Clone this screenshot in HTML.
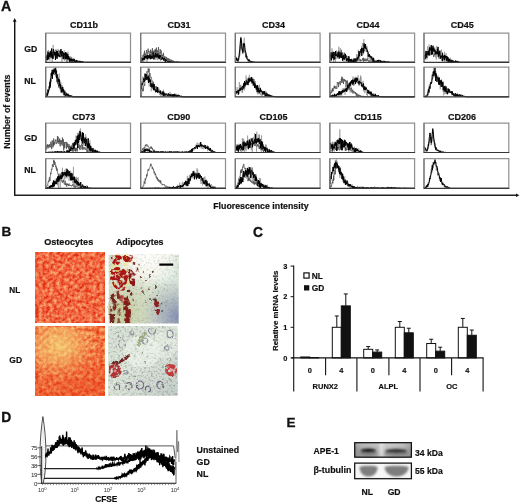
<!DOCTYPE html>
<html><head><meta charset="utf-8"><style>
html,body{margin:0;padding:0;background:#fff;}
svg{display:block;font-family:"Liberation Sans", sans-serif;filter:blur(0.35px);}
</style></head><body>
<svg width="520" height="504" viewBox="0 0 520 504">
<rect width="520" height="504" fill="#fff"/>

<defs>
 <filter id="ostN" x="0" y="0" width="1" height="1" color-interpolation-filters="sRGB">
  <feTurbulence type="fractalNoise" baseFrequency="0.28" numOctaves="3" seed="4"/>
  <feColorMatrix type="matrix" values="1.9 0 0 0 -0.45  1.9 0 0 0 -0.45  1.9 0 0 0 -0.45  0 0 0 0 1"/>
  <feComponentTransfer>
   <feFuncR type="table" tableValues="0.87 0.92 0.95 0.96 0.97"/>
   <feFuncG type="table" tableValues="0.18 0.30 0.41 0.53 0.66"/>
   <feFuncB type="table" tableValues="0.06 0.17 0.26 0.35 0.46"/>
  </feComponentTransfer>
 </filter>
 <filter id="ostG" x="0" y="0" width="1" height="1" color-interpolation-filters="sRGB">
  <feTurbulence type="fractalNoise" baseFrequency="0.28" numOctaves="3" seed="11"/>
  <feColorMatrix type="matrix" values="1.9 0 0 0 -0.45  1.9 0 0 0 -0.45  1.9 0 0 0 -0.45  0 0 0 0 1"/>
  <feComponentTransfer>
   <feFuncR type="table" tableValues="0.89 0.93 0.95 0.96 0.97"/>
   <feFuncG type="table" tableValues="0.24 0.36 0.48 0.60 0.74"/>
   <feFuncB type="table" tableValues="0.08 0.18 0.27 0.36 0.48"/>
  </feComponentTransfer>
 </filter>
 <filter id="grain" x="0" y="0" width="1" height="1" color-interpolation-filters="sRGB">
  <feTurbulence type="fractalNoise" baseFrequency="0.45" numOctaves="2" seed="21"/>
  <feColorMatrix type="matrix" values="0 0 0 0 0.30  0 0 0 0 0.32  0 0 0 0 0.30  1.8 0 0 0 -0.85"/>
 </filter>
 <filter id="rough" x="-20%" y="-20%" width="140%" height="140%">
  <feTurbulence type="fractalNoise" baseFrequency="0.35" numOctaves="2" seed="5"/>
  <feDisplacementMap in="SourceGraphic" scale="3.5" xChannelSelector="R" yChannelSelector="G"/>
 </filter>
 <filter id="mottle2" x="-10%" y="-10%" width="120%" height="120%" color-interpolation-filters="sRGB">
  <feTurbulence type="fractalNoise" baseFrequency="0.35" numOctaves="2" seed="3" result="t"/>
  <feDisplacementMap in="SourceGraphic" in2="t" scale="2.5" xChannelSelector="R" yChannelSelector="G" result="d"/>
  <feTurbulence type="fractalNoise" baseFrequency="0.3" numOctaves="2" seed="27" result="t2"/>
  <feColorMatrix in="t2" type="matrix" values="0 0 0 0 0  0 0 0 0 0  0 0 0 0 0  0 0 5 0 -1.4" result="m"/>
  <feComposite in="d" in2="m" operator="in" result="c"/>
  <feGaussianBlur in="c" stdDeviation="0.45"/>
 </filter>
 <filter id="soft" x="-20%" y="-20%" width="140%" height="140%"><feGaussianBlur stdDeviation="0.6"/></filter>
 <filter id="mottle" x="-10%" y="-10%" width="120%" height="120%" color-interpolation-filters="sRGB">
  <feTurbulence type="fractalNoise" baseFrequency="0.3" numOctaves="2" seed="9" result="t"/>
  <feDisplacementMap in="SourceGraphic" in2="t" scale="3" xChannelSelector="R" yChannelSelector="G" result="d"/>
  <feTurbulence type="fractalNoise" baseFrequency="0.2" numOctaves="2" seed="31" result="t2"/>
  <feColorMatrix in="t2" type="matrix" values="0 0 0 0 0  0 0 0 0 0  0 0 0 0 0  0 0 7 0 -2.6" result="m"/>
  <feComposite in="d" in2="m" operator="in" result="c"/>
  <feGaussianBlur in="c" stdDeviation="0.4"/>
 </filter>
 <radialGradient id="gdYel" cx="0.35" cy="0.28" r="0.55">
  <stop offset="0" stop-color="#f6e080" stop-opacity="0.75"/>
  <stop offset="0.5" stop-color="#f4d078" stop-opacity="0.45"/>
  <stop offset="1" stop-color="#f4c070" stop-opacity="0"/>
 </radialGradient>
 <linearGradient id="gdRed" x1="0" y1="0" x2="0.3" y2="1">
  <stop offset="0.45" stop-color="#e83818" stop-opacity="0"/>
  <stop offset="1" stop-color="#e83818" stop-opacity="0.45"/>
 </linearGradient>
 <linearGradient id="adiN" x1="0" y1="0" x2="0.9" y2="1">
  <stop offset="0" stop-color="#fbf6ea"/>
  <stop offset="0.45" stop-color="#e4e8d8"/>
  <stop offset="0.8" stop-color="#c8d0c4"/>
  <stop offset="1" stop-color="#a0a8c0"/>
 </linearGradient>
 <radialGradient id="adiNw" cx="0.62" cy="0.05" r="0.45">
  <stop offset="0" stop-color="#ffffff" stop-opacity="1"/>
  <stop offset="1" stop-color="#ffffff" stop-opacity="0"/>
 </radialGradient>
 <linearGradient id="adiNb" x1="0.5" y1="0" x2="1" y2="0.3">
  <stop offset="0" stop-color="#9aa6c0" stop-opacity="0"/>
  <stop offset="1" stop-color="#8c9ab8" stop-opacity="0.7"/>
 </linearGradient>
 <linearGradient id="adiG" x1="0" y1="0" x2="1" y2="1">
  <stop offset="0" stop-color="#d8e2d6"/>
  <stop offset="0.5" stop-color="#dde6da"/>
  <stop offset="1" stop-color="#c4ceca"/>
 </linearGradient>
<radialGradient id="nlWhite" cx="0.55" cy="0.0" r="0.5">
  <stop offset="0" stop-color="#ffffff" stop-opacity="1"/>
  <stop offset="0.6" stop-color="#fdfbf4" stop-opacity="0.8"/>
  <stop offset="1" stop-color="#ffffff" stop-opacity="0"/>
 </radialGradient>
 <radialGradient id="nlBlue" cx="1.0" cy="0.9" r="0.55">
  <stop offset="0" stop-color="#8490b4" stop-opacity="1"/>
  <stop offset="1" stop-color="#a0aac0" stop-opacity="0"/>
 </radialGradient>
 <radialGradient id="nlOlive" cx="0.2" cy="0.85" r="0.45">
  <stop offset="0" stop-color="#c0c898" stop-opacity="0.8"/>
  <stop offset="1" stop-color="#c8d0a8" stop-opacity="0"/>
 </radialGradient>
<radialGradient id="nlCyan" cx="0.85" cy="0.3" r="0.4">
  <stop offset="0" stop-color="#e0eee8" stop-opacity="0.9"/>
  <stop offset="1" stop-color="#e0eee8" stop-opacity="0"/>
 </radialGradient>
</defs>

<polyline points="45.70,61.11 45.95,62.23 46.20,58.92 46.45,58.36 46.70,59.38 46.95,58.12 47.20,55.81 47.45,56.36 47.70,56.52 47.95,56.18 48.20,58.42 48.45,54.96 48.70,59.24 48.95,56.80 49.20,56.89 49.45,59.16 49.70,56.10 49.95,52.75 50.20,56.34 50.45,57.87 50.70,55.67 50.95,53.77 51.20,54.93 51.45,55.21 51.70,57.85 51.95,54.02 52.20,53.94 52.45,52.13 52.70,51.71 52.95,53.21 53.20,57.84 53.45,57.33 53.70,56.56 53.95,53.71 54.20,55.96 54.45,51.68 54.70,53.88 54.95,53.66 55.20,52.89 55.45,53.75 55.70,57.34 55.95,49.50 56.20,51.54 56.45,51.44 56.70,56.06 56.95,58.31 57.20,57.63 57.45,56.74 57.70,52.86 57.95,52.84 58.20,51.75 58.45,50.40 58.70,53.67 58.95,54.03 59.20,55.48 59.45,55.45 59.70,57.11 59.95,53.80 60.20,54.21 60.45,55.67 60.70,56.49 60.95,54.00 61.20,52.35 61.45,54.79 61.70,54.41 61.95,56.07 62.20,55.50 62.45,55.65 62.70,55.61 62.95,56.24 63.20,54.32 63.45,52.58 63.70,56.98 63.95,52.43 64.20,55.96 64.45,55.91 64.70,59.39 64.95,59.92 65.20,53.84 65.45,57.38 65.70,53.75 65.95,55.40 66.20,55.23 66.45,53.45 66.70,56.23 66.95,62.12 67.20,59.55 67.45,55.03 67.70,53.53 67.95,57.26 68.20,58.44 68.45,59.72 68.70,56.85 68.95,60.64 69.20,59.96 69.45,58.10 69.70,58.36 69.95,59.06 70.20,57.47 70.45,60.72 70.70,60.80 70.95,59.92 71.20,59.42 71.45,60.00 71.70,57.36 71.95,60.49 72.20,59.18 72.45,60.65 72.70,59.75 72.95,60.67 73.20,60.70 73.45,58.77 73.70,60.83 73.95,58.97 74.20,61.38 74.45,61.22 74.70,59.95 74.95,62.30 75.20,62.30 75.45,61.19 75.70,60.95 75.95,60.93 76.20,61.61 76.45,62.30 76.70,60.91 76.95,61.22 77.20,62.27 77.45,61.54 77.70,60.55 77.95,61.60 78.20,62.30 78.45,61.99 78.70,61.99 78.95,61.67 79.20,61.45 79.45,62.30 79.70,62.25 79.95,61.60 80.20,61.78 80.45,61.64 80.70,62.30 80.95,62.30 81.20,62.00 81.45,62.30 81.70,62.30 81.95,62.30 82.20,62.30 82.45,62.30 82.70,62.30 82.95,62.30 83.20,62.30 83.45,62.30 83.70,62.30 83.95,62.30 84.20,62.30 84.45,62.30 84.70,62.30 84.95,62.30 85.20,62.30 85.45,62.30 85.70,62.30 85.95,62.30 86.20,62.30 86.45,62.30 86.70,62.30 86.95,62.30 87.20,62.30 87.45,62.30 87.70,62.30 87.95,62.30 88.20,62.30 88.45,62.30 88.70,62.30 88.95,62.30 89.20,62.30 89.45,62.30 89.70,62.30 89.95,62.30 90.20,62.30 90.45,62.30 90.70,62.30 90.95,62.30 91.20,62.30 91.45,62.30 91.70,62.30 91.95,62.30 92.20,62.30 92.45,62.30 92.70,62.30 92.95,62.30 93.20,62.30 93.45,62.30 93.70,62.30 93.95,62.30 94.20,62.30 94.45,62.30 94.70,62.30 94.95,62.30 95.20,62.30 95.45,62.30 95.70,62.30 95.95,62.30 96.20,62.30 96.45,62.30 96.70,62.30 96.95,62.30 97.20,62.30 97.45,62.30 97.70,62.30 97.95,62.30 98.20,62.30 98.45,62.30 98.70,62.30 98.95,62.30 99.20,62.30 99.45,62.30 99.70,62.30 99.95,62.30 100.20,62.30 100.45,62.30 100.70,62.30 100.95,62.30 101.20,62.30 101.45,62.30 101.70,62.30 101.95,62.30 102.20,62.30 102.45,62.30 102.70,62.30 102.95,62.30 103.20,62.30 103.45,62.30 103.70,62.30 103.95,62.30 104.20,62.30 104.45,62.30 104.70,62.30 104.95,62.30 105.20,62.30 105.45,62.30 105.70,62.30 105.95,62.30 106.20,62.30 106.45,62.30 106.70,62.30 106.95,62.30 107.20,62.30 107.45,62.30 107.70,62.30 107.95,62.30 108.20,62.30 108.45,62.30 108.70,62.30 108.95,62.30 109.20,62.30 109.45,62.30 109.70,62.30 109.95,62.30 110.20,62.30 110.45,62.30 110.70,62.30 110.95,62.30 111.20,62.30 111.45,62.30 111.70,62.30 111.95,62.30 112.20,62.30 112.45,62.30 112.70,62.30 112.95,62.30 113.20,62.30 113.45,62.30 113.70,62.30 113.95,62.30 114.20,62.30 114.45,62.30 114.70,62.30 114.95,62.30 115.20,62.30 115.45,62.30 115.70,62.30 115.95,62.30 116.20,62.30 116.45,62.30 116.70,62.30 116.95,62.30 117.20,62.30 117.45,62.30 117.70,62.30 117.95,62.30 118.20,62.30 118.45,62.30 118.70,62.30 118.95,62.30 119.20,62.30 119.45,62.30 119.70,62.30 119.95,62.30 120.20,62.30 120.45,62.30 120.70,62.30 120.95,62.30 121.20,62.30 121.45,62.30 121.70,62.30 121.95,62.30 122.20,62.30 122.45,62.30 122.70,62.30 122.95,62.30 123.20,62.30 123.45,62.30 123.70,62.30 123.95,62.30 124.20,62.30 124.45,62.30 124.70,62.30 124.95,62.30 125.20,62.30 125.45,62.30 125.70,62.30 125.95,62.30 126.20,62.30 126.45,62.30 126.70,62.30 126.95,62.30 127.20,62.30 127.45,62.30 127.70,62.30 127.95,62.30 128.20,62.30 128.45,62.30 128.70,62.30 128.95,62.30 129.20,62.30 129.45,62.30 129.70,62.30 129.95,62.30 130.20,62.30 130.45,62.30" fill="none" stroke="#4a4a4a" stroke-width="0.75" stroke-linejoin="miter"/>
<polyline points="45.70,58.48 45.95,59.28 46.20,61.65 46.45,55.84 46.70,57.18 46.95,58.38 47.20,55.16 47.45,57.06 47.70,50.88 47.95,59.48 48.20,53.21 48.45,49.94 48.70,54.32 48.95,55.34 49.20,55.03 49.45,52.46 49.70,58.66 49.95,60.73 50.20,50.77 50.45,52.59 50.70,58.02 50.95,50.28 51.20,50.86 51.45,51.36 51.70,54.05 51.95,54.76 52.20,62.30 52.45,53.93 52.70,57.66 52.95,51.21 53.20,44.90 53.45,58.50 53.70,52.58 53.95,53.62 54.20,54.75 54.45,53.80 54.70,53.36 54.95,53.38 55.20,57.02 55.45,57.94 55.70,54.28 55.95,51.06 56.20,55.21 56.45,53.17 56.70,51.80 56.95,53.93 57.20,55.22 57.45,54.63 57.70,53.75 57.95,49.15 58.20,49.55 58.45,50.29 58.70,57.32 58.95,53.49 59.20,50.31 59.45,55.10 59.70,57.01 59.95,52.95 60.20,50.83 60.45,54.23 60.70,57.72 60.95,53.06 61.20,50.18 61.45,54.88 61.70,55.15 61.95,62.30 62.20,52.43 62.45,51.28 62.70,51.88 62.95,53.19 63.20,54.12 63.45,54.39 63.70,52.19 63.95,58.86 64.20,50.37 64.45,56.80 64.70,60.80 64.95,55.56 65.20,59.85 65.45,58.39 65.70,59.37 65.95,56.69 66.20,53.06 66.45,58.24 66.70,58.34 66.95,57.27 67.20,56.62 67.45,59.72 67.70,55.59 67.95,51.59 68.20,55.70 68.45,58.43 68.70,55.67 68.95,57.91 69.20,59.81 69.45,61.94 69.70,60.86 69.95,58.24 70.20,57.76 70.45,57.22 70.70,56.27 70.95,61.68 71.20,57.29 71.45,62.30 71.70,60.70 71.95,62.08 72.20,60.80 72.45,62.30 72.70,61.25 72.95,60.16 73.20,58.86 73.45,60.40 73.70,59.03 73.95,59.60 74.20,60.36 74.45,60.87 74.70,59.76 74.95,59.97 75.20,59.88 75.45,60.30 75.70,62.30 75.95,62.30 76.20,62.30 76.45,59.90 76.70,61.45 76.95,62.30 77.20,61.61 77.45,62.11 77.70,60.48 77.95,60.37 78.20,60.32 78.45,62.30 78.70,62.30 78.95,61.20 79.20,62.30 79.45,60.60 79.70,61.08 79.95,62.30 80.20,62.21 80.45,61.36 80.70,62.30 80.95,61.66 81.20,61.50 81.45,61.59 81.70,61.99 81.95,62.30 82.20,62.23 82.45,62.30 82.70,62.30 82.95,61.56 83.20,62.30 83.45,62.16 83.70,61.98 83.95,62.15 84.20,62.04 84.45,62.30 84.70,62.30 84.95,62.08 85.20,62.30 85.45,62.24 85.70,62.30 85.95,62.30 86.20,62.30 86.45,62.30 86.70,62.30 86.95,62.30 87.20,62.30 87.45,62.30 87.70,62.30 87.95,62.30 88.20,62.30 88.45,62.30 88.70,62.30 88.95,62.30 89.20,62.30 89.45,62.30 89.70,62.30 89.95,62.30 90.20,62.30 90.45,62.30 90.70,62.30 90.95,62.30 91.20,62.30 91.45,62.30 91.70,62.30 91.95,62.30 92.20,62.30 92.45,62.30 92.70,62.30 92.95,62.30 93.20,62.30 93.45,62.30 93.70,62.30 93.95,62.30 94.20,62.30 94.45,62.30 94.70,62.30 94.95,62.30 95.20,62.30 95.45,62.30 95.70,62.30 95.95,62.30 96.20,62.30 96.45,62.30 96.70,62.30 96.95,62.30 97.20,62.30 97.45,62.30 97.70,62.30 97.95,62.30 98.20,62.30 98.45,62.30 98.70,62.30 98.95,62.30 99.20,62.30 99.45,62.30 99.70,62.30 99.95,62.30 100.20,62.30 100.45,62.30 100.70,62.30 100.95,62.30 101.20,62.30 101.45,62.30 101.70,62.30 101.95,62.30 102.20,62.30 102.45,62.30 102.70,62.30 102.95,62.30 103.20,62.30 103.45,62.30 103.70,62.30 103.95,62.30 104.20,62.30 104.45,62.30 104.70,62.30 104.95,62.30 105.20,62.30 105.45,62.30 105.70,62.30 105.95,62.30 106.20,62.30 106.45,62.30 106.70,62.30 106.95,62.30 107.20,62.30 107.45,62.30 107.70,62.30 107.95,62.30 108.20,62.30 108.45,62.30 108.70,62.30 108.95,62.30 109.20,62.30 109.45,62.30 109.70,62.30 109.95,62.30 110.20,62.30 110.45,62.30 110.70,62.30 110.95,62.30 111.20,62.30 111.45,62.30 111.70,62.30 111.95,62.30 112.20,62.30 112.45,62.30 112.70,62.30 112.95,62.30 113.20,62.30 113.45,62.30 113.70,62.30 113.95,62.30 114.20,62.30 114.45,62.30 114.70,62.30 114.95,62.30 115.20,62.30 115.45,62.30 115.70,62.30 115.95,62.30 116.20,62.30 116.45,62.30 116.70,62.30 116.95,62.30 117.20,62.30 117.45,62.30 117.70,62.30 117.95,62.30 118.20,62.30 118.45,62.30 118.70,62.30 118.95,62.30 119.20,62.30 119.45,62.30 119.70,62.30 119.95,62.30 120.20,62.30 120.45,62.30 120.70,62.30 120.95,62.30 121.20,62.30 121.45,62.30 121.70,62.30 121.95,62.30 122.20,62.30 122.45,62.30 122.70,62.30 122.95,62.30 123.20,62.30 123.45,62.30 123.70,62.30 123.95,62.30 124.20,62.30 124.45,62.30 124.70,62.30 124.95,62.30 125.20,62.30 125.45,62.30 125.70,62.30 125.95,62.30 126.20,62.30 126.45,62.30 126.70,62.30 126.95,62.30 127.20,62.30 127.45,62.30 127.70,62.30 127.95,62.30 128.20,62.30 128.45,62.30 128.70,62.30 128.95,62.30 129.20,62.30 129.45,62.30 129.70,62.30 129.95,62.30 130.20,62.30 130.45,62.30" fill="none" stroke="#8a8a8a" stroke-width="0.6"/>
<polyline points="45.70,58.41 45.95,55.66 46.20,57.03 46.45,59.98 46.70,58.84 46.95,55.86 47.20,57.13 47.45,54.35 47.70,60.21 47.95,51.82 48.20,52.07 48.45,58.84 48.70,56.26 48.95,56.76 49.20,56.10 49.45,52.94 49.70,56.05 49.95,56.80 50.20,52.91 50.45,51.23 50.70,55.20 50.95,53.41 51.20,57.45 51.45,51.62 51.70,48.47 51.95,52.43 52.20,53.96 52.45,58.70 52.70,54.48 52.95,58.68 53.20,51.70 53.45,49.16 53.70,50.06 53.95,53.04 54.20,52.18 54.45,55.05 54.70,52.74 54.95,52.69 55.20,53.25 55.45,59.94 55.70,52.48 55.95,52.01 56.20,55.10 56.45,52.10 56.70,51.15 56.95,58.70 57.20,50.94 57.45,54.58 57.70,56.27 57.95,52.98 58.20,55.41 58.45,54.63 58.70,56.02 58.95,55.18 59.20,56.55 59.45,54.97 59.70,56.24 59.95,56.90 60.20,50.72 60.45,53.35 60.70,52.33 60.95,49.09 61.20,51.85 61.45,53.57 61.70,56.43 61.95,51.76 62.20,52.63 62.45,51.33 62.70,54.27 62.95,54.94 63.20,59.22 63.45,52.84 63.70,58.01 63.95,55.56 64.20,53.28 64.45,54.38 64.70,54.85 64.95,53.65 65.20,58.96 65.45,54.74 65.70,52.00 65.95,52.53 66.20,58.81 66.45,53.59 66.70,54.98 66.95,58.27 67.20,59.26 67.45,56.98 67.70,54.15 67.95,56.23 68.20,59.22 68.45,57.47 68.70,56.02 68.95,58.32 69.20,59.19 69.45,57.89 69.70,62.22 69.95,58.34 70.20,61.24 70.45,59.40 70.70,58.86 70.95,59.72 71.20,60.70 71.45,60.29 71.70,58.79 71.95,61.78 72.20,61.28 72.45,59.86 72.70,59.42 72.95,60.52 73.20,61.22 73.45,59.98 73.70,61.27 73.95,58.81 74.20,59.62 74.45,59.14 74.70,61.98 74.95,61.56 75.20,61.41 75.45,62.30 75.70,61.72 75.95,60.47 76.20,62.21 76.45,61.64 76.70,60.23 76.95,61.25 77.20,61.15 77.45,61.57 77.70,62.08 77.95,61.93 78.20,61.56 78.45,62.15 78.70,61.80 78.95,62.11 79.20,61.91 79.45,60.99 79.70,61.55 79.95,62.30 80.20,62.03 80.45,60.99 80.70,61.04 80.95,62.30 81.20,61.78 81.45,62.01 81.70,62.30 81.95,61.92 82.20,61.22 82.45,62.30 82.70,62.22 82.95,61.76 83.20,62.30 83.45,62.30 83.70,62.08 83.95,62.30 84.20,62.06 84.45,62.30 84.70,62.22 84.95,62.09 85.20,62.00 85.45,62.30 85.70,62.30 85.95,62.30 86.20,62.30 86.45,62.30 86.70,62.30 86.95,62.30 87.20,62.30 87.45,62.30 87.70,62.30 87.95,62.30 88.20,62.30 88.45,62.30 88.70,62.30 88.95,62.30 89.20,62.30 89.45,62.30 89.70,62.30 89.95,62.30 90.20,62.30 90.45,62.30 90.70,62.30 90.95,62.30 91.20,62.30 91.45,62.30 91.70,62.30 91.95,62.30 92.20,62.30 92.45,62.30 92.70,62.30 92.95,62.30 93.20,62.30 93.45,62.30 93.70,62.30 93.95,62.30 94.20,62.30 94.45,62.30 94.70,62.30 94.95,62.30 95.20,62.30 95.45,62.30 95.70,62.30 95.95,62.30 96.20,62.30 96.45,62.30 96.70,62.30 96.95,62.30 97.20,62.30 97.45,62.30 97.70,62.30 97.95,62.30 98.20,62.30 98.45,62.30 98.70,62.30 98.95,62.30 99.20,62.30 99.45,62.30 99.70,62.30 99.95,62.30 100.20,62.30 100.45,62.30 100.70,62.30 100.95,62.30 101.20,62.30 101.45,62.30 101.70,62.30 101.95,62.30 102.20,62.30 102.45,62.30 102.70,62.30 102.95,62.30 103.20,62.30 103.45,62.30 103.70,62.30 103.95,62.30 104.20,62.30 104.45,62.30 104.70,62.30 104.95,62.30 105.20,62.30 105.45,62.30 105.70,62.30 105.95,62.30 106.20,62.30 106.45,62.30 106.70,62.30 106.95,62.30 107.20,62.30 107.45,62.30 107.70,62.30 107.95,62.30 108.20,62.30 108.45,62.30 108.70,62.30 108.95,62.30 109.20,62.30 109.45,62.30 109.70,62.30 109.95,62.30 110.20,62.30 110.45,62.30 110.70,62.30 110.95,62.30 111.20,62.30 111.45,62.30 111.70,62.30 111.95,62.30 112.20,62.30 112.45,62.30 112.70,62.30 112.95,62.30 113.20,62.30 113.45,62.30 113.70,62.30 113.95,62.30 114.20,62.30 114.45,62.30 114.70,62.30 114.95,62.30 115.20,62.30 115.45,62.30 115.70,62.30 115.95,62.30 116.20,62.30 116.45,62.30 116.70,62.30 116.95,62.30 117.20,62.30 117.45,62.30 117.70,62.30 117.95,62.30 118.20,62.30 118.45,62.30 118.70,62.30 118.95,62.30 119.20,62.30 119.45,62.30 119.70,62.30 119.95,62.30 120.20,62.30 120.45,62.30 120.70,62.30 120.95,62.30 121.20,62.30 121.45,62.30 121.70,62.30 121.95,62.30 122.20,62.30 122.45,62.30 122.70,62.30 122.95,62.30 123.20,62.30 123.45,62.30 123.70,62.30 123.95,62.30 124.20,62.30 124.45,62.30 124.70,62.30 124.95,62.30 125.20,62.30 125.45,62.30 125.70,62.30 125.95,62.30 126.20,62.30 126.45,62.30 126.70,62.30 126.95,62.30 127.20,62.30 127.45,62.30 127.70,62.30 127.95,62.30 128.20,62.30 128.45,62.30 128.70,62.30 128.95,62.30 129.20,62.30 129.45,62.30 129.70,62.30 129.95,62.30 130.20,62.30 130.45,62.30" fill="none" stroke="#000" stroke-width="1.0" stroke-linejoin="miter"/>
<path d="M45.7,62.3 V33.0 H130.5 V62.3" fill="none" stroke="#929292" stroke-width="1.25"/>
<line x1="45.7" y1="33.0" x2="45.7" y2="62.3" stroke="#707070" stroke-width="1.1"/>
<line x1="45.2" y1="62.3" x2="131.0" y2="62.3" stroke="#383838" stroke-width="1.15"/>
<polyline points="140.70,59.12 140.95,61.39 141.20,58.64 141.45,60.69 141.70,57.08 141.95,60.60 142.20,58.94 142.45,58.40 142.70,60.66 142.95,55.00 143.20,59.06 143.45,58.26 143.70,56.43 143.95,53.64 144.20,56.67 144.45,50.73 144.70,54.75 144.95,55.16 145.20,53.44 145.45,54.53 145.70,56.40 145.95,55.16 146.20,53.43 146.45,50.13 146.70,52.91 146.95,52.27 147.20,58.32 147.45,53.67 147.70,52.96 147.95,48.62 148.20,48.83 148.45,52.17 148.70,51.03 148.95,52.47 149.20,54.05 149.45,52.26 149.70,53.21 149.95,51.53 150.20,50.66 150.45,52.78 150.70,49.63 150.95,55.01 151.20,52.27 151.45,51.82 151.70,56.71 151.95,50.80 152.20,50.58 152.45,48.17 152.70,52.41 152.95,50.84 153.20,50.73 153.45,56.22 153.70,51.58 153.95,55.76 154.20,51.60 154.45,50.55 154.70,51.64 154.95,57.26 155.20,48.88 155.45,51.70 155.70,50.08 155.95,54.14 156.20,53.47 156.45,47.65 156.70,53.09 156.95,53.68 157.20,53.59 157.45,50.40 157.70,56.48 157.95,53.58 158.20,54.95 158.45,47.09 158.70,50.44 158.95,52.77 159.20,52.51 159.45,53.61 159.70,54.14 159.95,53.55 160.20,49.15 160.45,53.92 160.70,53.91 160.95,52.85 161.20,50.51 161.45,52.99 161.70,56.58 161.95,54.41 162.20,54.74 162.45,57.75 162.70,56.79 162.95,54.86 163.20,56.63 163.45,52.85 163.70,55.63 163.95,57.38 164.20,56.92 164.45,58.62 164.70,58.41 164.95,56.18 165.20,57.77 165.45,60.92 165.70,60.14 165.95,57.33 166.20,60.12 166.45,59.05 166.70,57.22 166.95,59.28 167.20,59.53 167.45,59.86 167.70,58.18 167.95,60.56 168.20,61.34 168.45,59.99 168.70,58.51 168.95,59.94 169.20,58.77 169.45,59.19 169.70,61.63 169.95,60.50 170.20,60.73 170.45,60.68 170.70,59.61 170.95,59.53 171.20,60.22 171.45,59.88 171.70,61.51 171.95,60.38 172.20,61.98 172.45,61.46 172.70,62.20 172.95,60.41 173.20,61.68 173.45,60.91 173.70,62.30 173.95,61.42 174.20,61.13 174.45,61.63 174.70,61.65 174.95,61.69 175.20,61.82 175.45,62.00 175.70,62.25 175.95,61.36 176.20,61.87 176.45,61.87 176.70,61.78 176.95,62.30 177.20,62.30 177.45,62.30 177.70,61.33 177.95,62.13 178.20,61.81 178.45,62.30 178.70,62.22 178.95,62.10 179.20,62.30 179.45,61.90 179.70,62.27 179.95,62.23 180.20,62.07 180.45,62.09 180.70,62.30 180.95,62.30 181.20,62.30 181.45,62.30 181.70,62.30 181.95,62.30 182.20,62.30 182.45,62.30 182.70,62.30 182.95,62.30 183.20,62.30 183.45,62.30 183.70,62.30 183.95,62.30 184.20,62.30 184.45,62.30 184.70,62.30 184.95,62.30 185.20,62.30 185.45,62.30 185.70,62.30 185.95,62.30 186.20,62.30 186.45,62.30 186.70,62.30 186.95,62.30 187.20,62.30 187.45,62.30 187.70,62.30 187.95,62.30 188.20,62.30 188.45,62.30 188.70,62.30 188.95,62.30 189.20,62.30 189.45,62.30 189.70,62.30 189.95,62.30 190.20,62.30 190.45,62.30 190.70,62.30 190.95,62.30 191.20,62.30 191.45,62.30 191.70,62.30 191.95,62.30 192.20,62.30 192.45,62.30 192.70,62.30 192.95,62.30 193.20,62.30 193.45,62.30 193.70,62.30 193.95,62.30 194.20,62.30 194.45,62.30 194.70,62.30 194.95,62.30 195.20,62.30 195.45,62.30 195.70,62.30 195.95,62.30 196.20,62.30 196.45,62.30 196.70,62.30 196.95,62.30 197.20,62.30 197.45,62.30 197.70,62.30 197.95,62.30 198.20,62.30 198.45,62.30 198.70,62.30 198.95,62.30 199.20,62.30 199.45,62.30 199.70,62.30 199.95,62.30 200.20,62.30 200.45,62.30 200.70,62.30 200.95,62.30 201.20,62.30 201.45,62.30 201.70,62.30 201.95,62.30 202.20,62.30 202.45,62.30 202.70,62.30 202.95,62.30 203.20,62.30 203.45,62.30 203.70,62.30 203.95,62.30 204.20,62.30 204.45,62.30 204.70,62.30 204.95,62.30 205.20,62.30 205.45,62.30 205.70,62.30 205.95,62.30 206.20,62.30 206.45,62.30 206.70,62.30 206.95,62.30 207.20,62.30 207.45,62.30 207.70,62.30 207.95,62.30 208.20,62.30 208.45,62.30 208.70,62.30 208.95,62.30 209.20,62.30 209.45,62.30 209.70,62.30 209.95,62.30 210.20,62.30 210.45,62.30 210.70,62.30 210.95,62.30 211.20,62.30 211.45,62.30 211.70,62.30 211.95,62.30 212.20,62.30 212.45,62.30 212.70,62.30 212.95,62.30 213.20,62.30 213.45,62.30 213.70,62.30 213.95,62.30 214.20,62.30 214.45,62.30 214.70,62.30 214.95,62.30 215.20,62.30 215.45,62.30 215.70,62.30 215.95,62.30 216.20,62.30 216.45,62.30 216.70,62.30 216.95,62.30 217.20,62.30 217.45,62.30 217.70,62.30 217.95,62.30 218.20,62.30 218.45,62.30 218.70,62.30 218.95,62.30 219.20,62.30 219.45,62.30 219.70,62.30 219.95,62.30 220.20,62.30 220.45,62.30 220.70,62.30 220.95,62.30 221.20,62.30 221.45,62.30 221.70,62.30 221.95,62.30 222.20,62.30 222.45,62.30 222.70,62.30 222.95,62.30 223.20,62.30 223.45,62.30 223.70,62.30 223.95,62.30 224.20,62.30 224.45,62.30 224.70,62.30 224.95,62.30 225.20,62.30 225.45,62.30" fill="none" stroke="#4a4a4a" stroke-width="0.75" stroke-linejoin="miter"/>
<polyline points="140.70,62.30 140.95,61.04 141.20,60.83 141.45,57.48 141.70,60.35 141.95,61.42 142.20,57.72 142.45,61.66 142.70,62.21 142.95,58.39 143.20,57.67 143.45,59.30 143.70,62.30 143.95,60.84 144.20,57.39 144.45,57.50 144.70,58.12 144.95,60.25 145.20,59.87 145.45,58.27 145.70,57.17 145.95,55.51 146.20,55.06 146.45,58.83 146.70,57.70 146.95,62.08 147.20,60.28 147.45,59.36 147.70,57.42 147.95,56.99 148.20,55.46 148.45,54.80 148.70,58.82 148.95,57.76 149.20,58.90 149.45,56.51 149.70,52.07 149.95,56.83 150.20,57.54 150.45,59.73 150.70,57.61 150.95,58.33 151.20,55.73 151.45,59.10 151.70,58.69 151.95,53.72 152.20,53.12 152.45,52.83 152.70,57.52 152.95,58.18 153.20,55.25 153.45,53.51 153.70,54.35 153.95,57.62 154.20,52.95 154.45,55.47 154.70,58.46 154.95,58.50 155.20,56.27 155.45,58.75 155.70,55.93 155.95,59.73 156.20,56.08 156.45,57.83 156.70,57.46 156.95,53.17 157.20,53.53 157.45,60.23 157.70,56.65 157.95,51.95 158.20,59.27 158.45,59.15 158.70,58.27 158.95,54.04 159.20,53.91 159.45,57.62 159.70,59.41 159.95,58.31 160.20,53.33 160.45,60.88 160.70,57.49 160.95,57.77 161.20,58.11 161.45,59.89 161.70,55.98 161.95,57.19 162.20,56.60 162.45,57.43 162.70,58.40 162.95,59.85 163.20,55.92 163.45,59.58 163.70,57.61 163.95,58.62 164.20,60.79 164.45,57.99 164.70,59.43 164.95,60.66 165.20,62.01 165.45,59.10 165.70,56.57 165.95,59.84 166.20,61.67 166.45,60.91 166.70,61.60 166.95,60.66 167.20,60.61 167.45,62.30 167.70,62.30 167.95,60.99 168.20,62.30 168.45,62.12 168.70,61.82 168.95,62.14 169.20,60.11 169.45,61.02 169.70,62.30 169.95,60.73 170.20,61.62 170.45,62.30 170.70,62.30 170.95,62.30 171.20,62.30 171.45,62.30 171.70,61.94 171.95,61.85 172.20,62.27 172.45,61.88 172.70,62.30 172.95,62.30 173.20,62.30 173.45,62.30 173.70,62.30 173.95,62.30 174.20,62.30 174.45,62.30 174.70,62.30 174.95,62.30 175.20,62.30 175.45,62.30 175.70,62.30 175.95,62.30 176.20,62.30 176.45,62.30 176.70,62.30 176.95,62.30 177.20,62.30 177.45,62.30 177.70,62.30 177.95,62.30 178.20,62.30 178.45,62.30 178.70,62.30 178.95,62.30 179.20,62.30 179.45,62.30 179.70,62.30 179.95,62.30 180.20,62.30 180.45,62.30 180.70,62.30 180.95,62.30 181.20,62.30 181.45,62.30 181.70,62.30 181.95,62.30 182.20,62.30 182.45,62.30 182.70,62.30 182.95,62.30 183.20,62.30 183.45,62.30 183.70,62.30 183.95,62.30 184.20,62.30 184.45,62.30 184.70,62.30 184.95,62.30 185.20,62.30 185.45,62.30 185.70,62.30 185.95,62.30 186.20,62.30 186.45,62.30 186.70,62.30 186.95,62.30 187.20,62.30 187.45,62.30 187.70,62.30 187.95,62.30 188.20,62.30 188.45,62.30 188.70,62.30 188.95,62.30 189.20,62.30 189.45,62.30 189.70,62.30 189.95,62.30 190.20,62.30 190.45,62.30 190.70,62.30 190.95,62.30 191.20,62.30 191.45,62.30 191.70,62.30 191.95,62.30 192.20,62.30 192.45,62.30 192.70,62.30 192.95,62.30 193.20,62.30 193.45,62.30 193.70,62.30 193.95,62.30 194.20,62.30 194.45,62.30 194.70,62.30 194.95,62.30 195.20,62.30 195.45,62.30 195.70,62.30 195.95,62.30 196.20,62.30 196.45,62.30 196.70,62.30 196.95,62.30 197.20,62.30 197.45,62.30 197.70,62.30 197.95,62.30 198.20,62.30 198.45,62.30 198.70,62.30 198.95,62.30 199.20,62.30 199.45,62.30 199.70,62.30 199.95,62.30 200.20,62.30 200.45,62.30 200.70,62.30 200.95,62.30 201.20,62.30 201.45,62.30 201.70,62.30 201.95,62.30 202.20,62.30 202.45,62.30 202.70,62.30 202.95,62.30 203.20,62.30 203.45,62.30 203.70,62.30 203.95,62.30 204.20,62.30 204.45,62.30 204.70,62.30 204.95,62.30 205.20,62.30 205.45,62.30 205.70,62.30 205.95,62.30 206.20,62.30 206.45,62.30 206.70,62.30 206.95,62.30 207.20,62.30 207.45,62.30 207.70,62.30 207.95,62.30 208.20,62.30 208.45,62.30 208.70,62.30 208.95,62.30 209.20,62.30 209.45,62.30 209.70,62.30 209.95,62.30 210.20,62.30 210.45,62.30 210.70,62.30 210.95,62.30 211.20,62.30 211.45,62.30 211.70,62.30 211.95,62.30 212.20,62.30 212.45,62.30 212.70,62.30 212.95,62.30 213.20,62.30 213.45,62.30 213.70,62.30 213.95,62.30 214.20,62.30 214.45,62.30 214.70,62.30 214.95,62.30 215.20,62.30 215.45,62.30 215.70,62.30 215.95,62.30 216.20,62.30 216.45,62.30 216.70,62.30 216.95,62.30 217.20,62.30 217.45,62.30 217.70,62.30 217.95,62.30 218.20,62.30 218.45,62.30 218.70,62.30 218.95,62.30 219.20,62.30 219.45,62.30 219.70,62.30 219.95,62.30 220.20,62.30 220.45,62.30 220.70,62.30 220.95,62.30 221.20,62.30 221.45,62.30 221.70,62.30 221.95,62.30 222.20,62.30 222.45,62.30 222.70,62.30 222.95,62.30 223.20,62.30 223.45,62.30 223.70,62.30 223.95,62.30 224.20,62.30 224.45,62.30 224.70,62.30 224.95,62.30 225.20,62.30 225.45,62.30" fill="none" stroke="#8a8a8a" stroke-width="0.6"/>
<polyline points="140.70,60.94 140.95,60.73 141.20,61.39 141.45,60.75 141.70,60.55 141.95,60.31 142.20,58.16 142.45,60.26 142.70,60.09 142.95,60.09 143.20,58.31 143.45,59.69 143.70,59.15 143.95,57.83 144.20,57.76 144.45,59.69 144.70,56.00 144.95,57.86 145.20,56.91 145.45,57.62 145.70,55.71 145.95,58.35 146.20,58.63 146.45,57.16 146.70,55.73 146.95,57.56 147.20,56.20 147.45,55.18 147.70,59.29 147.95,55.23 148.20,55.47 148.45,57.73 148.70,57.02 148.95,57.55 149.20,55.54 149.45,57.62 149.70,55.63 149.95,54.40 150.20,59.11 150.45,55.68 150.70,56.38 150.95,57.03 151.20,55.57 151.45,56.46 151.70,58.67 151.95,57.20 152.20,56.31 152.45,57.44 152.70,58.36 152.95,52.44 153.20,54.03 153.45,54.26 153.70,56.11 153.95,59.50 154.20,56.73 154.45,55.45 154.70,56.99 154.95,57.20 155.20,55.75 155.45,52.97 155.70,55.78 155.95,56.05 156.20,57.36 156.45,53.85 156.70,55.66 156.95,56.31 157.20,56.78 157.45,57.26 157.70,56.08 157.95,53.41 158.20,56.46 158.45,55.83 158.70,57.82 158.95,56.33 159.20,58.93 159.45,54.87 159.70,57.77 159.95,56.39 160.20,56.99 160.45,55.27 160.70,56.52 160.95,56.56 161.20,59.67 161.45,59.07 161.70,59.19 161.95,59.19 162.20,59.12 162.45,56.96 162.70,58.29 162.95,58.36 163.20,59.66 163.45,59.81 163.70,60.44 163.95,57.79 164.20,59.04 164.45,58.54 164.70,59.23 164.95,60.57 165.20,59.85 165.45,62.02 165.70,59.42 165.95,60.21 166.20,60.20 166.45,60.45 166.70,60.21 166.95,61.03 167.20,60.98 167.45,61.61 167.70,61.46 167.95,61.15 168.20,60.85 168.45,61.67 168.70,62.30 168.95,62.30 169.20,61.74 169.45,62.03 169.70,61.41 169.95,60.99 170.20,62.15 170.45,61.29 170.70,61.41 170.95,62.30 171.20,62.16 171.45,61.82 171.70,62.30 171.95,62.30 172.20,62.04 172.45,62.30 172.70,62.30 172.95,62.30 173.20,62.30 173.45,62.30 173.70,62.30 173.95,62.30 174.20,62.30 174.45,62.30 174.70,62.30 174.95,62.30 175.20,62.30 175.45,62.30 175.70,62.30 175.95,62.30 176.20,62.30 176.45,62.30 176.70,62.30 176.95,62.30 177.20,62.30 177.45,62.30 177.70,62.30 177.95,62.30 178.20,62.30 178.45,62.30 178.70,62.30 178.95,62.30 179.20,62.30 179.45,62.30 179.70,62.30 179.95,62.30 180.20,62.30 180.45,62.30 180.70,62.30 180.95,62.30 181.20,62.30 181.45,62.30 181.70,62.30 181.95,62.30 182.20,62.30 182.45,62.30 182.70,62.30 182.95,62.30 183.20,62.30 183.45,62.30 183.70,62.30 183.95,62.30 184.20,62.30 184.45,62.30 184.70,62.30 184.95,62.30 185.20,62.30 185.45,62.30 185.70,62.30 185.95,62.30 186.20,62.30 186.45,62.30 186.70,62.30 186.95,62.30 187.20,62.30 187.45,62.30 187.70,62.30 187.95,62.30 188.20,62.30 188.45,62.30 188.70,62.30 188.95,62.30 189.20,62.30 189.45,62.30 189.70,62.30 189.95,62.30 190.20,62.30 190.45,62.30 190.70,62.30 190.95,62.30 191.20,62.30 191.45,62.30 191.70,62.30 191.95,62.30 192.20,62.30 192.45,62.30 192.70,62.30 192.95,62.30 193.20,62.30 193.45,62.30 193.70,62.30 193.95,62.30 194.20,62.30 194.45,62.30 194.70,62.30 194.95,62.30 195.20,62.30 195.45,62.30 195.70,62.30 195.95,62.30 196.20,62.30 196.45,62.30 196.70,62.30 196.95,62.30 197.20,62.30 197.45,62.30 197.70,62.30 197.95,62.30 198.20,62.30 198.45,62.30 198.70,62.30 198.95,62.30 199.20,62.30 199.45,62.30 199.70,62.30 199.95,62.30 200.20,62.30 200.45,62.30 200.70,62.30 200.95,62.30 201.20,62.30 201.45,62.30 201.70,62.30 201.95,62.30 202.20,62.30 202.45,62.30 202.70,62.30 202.95,62.30 203.20,62.30 203.45,62.30 203.70,62.30 203.95,62.30 204.20,62.30 204.45,62.30 204.70,62.30 204.95,62.30 205.20,62.30 205.45,62.30 205.70,62.30 205.95,62.30 206.20,62.30 206.45,62.30 206.70,62.30 206.95,62.30 207.20,62.30 207.45,62.30 207.70,62.30 207.95,62.30 208.20,62.30 208.45,62.30 208.70,62.30 208.95,62.30 209.20,62.30 209.45,62.30 209.70,62.30 209.95,62.30 210.20,62.30 210.45,62.30 210.70,62.30 210.95,62.30 211.20,62.30 211.45,62.30 211.70,62.30 211.95,62.30 212.20,62.30 212.45,62.30 212.70,62.30 212.95,62.30 213.20,62.30 213.45,62.30 213.70,62.30 213.95,62.30 214.20,62.30 214.45,62.30 214.70,62.30 214.95,62.30 215.20,62.30 215.45,62.30 215.70,62.30 215.95,62.30 216.20,62.30 216.45,62.30 216.70,62.30 216.95,62.30 217.20,62.30 217.45,62.30 217.70,62.30 217.95,62.30 218.20,62.30 218.45,62.30 218.70,62.30 218.95,62.30 219.20,62.30 219.45,62.30 219.70,62.30 219.95,62.30 220.20,62.30 220.45,62.30 220.70,62.30 220.95,62.30 221.20,62.30 221.45,62.30 221.70,62.30 221.95,62.30 222.20,62.30 222.45,62.30 222.70,62.30 222.95,62.30 223.20,62.30 223.45,62.30 223.70,62.30 223.95,62.30 224.20,62.30 224.45,62.30 224.70,62.30 224.95,62.30 225.20,62.30 225.45,62.30" fill="none" stroke="#000" stroke-width="1.0" stroke-linejoin="miter"/>
<path d="M140.7,62.3 V33.0 H225.5 V62.3" fill="none" stroke="#929292" stroke-width="1.25"/>
<line x1="140.7" y1="33.0" x2="140.7" y2="62.3" stroke="#707070" stroke-width="1.1"/>
<line x1="140.2" y1="62.3" x2="226.0" y2="62.3" stroke="#383838" stroke-width="1.15"/>
<polyline points="235.30,59.35 235.55,58.37 235.80,57.88 236.05,59.59 236.30,59.82 236.55,58.91 236.80,59.76 237.05,59.28 237.30,58.81 237.55,59.65 237.80,59.37 238.05,61.81 238.30,59.60 238.55,59.10 238.80,58.59 239.05,56.47 239.30,56.49 239.55,55.27 239.80,55.36 240.05,50.76 240.30,49.35 240.55,46.00 240.80,41.09 241.05,43.94 241.30,47.69 241.55,46.81 241.80,47.73 242.05,50.92 242.30,51.57 242.55,52.11 242.80,53.83 243.05,49.08 243.30,48.28 243.55,47.45 243.80,45.74 244.05,44.90 244.30,44.17 244.55,48.59 244.80,52.45 245.05,51.41 245.30,52.07 245.55,53.26 245.80,55.51 246.05,57.82 246.30,54.32 246.55,58.55 246.80,58.21 247.05,58.79 247.30,59.52 247.55,59.61 247.80,60.44 248.05,60.54 248.30,60.52 248.55,60.54 248.80,59.28 249.05,61.59 249.30,60.81 249.55,61.37 249.80,61.65 250.05,62.14 250.30,61.62 250.55,62.07 250.80,61.61 251.05,61.65 251.30,62.25 251.55,61.54 251.80,62.01 252.05,62.00 252.30,62.00 252.55,62.21 252.80,62.01 253.05,62.05 253.30,62.30 253.55,62.30 253.80,62.30 254.05,62.30 254.30,62.30 254.55,62.30 254.80,62.30 255.05,62.30 255.30,62.30 255.55,62.30 255.80,62.30 256.05,62.30 256.30,62.30 256.55,62.30 256.80,62.30 257.05,62.30 257.30,62.30 257.55,62.30 257.80,62.30 258.05,62.30 258.30,62.30 258.55,62.30 258.80,62.30 259.05,62.30 259.30,62.30 259.55,62.30 259.80,62.30 260.05,62.30 260.30,62.30 260.55,62.30 260.80,62.30 261.05,62.30 261.30,62.30 261.55,62.30 261.80,62.30 262.05,62.30 262.30,62.30 262.55,62.30 262.80,62.30 263.05,62.30 263.30,62.30 263.55,62.30 263.80,62.30 264.05,62.30 264.30,62.30 264.55,62.30 264.80,62.30 265.05,62.30 265.30,62.30 265.55,62.30 265.80,62.30 266.05,62.30 266.30,62.30 266.55,62.30 266.80,62.30 267.05,62.30 267.30,62.30 267.55,62.30 267.80,62.30 268.05,62.30 268.30,62.30 268.55,62.30 268.80,62.30 269.05,62.30 269.30,62.30 269.55,62.30 269.80,62.30 270.05,62.30 270.30,62.30 270.55,62.30 270.80,62.30 271.05,62.30 271.30,62.30 271.55,62.30 271.80,62.30 272.05,62.30 272.30,62.30 272.55,62.30 272.80,62.30 273.05,62.30 273.30,62.30 273.55,62.30 273.80,62.30 274.05,62.30 274.30,62.30 274.55,62.30 274.80,62.30 275.05,62.30 275.30,62.30 275.55,62.30 275.80,62.30 276.05,62.30 276.30,62.30 276.55,62.30 276.80,62.30 277.05,62.30 277.30,62.30 277.55,62.30 277.80,62.30 278.05,62.30 278.30,62.30 278.55,62.30 278.80,62.30 279.05,62.30 279.30,62.30 279.55,62.30 279.80,62.30 280.05,62.30 280.30,62.30 280.55,62.30 280.80,62.30 281.05,62.30 281.30,62.30 281.55,62.30 281.80,62.30 282.05,62.30 282.30,62.30 282.55,62.30 282.80,62.30 283.05,62.30 283.30,62.30 283.55,62.30 283.80,62.30 284.05,62.30 284.30,62.30 284.55,62.30 284.80,62.30 285.05,62.30 285.30,62.30 285.55,62.30 285.80,62.30 286.05,62.30 286.30,62.30 286.55,62.30 286.80,62.30 287.05,62.30 287.30,62.30 287.55,62.30 287.80,62.30 288.05,62.30 288.30,62.30 288.55,62.30 288.80,62.30 289.05,62.30 289.30,62.30 289.55,62.30 289.80,62.30 290.05,62.30 290.30,62.30 290.55,62.30 290.80,62.30 291.05,62.30 291.30,62.30 291.55,62.30 291.80,62.30 292.05,62.30 292.30,62.30 292.55,62.30 292.80,62.30 293.05,62.30 293.30,62.30 293.55,62.30 293.80,62.30 294.05,62.30 294.30,62.30 294.55,62.30 294.80,62.30 295.05,62.30 295.30,62.30 295.55,62.30 295.80,62.30 296.05,62.30 296.30,62.30 296.55,62.30 296.80,62.30 297.05,62.30 297.30,62.30 297.55,62.30 297.80,62.30 298.05,62.30 298.30,62.30 298.55,62.30 298.80,62.30 299.05,62.30 299.30,62.30 299.55,62.30 299.80,62.30 300.05,62.30 300.30,62.30 300.55,62.30 300.80,62.30 301.05,62.30 301.30,62.30 301.55,62.30 301.80,62.30 302.05,62.30 302.30,62.30 302.55,62.30 302.80,62.30 303.05,62.30 303.30,62.30 303.55,62.30 303.80,62.30 304.05,62.30 304.30,62.30 304.55,62.30 304.80,62.30 305.05,62.30 305.30,62.30 305.55,62.30 305.80,62.30 306.05,62.30 306.30,62.30 306.55,62.30 306.80,62.30 307.05,62.30 307.30,62.30 307.55,62.30 307.80,62.30 308.05,62.30 308.30,62.30 308.55,62.30 308.80,62.30 309.05,62.30 309.30,62.30 309.55,62.30 309.80,62.30 310.05,62.30 310.30,62.30 310.55,62.30 310.80,62.30 311.05,62.30 311.30,62.30 311.55,62.30 311.80,62.30 312.05,62.30 312.30,62.30 312.55,62.30 312.80,62.30 313.05,62.30 313.30,62.30 313.55,62.30 313.80,62.30 314.05,62.30 314.30,62.30 314.55,62.30 314.80,62.30 315.05,62.30 315.30,62.30 315.55,62.30 315.80,62.30 316.05,62.30 316.30,62.30 316.55,62.30 316.80,62.30 317.05,62.30 317.30,62.30 317.55,62.30 317.80,62.30 318.05,62.30 318.30,62.30 318.55,62.30 318.80,62.30 319.05,62.30 319.30,62.30 319.55,62.30 319.80,62.30 320.05,62.30" fill="none" stroke="#4a4a4a" stroke-width="0.75" stroke-linejoin="miter"/>
<polyline points="235.30,56.89 235.55,55.14 235.80,57.44 236.05,56.92 236.30,57.63 236.55,58.00 236.80,61.05 237.05,57.97 237.30,58.85 237.55,61.25 237.80,60.63 238.05,60.41 238.30,58.17 238.55,58.75 238.80,58.44 239.05,56.97 239.30,55.51 239.55,53.00 239.80,49.86 240.05,46.85 240.30,41.63 240.55,40.60 240.80,39.93 241.05,36.79 241.30,40.12 241.55,45.39 241.80,47.12 242.05,46.41 242.30,49.37 242.55,50.28 242.80,52.18 243.05,52.75 243.30,48.58 243.55,43.85 243.80,41.86 244.05,39.02 244.30,37.79 244.55,43.30 244.80,44.98 245.05,49.35 245.30,49.96 245.55,51.17 245.80,54.63 246.05,52.91 246.30,56.22 246.55,56.15 246.80,57.96 247.05,57.29 247.30,55.88 247.55,57.92 247.80,59.14 248.05,61.85 248.30,59.99 248.55,61.37 248.80,58.89 249.05,60.98 249.30,61.86 249.55,61.62 249.80,60.80 250.05,62.30 250.30,61.43 250.55,61.17 250.80,61.17 251.05,61.89 251.30,62.30 251.55,61.36 251.80,61.63 252.05,62.18 252.30,61.85 252.55,62.04 252.80,61.72 253.05,62.30 253.30,62.30 253.55,61.97 253.80,61.95 254.05,62.28 254.30,62.21 254.55,62.30 254.80,62.30 255.05,62.27 255.30,62.30 255.55,62.30 255.80,62.30 256.05,62.30 256.30,62.30 256.55,62.30 256.80,62.30 257.05,62.30 257.30,62.30 257.55,62.30 257.80,62.30 258.05,62.30 258.30,62.30 258.55,62.30 258.80,62.30 259.05,62.30 259.30,62.30 259.55,62.30 259.80,62.30 260.05,62.30 260.30,62.30 260.55,62.30 260.80,62.30 261.05,62.30 261.30,62.30 261.55,62.30 261.80,62.30 262.05,62.30 262.30,62.30 262.55,62.30 262.80,62.30 263.05,62.30 263.30,62.30 263.55,62.30 263.80,62.30 264.05,62.30 264.30,62.30 264.55,62.30 264.80,62.30 265.05,62.30 265.30,62.30 265.55,62.30 265.80,62.30 266.05,62.30 266.30,62.30 266.55,62.30 266.80,62.30 267.05,62.30 267.30,62.30 267.55,62.30 267.80,62.30 268.05,62.30 268.30,62.30 268.55,62.30 268.80,62.30 269.05,62.30 269.30,62.30 269.55,62.30 269.80,62.30 270.05,62.30 270.30,62.30 270.55,62.30 270.80,62.30 271.05,62.30 271.30,62.30 271.55,62.30 271.80,62.30 272.05,62.30 272.30,62.30 272.55,62.30 272.80,62.30 273.05,62.30 273.30,62.30 273.55,62.30 273.80,62.30 274.05,62.30 274.30,62.30 274.55,62.30 274.80,62.30 275.05,62.30 275.30,62.30 275.55,62.30 275.80,62.30 276.05,62.30 276.30,62.30 276.55,62.30 276.80,62.30 277.05,62.30 277.30,62.30 277.55,62.30 277.80,62.30 278.05,62.30 278.30,62.30 278.55,62.30 278.80,62.30 279.05,62.30 279.30,62.30 279.55,62.30 279.80,62.30 280.05,62.30 280.30,62.30 280.55,62.30 280.80,62.30 281.05,62.30 281.30,62.30 281.55,62.30 281.80,62.30 282.05,62.30 282.30,62.30 282.55,62.30 282.80,62.30 283.05,62.30 283.30,62.30 283.55,62.30 283.80,62.30 284.05,62.30 284.30,62.30 284.55,62.30 284.80,62.30 285.05,62.30 285.30,62.30 285.55,62.30 285.80,62.30 286.05,62.30 286.30,62.30 286.55,62.30 286.80,62.30 287.05,62.30 287.30,62.30 287.55,62.30 287.80,62.30 288.05,62.30 288.30,62.30 288.55,62.30 288.80,62.30 289.05,62.30 289.30,62.30 289.55,62.30 289.80,62.30 290.05,62.30 290.30,62.30 290.55,62.30 290.80,62.30 291.05,62.30 291.30,62.30 291.55,62.30 291.80,62.30 292.05,62.30 292.30,62.30 292.55,62.30 292.80,62.30 293.05,62.30 293.30,62.30 293.55,62.30 293.80,62.30 294.05,62.30 294.30,62.30 294.55,62.30 294.80,62.30 295.05,62.30 295.30,62.30 295.55,62.30 295.80,62.30 296.05,62.30 296.30,62.30 296.55,62.30 296.80,62.30 297.05,62.30 297.30,62.30 297.55,62.30 297.80,62.30 298.05,62.30 298.30,62.30 298.55,62.30 298.80,62.30 299.05,62.30 299.30,62.30 299.55,62.30 299.80,62.30 300.05,62.30 300.30,62.30 300.55,62.30 300.80,62.30 301.05,62.30 301.30,62.30 301.55,62.30 301.80,62.30 302.05,62.30 302.30,62.30 302.55,62.30 302.80,62.30 303.05,62.30 303.30,62.30 303.55,62.30 303.80,62.30 304.05,62.30 304.30,62.30 304.55,62.30 304.80,62.30 305.05,62.30 305.30,62.30 305.55,62.30 305.80,62.30 306.05,62.30 306.30,62.30 306.55,62.30 306.80,62.30 307.05,62.30 307.30,62.30 307.55,62.30 307.80,62.30 308.05,62.30 308.30,62.30 308.55,62.30 308.80,62.30 309.05,62.30 309.30,62.30 309.55,62.30 309.80,62.30 310.05,62.30 310.30,62.30 310.55,62.30 310.80,62.30 311.05,62.30 311.30,62.30 311.55,62.30 311.80,62.30 312.05,62.30 312.30,62.30 312.55,62.30 312.80,62.30 313.05,62.30 313.30,62.30 313.55,62.30 313.80,62.30 314.05,62.30 314.30,62.30 314.55,62.30 314.80,62.30 315.05,62.30 315.30,62.30 315.55,62.30 315.80,62.30 316.05,62.30 316.30,62.30 316.55,62.30 316.80,62.30 317.05,62.30 317.30,62.30 317.55,62.30 317.80,62.30 318.05,62.30 318.30,62.30 318.55,62.30 318.80,62.30 319.05,62.30 319.30,62.30 319.55,62.30 319.80,62.30 320.05,62.30" fill="none" stroke="#8a8a8a" stroke-width="0.6"/>
<polyline points="235.30,56.36 235.55,57.30 235.80,57.48 236.05,58.46 236.30,57.76 236.55,60.29 236.80,58.37 237.05,59.67 237.30,59.72 237.55,60.53 237.80,61.06 238.05,60.33 238.30,59.64 238.55,60.08 238.80,57.49 239.05,56.08 239.30,53.01 239.55,51.03 239.80,49.92 240.05,45.73 240.30,43.54 240.55,38.96 240.80,37.72 241.05,38.01 241.30,39.85 241.55,41.99 241.80,46.25 242.05,48.98 242.30,49.57 242.55,48.93 242.80,52.46 243.05,51.71 243.30,43.66 243.55,46.12 243.80,43.66 244.05,44.83 244.30,43.56 244.55,45.07 244.80,47.71 245.05,49.44 245.30,51.03 245.55,52.06 245.80,52.19 246.05,56.09 246.30,56.99 246.55,55.75 246.80,57.14 247.05,58.68 247.30,59.63 247.55,59.52 247.80,59.33 248.05,59.37 248.30,59.65 248.55,59.98 248.80,61.20 249.05,59.64 249.30,60.42 249.55,61.01 249.80,61.15 250.05,60.73 250.30,61.51 250.55,61.58 250.80,61.52 251.05,61.15 251.30,62.29 251.55,61.52 251.80,62.30 252.05,62.18 252.30,61.89 252.55,61.70 252.80,62.30 253.05,61.79 253.30,61.78 253.55,62.19 253.80,62.18 254.05,62.19 254.30,62.30 254.55,61.86 254.80,62.18 255.05,62.30 255.30,62.30 255.55,62.30 255.80,62.30 256.05,62.30 256.30,62.30 256.55,62.30 256.80,62.30 257.05,62.30 257.30,62.30 257.55,62.30 257.80,62.30 258.05,62.30 258.30,62.30 258.55,62.30 258.80,62.30 259.05,62.30 259.30,62.30 259.55,62.30 259.80,62.30 260.05,62.30 260.30,62.30 260.55,62.30 260.80,62.30 261.05,62.30 261.30,62.30 261.55,62.30 261.80,62.30 262.05,62.30 262.30,62.30 262.55,62.30 262.80,62.30 263.05,62.30 263.30,62.30 263.55,62.30 263.80,62.30 264.05,62.30 264.30,62.30 264.55,62.30 264.80,62.30 265.05,62.30 265.30,62.30 265.55,62.30 265.80,62.30 266.05,62.30 266.30,62.30 266.55,62.30 266.80,62.30 267.05,62.30 267.30,62.30 267.55,62.30 267.80,62.30 268.05,62.30 268.30,62.30 268.55,62.30 268.80,62.30 269.05,62.30 269.30,62.30 269.55,62.30 269.80,62.30 270.05,62.30 270.30,62.30 270.55,62.30 270.80,62.30 271.05,62.30 271.30,62.30 271.55,62.30 271.80,62.30 272.05,62.30 272.30,62.30 272.55,62.30 272.80,62.30 273.05,62.30 273.30,62.30 273.55,62.30 273.80,62.30 274.05,62.30 274.30,62.30 274.55,62.30 274.80,62.30 275.05,62.30 275.30,62.30 275.55,62.30 275.80,62.30 276.05,62.30 276.30,62.30 276.55,62.30 276.80,62.30 277.05,62.30 277.30,62.30 277.55,62.30 277.80,62.30 278.05,62.30 278.30,62.30 278.55,62.30 278.80,62.30 279.05,62.30 279.30,62.30 279.55,62.30 279.80,62.30 280.05,62.30 280.30,62.30 280.55,62.30 280.80,62.30 281.05,62.30 281.30,62.30 281.55,62.30 281.80,62.30 282.05,62.30 282.30,62.30 282.55,62.30 282.80,62.30 283.05,62.30 283.30,62.30 283.55,62.30 283.80,62.30 284.05,62.30 284.30,62.30 284.55,62.30 284.80,62.30 285.05,62.30 285.30,62.30 285.55,62.30 285.80,62.30 286.05,62.30 286.30,62.30 286.55,62.30 286.80,62.30 287.05,62.30 287.30,62.30 287.55,62.30 287.80,62.30 288.05,62.30 288.30,62.30 288.55,62.30 288.80,62.30 289.05,62.30 289.30,62.30 289.55,62.30 289.80,62.30 290.05,62.30 290.30,62.30 290.55,62.30 290.80,62.30 291.05,62.30 291.30,62.30 291.55,62.30 291.80,62.30 292.05,62.30 292.30,62.30 292.55,62.30 292.80,62.30 293.05,62.30 293.30,62.30 293.55,62.30 293.80,62.30 294.05,62.30 294.30,62.30 294.55,62.30 294.80,62.30 295.05,62.30 295.30,62.30 295.55,62.30 295.80,62.30 296.05,62.30 296.30,62.30 296.55,62.30 296.80,62.30 297.05,62.30 297.30,62.30 297.55,62.30 297.80,62.30 298.05,62.30 298.30,62.30 298.55,62.30 298.80,62.30 299.05,62.30 299.30,62.30 299.55,62.30 299.80,62.30 300.05,62.30 300.30,62.30 300.55,62.30 300.80,62.30 301.05,62.30 301.30,62.30 301.55,62.30 301.80,62.30 302.05,62.30 302.30,62.30 302.55,62.30 302.80,62.30 303.05,62.30 303.30,62.30 303.55,62.30 303.80,62.30 304.05,62.30 304.30,62.30 304.55,62.30 304.80,62.30 305.05,62.30 305.30,62.30 305.55,62.30 305.80,62.30 306.05,62.30 306.30,62.30 306.55,62.30 306.80,62.30 307.05,62.30 307.30,62.30 307.55,62.30 307.80,62.30 308.05,62.30 308.30,62.30 308.55,62.30 308.80,62.30 309.05,62.30 309.30,62.30 309.55,62.30 309.80,62.30 310.05,62.30 310.30,62.30 310.55,62.30 310.80,62.30 311.05,62.30 311.30,62.30 311.55,62.30 311.80,62.30 312.05,62.30 312.30,62.30 312.55,62.30 312.80,62.30 313.05,62.30 313.30,62.30 313.55,62.30 313.80,62.30 314.05,62.30 314.30,62.30 314.55,62.30 314.80,62.30 315.05,62.30 315.30,62.30 315.55,62.30 315.80,62.30 316.05,62.30 316.30,62.30 316.55,62.30 316.80,62.30 317.05,62.30 317.30,62.30 317.55,62.30 317.80,62.30 318.05,62.30 318.30,62.30 318.55,62.30 318.80,62.30 319.05,62.30 319.30,62.30 319.55,62.30 319.80,62.30 320.05,62.30" fill="none" stroke="#000" stroke-width="1.0" stroke-linejoin="miter"/>
<path d="M235.3,62.3 V33.0 H320.1 V62.3" fill="none" stroke="#929292" stroke-width="1.25"/>
<line x1="235.3" y1="33.0" x2="235.3" y2="62.3" stroke="#707070" stroke-width="1.1"/>
<line x1="234.8" y1="62.3" x2="320.6" y2="62.3" stroke="#383838" stroke-width="1.15"/>
<polyline points="329.80,54.66 330.05,58.52 330.30,55.54 330.55,52.63 330.80,58.09 331.05,54.74 331.30,56.75 331.55,53.34 331.80,56.67 332.05,57.01 332.30,53.45 332.55,54.16 332.80,56.82 333.05,59.20 333.30,58.48 333.55,54.76 333.80,54.46 334.05,57.49 334.30,52.56 334.55,53.55 334.80,55.21 335.05,54.43 335.30,53.75 335.55,55.10 335.80,52.64 336.05,54.17 336.30,54.06 336.55,51.93 336.80,52.73 337.05,56.35 337.30,53.42 337.55,55.40 337.80,52.94 338.05,52.55 338.30,56.14 338.55,51.80 338.80,50.38 339.05,53.17 339.30,56.12 339.55,54.44 339.80,53.72 340.05,53.52 340.30,53.53 340.55,55.93 340.80,55.65 341.05,53.60 341.30,49.87 341.55,54.64 341.80,55.26 342.05,54.32 342.30,52.64 342.55,55.47 342.80,59.91 343.05,56.73 343.30,57.13 343.55,57.83 343.80,58.45 344.05,57.92 344.30,52.65 344.55,55.56 344.80,56.45 345.05,58.87 345.30,57.69 345.55,56.66 345.80,57.58 346.05,57.77 346.30,55.42 346.55,56.01 346.80,57.36 347.05,60.32 347.30,58.33 347.55,60.04 347.80,59.71 348.05,59.24 348.30,58.85 348.55,58.32 348.80,62.14 349.05,59.06 349.30,60.58 349.55,60.21 349.80,61.19 350.05,59.01 350.30,60.49 350.55,59.82 350.80,61.30 351.05,59.82 351.30,60.56 351.55,61.45 351.80,61.00 352.05,61.38 352.30,61.59 352.55,60.04 352.80,60.91 353.05,61.46 353.30,62.30 353.55,60.63 353.80,61.41 354.05,61.55 354.30,61.85 354.55,60.22 354.80,60.40 355.05,61.44 355.30,61.51 355.55,61.40 355.80,61.18 356.05,61.05 356.30,62.08 356.55,61.48 356.80,60.92 357.05,59.97 357.30,60.28 357.55,60.53 357.80,61.30 358.05,60.17 358.30,59.68 358.55,59.46 358.80,59.01 359.05,60.47 359.30,60.67 359.55,58.93 359.80,60.39 360.05,59.26 360.30,59.80 360.55,61.36 360.80,59.74 361.05,59.96 361.30,60.07 361.55,60.15 361.80,61.03 362.05,60.22 362.30,60.12 362.55,58.44 362.80,59.77 363.05,59.28 363.30,57.75 363.55,61.67 363.80,58.53 364.05,59.48 364.30,60.16 364.55,61.08 364.80,58.72 365.05,59.52 365.30,60.27 365.55,61.05 365.80,58.95 366.05,58.48 366.30,60.93 366.55,60.15 366.80,59.80 367.05,59.34 367.30,60.58 367.55,58.37 367.80,60.35 368.05,60.68 368.30,61.18 368.55,61.52 368.80,60.09 369.05,60.71 369.30,61.46 369.55,61.69 369.80,60.34 370.05,60.34 370.30,60.81 370.55,61.21 370.80,61.74 371.05,60.92 371.30,60.90 371.55,61.57 371.80,61.87 372.05,61.04 372.30,62.14 372.55,61.64 372.80,60.98 373.05,61.82 373.30,61.96 373.55,62.30 373.80,62.26 374.05,62.00 374.30,61.32 374.55,62.30 374.80,61.29 375.05,62.02 375.30,62.13 375.55,61.96 375.80,62.30 376.05,62.00 376.30,61.78 376.55,62.30 376.80,62.30 377.05,62.30 377.30,62.22 377.55,62.26 377.80,62.30 378.05,62.30 378.30,62.30 378.55,62.30 378.80,62.30 379.05,62.30 379.30,62.30 379.55,62.30 379.80,62.30 380.05,62.30 380.30,62.30 380.55,62.30 380.80,62.30 381.05,62.30 381.30,62.30 381.55,62.30 381.80,62.30 382.05,62.30 382.30,62.30 382.55,62.30 382.80,62.30 383.05,62.30 383.30,62.30 383.55,62.30 383.80,62.30 384.05,62.30 384.30,62.30 384.55,62.30 384.80,62.30 385.05,62.30 385.30,62.30 385.55,62.30 385.80,62.30 386.05,62.30 386.30,62.30 386.55,62.30 386.80,62.30 387.05,62.30 387.30,62.30 387.55,62.30 387.80,62.30 388.05,62.30 388.30,62.30 388.55,62.30 388.80,62.30 389.05,62.30 389.30,62.30 389.55,62.30 389.80,62.30 390.05,62.30 390.30,62.30 390.55,62.30 390.80,62.30 391.05,62.30 391.30,62.30 391.55,62.30 391.80,62.30 392.05,62.30 392.30,62.30 392.55,62.30 392.80,62.30 393.05,62.30 393.30,62.30 393.55,62.30 393.80,62.30 394.05,62.30 394.30,62.30 394.55,62.30 394.80,62.30 395.05,62.30 395.30,62.30 395.55,62.30 395.80,62.30 396.05,62.30 396.30,62.30 396.55,62.30 396.80,62.30 397.05,62.30 397.30,62.30 397.55,62.30 397.80,62.30 398.05,62.30 398.30,62.30 398.55,62.30 398.80,62.30 399.05,62.30 399.30,62.30 399.55,62.30 399.80,62.30 400.05,62.30 400.30,62.30 400.55,62.30 400.80,62.30 401.05,62.30 401.30,62.30 401.55,62.30 401.80,62.30 402.05,62.30 402.30,62.30 402.55,62.30 402.80,62.30 403.05,62.30 403.30,62.30 403.55,62.30 403.80,62.30 404.05,62.30 404.30,62.30 404.55,62.30 404.80,62.30 405.05,62.30 405.30,62.30 405.55,62.30 405.80,62.30 406.05,62.30 406.30,62.30 406.55,62.30 406.80,62.30 407.05,62.30 407.30,62.30 407.55,62.30 407.80,62.30 408.05,62.30 408.30,62.30 408.55,62.30 408.80,62.30 409.05,62.30 409.30,62.30 409.55,62.30 409.80,62.30 410.05,62.30 410.30,62.30 410.55,62.30 410.80,62.30 411.05,62.30 411.30,62.30 411.55,62.30 411.80,62.30 412.05,62.30 412.30,62.30 412.55,62.30 412.80,62.30 413.05,62.30 413.30,62.30 413.55,62.30 413.80,62.30 414.05,62.30 414.30,62.30 414.55,62.30" fill="none" stroke="#4a4a4a" stroke-width="0.75" stroke-linejoin="miter"/>
<polyline points="329.80,57.65 330.05,54.79 330.30,61.31 330.55,58.45 330.80,55.44 331.05,53.93 331.30,59.06 331.55,54.71 331.80,51.99 332.05,48.33 332.30,55.93 332.55,56.52 332.80,55.79 333.05,57.35 333.30,53.37 333.55,62.30 333.80,53.07 334.05,58.30 334.30,56.42 334.55,56.31 334.80,54.20 335.05,53.37 335.30,62.25 335.55,57.75 335.80,53.05 336.05,59.01 336.30,58.99 336.55,50.33 336.80,53.67 337.05,52.42 337.30,51.51 337.55,56.46 337.80,54.21 338.05,58.89 338.30,55.36 338.55,53.85 338.80,46.72 339.05,58.71 339.30,51.02 339.55,55.97 339.80,56.87 340.05,57.96 340.30,47.96 340.55,56.54 340.80,52.08 341.05,56.77 341.30,52.14 341.55,54.67 341.80,53.05 342.05,56.45 342.30,52.94 342.55,55.61 342.80,57.96 343.05,58.81 343.30,59.16 343.55,53.75 343.80,62.30 344.05,60.77 344.30,56.58 344.55,57.28 344.80,57.13 345.05,58.21 345.30,59.54 345.55,57.15 345.80,59.81 346.05,62.30 346.30,61.14 346.55,60.13 346.80,57.11 347.05,57.66 347.30,55.83 347.55,62.11 347.80,61.03 348.05,60.06 348.30,59.83 348.55,58.81 348.80,60.57 349.05,60.32 349.30,57.19 349.55,60.42 349.80,60.02 350.05,62.30 350.30,61.68 350.55,61.05 350.80,60.64 351.05,61.02 351.30,60.39 351.55,61.11 351.80,58.38 352.05,61.18 352.30,60.68 352.55,59.34 352.80,59.76 353.05,62.13 353.30,59.03 353.55,59.06 353.80,62.08 354.05,62.30 354.30,60.36 354.55,59.05 354.80,60.88 355.05,58.33 355.30,58.97 355.55,60.54 355.80,59.51 356.05,58.35 356.30,60.79 356.55,54.07 356.80,60.83 357.05,54.82 357.30,55.47 357.55,57.02 357.80,55.80 358.05,59.36 358.30,49.73 358.55,57.55 358.80,58.33 359.05,57.49 359.30,61.20 359.55,55.77 359.80,56.93 360.05,55.65 360.30,53.83 360.55,52.40 360.80,53.60 361.05,55.13 361.30,51.73 361.55,46.25 361.80,52.31 362.05,49.58 362.30,42.99 362.55,43.02 362.80,49.86 363.05,49.44 363.30,45.05 363.55,54.51 363.80,39.17 364.05,46.64 364.30,48.12 364.55,49.94 364.80,51.98 365.05,51.86 365.30,48.82 365.55,44.80 365.80,47.24 366.05,47.34 366.30,50.82 366.55,49.32 366.80,49.84 367.05,46.23 367.30,52.34 367.55,53.95 367.80,59.34 368.05,53.17 368.30,53.68 368.55,52.51 368.80,53.85 369.05,59.21 369.30,59.37 369.55,56.28 369.80,55.20 370.05,58.35 370.30,59.34 370.55,59.33 370.80,61.71 371.05,56.03 371.30,61.80 371.55,58.97 371.80,60.30 372.05,57.87 372.30,60.52 372.55,62.30 372.80,57.84 373.05,62.30 373.30,60.13 373.55,57.47 373.80,59.42 374.05,62.30 374.30,61.87 374.55,59.83 374.80,59.61 375.05,62.30 375.30,61.46 375.55,61.74 375.80,60.96 376.05,60.49 376.30,62.30 376.55,62.30 376.80,60.57 377.05,60.53 377.30,61.30 377.55,61.32 377.80,62.30 378.05,60.46 378.30,62.30 378.55,62.30 378.80,62.30 379.05,61.11 379.30,61.25 379.55,61.71 379.80,62.30 380.05,62.10 380.30,62.30 380.55,61.92 380.80,61.91 381.05,62.30 381.30,61.66 381.55,61.29 381.80,61.39 382.05,62.30 382.30,61.10 382.55,60.73 382.80,61.70 383.05,60.79 383.30,62.30 383.55,62.30 383.80,62.25 384.05,60.27 384.30,62.30 384.55,61.86 384.80,61.24 385.05,61.66 385.30,61.01 385.55,62.08 385.80,61.44 386.05,61.89 386.30,62.30 386.55,62.30 386.80,62.04 387.05,62.30 387.30,62.23 387.55,62.11 387.80,62.26 388.05,61.68 388.30,61.94 388.55,62.30 388.80,61.97 389.05,61.96 389.30,62.24 389.55,62.30 389.80,62.30 390.05,62.30 390.30,62.30 390.55,62.30 390.80,62.30 391.05,62.30 391.30,62.30 391.55,62.30 391.80,62.30 392.05,62.30 392.30,62.30 392.55,62.30 392.80,62.30 393.05,62.30 393.30,62.30 393.55,62.30 393.80,62.30 394.05,62.30 394.30,62.30 394.55,62.30 394.80,62.30 395.05,62.30 395.30,62.30 395.55,62.30 395.80,62.30 396.05,62.30 396.30,62.30 396.55,62.30 396.80,62.30 397.05,62.30 397.30,62.30 397.55,62.30 397.80,62.30 398.05,62.30 398.30,62.30 398.55,62.30 398.80,62.30 399.05,62.30 399.30,62.30 399.55,62.30 399.80,62.30 400.05,62.30 400.30,62.30 400.55,62.30 400.80,62.30 401.05,62.30 401.30,62.30 401.55,62.30 401.80,62.30 402.05,62.30 402.30,62.30 402.55,62.30 402.80,62.30 403.05,62.30 403.30,62.30 403.55,62.30 403.80,62.30 404.05,62.30 404.30,62.30 404.55,62.30 404.80,62.30 405.05,62.30 405.30,62.30 405.55,62.30 405.80,62.30 406.05,62.30 406.30,62.30 406.55,62.30 406.80,62.30 407.05,62.30 407.30,62.30 407.55,62.30 407.80,62.30 408.05,62.30 408.30,62.30 408.55,62.30 408.80,62.30 409.05,62.30 409.30,62.30 409.55,62.30 409.80,62.30 410.05,62.30 410.30,62.30 410.55,62.30 410.80,62.30 411.05,62.30 411.30,62.30 411.55,62.30 411.80,62.30 412.05,62.30 412.30,62.30 412.55,62.30 412.80,62.30 413.05,62.30 413.30,62.30 413.55,62.30 413.80,62.30 414.05,62.30 414.30,62.30 414.55,62.30" fill="none" stroke="#8a8a8a" stroke-width="0.6"/>
<polyline points="329.80,52.13 330.05,57.16 330.30,53.61 330.55,59.28 330.80,55.88 331.05,55.07 331.30,60.47 331.55,57.39 331.80,55.62 332.05,52.21 332.30,57.44 332.55,55.01 332.80,57.80 333.05,54.73 333.30,51.82 333.55,53.63 333.80,59.43 334.05,58.73 334.30,59.31 334.55,57.26 334.80,59.05 335.05,51.92 335.30,55.52 335.55,50.97 335.80,55.63 336.05,55.15 336.30,55.63 336.55,54.53 336.80,54.08 337.05,54.20 337.30,56.14 337.55,57.26 337.80,54.24 338.05,52.35 338.30,52.98 338.55,56.67 338.80,51.76 339.05,55.27 339.30,58.40 339.55,54.67 339.80,58.09 340.05,52.36 340.30,54.82 340.55,57.24 340.80,56.80 341.05,55.94 341.30,57.06 341.55,57.89 341.80,52.65 342.05,57.50 342.30,57.96 342.55,60.69 342.80,56.20 343.05,56.59 343.30,56.23 343.55,59.09 343.80,54.97 344.05,59.41 344.30,59.61 344.55,58.09 344.80,58.27 345.05,56.86 345.30,53.87 345.55,57.78 345.80,55.85 346.05,57.16 346.30,59.41 346.55,61.09 346.80,59.04 347.05,60.68 347.30,60.22 347.55,58.79 347.80,59.90 348.05,58.13 348.30,62.17 348.55,61.20 348.80,56.17 349.05,58.56 349.30,59.43 349.55,59.04 349.80,61.65 350.05,61.54 350.30,59.21 350.55,62.30 350.80,59.82 351.05,62.30 351.30,59.24 351.55,60.20 351.80,61.01 352.05,60.39 352.30,60.47 352.55,61.70 352.80,62.12 353.05,60.96 353.30,60.13 353.55,61.67 353.80,60.42 354.05,58.47 354.30,60.65 354.55,60.66 354.80,62.28 355.05,58.75 355.30,60.60 355.55,60.80 355.80,61.73 356.05,58.63 356.30,59.61 356.55,58.77 356.80,59.37 357.05,60.45 357.30,57.87 357.55,57.29 357.80,59.02 358.05,58.80 358.30,57.22 358.55,57.51 358.80,53.38 359.05,51.22 359.30,55.96 359.55,56.24 359.80,51.61 360.05,52.38 360.30,52.52 360.55,52.36 360.80,49.40 361.05,50.30 361.30,49.66 361.55,48.15 361.80,55.86 362.05,48.46 362.30,48.19 362.55,48.75 362.80,49.72 363.05,52.12 363.30,53.01 363.55,48.04 363.80,51.03 364.05,43.38 364.30,45.80 364.55,47.91 364.80,44.81 365.05,46.88 365.30,48.61 365.55,44.27 365.80,47.39 366.05,48.40 366.30,47.86 366.55,48.62 366.80,48.70 367.05,51.98 367.30,52.03 367.55,50.43 367.80,52.02 368.05,51.97 368.30,56.61 368.55,54.91 368.80,56.21 369.05,54.97 369.30,54.11 369.55,56.64 369.80,55.91 370.05,56.27 370.30,55.80 370.55,56.97 370.80,57.81 371.05,58.54 371.30,58.43 371.55,56.48 371.80,56.65 372.05,58.46 372.30,60.11 372.55,59.24 372.80,58.59 373.05,61.91 373.30,60.37 373.55,57.94 373.80,60.06 374.05,61.56 374.30,60.97 374.55,62.30 374.80,61.11 375.05,61.31 375.30,61.34 375.55,61.45 375.80,61.56 376.05,60.69 376.30,61.22 376.55,61.76 376.80,61.45 377.05,62.30 377.30,61.63 377.55,59.95 377.80,60.44 378.05,60.97 378.30,62.08 378.55,61.46 378.80,59.82 379.05,61.46 379.30,61.51 379.55,60.70 379.80,60.37 380.05,60.98 380.30,60.48 380.55,61.95 380.80,60.59 381.05,61.65 381.30,61.18 381.55,62.30 381.80,61.33 382.05,61.78 382.30,61.43 382.55,62.19 382.80,62.30 383.05,61.94 383.30,61.43 383.55,61.95 383.80,62.14 384.05,62.10 384.30,61.27 384.55,62.01 384.80,62.30 385.05,61.35 385.30,61.96 385.55,61.79 385.80,62.30 386.05,62.08 386.30,61.86 386.55,61.71 386.80,61.86 387.05,61.64 387.30,62.00 387.55,62.24 387.80,62.30 388.05,61.78 388.30,62.03 388.55,61.61 388.80,61.80 389.05,62.30 389.30,62.11 389.55,62.17 389.80,62.30 390.05,62.30 390.30,62.30 390.55,62.30 390.80,62.30 391.05,62.30 391.30,62.30 391.55,62.30 391.80,62.30 392.05,62.30 392.30,62.30 392.55,62.30 392.80,62.30 393.05,62.30 393.30,62.30 393.55,62.30 393.80,62.30 394.05,62.30 394.30,62.30 394.55,62.30 394.80,62.30 395.05,62.30 395.30,62.30 395.55,62.30 395.80,62.30 396.05,62.30 396.30,62.30 396.55,62.30 396.80,62.30 397.05,62.30 397.30,62.30 397.55,62.30 397.80,62.30 398.05,62.30 398.30,62.30 398.55,62.30 398.80,62.30 399.05,62.30 399.30,62.30 399.55,62.30 399.80,62.30 400.05,62.30 400.30,62.30 400.55,62.30 400.80,62.30 401.05,62.30 401.30,62.30 401.55,62.30 401.80,62.30 402.05,62.30 402.30,62.30 402.55,62.30 402.80,62.30 403.05,62.30 403.30,62.30 403.55,62.30 403.80,62.30 404.05,62.30 404.30,62.30 404.55,62.30 404.80,62.30 405.05,62.30 405.30,62.30 405.55,62.30 405.80,62.30 406.05,62.30 406.30,62.30 406.55,62.30 406.80,62.30 407.05,62.30 407.30,62.30 407.55,62.30 407.80,62.30 408.05,62.30 408.30,62.30 408.55,62.30 408.80,62.30 409.05,62.30 409.30,62.30 409.55,62.30 409.80,62.30 410.05,62.30 410.30,62.30 410.55,62.30 410.80,62.30 411.05,62.30 411.30,62.30 411.55,62.30 411.80,62.30 412.05,62.30 412.30,62.30 412.55,62.30 412.80,62.30 413.05,62.30 413.30,62.30 413.55,62.30 413.80,62.30 414.05,62.30 414.30,62.30 414.55,62.30" fill="none" stroke="#000" stroke-width="1.0" stroke-linejoin="miter"/>
<path d="M329.8,62.3 V33.0 H414.6 V62.3" fill="none" stroke="#929292" stroke-width="1.25"/>
<line x1="329.8" y1="33.0" x2="329.8" y2="62.3" stroke="#707070" stroke-width="1.1"/>
<line x1="329.3" y1="62.3" x2="415.1" y2="62.3" stroke="#383838" stroke-width="1.15"/>
<polyline points="424.00,58.39 424.25,57.78 424.50,58.80 424.75,60.10 425.00,57.35 425.25,57.54 425.50,58.12 425.75,57.62 426.00,57.62 426.25,56.61 426.50,56.45 426.75,57.88 427.00,56.20 427.25,57.15 427.50,57.91 427.75,55.87 428.00,54.05 428.25,54.76 428.50,54.49 428.75,52.58 429.00,53.74 429.25,54.37 429.50,54.63 429.75,51.59 430.00,54.76 430.25,54.52 430.50,52.16 430.75,51.57 431.00,55.08 431.25,51.94 431.50,53.36 431.75,52.96 432.00,53.84 432.25,53.45 432.50,50.98 432.75,52.38 433.00,54.63 433.25,54.17 433.50,55.51 433.75,57.08 434.00,54.82 434.25,52.36 434.50,52.76 434.75,55.49 435.00,49.89 435.25,52.32 435.50,55.12 435.75,53.99 436.00,53.94 436.25,54.75 436.50,51.75 436.75,51.51 437.00,54.53 437.25,53.82 437.50,54.06 437.75,55.31 438.00,56.85 438.25,57.14 438.50,54.67 438.75,55.03 439.00,55.35 439.25,55.31 439.50,55.21 439.75,56.30 440.00,58.52 440.25,58.94 440.50,54.45 440.75,56.13 441.00,58.29 441.25,57.62 441.50,55.98 441.75,54.63 442.00,55.28 442.25,56.50 442.50,56.72 442.75,58.86 443.00,57.24 443.25,58.42 443.50,57.73 443.75,60.06 444.00,57.60 444.25,58.94 444.50,57.45 444.75,60.45 445.00,58.07 445.25,58.77 445.50,59.84 445.75,58.93 446.00,60.25 446.25,58.25 446.50,61.29 446.75,57.16 447.00,60.79 447.25,61.44 447.50,61.90 447.75,59.77 448.00,60.63 448.25,61.32 448.50,61.41 448.75,61.85 449.00,60.29 449.25,60.52 449.50,60.62 449.75,62.13 450.00,60.82 450.25,61.61 450.50,61.28 450.75,61.89 451.00,61.16 451.25,60.77 451.50,61.57 451.75,61.38 452.00,61.63 452.25,62.17 452.50,61.54 452.75,62.17 453.00,61.72 453.25,61.50 453.50,61.23 453.75,62.24 454.00,61.56 454.25,61.37 454.50,61.94 454.75,61.96 455.00,61.95 455.25,62.02 455.50,62.23 455.75,62.17 456.00,62.30 456.25,62.30 456.50,62.30 456.75,62.30 457.00,62.30 457.25,62.30 457.50,62.30 457.75,62.30 458.00,62.30 458.25,62.30 458.50,62.30 458.75,62.30 459.00,62.30 459.25,62.30 459.50,62.30 459.75,62.30 460.00,62.30 460.25,62.30 460.50,62.30 460.75,62.30 461.00,62.30 461.25,62.30 461.50,62.30 461.75,62.30 462.00,62.30 462.25,62.30 462.50,62.30 462.75,62.30 463.00,62.30 463.25,62.30 463.50,62.30 463.75,62.30 464.00,62.30 464.25,62.30 464.50,62.30 464.75,62.30 465.00,62.30 465.25,62.30 465.50,62.30 465.75,62.30 466.00,62.30 466.25,62.30 466.50,62.30 466.75,62.30 467.00,62.30 467.25,62.30 467.50,62.30 467.75,62.30 468.00,62.30 468.25,62.30 468.50,62.30 468.75,62.30 469.00,62.30 469.25,62.30 469.50,62.30 469.75,62.30 470.00,62.30 470.25,62.30 470.50,62.30 470.75,62.30 471.00,62.30 471.25,62.30 471.50,62.30 471.75,62.30 472.00,62.30 472.25,62.30 472.50,62.30 472.75,62.30 473.00,62.30 473.25,62.30 473.50,62.30 473.75,62.30 474.00,62.30 474.25,62.30 474.50,62.30 474.75,62.30 475.00,62.30 475.25,62.30 475.50,62.30 475.75,62.30 476.00,62.30 476.25,62.30 476.50,62.30 476.75,62.30 477.00,62.30 477.25,62.30 477.50,62.30 477.75,62.30 478.00,62.30 478.25,62.30 478.50,62.30 478.75,62.30 479.00,62.30 479.25,62.30 479.50,62.30 479.75,62.30 480.00,62.30 480.25,62.30 480.50,62.30 480.75,62.30 481.00,62.30 481.25,62.30 481.50,62.30 481.75,62.30 482.00,62.30 482.25,62.30 482.50,62.30 482.75,62.30 483.00,62.30 483.25,62.30 483.50,62.30 483.75,62.30 484.00,62.30 484.25,62.30 484.50,62.30 484.75,62.30 485.00,62.30 485.25,62.30 485.50,62.30 485.75,62.30 486.00,62.30 486.25,62.30 486.50,62.30 486.75,62.30 487.00,62.30 487.25,62.30 487.50,62.30 487.75,62.30 488.00,62.30 488.25,62.30 488.50,62.30 488.75,62.30 489.00,62.30 489.25,62.30 489.50,62.30 489.75,62.30 490.00,62.30 490.25,62.30 490.50,62.30 490.75,62.30 491.00,62.30 491.25,62.30 491.50,62.30 491.75,62.30 492.00,62.30 492.25,62.30 492.50,62.30 492.75,62.30 493.00,62.30 493.25,62.30 493.50,62.30 493.75,62.30 494.00,62.30 494.25,62.30 494.50,62.30 494.75,62.30 495.00,62.30 495.25,62.30 495.50,62.30 495.75,62.30 496.00,62.30 496.25,62.30 496.50,62.30 496.75,62.30 497.00,62.30 497.25,62.30 497.50,62.30 497.75,62.30 498.00,62.30 498.25,62.30 498.50,62.30 498.75,62.30 499.00,62.30 499.25,62.30 499.50,62.30 499.75,62.30 500.00,62.30 500.25,62.30 500.50,62.30 500.75,62.30 501.00,62.30 501.25,62.30 501.50,62.30 501.75,62.30 502.00,62.30 502.25,62.30 502.50,62.30 502.75,62.30 503.00,62.30 503.25,62.30 503.50,62.30 503.75,62.30 504.00,62.30 504.25,62.30 504.50,62.30 504.75,62.30 505.00,62.30 505.25,62.30 505.50,62.30 505.75,62.30 506.00,62.30 506.25,62.30 506.50,62.30 506.75,62.30 507.00,62.30 507.25,62.30 507.50,62.30 507.75,62.30 508.00,62.30 508.25,62.30 508.50,62.30 508.75,62.30" fill="none" stroke="#4a4a4a" stroke-width="0.75" stroke-linejoin="miter"/>
<polyline points="424.00,53.62 424.25,56.12 424.50,56.86 424.75,56.18 425.00,56.33 425.25,53.98 425.50,58.52 425.75,57.52 426.00,57.92 426.25,57.61 426.50,55.79 426.75,53.97 427.00,59.69 427.25,53.27 427.50,46.22 427.75,50.58 428.00,54.81 428.25,48.59 428.50,51.71 428.75,51.75 429.00,44.54 429.25,47.99 429.50,51.25 429.75,49.11 430.00,55.51 430.25,49.10 430.50,50.93 430.75,50.00 431.00,52.69 431.25,44.89 431.50,46.40 431.75,53.78 432.00,47.82 432.25,52.47 432.50,51.23 432.75,49.22 433.00,51.88 433.25,48.30 433.50,47.45 433.75,51.33 434.00,49.64 434.25,49.26 434.50,50.91 434.75,47.19 435.00,51.42 435.25,49.97 435.50,57.55 435.75,52.89 436.00,48.82 436.25,59.76 436.50,58.35 436.75,45.92 437.00,50.37 437.25,52.34 437.50,51.24 437.75,50.07 438.00,51.35 438.25,55.58 438.50,58.13 438.75,56.18 439.00,59.18 439.25,55.19 439.50,58.94 439.75,54.95 440.00,50.11 440.25,56.77 440.50,58.33 440.75,52.06 441.00,53.91 441.25,58.08 441.50,49.58 441.75,53.62 442.00,53.93 442.25,56.30 442.50,52.04 442.75,56.88 443.00,56.82 443.25,61.38 443.50,59.99 443.75,56.64 444.00,54.48 444.25,55.11 444.50,51.71 444.75,62.30 445.00,55.11 445.25,59.91 445.50,57.32 445.75,58.62 446.00,53.07 446.25,57.15 446.50,59.26 446.75,62.30 447.00,57.57 447.25,60.26 447.50,56.99 447.75,60.75 448.00,60.20 448.25,60.79 448.50,58.94 448.75,60.89 449.00,60.95 449.25,59.96 449.50,58.54 449.75,60.62 450.00,61.98 450.25,57.66 450.50,61.62 450.75,59.00 451.00,61.07 451.25,61.05 451.50,60.18 451.75,59.22 452.00,60.73 452.25,60.35 452.50,62.30 452.75,62.30 453.00,61.80 453.25,61.62 453.50,60.79 453.75,61.99 454.00,62.30 454.25,60.91 454.50,62.30 454.75,62.30 455.00,62.19 455.25,61.75 455.50,62.30 455.75,62.30 456.00,62.30 456.25,60.56 456.50,62.30 456.75,62.25 457.00,61.77 457.25,60.73 457.50,62.30 457.75,61.57 458.00,62.30 458.25,61.14 458.50,61.83 458.75,62.30 459.00,61.65 459.25,62.21 459.50,61.81 459.75,62.30 460.00,62.30 460.25,62.30 460.50,62.30 460.75,62.30 461.00,62.30 461.25,62.30 461.50,62.30 461.75,62.30 462.00,62.30 462.25,62.30 462.50,62.30 462.75,62.30 463.00,62.30 463.25,62.30 463.50,62.30 463.75,62.30 464.00,62.30 464.25,62.30 464.50,62.30 464.75,62.30 465.00,62.30 465.25,62.30 465.50,62.30 465.75,62.30 466.00,62.30 466.25,62.30 466.50,62.30 466.75,62.30 467.00,62.30 467.25,62.30 467.50,62.30 467.75,62.30 468.00,62.30 468.25,62.30 468.50,62.30 468.75,62.30 469.00,62.30 469.25,62.30 469.50,62.30 469.75,62.30 470.00,62.30 470.25,62.30 470.50,62.30 470.75,62.30 471.00,62.30 471.25,62.30 471.50,62.30 471.75,62.30 472.00,62.30 472.25,62.30 472.50,62.30 472.75,62.30 473.00,62.30 473.25,62.30 473.50,62.30 473.75,62.30 474.00,62.30 474.25,62.30 474.50,62.30 474.75,62.30 475.00,62.30 475.25,62.30 475.50,62.30 475.75,62.30 476.00,62.30 476.25,62.30 476.50,62.30 476.75,62.30 477.00,62.30 477.25,62.30 477.50,62.30 477.75,62.30 478.00,62.30 478.25,62.30 478.50,62.30 478.75,62.30 479.00,62.30 479.25,62.30 479.50,62.30 479.75,62.30 480.00,62.30 480.25,62.30 480.50,62.30 480.75,62.30 481.00,62.30 481.25,62.30 481.50,62.30 481.75,62.30 482.00,62.30 482.25,62.30 482.50,62.30 482.75,62.30 483.00,62.30 483.25,62.30 483.50,62.30 483.75,62.30 484.00,62.30 484.25,62.30 484.50,62.30 484.75,62.30 485.00,62.30 485.25,62.30 485.50,62.30 485.75,62.30 486.00,62.30 486.25,62.30 486.50,62.30 486.75,62.30 487.00,62.30 487.25,62.30 487.50,62.30 487.75,62.30 488.00,62.30 488.25,62.30 488.50,62.30 488.75,62.30 489.00,62.30 489.25,62.30 489.50,62.30 489.75,62.30 490.00,62.30 490.25,62.30 490.50,62.30 490.75,62.30 491.00,62.30 491.25,62.30 491.50,62.30 491.75,62.30 492.00,62.30 492.25,62.30 492.50,62.30 492.75,62.30 493.00,62.30 493.25,62.30 493.50,62.30 493.75,62.30 494.00,62.30 494.25,62.30 494.50,62.30 494.75,62.30 495.00,62.30 495.25,62.30 495.50,62.30 495.75,62.30 496.00,62.30 496.25,62.30 496.50,62.30 496.75,62.30 497.00,62.30 497.25,62.30 497.50,62.30 497.75,62.30 498.00,62.30 498.25,62.30 498.50,62.30 498.75,62.30 499.00,62.30 499.25,62.30 499.50,62.30 499.75,62.30 500.00,62.30 500.25,62.30 500.50,62.30 500.75,62.30 501.00,62.30 501.25,62.30 501.50,62.30 501.75,62.30 502.00,62.30 502.25,62.30 502.50,62.30 502.75,62.30 503.00,62.30 503.25,62.30 503.50,62.30 503.75,62.30 504.00,62.30 504.25,62.30 504.50,62.30 504.75,62.30 505.00,62.30 505.25,62.30 505.50,62.30 505.75,62.30 506.00,62.30 506.25,62.30 506.50,62.30 506.75,62.30 507.00,62.30 507.25,62.30 507.50,62.30 507.75,62.30 508.00,62.30 508.25,62.30 508.50,62.30 508.75,62.30" fill="none" stroke="#8a8a8a" stroke-width="0.6"/>
<polyline points="424.00,57.90 424.25,57.66 424.50,55.31 424.75,57.11 425.00,59.11 425.25,56.23 425.50,54.75 425.75,52.87 426.00,50.95 426.25,57.53 426.50,55.42 426.75,54.09 427.00,51.18 427.25,53.49 427.50,54.28 427.75,53.10 428.00,55.32 428.25,53.62 428.50,50.82 428.75,51.75 429.00,54.70 429.25,55.49 429.50,47.62 429.75,47.20 430.00,50.57 430.25,50.72 430.50,48.01 430.75,47.73 431.00,46.53 431.25,45.31 431.50,48.91 431.75,54.71 432.00,47.57 432.25,50.26 432.50,53.97 432.75,47.98 433.00,45.70 433.25,51.42 433.50,48.91 433.75,47.95 434.00,49.79 434.25,49.24 434.50,51.64 434.75,51.72 435.00,51.47 435.25,50.38 435.50,51.38 435.75,54.28 436.00,53.75 436.25,51.59 436.50,52.08 436.75,53.47 437.00,51.77 437.25,54.06 437.50,49.12 437.75,53.39 438.00,46.93 438.25,52.36 438.50,56.59 438.75,52.03 439.00,55.11 439.25,55.33 439.50,54.85 439.75,50.86 440.00,54.79 440.25,57.02 440.50,58.51 440.75,57.01 441.00,55.95 441.25,56.79 441.50,55.74 441.75,57.08 442.00,56.18 442.25,61.11 442.50,53.34 442.75,59.27 443.00,57.12 443.25,57.22 443.50,56.77 443.75,55.90 444.00,57.17 444.25,55.43 444.50,60.08 444.75,55.31 445.00,58.18 445.25,55.80 445.50,57.51 445.75,57.05 446.00,57.30 446.25,55.98 446.50,60.46 446.75,58.95 447.00,57.90 447.25,59.37 447.50,56.64 447.75,60.62 448.00,57.37 448.25,60.46 448.50,62.30 448.75,58.96 449.00,62.30 449.25,60.38 449.50,59.00 449.75,59.24 450.00,59.79 450.25,60.95 450.50,60.62 450.75,62.15 451.00,61.42 451.25,61.67 451.50,61.71 451.75,60.16 452.00,61.48 452.25,61.78 452.50,61.92 452.75,60.41 453.00,61.56 453.25,61.32 453.50,61.41 453.75,61.80 454.00,61.18 454.25,61.38 454.50,62.24 454.75,62.17 455.00,62.30 455.25,61.87 455.50,60.64 455.75,62.11 456.00,61.36 456.25,62.30 456.50,61.91 456.75,61.57 457.00,62.04 457.25,61.99 457.50,61.41 457.75,62.30 458.00,61.96 458.25,61.71 458.50,61.72 458.75,62.30 459.00,62.30 459.25,62.25 459.50,62.30 459.75,62.30 460.00,62.30 460.25,62.30 460.50,62.30 460.75,62.30 461.00,62.30 461.25,62.30 461.50,62.30 461.75,62.30 462.00,62.30 462.25,62.30 462.50,62.30 462.75,62.30 463.00,62.30 463.25,62.30 463.50,62.30 463.75,62.30 464.00,62.30 464.25,62.30 464.50,62.30 464.75,62.30 465.00,62.30 465.25,62.30 465.50,62.30 465.75,62.30 466.00,62.30 466.25,62.30 466.50,62.30 466.75,62.30 467.00,62.30 467.25,62.30 467.50,62.30 467.75,62.30 468.00,62.30 468.25,62.30 468.50,62.30 468.75,62.30 469.00,62.30 469.25,62.30 469.50,62.30 469.75,62.30 470.00,62.30 470.25,62.30 470.50,62.30 470.75,62.30 471.00,62.30 471.25,62.30 471.50,62.30 471.75,62.30 472.00,62.30 472.25,62.30 472.50,62.30 472.75,62.30 473.00,62.30 473.25,62.30 473.50,62.30 473.75,62.30 474.00,62.30 474.25,62.30 474.50,62.30 474.75,62.30 475.00,62.30 475.25,62.30 475.50,62.30 475.75,62.30 476.00,62.30 476.25,62.30 476.50,62.30 476.75,62.30 477.00,62.30 477.25,62.30 477.50,62.30 477.75,62.30 478.00,62.30 478.25,62.30 478.50,62.30 478.75,62.30 479.00,62.30 479.25,62.30 479.50,62.30 479.75,62.30 480.00,62.30 480.25,62.30 480.50,62.30 480.75,62.30 481.00,62.30 481.25,62.30 481.50,62.30 481.75,62.30 482.00,62.30 482.25,62.30 482.50,62.30 482.75,62.30 483.00,62.30 483.25,62.30 483.50,62.30 483.75,62.30 484.00,62.30 484.25,62.30 484.50,62.30 484.75,62.30 485.00,62.30 485.25,62.30 485.50,62.30 485.75,62.30 486.00,62.30 486.25,62.30 486.50,62.30 486.75,62.30 487.00,62.30 487.25,62.30 487.50,62.30 487.75,62.30 488.00,62.30 488.25,62.30 488.50,62.30 488.75,62.30 489.00,62.30 489.25,62.30 489.50,62.30 489.75,62.30 490.00,62.30 490.25,62.30 490.50,62.30 490.75,62.30 491.00,62.30 491.25,62.30 491.50,62.30 491.75,62.30 492.00,62.30 492.25,62.30 492.50,62.30 492.75,62.30 493.00,62.30 493.25,62.30 493.50,62.30 493.75,62.30 494.00,62.30 494.25,62.30 494.50,62.30 494.75,62.30 495.00,62.30 495.25,62.30 495.50,62.30 495.75,62.30 496.00,62.30 496.25,62.30 496.50,62.30 496.75,62.30 497.00,62.30 497.25,62.30 497.50,62.30 497.75,62.30 498.00,62.30 498.25,62.30 498.50,62.30 498.75,62.30 499.00,62.30 499.25,62.30 499.50,62.30 499.75,62.30 500.00,62.30 500.25,62.30 500.50,62.30 500.75,62.30 501.00,62.30 501.25,62.30 501.50,62.30 501.75,62.30 502.00,62.30 502.25,62.30 502.50,62.30 502.75,62.30 503.00,62.30 503.25,62.30 503.50,62.30 503.75,62.30 504.00,62.30 504.25,62.30 504.50,62.30 504.75,62.30 505.00,62.30 505.25,62.30 505.50,62.30 505.75,62.30 506.00,62.30 506.25,62.30 506.50,62.30 506.75,62.30 507.00,62.30 507.25,62.30 507.50,62.30 507.75,62.30 508.00,62.30 508.25,62.30 508.50,62.30 508.75,62.30" fill="none" stroke="#000" stroke-width="1.0" stroke-linejoin="miter"/>
<path d="M424.0,62.3 V33.0 H508.8 V62.3" fill="none" stroke="#929292" stroke-width="1.25"/>
<line x1="424.0" y1="33.0" x2="424.0" y2="62.3" stroke="#707070" stroke-width="1.1"/>
<line x1="423.5" y1="62.3" x2="509.3" y2="62.3" stroke="#383838" stroke-width="1.15"/>
<polyline points="45.70,96.80 45.95,96.75 46.20,96.26 46.45,96.32 46.70,95.72 46.95,94.26 47.20,95.04 47.45,94.57 47.70,95.33 47.95,94.54 48.20,92.05 48.45,92.82 48.70,91.88 48.95,89.28 49.20,89.42 49.45,86.91 49.70,88.15 49.95,84.22 50.20,87.68 50.45,84.39 50.70,83.82 50.95,80.28 51.20,81.56 51.45,76.55 51.70,78.29 51.95,74.61 52.20,75.36 52.45,72.99 52.70,72.09 52.95,73.94 53.20,72.09 53.45,70.43 53.70,70.56 53.95,69.19 54.20,69.51 54.45,72.22 54.70,74.86 54.95,72.52 55.20,70.75 55.45,74.26 55.70,75.46 55.95,76.35 56.20,75.93 56.45,75.69 56.70,81.66 56.95,78.58 57.20,81.38 57.45,83.65 57.70,80.83 57.95,83.58 58.20,84.92 58.45,85.02 58.70,87.25 58.95,85.35 59.20,87.78 59.45,84.43 59.70,86.97 59.95,88.84 60.20,89.00 60.45,90.64 60.70,89.07 60.95,89.51 61.20,92.96 61.45,91.13 61.70,91.05 61.95,91.09 62.20,92.68 62.45,93.13 62.70,92.79 62.95,92.34 63.20,92.87 63.45,93.31 63.70,93.98 63.95,94.68 64.20,95.40 64.45,94.24 64.70,95.09 64.95,94.71 65.20,93.33 65.45,95.94 65.70,94.38 65.95,95.77 66.20,95.51 66.45,95.78 66.70,95.49 66.95,95.34 67.20,95.53 67.45,94.95 67.70,96.08 67.95,95.54 68.20,96.21 68.45,96.46 68.70,96.25 68.95,96.76 69.20,95.92 69.45,95.91 69.70,96.48 69.95,96.79 70.20,96.28 70.45,96.44 70.70,96.34 70.95,96.72 71.20,96.51 71.45,96.49 71.70,96.28 71.95,96.79 72.20,96.61 72.45,96.79 72.70,96.80 72.95,96.80 73.20,96.80 73.45,96.80 73.70,96.80 73.95,96.80 74.20,96.80 74.45,96.80 74.70,96.80 74.95,96.80 75.20,96.80 75.45,96.80 75.70,96.80 75.95,96.80 76.20,96.80 76.45,96.80 76.70,96.80 76.95,96.80 77.20,96.80 77.45,96.80 77.70,96.80 77.95,96.80 78.20,96.80 78.45,96.80 78.70,96.80 78.95,96.80 79.20,96.80 79.45,96.80 79.70,96.80 79.95,96.80 80.20,96.80 80.45,96.80 80.70,96.80 80.95,96.80 81.20,96.80 81.45,96.80 81.70,96.80 81.95,96.80 82.20,96.80 82.45,96.80 82.70,96.80 82.95,96.80 83.20,96.80 83.45,96.80 83.70,96.80 83.95,96.80 84.20,96.80 84.45,96.80 84.70,96.80 84.95,96.80 85.20,96.80 85.45,96.80 85.70,96.80 85.95,96.80 86.20,96.80 86.45,96.80 86.70,96.80 86.95,96.80 87.20,96.80 87.45,96.80 87.70,96.80 87.95,96.80 88.20,96.80 88.45,96.80 88.70,96.80 88.95,96.80 89.20,96.80 89.45,96.80 89.70,96.80 89.95,96.80 90.20,96.80 90.45,96.80 90.70,96.80 90.95,96.80 91.20,96.80 91.45,96.80 91.70,96.80 91.95,96.80 92.20,96.80 92.45,96.80 92.70,96.80 92.95,96.80 93.20,96.80 93.45,96.80 93.70,96.80 93.95,96.80 94.20,96.80 94.45,96.80 94.70,96.80 94.95,96.80 95.20,96.80 95.45,96.80 95.70,96.80 95.95,96.80 96.20,96.80 96.45,96.80 96.70,96.80 96.95,96.80 97.20,96.80 97.45,96.80 97.70,96.80 97.95,96.80 98.20,96.80 98.45,96.80 98.70,96.80 98.95,96.80 99.20,96.80 99.45,96.80 99.70,96.80 99.95,96.80 100.20,96.80 100.45,96.80 100.70,96.80 100.95,96.80 101.20,96.80 101.45,96.80 101.70,96.80 101.95,96.80 102.20,96.80 102.45,96.80 102.70,96.80 102.95,96.80 103.20,96.80 103.45,96.80 103.70,96.80 103.95,96.80 104.20,96.80 104.45,96.80 104.70,96.80 104.95,96.80 105.20,96.80 105.45,96.80 105.70,96.80 105.95,96.80 106.20,96.80 106.45,96.80 106.70,96.80 106.95,96.80 107.20,96.80 107.45,96.80 107.70,96.80 107.95,96.80 108.20,96.80 108.45,96.80 108.70,96.80 108.95,96.80 109.20,96.80 109.45,96.80 109.70,96.80 109.95,96.80 110.20,96.80 110.45,96.80 110.70,96.80 110.95,96.80 111.20,96.80 111.45,96.80 111.70,96.80 111.95,96.80 112.20,96.80 112.45,96.80 112.70,96.80 112.95,96.80 113.20,96.80 113.45,96.80 113.70,96.80 113.95,96.80 114.20,96.80 114.45,96.80 114.70,96.80 114.95,96.80 115.20,96.80 115.45,96.80 115.70,96.80 115.95,96.80 116.20,96.80 116.45,96.80 116.70,96.80 116.95,96.80 117.20,96.80 117.45,96.80 117.70,96.80 117.95,96.80 118.20,96.80 118.45,96.80 118.70,96.80 118.95,96.80 119.20,96.80 119.45,96.80 119.70,96.80 119.95,96.80 120.20,96.80 120.45,96.80 120.70,96.80 120.95,96.80 121.20,96.80 121.45,96.80 121.70,96.80 121.95,96.80 122.20,96.80 122.45,96.80 122.70,96.80 122.95,96.80 123.20,96.80 123.45,96.80 123.70,96.80 123.95,96.80 124.20,96.80 124.45,96.80 124.70,96.80 124.95,96.80 125.20,96.80 125.45,96.80 125.70,96.80 125.95,96.80 126.20,96.80 126.45,96.80 126.70,96.80 126.95,96.80 127.20,96.80 127.45,96.80 127.70,96.80 127.95,96.80 128.20,96.80 128.45,96.80 128.70,96.80 128.95,96.80 129.20,96.80 129.45,96.80 129.70,96.80 129.95,96.80 130.20,96.80 130.45,96.80" fill="none" stroke="#4a4a4a" stroke-width="0.75" stroke-linejoin="miter"/>
<polyline points="45.70,96.80 45.95,96.80 46.20,95.94 46.45,94.60 46.70,94.96 46.95,94.64 47.20,93.98 47.45,94.06 47.70,95.15 47.95,93.15 48.20,89.30 48.45,91.81 48.70,86.08 48.95,88.57 49.20,87.12 49.45,88.49 49.70,89.15 49.95,79.78 50.20,83.25 50.45,84.22 50.70,79.96 50.95,77.07 51.20,76.97 51.45,75.91 51.70,78.80 51.95,76.50 52.20,76.97 52.45,73.68 52.70,73.89 52.95,72.33 53.20,74.52 53.45,72.54 53.70,67.91 53.95,67.70 54.20,68.88 54.45,74.33 54.70,67.70 54.95,70.98 55.20,70.14 55.45,71.35 55.70,74.84 55.95,71.88 56.20,71.65 56.45,73.09 56.70,69.94 56.95,78.33 57.20,75.97 57.45,81.92 57.70,77.41 57.95,77.82 58.20,76.73 58.45,78.47 58.70,80.57 58.95,79.59 59.20,73.59 59.45,85.66 59.70,83.72 59.95,86.50 60.20,84.07 60.45,91.51 60.70,85.22 60.95,82.39 61.20,91.46 61.45,87.29 61.70,92.40 61.95,87.17 62.20,89.23 62.45,85.37 62.70,86.00 62.95,90.61 63.20,93.29 63.45,90.55 63.70,92.72 63.95,93.05 64.20,92.03 64.45,96.80 64.70,89.87 64.95,93.26 65.20,91.15 65.45,92.89 65.70,96.80 65.95,92.49 66.20,93.45 66.45,92.72 66.70,94.11 66.95,93.86 67.20,93.29 67.45,94.03 67.70,96.55 67.95,93.52 68.20,93.20 68.45,93.94 68.70,94.81 68.95,96.75 69.20,96.80 69.45,96.76 69.70,96.80 69.95,96.45 70.20,96.80 70.45,96.48 70.70,96.80 70.95,96.01 71.20,96.28 71.45,96.53 71.70,96.55 71.95,96.80 72.20,96.70 72.45,96.33 72.70,96.27 72.95,96.80 73.20,96.80 73.45,96.77 73.70,96.80 73.95,96.80 74.20,96.80 74.45,96.80 74.70,96.80 74.95,96.80 75.20,96.80 75.45,96.80 75.70,96.80 75.95,96.80 76.20,96.80 76.45,96.80 76.70,96.80 76.95,96.80 77.20,96.80 77.45,96.80 77.70,96.80 77.95,96.80 78.20,96.80 78.45,96.80 78.70,96.80 78.95,96.80 79.20,96.80 79.45,96.80 79.70,96.80 79.95,96.80 80.20,96.80 80.45,96.80 80.70,96.80 80.95,96.80 81.20,96.80 81.45,96.80 81.70,96.80 81.95,96.80 82.20,96.80 82.45,96.80 82.70,96.80 82.95,96.80 83.20,96.80 83.45,96.80 83.70,96.80 83.95,96.80 84.20,96.80 84.45,96.80 84.70,96.80 84.95,96.80 85.20,96.80 85.45,96.80 85.70,96.80 85.95,96.80 86.20,96.80 86.45,96.80 86.70,96.80 86.95,96.80 87.20,96.80 87.45,96.80 87.70,96.80 87.95,96.80 88.20,96.80 88.45,96.80 88.70,96.80 88.95,96.80 89.20,96.80 89.45,96.80 89.70,96.80 89.95,96.80 90.20,96.80 90.45,96.80 90.70,96.80 90.95,96.80 91.20,96.80 91.45,96.80 91.70,96.80 91.95,96.80 92.20,96.80 92.45,96.80 92.70,96.80 92.95,96.80 93.20,96.80 93.45,96.80 93.70,96.80 93.95,96.80 94.20,96.80 94.45,96.80 94.70,96.80 94.95,96.80 95.20,96.80 95.45,96.80 95.70,96.80 95.95,96.80 96.20,96.80 96.45,96.80 96.70,96.80 96.95,96.80 97.20,96.80 97.45,96.80 97.70,96.80 97.95,96.80 98.20,96.80 98.45,96.80 98.70,96.80 98.95,96.80 99.20,96.80 99.45,96.80 99.70,96.80 99.95,96.80 100.20,96.80 100.45,96.80 100.70,96.80 100.95,96.80 101.20,96.80 101.45,96.80 101.70,96.80 101.95,96.80 102.20,96.80 102.45,96.80 102.70,96.80 102.95,96.80 103.20,96.80 103.45,96.80 103.70,96.80 103.95,96.80 104.20,96.80 104.45,96.80 104.70,96.80 104.95,96.80 105.20,96.80 105.45,96.80 105.70,96.80 105.95,96.80 106.20,96.80 106.45,96.80 106.70,96.80 106.95,96.80 107.20,96.80 107.45,96.80 107.70,96.80 107.95,96.80 108.20,96.80 108.45,96.80 108.70,96.80 108.95,96.80 109.20,96.80 109.45,96.80 109.70,96.80 109.95,96.80 110.20,96.80 110.45,96.80 110.70,96.80 110.95,96.80 111.20,96.80 111.45,96.80 111.70,96.80 111.95,96.80 112.20,96.80 112.45,96.80 112.70,96.80 112.95,96.80 113.20,96.80 113.45,96.80 113.70,96.80 113.95,96.80 114.20,96.80 114.45,96.80 114.70,96.80 114.95,96.80 115.20,96.80 115.45,96.80 115.70,96.80 115.95,96.80 116.20,96.80 116.45,96.80 116.70,96.80 116.95,96.80 117.20,96.80 117.45,96.80 117.70,96.80 117.95,96.80 118.20,96.80 118.45,96.80 118.70,96.80 118.95,96.80 119.20,96.80 119.45,96.80 119.70,96.80 119.95,96.80 120.20,96.80 120.45,96.80 120.70,96.80 120.95,96.80 121.20,96.80 121.45,96.80 121.70,96.80 121.95,96.80 122.20,96.80 122.45,96.80 122.70,96.80 122.95,96.80 123.20,96.80 123.45,96.80 123.70,96.80 123.95,96.80 124.20,96.80 124.45,96.80 124.70,96.80 124.95,96.80 125.20,96.80 125.45,96.80 125.70,96.80 125.95,96.80 126.20,96.80 126.45,96.80 126.70,96.80 126.95,96.80 127.20,96.80 127.45,96.80 127.70,96.80 127.95,96.80 128.20,96.80 128.45,96.80 128.70,96.80 128.95,96.80 129.20,96.80 129.45,96.80 129.70,96.80 129.95,96.80 130.20,96.80 130.45,96.80" fill="none" stroke="#8a8a8a" stroke-width="0.6"/>
<polyline points="45.70,96.80 45.95,96.03 46.20,96.40 46.45,95.52 46.70,96.11 46.95,92.81 47.20,95.56 47.45,93.98 47.70,94.19 47.95,89.60 48.20,91.07 48.45,92.21 48.70,90.07 48.95,89.89 49.20,89.06 49.45,86.17 49.70,87.91 49.95,81.93 50.20,86.26 50.45,80.86 50.70,78.11 50.95,77.43 51.20,73.27 51.45,75.53 51.70,72.47 51.95,75.57 52.20,69.74 52.45,78.77 52.70,72.29 52.95,74.26 53.20,70.06 53.45,73.69 53.70,71.23 53.95,69.60 54.20,72.12 54.45,69.69 54.70,68.92 54.95,71.43 55.20,72.39 55.45,71.54 55.70,67.78 55.95,74.07 56.20,70.68 56.45,78.17 56.70,76.67 56.95,75.18 57.20,74.42 57.45,77.68 57.70,77.41 57.95,82.05 58.20,81.82 58.45,78.77 58.70,80.83 58.95,82.07 59.20,85.84 59.45,79.52 59.70,80.77 59.95,85.06 60.20,84.21 60.45,88.63 60.70,85.06 60.95,86.87 61.20,88.27 61.45,92.18 61.70,90.12 61.95,91.86 62.20,87.46 62.45,90.86 62.70,87.16 62.95,89.69 63.20,92.18 63.45,89.18 63.70,89.82 63.95,91.64 64.20,95.08 64.45,91.51 64.70,91.61 64.95,92.25 65.20,94.36 65.45,95.17 65.70,95.66 65.95,96.09 66.20,95.22 66.45,93.42 66.70,93.43 66.95,95.16 67.20,95.52 67.45,94.29 67.70,94.85 67.95,94.52 68.20,95.47 68.45,95.86 68.70,94.59 68.95,96.34 69.20,95.26 69.45,96.44 69.70,95.87 69.95,96.24 70.20,96.12 70.45,96.45 70.70,95.39 70.95,96.27 71.20,96.48 71.45,96.48 71.70,95.67 71.95,96.62 72.20,96.80 72.45,96.80 72.70,96.54 72.95,96.78 73.20,96.78 73.45,96.70 73.70,96.80 73.95,96.80 74.20,96.80 74.45,96.80 74.70,96.80 74.95,96.80 75.20,96.80 75.45,96.80 75.70,96.80 75.95,96.80 76.20,96.80 76.45,96.80 76.70,96.80 76.95,96.80 77.20,96.80 77.45,96.80 77.70,96.80 77.95,96.80 78.20,96.80 78.45,96.80 78.70,96.80 78.95,96.80 79.20,96.80 79.45,96.80 79.70,96.80 79.95,96.80 80.20,96.80 80.45,96.80 80.70,96.80 80.95,96.80 81.20,96.80 81.45,96.80 81.70,96.80 81.95,96.80 82.20,96.80 82.45,96.80 82.70,96.80 82.95,96.80 83.20,96.80 83.45,96.80 83.70,96.80 83.95,96.80 84.20,96.80 84.45,96.80 84.70,96.80 84.95,96.80 85.20,96.80 85.45,96.80 85.70,96.80 85.95,96.80 86.20,96.80 86.45,96.80 86.70,96.80 86.95,96.80 87.20,96.80 87.45,96.80 87.70,96.80 87.95,96.80 88.20,96.80 88.45,96.80 88.70,96.80 88.95,96.80 89.20,96.80 89.45,96.80 89.70,96.80 89.95,96.80 90.20,96.80 90.45,96.80 90.70,96.80 90.95,96.80 91.20,96.80 91.45,96.80 91.70,96.80 91.95,96.80 92.20,96.80 92.45,96.80 92.70,96.80 92.95,96.80 93.20,96.80 93.45,96.80 93.70,96.80 93.95,96.80 94.20,96.80 94.45,96.80 94.70,96.80 94.95,96.80 95.20,96.80 95.45,96.80 95.70,96.80 95.95,96.80 96.20,96.80 96.45,96.80 96.70,96.80 96.95,96.80 97.20,96.80 97.45,96.80 97.70,96.80 97.95,96.80 98.20,96.80 98.45,96.80 98.70,96.80 98.95,96.80 99.20,96.80 99.45,96.80 99.70,96.80 99.95,96.80 100.20,96.80 100.45,96.80 100.70,96.80 100.95,96.80 101.20,96.80 101.45,96.80 101.70,96.80 101.95,96.80 102.20,96.80 102.45,96.80 102.70,96.80 102.95,96.80 103.20,96.80 103.45,96.80 103.70,96.80 103.95,96.80 104.20,96.80 104.45,96.80 104.70,96.80 104.95,96.80 105.20,96.80 105.45,96.80 105.70,96.80 105.95,96.80 106.20,96.80 106.45,96.80 106.70,96.80 106.95,96.80 107.20,96.80 107.45,96.80 107.70,96.80 107.95,96.80 108.20,96.80 108.45,96.80 108.70,96.80 108.95,96.80 109.20,96.80 109.45,96.80 109.70,96.80 109.95,96.80 110.20,96.80 110.45,96.80 110.70,96.80 110.95,96.80 111.20,96.80 111.45,96.80 111.70,96.80 111.95,96.80 112.20,96.80 112.45,96.80 112.70,96.80 112.95,96.80 113.20,96.80 113.45,96.80 113.70,96.80 113.95,96.80 114.20,96.80 114.45,96.80 114.70,96.80 114.95,96.80 115.20,96.80 115.45,96.80 115.70,96.80 115.95,96.80 116.20,96.80 116.45,96.80 116.70,96.80 116.95,96.80 117.20,96.80 117.45,96.80 117.70,96.80 117.95,96.80 118.20,96.80 118.45,96.80 118.70,96.80 118.95,96.80 119.20,96.80 119.45,96.80 119.70,96.80 119.95,96.80 120.20,96.80 120.45,96.80 120.70,96.80 120.95,96.80 121.20,96.80 121.45,96.80 121.70,96.80 121.95,96.80 122.20,96.80 122.45,96.80 122.70,96.80 122.95,96.80 123.20,96.80 123.45,96.80 123.70,96.80 123.95,96.80 124.20,96.80 124.45,96.80 124.70,96.80 124.95,96.80 125.20,96.80 125.45,96.80 125.70,96.80 125.95,96.80 126.20,96.80 126.45,96.80 126.70,96.80 126.95,96.80 127.20,96.80 127.45,96.80 127.70,96.80 127.95,96.80 128.20,96.80 128.45,96.80 128.70,96.80 128.95,96.80 129.20,96.80 129.45,96.80 129.70,96.80 129.95,96.80 130.20,96.80 130.45,96.80" fill="none" stroke="#000" stroke-width="1.0" stroke-linejoin="miter"/>
<path d="M45.7,96.8 V67.1 H130.5 V96.8" fill="none" stroke="#929292" stroke-width="1.25"/>
<line x1="45.7" y1="67.1" x2="45.7" y2="96.8" stroke="#707070" stroke-width="1.1"/>
<line x1="45.2" y1="96.8" x2="131.0" y2="96.8" stroke="#383838" stroke-width="1.15"/>
<polyline points="140.70,96.80 140.95,95.74 141.20,95.17 141.45,95.98 141.70,92.61 141.95,90.26 142.20,89.17 142.45,90.39 142.70,90.88 142.95,88.10 143.20,91.23 143.45,88.33 143.70,85.84 143.95,85.10 144.20,84.21 144.45,86.04 144.70,85.68 144.95,81.36 145.20,79.37 145.45,80.31 145.70,80.54 145.95,77.23 146.20,74.87 146.45,75.71 146.70,76.17 146.95,71.14 147.20,71.83 147.45,73.08 147.70,72.09 147.95,72.59 148.20,68.43 148.45,70.90 148.70,72.15 148.95,71.31 149.20,68.61 149.45,77.66 149.70,75.62 149.95,73.01 150.20,74.60 150.45,75.67 150.70,76.62 150.95,77.92 151.20,77.41 151.45,78.17 151.70,79.81 151.95,81.93 152.20,81.86 152.45,83.81 152.70,81.36 152.95,82.77 153.20,82.16 153.45,82.00 153.70,84.91 153.95,84.14 154.20,85.91 154.45,84.80 154.70,88.02 154.95,86.36 155.20,87.40 155.45,86.51 155.70,87.34 155.95,89.49 156.20,86.09 156.45,88.45 156.70,90.04 156.95,88.38 157.20,90.52 157.45,91.38 157.70,88.90 157.95,90.04 158.20,92.17 158.45,91.45 158.70,90.48 158.95,91.66 159.20,91.47 159.45,92.17 159.70,91.51 159.95,90.75 160.20,91.92 160.45,92.84 160.70,93.05 160.95,92.49 161.20,93.07 161.45,92.55 161.70,92.71 161.95,92.86 162.20,93.22 162.45,92.76 162.70,92.77 162.95,96.46 163.20,95.36 163.45,94.08 163.70,93.81 163.95,93.86 164.20,95.33 164.45,95.06 164.70,95.52 164.95,94.08 165.20,94.89 165.45,96.18 165.70,95.03 165.95,95.35 166.20,94.42 166.45,95.40 166.70,95.50 166.95,95.41 167.20,94.57 167.45,95.80 167.70,95.56 167.95,95.74 168.20,95.49 168.45,94.79 168.70,95.14 168.95,94.62 169.20,95.26 169.45,95.66 169.70,94.81 169.95,95.76 170.20,94.88 170.45,95.56 170.70,96.31 170.95,95.17 171.20,95.73 171.45,95.51 171.70,95.59 171.95,95.92 172.20,96.32 172.45,95.44 172.70,96.15 172.95,96.14 173.20,96.67 173.45,95.83 173.70,95.82 173.95,96.80 174.20,96.80 174.45,96.60 174.70,96.34 174.95,96.20 175.20,96.42 175.45,95.77 175.70,95.90 175.95,96.70 176.20,96.11 176.45,96.31 176.70,96.42 176.95,96.69 177.20,96.28 177.45,96.58 177.70,96.80 177.95,96.31 178.20,96.54 178.45,96.52 178.70,96.80 178.95,96.80 179.20,96.78 179.45,96.53 179.70,96.57 179.95,96.76 180.20,96.37 180.45,96.80 180.70,96.80 180.95,96.80 181.20,96.80 181.45,96.80 181.70,96.80 181.95,96.80 182.20,96.80 182.45,96.80 182.70,96.80 182.95,96.80 183.20,96.80 183.45,96.80 183.70,96.80 183.95,96.80 184.20,96.80 184.45,96.80 184.70,96.80 184.95,96.80 185.20,96.80 185.45,96.80 185.70,96.80 185.95,96.80 186.20,96.80 186.45,96.80 186.70,96.80 186.95,96.80 187.20,96.80 187.45,96.80 187.70,96.80 187.95,96.80 188.20,96.80 188.45,96.80 188.70,96.80 188.95,96.80 189.20,96.80 189.45,96.80 189.70,96.80 189.95,96.80 190.20,96.80 190.45,96.80 190.70,96.80 190.95,96.80 191.20,96.80 191.45,96.80 191.70,96.80 191.95,96.80 192.20,96.80 192.45,96.80 192.70,96.80 192.95,96.80 193.20,96.80 193.45,96.80 193.70,96.80 193.95,96.80 194.20,96.80 194.45,96.80 194.70,96.80 194.95,96.80 195.20,96.80 195.45,96.80 195.70,96.80 195.95,96.80 196.20,96.80 196.45,96.80 196.70,96.80 196.95,96.80 197.20,96.80 197.45,96.80 197.70,96.80 197.95,96.80 198.20,96.80 198.45,96.80 198.70,96.80 198.95,96.80 199.20,96.80 199.45,96.80 199.70,96.80 199.95,96.80 200.20,96.80 200.45,96.80 200.70,96.80 200.95,96.80 201.20,96.80 201.45,96.80 201.70,96.80 201.95,96.80 202.20,96.80 202.45,96.80 202.70,96.80 202.95,96.80 203.20,96.80 203.45,96.80 203.70,96.80 203.95,96.80 204.20,96.80 204.45,96.80 204.70,96.80 204.95,96.80 205.20,96.80 205.45,96.80 205.70,96.80 205.95,96.80 206.20,96.80 206.45,96.80 206.70,96.80 206.95,96.80 207.20,96.80 207.45,96.80 207.70,96.80 207.95,96.80 208.20,96.80 208.45,96.80 208.70,96.80 208.95,96.80 209.20,96.80 209.45,96.80 209.70,96.80 209.95,96.80 210.20,96.80 210.45,96.80 210.70,96.80 210.95,96.80 211.20,96.80 211.45,96.80 211.70,96.80 211.95,96.80 212.20,96.80 212.45,96.80 212.70,96.80 212.95,96.80 213.20,96.80 213.45,96.80 213.70,96.80 213.95,96.80 214.20,96.80 214.45,96.80 214.70,96.80 214.95,96.80 215.20,96.80 215.45,96.80 215.70,96.80 215.95,96.80 216.20,96.80 216.45,96.80 216.70,96.80 216.95,96.80 217.20,96.80 217.45,96.80 217.70,96.80 217.95,96.80 218.20,96.80 218.45,96.80 218.70,96.80 218.95,96.80 219.20,96.80 219.45,96.80 219.70,96.80 219.95,96.80 220.20,96.80 220.45,96.80 220.70,96.80 220.95,96.80 221.20,96.80 221.45,96.80 221.70,96.80 221.95,96.80 222.20,96.80 222.45,96.80 222.70,96.80 222.95,96.80 223.20,96.80 223.45,96.80 223.70,96.80 223.95,96.80 224.20,96.80 224.45,96.80 224.70,96.80 224.95,96.80 225.20,96.80 225.45,96.80" fill="none" stroke="#4a4a4a" stroke-width="0.75" stroke-linejoin="miter"/>
<polyline points="140.70,92.63 140.95,90.10 141.20,89.18 141.45,86.41 141.70,85.73 141.95,81.00 142.20,89.65 142.45,84.04 142.70,76.90 142.95,76.52 143.20,79.41 143.45,78.63 143.70,77.54 143.95,82.21 144.20,84.17 144.45,79.67 144.70,73.31 144.95,76.74 145.20,72.96 145.45,74.82 145.70,76.57 145.95,79.02 146.20,77.02 146.45,78.94 146.70,76.00 146.95,71.87 147.20,78.28 147.45,72.03 147.70,78.44 147.95,74.05 148.20,81.27 148.45,77.04 148.70,79.80 148.95,81.04 149.20,86.48 149.45,80.45 149.70,81.77 149.95,76.47 150.20,81.82 150.45,79.84 150.70,85.99 150.95,80.66 151.20,91.28 151.45,89.18 151.70,85.84 151.95,87.72 152.20,80.18 152.45,89.02 152.70,81.86 152.95,86.29 153.20,86.56 153.45,85.05 153.70,89.09 153.95,87.18 154.20,86.70 154.45,90.95 154.70,87.90 154.95,88.96 155.20,87.80 155.45,91.90 155.70,88.50 155.95,90.77 156.20,86.07 156.45,92.01 156.70,91.55 156.95,87.00 157.20,88.85 157.45,89.96 157.70,87.85 157.95,91.81 158.20,91.23 158.45,92.97 158.70,90.98 158.95,93.19 159.20,88.82 159.45,92.15 159.70,94.97 159.95,90.49 160.20,92.59 160.45,92.92 160.70,96.34 160.95,94.65 161.20,92.38 161.45,90.83 161.70,94.02 161.95,91.92 162.20,96.55 162.45,91.66 162.70,93.39 162.95,92.60 163.20,92.69 163.45,89.65 163.70,94.01 163.95,91.41 164.20,93.78 164.45,96.68 164.70,93.78 164.95,95.80 165.20,94.49 165.45,95.01 165.70,95.20 165.95,94.86 166.20,95.53 166.45,96.80 166.70,96.36 166.95,96.01 167.20,95.77 167.45,93.92 167.70,93.39 167.95,94.53 168.20,94.27 168.45,94.13 168.70,96.80 168.95,93.93 169.20,94.30 169.45,95.79 169.70,94.51 169.95,91.85 170.20,95.38 170.45,94.83 170.70,96.30 170.95,94.80 171.20,93.57 171.45,95.60 171.70,94.86 171.95,96.80 172.20,96.34 172.45,96.52 172.70,95.24 172.95,96.15 173.20,93.94 173.45,95.96 173.70,94.42 173.95,94.91 174.20,96.44 174.45,96.80 174.70,93.22 174.95,96.80 175.20,94.30 175.45,95.39 175.70,96.46 175.95,93.82 176.20,96.11 176.45,95.98 176.70,93.83 176.95,95.89 177.20,96.32 177.45,94.96 177.70,95.58 177.95,94.66 178.20,94.18 178.45,95.71 178.70,96.57 178.95,96.80 179.20,95.66 179.45,95.80 179.70,95.51 179.95,95.92 180.20,96.80 180.45,95.81 180.70,96.80 180.95,96.80 181.20,96.71 181.45,95.42 181.70,96.44 181.95,96.20 182.20,96.80 182.45,96.76 182.70,96.80 182.95,96.80 183.20,96.80 183.45,96.80 183.70,96.80 183.95,96.80 184.20,96.80 184.45,96.80 184.70,96.80 184.95,96.80 185.20,96.80 185.45,96.80 185.70,96.80 185.95,96.80 186.20,96.80 186.45,96.80 186.70,96.80 186.95,96.80 187.20,96.80 187.45,96.80 187.70,96.80 187.95,96.80 188.20,96.80 188.45,96.80 188.70,96.80 188.95,96.80 189.20,96.80 189.45,96.80 189.70,96.80 189.95,96.80 190.20,96.80 190.45,96.80 190.70,96.80 190.95,96.80 191.20,96.80 191.45,96.80 191.70,96.80 191.95,96.80 192.20,96.80 192.45,96.80 192.70,96.80 192.95,96.80 193.20,96.80 193.45,96.80 193.70,96.80 193.95,96.80 194.20,96.80 194.45,96.80 194.70,96.80 194.95,96.80 195.20,96.80 195.45,96.80 195.70,96.80 195.95,96.80 196.20,96.80 196.45,96.80 196.70,96.80 196.95,96.80 197.20,96.80 197.45,96.80 197.70,96.80 197.95,96.80 198.20,96.80 198.45,96.80 198.70,96.80 198.95,96.80 199.20,96.80 199.45,96.80 199.70,96.80 199.95,96.80 200.20,96.80 200.45,96.80 200.70,96.80 200.95,96.80 201.20,96.80 201.45,96.80 201.70,96.80 201.95,96.80 202.20,96.80 202.45,96.80 202.70,96.80 202.95,96.80 203.20,96.80 203.45,96.80 203.70,96.80 203.95,96.80 204.20,96.80 204.45,96.80 204.70,96.80 204.95,96.80 205.20,96.80 205.45,96.80 205.70,96.80 205.95,96.80 206.20,96.80 206.45,96.80 206.70,96.80 206.95,96.80 207.20,96.80 207.45,96.80 207.70,96.80 207.95,96.80 208.20,96.80 208.45,96.80 208.70,96.80 208.95,96.80 209.20,96.80 209.45,96.80 209.70,96.80 209.95,96.80 210.20,96.80 210.45,96.80 210.70,96.80 210.95,96.80 211.20,96.80 211.45,96.80 211.70,96.80 211.95,96.80 212.20,96.80 212.45,96.80 212.70,96.80 212.95,96.80 213.20,96.80 213.45,96.80 213.70,96.80 213.95,96.80 214.20,96.80 214.45,96.80 214.70,96.80 214.95,96.80 215.20,96.80 215.45,96.80 215.70,96.80 215.95,96.80 216.20,96.80 216.45,96.80 216.70,96.80 216.95,96.80 217.20,96.80 217.45,96.80 217.70,96.80 217.95,96.80 218.20,96.80 218.45,96.80 218.70,96.80 218.95,96.80 219.20,96.80 219.45,96.80 219.70,96.80 219.95,96.80 220.20,96.80 220.45,96.80 220.70,96.80 220.95,96.80 221.20,96.80 221.45,96.80 221.70,96.80 221.95,96.80 222.20,96.80 222.45,96.80 222.70,96.80 222.95,96.80 223.20,96.80 223.45,96.80 223.70,96.80 223.95,96.80 224.20,96.80 224.45,96.80 224.70,96.80 224.95,96.80 225.20,96.80 225.45,96.80" fill="none" stroke="#8a8a8a" stroke-width="0.6"/>
<polyline points="140.70,90.32 140.95,87.65 141.20,89.04 141.45,84.78 141.70,83.41 141.95,84.65 142.20,85.06 142.45,83.26 142.70,83.31 142.95,83.43 143.20,82.24 143.45,80.45 143.70,78.30 143.95,78.47 144.20,80.19 144.45,81.52 144.70,79.19 144.95,77.63 145.20,73.99 145.45,76.49 145.70,79.49 145.95,74.08 146.20,74.41 146.45,76.56 146.70,79.72 146.95,78.16 147.20,77.11 147.45,77.14 147.70,79.40 147.95,79.69 148.20,75.68 148.45,82.80 148.70,76.71 148.95,82.34 149.20,78.27 149.45,80.30 149.70,80.69 149.95,82.02 150.20,79.47 150.45,82.32 150.70,83.84 150.95,86.87 151.20,83.51 151.45,84.06 151.70,85.85 151.95,87.44 152.20,85.45 152.45,85.42 152.70,86.86 152.95,83.45 153.20,85.70 153.45,90.16 153.70,89.24 153.95,83.96 154.20,87.37 154.45,87.24 154.70,89.82 154.95,89.17 155.20,89.74 155.45,91.51 155.70,92.22 155.95,90.44 156.20,90.41 156.45,91.77 156.70,90.54 156.95,91.78 157.20,87.17 157.45,92.65 157.70,87.26 157.95,91.29 158.20,91.05 158.45,91.97 158.70,91.57 158.95,91.19 159.20,92.41 159.45,92.71 159.70,92.43 159.95,92.44 160.20,91.54 160.45,90.66 160.70,93.98 160.95,92.80 161.20,93.37 161.45,94.05 161.70,94.28 161.95,94.66 162.20,94.38 162.45,94.35 162.70,91.81 162.95,91.43 163.20,93.66 163.45,92.06 163.70,95.96 163.95,92.66 164.20,95.12 164.45,94.28 164.70,95.25 164.95,94.40 165.20,93.74 165.45,95.10 165.70,94.17 165.95,93.56 166.20,93.63 166.45,94.06 166.70,94.25 166.95,94.76 167.20,94.73 167.45,95.23 167.70,95.96 167.95,95.30 168.20,95.32 168.45,93.47 168.70,94.71 168.95,94.08 169.20,95.60 169.45,95.30 169.70,95.00 169.95,95.12 170.20,94.47 170.45,96.12 170.70,94.52 170.95,94.56 171.20,95.29 171.45,95.74 171.70,94.90 171.95,95.05 172.20,96.18 172.45,94.53 172.70,96.25 172.95,95.59 173.20,94.21 173.45,95.30 173.70,96.37 173.95,94.36 174.20,96.80 174.45,95.07 174.70,95.77 174.95,94.23 175.20,94.85 175.45,94.96 175.70,95.68 175.95,95.28 176.20,96.44 176.45,96.34 176.70,95.36 176.95,95.14 177.20,96.75 177.45,95.89 177.70,95.68 177.95,94.91 178.20,95.73 178.45,95.83 178.70,95.37 178.95,95.42 179.20,96.16 179.45,95.68 179.70,95.51 179.95,95.66 180.20,96.20 180.45,96.76 180.70,96.50 180.95,95.91 181.20,96.42 181.45,96.10 181.70,96.44 181.95,96.40 182.20,96.80 182.45,96.80 182.70,96.80 182.95,96.80 183.20,96.80 183.45,96.80 183.70,96.80 183.95,96.80 184.20,96.80 184.45,96.80 184.70,96.80 184.95,96.80 185.20,96.80 185.45,96.80 185.70,96.80 185.95,96.80 186.20,96.80 186.45,96.80 186.70,96.80 186.95,96.80 187.20,96.80 187.45,96.80 187.70,96.80 187.95,96.80 188.20,96.80 188.45,96.80 188.70,96.80 188.95,96.80 189.20,96.80 189.45,96.80 189.70,96.80 189.95,96.80 190.20,96.80 190.45,96.80 190.70,96.80 190.95,96.80 191.20,96.80 191.45,96.80 191.70,96.80 191.95,96.80 192.20,96.80 192.45,96.80 192.70,96.80 192.95,96.80 193.20,96.80 193.45,96.80 193.70,96.80 193.95,96.80 194.20,96.80 194.45,96.80 194.70,96.80 194.95,96.80 195.20,96.80 195.45,96.80 195.70,96.80 195.95,96.80 196.20,96.80 196.45,96.80 196.70,96.80 196.95,96.80 197.20,96.80 197.45,96.80 197.70,96.80 197.95,96.80 198.20,96.80 198.45,96.80 198.70,96.80 198.95,96.80 199.20,96.80 199.45,96.80 199.70,96.80 199.95,96.80 200.20,96.80 200.45,96.80 200.70,96.80 200.95,96.80 201.20,96.80 201.45,96.80 201.70,96.80 201.95,96.80 202.20,96.80 202.45,96.80 202.70,96.80 202.95,96.80 203.20,96.80 203.45,96.80 203.70,96.80 203.95,96.80 204.20,96.80 204.45,96.80 204.70,96.80 204.95,96.80 205.20,96.80 205.45,96.80 205.70,96.80 205.95,96.80 206.20,96.80 206.45,96.80 206.70,96.80 206.95,96.80 207.20,96.80 207.45,96.80 207.70,96.80 207.95,96.80 208.20,96.80 208.45,96.80 208.70,96.80 208.95,96.80 209.20,96.80 209.45,96.80 209.70,96.80 209.95,96.80 210.20,96.80 210.45,96.80 210.70,96.80 210.95,96.80 211.20,96.80 211.45,96.80 211.70,96.80 211.95,96.80 212.20,96.80 212.45,96.80 212.70,96.80 212.95,96.80 213.20,96.80 213.45,96.80 213.70,96.80 213.95,96.80 214.20,96.80 214.45,96.80 214.70,96.80 214.95,96.80 215.20,96.80 215.45,96.80 215.70,96.80 215.95,96.80 216.20,96.80 216.45,96.80 216.70,96.80 216.95,96.80 217.20,96.80 217.45,96.80 217.70,96.80 217.95,96.80 218.20,96.80 218.45,96.80 218.70,96.80 218.95,96.80 219.20,96.80 219.45,96.80 219.70,96.80 219.95,96.80 220.20,96.80 220.45,96.80 220.70,96.80 220.95,96.80 221.20,96.80 221.45,96.80 221.70,96.80 221.95,96.80 222.20,96.80 222.45,96.80 222.70,96.80 222.95,96.80 223.20,96.80 223.45,96.80 223.70,96.80 223.95,96.80 224.20,96.80 224.45,96.80 224.70,96.80 224.95,96.80 225.20,96.80 225.45,96.80" fill="none" stroke="#000" stroke-width="1.0" stroke-linejoin="miter"/>
<path d="M140.7,96.8 V67.1 H225.5 V96.8" fill="none" stroke="#929292" stroke-width="1.25"/>
<line x1="140.7" y1="67.1" x2="140.7" y2="96.8" stroke="#707070" stroke-width="1.1"/>
<line x1="140.2" y1="96.8" x2="226.0" y2="96.8" stroke="#383838" stroke-width="1.15"/>
<polyline points="235.30,96.09 235.55,89.85 235.80,91.63 236.05,93.84 236.30,92.82 236.55,93.79 236.80,90.97 237.05,87.13 237.30,89.04 237.55,90.29 237.80,91.81 238.05,91.67 238.30,93.49 238.55,89.31 238.80,90.25 239.05,91.95 239.30,81.95 239.55,93.78 239.80,86.48 240.05,87.65 240.30,84.76 240.55,91.06 240.80,85.65 241.05,85.08 241.30,89.51 241.55,86.30 241.80,92.05 242.05,92.79 242.30,85.86 242.55,92.69 242.80,86.25 243.05,90.04 243.30,86.07 243.55,88.88 243.80,86.85 244.05,82.76 244.30,90.54 244.55,89.62 244.80,88.51 245.05,86.03 245.30,84.92 245.55,87.10 245.80,82.77 246.05,75.40 246.30,82.41 246.55,79.37 246.80,78.85 247.05,80.76 247.30,83.82 247.55,83.15 247.80,82.05 248.05,77.95 248.30,81.97 248.55,81.10 248.80,76.97 249.05,80.72 249.30,74.85 249.55,76.45 249.80,82.44 250.05,79.46 250.30,81.62 250.55,79.10 250.80,79.98 251.05,77.82 251.30,81.89 251.55,83.75 251.80,79.86 252.05,78.68 252.30,79.74 252.55,77.07 252.80,81.68 253.05,85.67 253.30,85.18 253.55,85.23 253.80,78.89 254.05,83.22 254.30,79.27 254.55,81.76 254.80,85.34 255.05,84.05 255.30,80.97 255.55,83.78 255.80,88.05 256.05,89.59 256.30,89.78 256.55,91.03 256.80,92.26 257.05,87.02 257.30,89.01 257.55,85.83 257.80,94.47 258.05,88.19 258.30,86.47 258.55,91.68 258.80,93.83 259.05,92.10 259.30,84.69 259.55,92.75 259.80,90.04 260.05,93.49 260.30,94.89 260.55,89.79 260.80,92.61 261.05,93.90 261.30,96.22 261.55,90.30 261.80,92.60 262.05,93.33 262.30,93.02 262.55,95.65 262.80,93.89 263.05,94.09 263.30,91.50 263.55,93.51 263.80,90.91 264.05,93.52 264.30,94.43 264.55,93.94 264.80,93.54 265.05,96.46 265.30,93.76 265.55,93.83 265.80,90.85 266.05,93.89 266.30,95.35 266.55,93.43 266.80,93.83 267.05,96.80 267.30,93.21 267.55,94.95 267.80,95.02 268.05,96.80 268.30,95.26 268.55,95.28 268.80,96.80 269.05,96.80 269.30,95.87 269.55,96.22 269.80,95.55 270.05,96.12 270.30,95.34 270.55,95.54 270.80,96.00 271.05,95.84 271.30,96.33 271.55,95.94 271.80,95.98 272.05,96.41 272.30,96.80 272.55,95.50 272.80,96.80 273.05,96.72 273.30,96.17 273.55,96.65 273.80,96.76 274.05,96.49 274.30,96.64 274.55,96.80 274.80,96.80 275.05,96.47 275.30,96.80 275.55,96.80 275.80,96.80 276.05,96.80 276.30,96.80 276.55,96.80 276.80,96.80 277.05,96.80 277.30,96.80 277.55,96.80 277.80,96.80 278.05,96.80 278.30,96.80 278.55,96.80 278.80,96.80 279.05,96.80 279.30,96.80 279.55,96.80 279.80,96.80 280.05,96.80 280.30,96.80 280.55,96.80 280.80,96.80 281.05,96.80 281.30,96.80 281.55,96.80 281.80,96.80 282.05,96.80 282.30,96.80 282.55,96.80 282.80,96.80 283.05,96.80 283.30,96.80 283.55,96.80 283.80,96.80 284.05,96.80 284.30,96.80 284.55,96.80 284.80,96.80 285.05,96.80 285.30,96.80 285.55,96.80 285.80,96.80 286.05,96.80 286.30,96.80 286.55,96.80 286.80,96.80 287.05,96.80 287.30,96.80 287.55,96.80 287.80,96.80 288.05,96.80 288.30,96.80 288.55,96.80 288.80,96.80 289.05,96.80 289.30,96.80 289.55,96.80 289.80,96.80 290.05,96.80 290.30,96.80 290.55,96.80 290.80,96.80 291.05,96.80 291.30,96.80 291.55,96.80 291.80,96.80 292.05,96.80 292.30,96.80 292.55,96.80 292.80,96.80 293.05,96.80 293.30,96.80 293.55,96.80 293.80,96.80 294.05,96.80 294.30,96.80 294.55,96.80 294.80,96.80 295.05,96.80 295.30,96.80 295.55,96.80 295.80,96.80 296.05,96.80 296.30,96.80 296.55,96.80 296.80,96.80 297.05,96.80 297.30,96.80 297.55,96.80 297.80,96.80 298.05,96.80 298.30,96.80 298.55,96.80 298.80,96.80 299.05,96.80 299.30,96.80 299.55,96.80 299.80,96.80 300.05,96.80 300.30,96.80 300.55,96.80 300.80,96.80 301.05,96.80 301.30,96.80 301.55,96.80 301.80,96.80 302.05,96.80 302.30,96.80 302.55,96.80 302.80,96.80 303.05,96.80 303.30,96.80 303.55,96.80 303.80,96.80 304.05,96.80 304.30,96.80 304.55,96.80 304.80,96.80 305.05,96.80 305.30,96.80 305.55,96.80 305.80,96.80 306.05,96.80 306.30,96.80 306.55,96.80 306.80,96.80 307.05,96.80 307.30,96.80 307.55,96.80 307.80,96.80 308.05,96.80 308.30,96.80 308.55,96.80 308.80,96.80 309.05,96.80 309.30,96.80 309.55,96.80 309.80,96.80 310.05,96.80 310.30,96.80 310.55,96.80 310.80,96.80 311.05,96.80 311.30,96.80 311.55,96.80 311.80,96.80 312.05,96.80 312.30,96.80 312.55,96.80 312.80,96.80 313.05,96.80 313.30,96.80 313.55,96.80 313.80,96.80 314.05,96.80 314.30,96.80 314.55,96.80 314.80,96.80 315.05,96.80 315.30,96.80 315.55,96.80 315.80,96.80 316.05,96.80 316.30,96.80 316.55,96.80 316.80,96.80 317.05,96.80 317.30,96.80 317.55,96.80 317.80,96.80 318.05,96.80 318.30,96.80 318.55,96.80 318.80,96.80 319.05,96.80 319.30,96.80 319.55,96.80 319.80,96.80 320.05,96.80" fill="none" stroke="#8a8a8a" stroke-width="0.6"/>
<polyline points="235.30,91.50 235.55,95.15 235.80,93.39 236.05,90.99 236.30,92.03 236.55,93.13 236.80,91.67 237.05,91.82 237.30,92.33 237.55,92.47 237.80,90.44 238.05,91.46 238.30,94.66 238.55,90.47 238.80,91.03 239.05,90.87 239.30,89.73 239.55,90.69 239.80,89.24 240.05,88.38 240.30,90.55 240.55,89.63 240.80,88.08 241.05,87.67 241.30,88.23 241.55,87.99 241.80,88.00 242.05,89.93 242.30,87.06 242.55,86.54 242.80,87.18 243.05,86.52 243.30,86.08 243.55,83.50 243.80,88.45 244.05,84.90 244.30,86.41 244.55,81.21 244.80,84.17 245.05,85.48 245.30,82.51 245.55,85.22 245.80,83.64 246.05,84.73 246.30,80.41 246.55,81.93 246.80,82.13 247.05,82.51 247.30,84.44 247.55,81.59 247.80,82.10 248.05,85.13 248.30,78.64 248.55,82.65 248.80,82.80 249.05,78.51 249.30,79.90 249.55,81.49 249.80,78.48 250.05,78.57 250.30,81.09 250.55,79.28 250.80,80.42 251.05,79.38 251.30,76.99 251.55,81.94 251.80,81.63 252.05,81.56 252.30,83.26 252.55,80.46 252.80,78.80 253.05,81.96 253.30,85.41 253.55,84.56 253.80,81.52 254.05,83.79 254.30,85.28 254.55,87.71 254.80,83.29 255.05,83.79 255.30,84.95 255.55,87.57 255.80,85.53 256.05,87.77 256.30,89.60 256.55,86.93 256.80,85.54 257.05,87.50 257.30,92.18 257.55,85.14 257.80,89.31 258.05,87.88 258.30,91.76 258.55,88.55 258.80,90.84 259.05,91.79 259.30,93.17 259.55,91.69 259.80,90.12 260.05,91.40 260.30,87.87 260.55,91.43 260.80,91.39 261.05,89.78 261.30,92.01 261.55,91.80 261.80,91.60 262.05,91.26 262.30,91.44 262.55,91.32 262.80,94.43 263.05,93.15 263.30,91.58 263.55,92.73 263.80,93.31 264.05,94.42 264.30,91.19 264.55,93.93 264.80,92.92 265.05,95.40 265.30,94.84 265.55,96.14 265.80,94.36 266.05,92.67 266.30,93.83 266.55,94.74 266.80,96.02 267.05,94.94 267.30,94.56 267.55,93.85 267.80,95.27 268.05,95.88 268.30,94.51 268.55,95.12 268.80,95.71 269.05,94.83 269.30,95.19 269.55,94.77 269.80,96.35 270.05,96.39 270.30,95.15 270.55,95.77 270.80,96.80 271.05,95.85 271.30,95.67 271.55,95.70 271.80,96.48 272.05,96.80 272.30,96.63 272.55,96.23 272.80,96.15 273.05,96.63 273.30,96.34 273.55,96.11 273.80,96.80 274.05,96.56 274.30,96.80 274.55,96.30 274.80,96.65 275.05,96.77 275.30,96.80 275.55,96.80 275.80,96.80 276.05,96.80 276.30,96.80 276.55,96.80 276.80,96.80 277.05,96.80 277.30,96.80 277.55,96.80 277.80,96.80 278.05,96.80 278.30,96.80 278.55,96.80 278.80,96.80 279.05,96.80 279.30,96.80 279.55,96.80 279.80,96.80 280.05,96.80 280.30,96.80 280.55,96.80 280.80,96.80 281.05,96.80 281.30,96.80 281.55,96.80 281.80,96.80 282.05,96.80 282.30,96.80 282.55,96.80 282.80,96.80 283.05,96.80 283.30,96.80 283.55,96.80 283.80,96.80 284.05,96.80 284.30,96.80 284.55,96.80 284.80,96.80 285.05,96.80 285.30,96.80 285.55,96.80 285.80,96.80 286.05,96.80 286.30,96.80 286.55,96.80 286.80,96.80 287.05,96.80 287.30,96.80 287.55,96.80 287.80,96.80 288.05,96.80 288.30,96.80 288.55,96.80 288.80,96.80 289.05,96.80 289.30,96.80 289.55,96.80 289.80,96.80 290.05,96.80 290.30,96.80 290.55,96.80 290.80,96.80 291.05,96.80 291.30,96.80 291.55,96.80 291.80,96.80 292.05,96.80 292.30,96.80 292.55,96.80 292.80,96.80 293.05,96.80 293.30,96.80 293.55,96.80 293.80,96.80 294.05,96.80 294.30,96.80 294.55,96.80 294.80,96.80 295.05,96.80 295.30,96.80 295.55,96.80 295.80,96.80 296.05,96.80 296.30,96.80 296.55,96.80 296.80,96.80 297.05,96.80 297.30,96.80 297.55,96.80 297.80,96.80 298.05,96.80 298.30,96.80 298.55,96.80 298.80,96.80 299.05,96.80 299.30,96.80 299.55,96.80 299.80,96.80 300.05,96.80 300.30,96.80 300.55,96.80 300.80,96.80 301.05,96.80 301.30,96.80 301.55,96.80 301.80,96.80 302.05,96.80 302.30,96.80 302.55,96.80 302.80,96.80 303.05,96.80 303.30,96.80 303.55,96.80 303.80,96.80 304.05,96.80 304.30,96.80 304.55,96.80 304.80,96.80 305.05,96.80 305.30,96.80 305.55,96.80 305.80,96.80 306.05,96.80 306.30,96.80 306.55,96.80 306.80,96.80 307.05,96.80 307.30,96.80 307.55,96.80 307.80,96.80 308.05,96.80 308.30,96.80 308.55,96.80 308.80,96.80 309.05,96.80 309.30,96.80 309.55,96.80 309.80,96.80 310.05,96.80 310.30,96.80 310.55,96.80 310.80,96.80 311.05,96.80 311.30,96.80 311.55,96.80 311.80,96.80 312.05,96.80 312.30,96.80 312.55,96.80 312.80,96.80 313.05,96.80 313.30,96.80 313.55,96.80 313.80,96.80 314.05,96.80 314.30,96.80 314.55,96.80 314.80,96.80 315.05,96.80 315.30,96.80 315.55,96.80 315.80,96.80 316.05,96.80 316.30,96.80 316.55,96.80 316.80,96.80 317.05,96.80 317.30,96.80 317.55,96.80 317.80,96.80 318.05,96.80 318.30,96.80 318.55,96.80 318.80,96.80 319.05,96.80 319.30,96.80 319.55,96.80 319.80,96.80 320.05,96.80" fill="none" stroke="#000" stroke-width="1.0" stroke-linejoin="miter"/>
<path d="M235.3,96.8 V67.1 H320.1 V96.8" fill="none" stroke="#929292" stroke-width="1.25"/>
<line x1="235.3" y1="67.1" x2="235.3" y2="96.8" stroke="#707070" stroke-width="1.1"/>
<line x1="234.8" y1="96.8" x2="320.6" y2="96.8" stroke="#383838" stroke-width="1.15"/>
<polyline points="329.80,94.51 330.05,93.45 330.30,92.01 330.55,94.97 330.80,92.69 331.05,90.46 331.30,91.23 331.55,92.90 331.80,92.48 332.05,90.92 332.30,88.49 332.55,91.06 332.80,88.43 333.05,91.43 333.30,90.05 333.55,89.77 333.80,87.52 334.05,88.16 334.30,85.62 334.55,87.91 334.80,87.98 335.05,86.34 335.30,88.75 335.55,87.75 335.80,87.38 336.05,86.16 336.30,87.61 336.55,89.01 336.80,88.63 337.05,86.92 337.30,82.09 337.55,83.14 337.80,83.24 338.05,83.36 338.30,82.78 338.55,87.14 338.80,82.30 339.05,83.68 339.30,83.29 339.55,82.49 339.80,81.42 340.05,82.32 340.30,85.18 340.55,83.42 340.80,81.36 341.05,82.37 341.30,79.05 341.55,80.96 341.80,76.70 342.05,83.04 342.30,80.68 342.55,77.54 342.80,79.83 343.05,80.77 343.30,81.81 343.55,84.05 343.80,78.87 344.05,81.31 344.30,79.27 344.55,80.61 344.80,79.86 345.05,81.32 345.30,80.73 345.55,79.97 345.80,83.61 346.05,87.38 346.30,82.83 346.55,80.84 346.80,84.01 347.05,84.06 347.30,80.49 347.55,85.99 347.80,83.71 348.05,84.87 348.30,86.66 348.55,87.90 348.80,86.41 349.05,89.91 349.30,89.13 349.55,87.17 349.80,88.49 350.05,89.66 350.30,87.84 350.55,88.74 350.80,91.23 351.05,89.96 351.30,89.05 351.55,87.72 351.80,92.33 352.05,92.58 352.30,90.91 352.55,91.40 352.80,89.65 353.05,93.63 353.30,91.39 353.55,91.51 353.80,91.30 354.05,92.05 354.30,91.55 354.55,92.62 354.80,93.04 355.05,92.25 355.30,94.06 355.55,92.24 355.80,94.02 356.05,93.98 356.30,95.92 356.55,94.07 356.80,93.00 357.05,94.41 357.30,94.09 357.55,96.68 357.80,95.07 358.05,94.93 358.30,96.27 358.55,95.77 358.80,94.46 359.05,95.26 359.30,95.86 359.55,95.42 359.80,95.96 360.05,95.08 360.30,95.32 360.55,96.02 360.80,96.80 361.05,96.51 361.30,96.09 361.55,96.16 361.80,96.45 362.05,95.74 362.30,96.52 362.55,96.00 362.80,96.79 363.05,96.80 363.30,96.28 363.55,96.71 363.80,96.06 364.05,96.26 364.30,96.80 364.55,96.80 364.80,96.80 365.05,96.66 365.30,96.80 365.55,96.71 365.80,96.80 366.05,96.80 366.30,96.80 366.55,96.80 366.80,96.80 367.05,96.80 367.30,96.80 367.55,96.80 367.80,96.80 368.05,96.80 368.30,96.80 368.55,96.80 368.80,96.80 369.05,96.80 369.30,96.80 369.55,96.80 369.80,96.80 370.05,96.80 370.30,96.80 370.55,96.80 370.80,96.80 371.05,96.80 371.30,96.80 371.55,96.80 371.80,96.80 372.05,96.80 372.30,96.80 372.55,96.80 372.80,96.80 373.05,96.80 373.30,96.80 373.55,96.80 373.80,96.80 374.05,96.80 374.30,96.80 374.55,96.80 374.80,96.80 375.05,96.80 375.30,96.80 375.55,96.80 375.80,96.80 376.05,96.80 376.30,96.80 376.55,96.80 376.80,96.80 377.05,96.80 377.30,96.80 377.55,96.80 377.80,96.80 378.05,96.80 378.30,96.80 378.55,96.80 378.80,96.80 379.05,96.80 379.30,96.80 379.55,96.80 379.80,96.80 380.05,96.80 380.30,96.80 380.55,96.80 380.80,96.80 381.05,96.80 381.30,96.80 381.55,96.80 381.80,96.80 382.05,96.80 382.30,96.80 382.55,96.80 382.80,96.80 383.05,96.80 383.30,96.80 383.55,96.80 383.80,96.80 384.05,96.80 384.30,96.80 384.55,96.80 384.80,96.80 385.05,96.80 385.30,96.80 385.55,96.80 385.80,96.80 386.05,96.80 386.30,96.80 386.55,96.80 386.80,96.80 387.05,96.80 387.30,96.80 387.55,96.80 387.80,96.80 388.05,96.80 388.30,96.80 388.55,96.80 388.80,96.80 389.05,96.80 389.30,96.80 389.55,96.80 389.80,96.80 390.05,96.80 390.30,96.80 390.55,96.80 390.80,96.80 391.05,96.80 391.30,96.80 391.55,96.80 391.80,96.80 392.05,96.80 392.30,96.80 392.55,96.80 392.80,96.80 393.05,96.80 393.30,96.80 393.55,96.80 393.80,96.80 394.05,96.80 394.30,96.80 394.55,96.80 394.80,96.80 395.05,96.80 395.30,96.80 395.55,96.80 395.80,96.80 396.05,96.80 396.30,96.80 396.55,96.80 396.80,96.80 397.05,96.80 397.30,96.80 397.55,96.80 397.80,96.80 398.05,96.80 398.30,96.80 398.55,96.80 398.80,96.80 399.05,96.80 399.30,96.80 399.55,96.80 399.80,96.80 400.05,96.80 400.30,96.80 400.55,96.80 400.80,96.80 401.05,96.80 401.30,96.80 401.55,96.80 401.80,96.80 402.05,96.80 402.30,96.80 402.55,96.80 402.80,96.80 403.05,96.80 403.30,96.80 403.55,96.80 403.80,96.80 404.05,96.80 404.30,96.80 404.55,96.80 404.80,96.80 405.05,96.80 405.30,96.80 405.55,96.80 405.80,96.80 406.05,96.80 406.30,96.80 406.55,96.80 406.80,96.80 407.05,96.80 407.30,96.80 407.55,96.80 407.80,96.80 408.05,96.80 408.30,96.80 408.55,96.80 408.80,96.80 409.05,96.80 409.30,96.80 409.55,96.80 409.80,96.80 410.05,96.80 410.30,96.80 410.55,96.80 410.80,96.80 411.05,96.80 411.30,96.80 411.55,96.80 411.80,96.80 412.05,96.80 412.30,96.80 412.55,96.80 412.80,96.80 413.05,96.80 413.30,96.80 413.55,96.80 413.80,96.80 414.05,96.80 414.30,96.80 414.55,96.80" fill="none" stroke="#4a4a4a" stroke-width="0.75" stroke-linejoin="miter"/>
<polyline points="329.80,96.42 330.05,96.80 330.30,96.38 330.55,95.93 330.80,96.26 331.05,96.80 331.30,96.38 331.55,96.80 331.80,96.34 332.05,95.39 332.30,95.58 332.55,94.15 332.80,96.80 333.05,95.80 333.30,95.66 333.55,95.50 333.80,96.07 334.05,93.73 334.30,96.65 334.55,96.16 334.80,95.34 335.05,96.01 335.30,94.01 335.55,96.04 335.80,94.77 336.05,94.79 336.30,95.18 336.55,96.41 336.80,95.31 337.05,95.41 337.30,93.86 337.55,94.39 337.80,93.56 338.05,96.53 338.30,94.54 338.55,94.31 338.80,96.76 339.05,96.05 339.30,96.10 339.55,92.79 339.80,93.19 340.05,92.84 340.30,95.92 340.55,94.92 340.80,94.65 341.05,91.09 341.30,91.97 341.55,92.84 341.80,95.64 342.05,93.10 342.30,89.25 342.55,92.26 342.80,90.86 343.05,88.18 343.30,90.70 343.55,90.63 343.80,88.21 344.05,92.33 344.30,89.75 344.55,87.82 344.80,88.46 345.05,94.83 345.30,90.71 345.55,91.09 345.80,87.64 346.05,82.36 346.30,84.65 346.55,86.87 346.80,89.79 347.05,86.20 347.30,89.26 347.55,91.50 347.80,90.84 348.05,88.60 348.30,84.81 348.55,83.41 348.80,85.74 349.05,83.67 349.30,87.23 349.55,88.09 349.80,88.95 350.05,92.41 350.30,90.17 350.55,88.92 350.80,89.96 351.05,83.23 351.30,83.94 351.55,82.52 351.80,80.83 352.05,82.99 352.30,84.53 352.55,82.38 352.80,82.08 353.05,76.53 353.30,85.96 353.55,78.73 353.80,85.46 354.05,77.49 354.30,78.67 354.55,85.15 354.80,83.64 355.05,77.92 355.30,77.46 355.55,83.91 355.80,76.60 356.05,80.60 356.30,82.74 356.55,81.15 356.80,78.89 357.05,77.42 357.30,77.98 357.55,78.01 357.80,80.39 358.05,75.30 358.30,80.36 358.55,79.75 358.80,80.95 359.05,85.95 359.30,84.18 359.55,80.55 359.80,81.35 360.05,78.25 360.30,84.14 360.55,75.46 360.80,84.00 361.05,76.63 361.30,86.31 361.55,82.49 361.80,83.85 362.05,84.13 362.30,82.41 362.55,85.76 362.80,82.72 363.05,80.76 363.30,85.66 363.55,91.31 363.80,88.26 364.05,86.19 364.30,87.09 364.55,89.24 364.80,93.28 365.05,89.68 365.30,86.47 365.55,90.29 365.80,86.34 366.05,91.58 366.30,90.16 366.55,92.88 366.80,95.16 367.05,92.75 367.30,96.20 367.55,95.20 367.80,91.81 368.05,92.72 368.30,90.26 368.55,92.74 368.80,90.12 369.05,89.77 369.30,91.70 369.55,93.26 369.80,91.99 370.05,94.26 370.30,96.33 370.55,93.07 370.80,96.80 371.05,95.59 371.30,92.91 371.55,96.23 371.80,96.80 372.05,96.54 372.30,95.59 372.55,95.51 372.80,96.07 373.05,93.68 373.30,96.80 373.55,93.58 373.80,94.70 374.05,95.95 374.30,94.94 374.55,95.66 374.80,93.85 375.05,96.35 375.30,96.01 375.55,96.06 375.80,95.80 376.05,95.38 376.30,96.24 376.55,96.50 376.80,95.00 377.05,95.76 377.30,96.10 377.55,95.82 377.80,95.97 378.05,95.94 378.30,96.80 378.55,96.24 378.80,96.14 379.05,96.80 379.30,96.27 379.55,96.80 379.80,96.67 380.05,96.34 380.30,96.20 380.55,96.64 380.80,96.80 381.05,96.72 381.30,96.80 381.55,96.66 381.80,96.80 382.05,96.80 382.30,96.80 382.55,96.80 382.80,96.80 383.05,96.80 383.30,96.80 383.55,96.80 383.80,96.80 384.05,96.80 384.30,96.80 384.55,96.80 384.80,96.80 385.05,96.80 385.30,96.80 385.55,96.80 385.80,96.80 386.05,96.80 386.30,96.80 386.55,96.80 386.80,96.80 387.05,96.80 387.30,96.80 387.55,96.80 387.80,96.80 388.05,96.80 388.30,96.80 388.55,96.80 388.80,96.80 389.05,96.80 389.30,96.80 389.55,96.80 389.80,96.80 390.05,96.80 390.30,96.80 390.55,96.80 390.80,96.80 391.05,96.80 391.30,96.80 391.55,96.80 391.80,96.80 392.05,96.80 392.30,96.80 392.55,96.80 392.80,96.80 393.05,96.80 393.30,96.80 393.55,96.80 393.80,96.80 394.05,96.80 394.30,96.80 394.55,96.80 394.80,96.80 395.05,96.80 395.30,96.80 395.55,96.80 395.80,96.80 396.05,96.80 396.30,96.80 396.55,96.80 396.80,96.80 397.05,96.80 397.30,96.80 397.55,96.80 397.80,96.80 398.05,96.80 398.30,96.80 398.55,96.80 398.80,96.80 399.05,96.80 399.30,96.80 399.55,96.80 399.80,96.80 400.05,96.80 400.30,96.80 400.55,96.80 400.80,96.80 401.05,96.80 401.30,96.80 401.55,96.80 401.80,96.80 402.05,96.80 402.30,96.80 402.55,96.80 402.80,96.80 403.05,96.80 403.30,96.80 403.55,96.80 403.80,96.80 404.05,96.80 404.30,96.80 404.55,96.80 404.80,96.80 405.05,96.80 405.30,96.80 405.55,96.80 405.80,96.80 406.05,96.80 406.30,96.80 406.55,96.80 406.80,96.80 407.05,96.80 407.30,96.80 407.55,96.80 407.80,96.80 408.05,96.80 408.30,96.80 408.55,96.80 408.80,96.80 409.05,96.80 409.30,96.80 409.55,96.80 409.80,96.80 410.05,96.80 410.30,96.80 410.55,96.80 410.80,96.80 411.05,96.80 411.30,96.80 411.55,96.80 411.80,96.80 412.05,96.80 412.30,96.80 412.55,96.80 412.80,96.80 413.05,96.80 413.30,96.80 413.55,96.80 413.80,96.80 414.05,96.80 414.30,96.80 414.55,96.80" fill="none" stroke="#8a8a8a" stroke-width="0.6"/>
<polyline points="329.80,96.30 330.05,95.84 330.30,96.80 330.55,95.40 330.80,96.25 331.05,96.37 331.30,95.71 331.55,95.81 331.80,96.41 332.05,95.63 332.30,96.49 332.55,95.26 332.80,95.77 333.05,95.71 333.30,96.02 333.55,95.19 333.80,95.91 334.05,96.52 334.30,96.80 334.55,93.83 334.80,95.77 335.05,95.47 335.30,95.67 335.55,95.34 335.80,96.37 336.05,95.77 336.30,94.64 336.55,96.13 336.80,93.89 337.05,94.59 337.30,94.30 337.55,94.78 337.80,93.18 338.05,93.92 338.30,94.99 338.55,94.92 338.80,91.48 339.05,94.57 339.30,94.50 339.55,91.21 339.80,94.40 340.05,91.35 340.30,93.72 340.55,94.04 340.80,92.50 341.05,94.54 341.30,92.44 341.55,91.53 341.80,93.31 342.05,92.47 342.30,90.42 342.55,92.42 342.80,90.52 343.05,91.07 343.30,91.31 343.55,92.26 343.80,90.83 344.05,89.71 344.30,91.63 344.55,89.87 344.80,90.61 345.05,89.89 345.30,90.81 345.55,88.91 345.80,88.59 346.05,88.46 346.30,91.87 346.55,88.07 346.80,88.96 347.05,90.34 347.30,89.17 347.55,85.77 347.80,86.02 348.05,84.87 348.30,87.89 348.55,88.29 348.80,87.48 349.05,86.53 349.30,82.84 349.55,83.78 349.80,86.35 350.05,86.28 350.30,82.03 350.55,85.33 350.80,81.39 351.05,81.80 351.30,82.85 351.55,80.33 351.80,83.30 352.05,83.43 352.30,82.89 352.55,79.70 352.80,84.64 353.05,82.69 353.30,81.09 353.55,83.20 353.80,80.14 354.05,81.88 354.30,79.66 354.55,80.38 354.80,81.36 355.05,79.57 355.30,78.05 355.55,83.84 355.80,82.03 356.05,79.04 356.30,80.19 356.55,81.86 356.80,77.83 357.05,79.61 357.30,78.14 357.55,79.11 357.80,81.71 358.05,83.21 358.30,82.74 358.55,82.45 358.80,81.38 359.05,84.58 359.30,81.13 359.55,81.28 359.80,81.87 360.05,82.22 360.30,82.70 360.55,82.87 360.80,82.15 361.05,83.13 361.30,83.03 361.55,86.27 361.80,85.81 362.05,85.22 362.30,86.33 362.55,87.25 362.80,86.60 363.05,84.31 363.30,84.97 363.55,83.50 363.80,89.53 364.05,88.39 364.30,86.42 364.55,89.69 364.80,90.01 365.05,87.81 365.30,87.27 365.55,90.01 365.80,88.46 366.05,87.87 366.30,87.73 366.55,89.38 366.80,89.33 367.05,89.37 367.30,89.86 367.55,91.53 367.80,93.10 368.05,91.85 368.30,90.39 368.55,93.41 368.80,90.91 369.05,93.06 369.30,93.47 369.55,92.97 369.80,91.91 370.05,92.01 370.30,94.50 370.55,91.87 370.80,93.38 371.05,91.65 371.30,94.07 371.55,93.37 371.80,95.06 372.05,96.49 372.30,94.73 372.55,94.78 372.80,93.78 373.05,94.17 373.30,94.78 373.55,96.32 373.80,95.58 374.05,95.05 374.30,95.47 374.55,95.21 374.80,95.73 375.05,96.35 375.30,93.89 375.55,96.77 375.80,95.47 376.05,95.38 376.30,96.56 376.55,96.49 376.80,95.71 377.05,95.89 377.30,95.65 377.55,95.89 377.80,96.07 378.05,96.76 378.30,95.08 378.55,95.52 378.80,95.88 379.05,96.49 379.30,96.80 379.55,96.79 379.80,96.33 380.05,96.59 380.30,96.01 380.55,96.80 380.80,96.41 381.05,96.80 381.30,96.80 381.55,96.80 381.80,96.80 382.05,96.80 382.30,96.80 382.55,96.80 382.80,96.80 383.05,96.80 383.30,96.80 383.55,96.80 383.80,96.80 384.05,96.80 384.30,96.80 384.55,96.80 384.80,96.80 385.05,96.80 385.30,96.80 385.55,96.80 385.80,96.80 386.05,96.80 386.30,96.80 386.55,96.80 386.80,96.80 387.05,96.80 387.30,96.80 387.55,96.80 387.80,96.80 388.05,96.80 388.30,96.80 388.55,96.80 388.80,96.80 389.05,96.80 389.30,96.80 389.55,96.80 389.80,96.80 390.05,96.80 390.30,96.80 390.55,96.80 390.80,96.80 391.05,96.80 391.30,96.80 391.55,96.80 391.80,96.80 392.05,96.80 392.30,96.80 392.55,96.80 392.80,96.80 393.05,96.80 393.30,96.80 393.55,96.80 393.80,96.80 394.05,96.80 394.30,96.80 394.55,96.80 394.80,96.80 395.05,96.80 395.30,96.80 395.55,96.80 395.80,96.80 396.05,96.80 396.30,96.80 396.55,96.80 396.80,96.80 397.05,96.80 397.30,96.80 397.55,96.80 397.80,96.80 398.05,96.80 398.30,96.80 398.55,96.80 398.80,96.80 399.05,96.80 399.30,96.80 399.55,96.80 399.80,96.80 400.05,96.80 400.30,96.80 400.55,96.80 400.80,96.80 401.05,96.80 401.30,96.80 401.55,96.80 401.80,96.80 402.05,96.80 402.30,96.80 402.55,96.80 402.80,96.80 403.05,96.80 403.30,96.80 403.55,96.80 403.80,96.80 404.05,96.80 404.30,96.80 404.55,96.80 404.80,96.80 405.05,96.80 405.30,96.80 405.55,96.80 405.80,96.80 406.05,96.80 406.30,96.80 406.55,96.80 406.80,96.80 407.05,96.80 407.30,96.80 407.55,96.80 407.80,96.80 408.05,96.80 408.30,96.80 408.55,96.80 408.80,96.80 409.05,96.80 409.30,96.80 409.55,96.80 409.80,96.80 410.05,96.80 410.30,96.80 410.55,96.80 410.80,96.80 411.05,96.80 411.30,96.80 411.55,96.80 411.80,96.80 412.05,96.80 412.30,96.80 412.55,96.80 412.80,96.80 413.05,96.80 413.30,96.80 413.55,96.80 413.80,96.80 414.05,96.80 414.30,96.80 414.55,96.80" fill="none" stroke="#000" stroke-width="1.0" stroke-linejoin="miter"/>
<path d="M329.8,96.8 V67.1 H414.6 V96.8" fill="none" stroke="#929292" stroke-width="1.25"/>
<line x1="329.8" y1="67.1" x2="329.8" y2="96.8" stroke="#707070" stroke-width="1.1"/>
<line x1="329.3" y1="96.8" x2="415.1" y2="96.8" stroke="#383838" stroke-width="1.15"/>
<polyline points="424.00,96.80 424.25,96.32 424.50,96.70 424.75,96.80 425.00,96.77 425.25,95.73 425.50,96.80 425.75,95.91 426.00,95.56 426.25,96.31 426.50,96.80 426.75,95.89 427.00,96.80 427.25,95.76 427.50,91.97 427.75,93.18 428.00,95.43 428.25,95.20 428.50,89.98 428.75,90.63 429.00,88.75 429.25,84.21 429.50,86.87 429.75,86.88 430.00,87.54 430.25,86.54 430.50,85.52 430.75,84.81 431.00,82.94 431.25,81.65 431.50,79.66 431.75,79.07 432.00,79.79 432.25,77.38 432.50,79.62 432.75,76.67 433.00,77.08 433.25,78.33 433.50,67.70 433.75,72.36 434.00,71.62 434.25,71.87 434.50,74.71 434.75,73.59 435.00,71.01 435.25,76.16 435.50,79.48 435.75,71.02 436.00,77.13 436.25,74.48 436.50,75.05 436.75,77.31 437.00,76.10 437.25,75.92 437.50,76.22 437.75,77.15 438.00,75.38 438.25,82.61 438.50,78.60 438.75,82.42 439.00,78.34 439.25,79.59 439.50,84.59 439.75,84.09 440.00,83.08 440.25,89.28 440.50,80.70 440.75,86.84 441.00,82.03 441.25,83.78 441.50,79.17 441.75,80.19 442.00,83.17 442.25,86.23 442.50,82.45 442.75,84.76 443.00,91.63 443.25,81.31 443.50,86.32 443.75,95.46 444.00,85.95 444.25,87.38 444.50,86.11 444.75,93.67 445.00,92.42 445.25,87.41 445.50,85.52 445.75,93.89 446.00,91.54 446.25,87.95 446.50,91.82 446.75,89.72 447.00,88.60 447.25,92.75 447.50,88.10 447.75,88.11 448.00,90.82 448.25,91.58 448.50,93.03 448.75,91.21 449.00,92.87 449.25,91.44 449.50,91.26 449.75,93.01 450.00,90.30 450.25,91.74 450.50,92.38 450.75,92.46 451.00,91.78 451.25,91.38 451.50,92.27 451.75,92.82 452.00,95.51 452.25,93.73 452.50,91.63 452.75,93.98 453.00,93.76 453.25,95.07 453.50,96.05 453.75,95.51 454.00,95.34 454.25,93.66 454.50,96.02 454.75,93.74 455.00,96.31 455.25,95.21 455.50,94.77 455.75,93.72 456.00,96.07 456.25,95.70 456.50,94.34 456.75,94.84 457.00,96.27 457.25,94.92 457.50,95.11 457.75,96.54 458.00,96.80 458.25,96.80 458.50,95.38 458.75,95.62 459.00,96.34 459.25,95.34 459.50,96.47 459.75,96.26 460.00,95.12 460.25,95.88 460.50,96.80 460.75,95.22 461.00,96.80 461.25,95.31 461.50,96.14 461.75,95.39 462.00,94.51 462.25,96.07 462.50,96.80 462.75,96.40 463.00,96.33 463.25,96.80 463.50,96.75 463.75,96.53 464.00,96.47 464.25,96.80 464.50,96.52 464.75,95.89 465.00,96.34 465.25,96.80 465.50,96.68 465.75,96.73 466.00,96.80 466.25,96.80 466.50,96.80 466.75,96.80 467.00,96.80 467.25,96.80 467.50,96.80 467.75,96.80 468.00,96.80 468.25,96.80 468.50,96.80 468.75,96.80 469.00,96.80 469.25,96.80 469.50,96.80 469.75,96.80 470.00,96.80 470.25,96.80 470.50,96.80 470.75,96.80 471.00,96.80 471.25,96.80 471.50,96.80 471.75,96.80 472.00,96.80 472.25,96.80 472.50,96.80 472.75,96.80 473.00,96.80 473.25,96.80 473.50,96.80 473.75,96.80 474.00,96.80 474.25,96.80 474.50,96.80 474.75,96.80 475.00,96.80 475.25,96.80 475.50,96.80 475.75,96.80 476.00,96.80 476.25,96.80 476.50,96.80 476.75,96.80 477.00,96.80 477.25,96.80 477.50,96.80 477.75,96.80 478.00,96.80 478.25,96.80 478.50,96.80 478.75,96.80 479.00,96.80 479.25,96.80 479.50,96.80 479.75,96.80 480.00,96.80 480.25,96.80 480.50,96.80 480.75,96.80 481.00,96.80 481.25,96.80 481.50,96.80 481.75,96.80 482.00,96.80 482.25,96.80 482.50,96.80 482.75,96.80 483.00,96.80 483.25,96.80 483.50,96.80 483.75,96.80 484.00,96.80 484.25,96.80 484.50,96.80 484.75,96.80 485.00,96.80 485.25,96.80 485.50,96.80 485.75,96.80 486.00,96.80 486.25,96.80 486.50,96.80 486.75,96.80 487.00,96.80 487.25,96.80 487.50,96.80 487.75,96.80 488.00,96.80 488.25,96.80 488.50,96.80 488.75,96.80 489.00,96.80 489.25,96.80 489.50,96.80 489.75,96.80 490.00,96.80 490.25,96.80 490.50,96.80 490.75,96.80 491.00,96.80 491.25,96.80 491.50,96.80 491.75,96.80 492.00,96.80 492.25,96.80 492.50,96.80 492.75,96.80 493.00,96.80 493.25,96.80 493.50,96.80 493.75,96.80 494.00,96.80 494.25,96.80 494.50,96.80 494.75,96.80 495.00,96.80 495.25,96.80 495.50,96.80 495.75,96.80 496.00,96.80 496.25,96.80 496.50,96.80 496.75,96.80 497.00,96.80 497.25,96.80 497.50,96.80 497.75,96.80 498.00,96.80 498.25,96.80 498.50,96.80 498.75,96.80 499.00,96.80 499.25,96.80 499.50,96.80 499.75,96.80 500.00,96.80 500.25,96.80 500.50,96.80 500.75,96.80 501.00,96.80 501.25,96.80 501.50,96.80 501.75,96.80 502.00,96.80 502.25,96.80 502.50,96.80 502.75,96.80 503.00,96.80 503.25,96.80 503.50,96.80 503.75,96.80 504.00,96.80 504.25,96.80 504.50,96.80 504.75,96.80 505.00,96.80 505.25,96.80 505.50,96.80 505.75,96.80 506.00,96.80 506.25,96.80 506.50,96.80 506.75,96.80 507.00,96.80 507.25,96.80 507.50,96.80 507.75,96.80 508.00,96.80 508.25,96.80 508.50,96.80 508.75,96.80" fill="none" stroke="#8a8a8a" stroke-width="0.6"/>
<polyline points="424.00,96.80 424.25,96.63 424.50,96.60 424.75,96.80 425.00,96.33 425.25,96.48 425.50,96.53 425.75,96.07 426.00,95.71 426.25,96.07 426.50,96.78 426.75,96.21 427.00,95.54 427.25,94.53 427.50,95.24 427.75,94.99 428.00,92.86 428.25,90.16 428.50,88.91 428.75,89.86 429.00,92.65 429.25,86.64 429.50,86.46 429.75,87.44 430.00,88.78 430.25,85.63 430.50,82.69 430.75,82.30 431.00,82.67 431.25,82.07 431.50,83.55 431.75,82.41 432.00,79.83 432.25,74.75 432.50,75.88 432.75,75.28 433.00,74.20 433.25,71.68 433.50,74.22 433.75,71.41 434.00,76.31 434.25,72.02 434.50,73.26 434.75,69.97 435.00,67.70 435.25,73.78 435.50,73.15 435.75,81.03 436.00,73.32 436.25,74.61 436.50,75.46 436.75,78.75 437.00,81.84 437.25,78.45 437.50,77.42 437.75,77.43 438.00,78.51 438.25,77.71 438.50,78.92 438.75,84.57 439.00,79.92 439.25,77.55 439.50,83.06 439.75,84.92 440.00,79.98 440.25,80.81 440.50,83.12 440.75,83.50 441.00,80.93 441.25,86.81 441.50,80.48 441.75,84.47 442.00,84.91 442.25,84.84 442.50,86.60 442.75,82.12 443.00,85.44 443.25,89.91 443.50,87.97 443.75,88.51 444.00,85.90 444.25,91.32 444.50,89.31 444.75,86.79 445.00,86.99 445.25,89.41 445.50,88.81 445.75,91.76 446.00,86.45 446.25,90.56 446.50,92.24 446.75,91.50 447.00,92.11 447.25,94.27 447.50,91.59 447.75,93.63 448.00,88.77 448.25,88.57 448.50,89.80 448.75,92.09 449.00,89.13 449.25,89.29 449.50,91.62 449.75,92.45 450.00,92.07 450.25,92.51 450.50,92.61 450.75,93.04 451.00,91.21 451.25,92.92 451.50,92.23 451.75,91.70 452.00,94.26 452.25,91.53 452.50,92.52 452.75,94.64 453.00,93.02 453.25,94.87 453.50,94.47 453.75,94.93 454.00,95.80 454.25,94.57 454.50,95.43 454.75,95.09 455.00,96.33 455.25,93.19 455.50,93.62 455.75,94.72 456.00,96.47 456.25,94.79 456.50,94.58 456.75,95.68 457.00,94.29 457.25,93.73 457.50,94.70 457.75,96.01 458.00,94.53 458.25,96.35 458.50,95.98 458.75,95.12 459.00,95.06 459.25,95.17 459.50,94.41 459.75,95.78 460.00,96.37 460.25,95.23 460.50,95.55 460.75,94.64 461.00,96.02 461.25,96.39 461.50,96.22 461.75,95.83 462.00,96.27 462.25,95.97 462.50,95.38 462.75,95.99 463.00,96.23 463.25,95.92 463.50,95.92 463.75,96.07 464.00,96.80 464.25,96.54 464.50,96.32 464.75,96.50 465.00,96.66 465.25,96.38 465.50,96.80 465.75,96.80 466.00,96.80 466.25,96.80 466.50,96.80 466.75,96.80 467.00,96.80 467.25,96.80 467.50,96.80 467.75,96.80 468.00,96.80 468.25,96.80 468.50,96.80 468.75,96.80 469.00,96.80 469.25,96.80 469.50,96.80 469.75,96.80 470.00,96.80 470.25,96.80 470.50,96.80 470.75,96.80 471.00,96.80 471.25,96.80 471.50,96.80 471.75,96.80 472.00,96.80 472.25,96.80 472.50,96.80 472.75,96.80 473.00,96.80 473.25,96.80 473.50,96.80 473.75,96.80 474.00,96.80 474.25,96.80 474.50,96.80 474.75,96.80 475.00,96.80 475.25,96.80 475.50,96.80 475.75,96.80 476.00,96.80 476.25,96.80 476.50,96.80 476.75,96.80 477.00,96.80 477.25,96.80 477.50,96.80 477.75,96.80 478.00,96.80 478.25,96.80 478.50,96.80 478.75,96.80 479.00,96.80 479.25,96.80 479.50,96.80 479.75,96.80 480.00,96.80 480.25,96.80 480.50,96.80 480.75,96.80 481.00,96.80 481.25,96.80 481.50,96.80 481.75,96.80 482.00,96.80 482.25,96.80 482.50,96.80 482.75,96.80 483.00,96.80 483.25,96.80 483.50,96.80 483.75,96.80 484.00,96.80 484.25,96.80 484.50,96.80 484.75,96.80 485.00,96.80 485.25,96.80 485.50,96.80 485.75,96.80 486.00,96.80 486.25,96.80 486.50,96.80 486.75,96.80 487.00,96.80 487.25,96.80 487.50,96.80 487.75,96.80 488.00,96.80 488.25,96.80 488.50,96.80 488.75,96.80 489.00,96.80 489.25,96.80 489.50,96.80 489.75,96.80 490.00,96.80 490.25,96.80 490.50,96.80 490.75,96.80 491.00,96.80 491.25,96.80 491.50,96.80 491.75,96.80 492.00,96.80 492.25,96.80 492.50,96.80 492.75,96.80 493.00,96.80 493.25,96.80 493.50,96.80 493.75,96.80 494.00,96.80 494.25,96.80 494.50,96.80 494.75,96.80 495.00,96.80 495.25,96.80 495.50,96.80 495.75,96.80 496.00,96.80 496.25,96.80 496.50,96.80 496.75,96.80 497.00,96.80 497.25,96.80 497.50,96.80 497.75,96.80 498.00,96.80 498.25,96.80 498.50,96.80 498.75,96.80 499.00,96.80 499.25,96.80 499.50,96.80 499.75,96.80 500.00,96.80 500.25,96.80 500.50,96.80 500.75,96.80 501.00,96.80 501.25,96.80 501.50,96.80 501.75,96.80 502.00,96.80 502.25,96.80 502.50,96.80 502.75,96.80 503.00,96.80 503.25,96.80 503.50,96.80 503.75,96.80 504.00,96.80 504.25,96.80 504.50,96.80 504.75,96.80 505.00,96.80 505.25,96.80 505.50,96.80 505.75,96.80 506.00,96.80 506.25,96.80 506.50,96.80 506.75,96.80 507.00,96.80 507.25,96.80 507.50,96.80 507.75,96.80 508.00,96.80 508.25,96.80 508.50,96.80 508.75,96.80" fill="none" stroke="#000" stroke-width="1.0" stroke-linejoin="miter"/>
<path d="M424.0,96.8 V67.1 H508.8 V96.8" fill="none" stroke="#929292" stroke-width="1.25"/>
<line x1="424.0" y1="67.1" x2="424.0" y2="96.8" stroke="#707070" stroke-width="1.1"/>
<line x1="423.5" y1="96.8" x2="509.3" y2="96.8" stroke="#383838" stroke-width="1.15"/>
<polyline points="45.70,149.85 45.95,145.10 46.20,149.31 46.45,147.93 46.70,146.89 46.95,146.36 47.20,144.91 47.45,146.57 47.70,144.31 47.95,148.54 48.20,144.92 48.45,145.01 48.70,146.42 48.95,145.16 49.20,147.55 49.45,146.18 49.70,144.01 49.95,145.76 50.20,146.39 50.45,147.31 50.70,141.97 50.95,141.78 51.20,143.72 51.45,143.76 51.70,149.13 51.95,141.15 52.20,140.41 52.45,141.61 52.70,140.99 52.95,147.36 53.20,142.37 53.45,146.22 53.70,138.49 53.95,145.24 54.20,141.83 54.45,142.13 54.70,144.16 54.95,144.21 55.20,140.75 55.45,139.84 55.70,140.79 55.95,139.62 56.20,142.74 56.45,143.95 56.70,143.99 56.95,142.06 57.20,142.01 57.45,136.08 57.70,142.60 57.95,138.18 58.20,136.81 58.45,142.16 58.70,141.50 58.95,144.12 59.20,139.95 59.45,142.03 59.70,138.51 59.95,142.71 60.20,146.37 60.45,140.37 60.70,140.94 60.95,142.56 61.20,144.39 61.45,140.97 61.70,141.25 61.95,140.02 62.20,145.62 62.45,137.53 62.70,141.57 62.95,142.42 63.20,139.10 63.45,139.99 63.70,150.32 63.95,142.44 64.20,146.68 64.45,142.57 64.70,148.21 64.95,143.77 65.20,142.13 65.45,142.71 65.70,141.99 65.95,142.61 66.20,143.84 66.45,148.84 66.70,141.92 66.95,143.32 67.20,146.07 67.45,147.13 67.70,143.58 67.95,147.22 68.20,147.52 68.45,146.79 68.70,148.63 68.95,144.10 69.20,149.88 69.45,145.87 69.70,147.05 69.95,147.76 70.20,149.19 70.45,150.93 70.70,149.52 70.95,151.36 71.20,148.23 71.45,150.84 71.70,149.50 71.95,149.05 72.20,148.83 72.45,151.07 72.70,149.94 72.95,152.21 73.20,151.44 73.45,148.77 73.70,149.25 73.95,150.39 74.20,150.29 74.45,150.79 74.70,149.78 74.95,148.69 75.20,151.22 75.45,148.08 75.70,151.49 75.95,147.58 76.20,148.02 76.45,148.41 76.70,150.50 76.95,148.16 77.20,151.48 77.45,150.52 77.70,144.50 77.95,146.59 78.20,146.85 78.45,147.07 78.70,147.89 78.95,144.42 79.20,146.04 79.45,148.93 79.70,145.09 79.95,150.04 80.20,149.22 80.45,145.87 80.70,146.42 80.95,145.14 81.20,145.42 81.45,144.74 81.70,144.14 81.95,149.33 82.20,147.21 82.45,144.64 82.70,149.63 82.95,149.48 83.20,148.60 83.45,148.01 83.70,147.18 83.95,149.40 84.20,148.19 84.45,147.87 84.70,147.19 84.95,148.64 85.20,149.63 85.45,149.41 85.70,149.94 85.95,148.73 86.20,147.92 86.45,148.35 86.70,147.90 86.95,152.23 87.20,149.51 87.45,149.97 87.70,151.32 87.95,152.01 88.20,149.88 88.45,150.42 88.70,149.79 88.95,151.01 89.20,150.97 89.45,149.91 89.70,151.85 89.95,149.83 90.20,152.50 90.45,149.42 90.70,151.43 90.95,151.83 91.20,151.37 91.45,150.75 91.70,151.12 91.95,151.48 92.20,151.80 92.45,152.24 92.70,151.33 92.95,152.50 93.20,152.48 93.45,152.33 93.70,152.50 93.95,152.50 94.20,152.50 94.45,152.50 94.70,152.50 94.95,152.50 95.20,152.50 95.45,152.50 95.70,152.50 95.95,152.50 96.20,152.50 96.45,152.50 96.70,152.50 96.95,152.50 97.20,152.50 97.45,152.50 97.70,152.50 97.95,152.50 98.20,152.50 98.45,152.50 98.70,152.50 98.95,152.50 99.20,152.50 99.45,152.50 99.70,152.50 99.95,152.50 100.20,152.50 100.45,152.50 100.70,152.50 100.95,152.50 101.20,152.50 101.45,152.50 101.70,152.50 101.95,152.50 102.20,152.50 102.45,152.50 102.70,152.50 102.95,152.50 103.20,152.50 103.45,152.50 103.70,152.50 103.95,152.50 104.20,152.50 104.45,152.50 104.70,152.50 104.95,152.50 105.20,152.50 105.45,152.50 105.70,152.50 105.95,152.50 106.20,152.50 106.45,152.50 106.70,152.50 106.95,152.50 107.20,152.50 107.45,152.50 107.70,152.50 107.95,152.50 108.20,152.50 108.45,152.50 108.70,152.50 108.95,152.50 109.20,152.50 109.45,152.50 109.70,152.50 109.95,152.50 110.20,152.50 110.45,152.50 110.70,152.50 110.95,152.50 111.20,152.50 111.45,152.50 111.70,152.50 111.95,152.50 112.20,152.50 112.45,152.50 112.70,152.50 112.95,152.50 113.20,152.50 113.45,152.50 113.70,152.50 113.95,152.50 114.20,152.50 114.45,152.50 114.70,152.50 114.95,152.50 115.20,152.50 115.45,152.50 115.70,152.50 115.95,152.50 116.20,152.50 116.45,152.50 116.70,152.50 116.95,152.50 117.20,152.50 117.45,152.50 117.70,152.50 117.95,152.50 118.20,152.50 118.45,152.50 118.70,152.50 118.95,152.50 119.20,152.50 119.45,152.50 119.70,152.50 119.95,152.50 120.20,152.50 120.45,152.50 120.70,152.50 120.95,152.50 121.20,152.50 121.45,152.50 121.70,152.50 121.95,152.50 122.20,152.50 122.45,152.50 122.70,152.50 122.95,152.50 123.20,152.50 123.45,152.50 123.70,152.50 123.95,152.50 124.20,152.50 124.45,152.50 124.70,152.50 124.95,152.50 125.20,152.50 125.45,152.50 125.70,152.50 125.95,152.50 126.20,152.50 126.45,152.50 126.70,152.50 126.95,152.50 127.20,152.50 127.45,152.50 127.70,152.50 127.95,152.50 128.20,152.50 128.45,152.50 128.70,152.50 128.95,152.50 129.20,152.50 129.45,152.50 129.70,152.50 129.95,152.50 130.20,152.50 130.45,152.50" fill="none" stroke="#4a4a4a" stroke-width="0.75" stroke-linejoin="miter"/>
<polyline points="45.70,152.50 45.95,152.41 46.20,152.47 46.45,152.50 46.70,152.45 46.95,152.50 47.20,152.49 47.45,152.50 47.70,151.88 47.95,151.98 48.20,152.50 48.45,152.08 48.70,152.14 48.95,151.64 49.20,152.19 49.45,151.57 49.70,152.08 49.95,152.02 50.20,151.21 50.45,151.65 50.70,152.50 50.95,151.83 51.20,151.74 51.45,151.01 51.70,150.91 51.95,152.10 52.20,152.50 52.45,151.63 52.70,151.49 52.95,152.50 53.20,152.37 53.45,151.78 53.70,152.50 53.95,152.50 54.20,152.27 54.45,152.50 54.70,152.50 54.95,151.06 55.20,152.33 55.45,151.80 55.70,151.48 55.95,152.50 56.20,152.20 56.45,151.27 56.70,151.21 56.95,151.94 57.20,151.81 57.45,151.46 57.70,152.24 57.95,152.08 58.20,152.41 58.45,151.24 58.70,152.40 58.95,152.50 59.20,152.50 59.45,152.50 59.70,151.94 59.95,152.10 60.20,151.54 60.45,152.50 60.70,152.11 60.95,152.50 61.20,151.64 61.45,152.01 61.70,151.82 61.95,151.55 62.20,152.50 62.45,152.12 62.70,151.14 62.95,152.22 63.20,152.50 63.45,150.49 63.70,151.51 63.95,152.40 64.20,151.93 64.45,151.18 64.70,152.16 64.95,152.13 65.20,152.50 65.45,152.34 65.70,152.16 65.95,152.20 66.20,151.09 66.45,151.84 66.70,151.49 66.95,150.10 67.20,151.53 67.45,152.50 67.70,151.05 67.95,151.53 68.20,149.21 68.45,149.75 68.70,148.81 68.95,149.26 69.20,151.81 69.45,151.33 69.70,149.64 69.95,150.31 70.20,147.63 70.45,147.80 70.70,148.67 70.95,145.45 71.20,148.36 71.45,145.02 71.70,149.61 71.95,146.50 72.20,144.41 72.45,144.83 72.70,142.78 72.95,145.47 73.20,145.18 73.45,144.64 73.70,148.38 73.95,143.36 74.20,141.97 74.45,146.19 74.70,146.42 74.95,142.06 75.20,139.75 75.45,142.02 75.70,145.14 75.95,135.50 76.20,137.97 76.45,139.83 76.70,143.39 76.95,139.64 77.20,140.74 77.45,132.73 77.70,138.46 77.95,142.89 78.20,137.80 78.45,132.71 78.70,140.63 78.95,147.56 79.20,138.24 79.45,135.14 79.70,138.20 79.95,135.14 80.20,128.88 80.45,128.27 80.70,134.19 80.95,136.17 81.20,139.56 81.45,144.72 81.70,142.65 81.95,141.01 82.20,137.09 82.45,135.65 82.70,141.80 82.95,135.99 83.20,144.83 83.45,140.09 83.70,141.57 83.95,146.25 84.20,138.40 84.45,143.02 84.70,137.33 84.95,142.53 85.20,141.13 85.45,135.37 85.70,134.08 85.95,144.39 86.20,149.34 86.45,136.86 86.70,138.38 86.95,144.06 87.20,145.92 87.45,146.70 87.70,148.11 87.95,141.98 88.20,144.04 88.45,148.03 88.70,151.81 88.95,147.87 89.20,152.50 89.45,147.97 89.70,147.33 89.95,140.42 90.20,148.07 90.45,146.45 90.70,149.53 90.95,152.50 91.20,149.07 91.45,147.55 91.70,149.39 91.95,148.36 92.20,150.81 92.45,148.41 92.70,149.81 92.95,152.50 93.20,150.26 93.45,152.50 93.70,150.45 93.95,152.50 94.20,152.13 94.45,151.65 94.70,149.16 94.95,152.50 95.20,149.52 95.45,149.23 95.70,152.50 95.95,151.18 96.20,152.50 96.45,150.36 96.70,151.64 96.95,151.14 97.20,152.50 97.45,152.48 97.70,152.50 97.95,152.47 98.20,151.35 98.45,152.50 98.70,152.43 98.95,151.45 99.20,152.50 99.45,151.27 99.70,152.50 99.95,151.78 100.20,152.45 100.45,152.50 100.70,152.00 100.95,152.04 101.20,152.42 101.45,152.43 101.70,152.50 101.95,152.50 102.20,152.50 102.45,152.50 102.70,152.50 102.95,152.50 103.20,152.50 103.45,152.50 103.70,152.50 103.95,152.50 104.20,152.50 104.45,152.50 104.70,152.50 104.95,152.50 105.20,152.50 105.45,152.50 105.70,152.50 105.95,152.50 106.20,152.50 106.45,152.50 106.70,152.50 106.95,152.50 107.20,152.50 107.45,152.50 107.70,152.50 107.95,152.50 108.20,152.50 108.45,152.50 108.70,152.50 108.95,152.50 109.20,152.50 109.45,152.50 109.70,152.50 109.95,152.50 110.20,152.50 110.45,152.50 110.70,152.50 110.95,152.50 111.20,152.50 111.45,152.50 111.70,152.50 111.95,152.50 112.20,152.50 112.45,152.50 112.70,152.50 112.95,152.50 113.20,152.50 113.45,152.50 113.70,152.50 113.95,152.50 114.20,152.50 114.45,152.50 114.70,152.50 114.95,152.50 115.20,152.50 115.45,152.50 115.70,152.50 115.95,152.50 116.20,152.50 116.45,152.50 116.70,152.50 116.95,152.50 117.20,152.50 117.45,152.50 117.70,152.50 117.95,152.50 118.20,152.50 118.45,152.50 118.70,152.50 118.95,152.50 119.20,152.50 119.45,152.50 119.70,152.50 119.95,152.50 120.20,152.50 120.45,152.50 120.70,152.50 120.95,152.50 121.20,152.50 121.45,152.50 121.70,152.50 121.95,152.50 122.20,152.50 122.45,152.50 122.70,152.50 122.95,152.50 123.20,152.50 123.45,152.50 123.70,152.50 123.95,152.50 124.20,152.50 124.45,152.50 124.70,152.50 124.95,152.50 125.20,152.50 125.45,152.50 125.70,152.50 125.95,152.50 126.20,152.50 126.45,152.50 126.70,152.50 126.95,152.50 127.20,152.50 127.45,152.50 127.70,152.50 127.95,152.50 128.20,152.50 128.45,152.50 128.70,152.50 128.95,152.50 129.20,152.50 129.45,152.50 129.70,152.50 129.95,152.50 130.20,152.50 130.45,152.50" fill="none" stroke="#8a8a8a" stroke-width="0.6"/>
<polyline points="45.70,152.50 45.95,152.42 46.20,152.48 46.45,152.50 46.70,152.21 46.95,152.50 47.20,152.50 47.45,152.17 47.70,152.50 47.95,152.41 48.20,152.50 48.45,152.14 48.70,152.33 48.95,152.50 49.20,152.50 49.45,152.03 49.70,152.38 49.95,151.93 50.20,152.50 50.45,152.02 50.70,152.50 50.95,152.46 51.20,152.44 51.45,152.48 51.70,152.50 51.95,152.35 52.20,152.22 52.45,152.09 52.70,151.81 52.95,152.50 53.20,152.10 53.45,152.50 53.70,152.13 53.95,152.11 54.20,152.39 54.45,152.17 54.70,152.30 54.95,152.34 55.20,151.28 55.45,152.50 55.70,152.50 55.95,152.50 56.20,151.97 56.45,152.31 56.70,152.15 56.95,151.47 57.20,152.48 57.45,152.50 57.70,150.99 57.95,152.50 58.20,152.47 58.45,152.50 58.70,152.50 58.95,152.06 59.20,151.29 59.45,152.50 59.70,152.50 59.95,152.32 60.20,152.13 60.45,152.46 60.70,152.50 60.95,151.25 61.20,152.02 61.45,151.68 61.70,152.50 61.95,152.32 62.20,152.50 62.45,151.87 62.70,152.29 62.95,152.27 63.20,151.96 63.45,152.50 63.70,152.50 63.95,151.79 64.20,152.50 64.45,151.46 64.70,152.33 64.95,152.50 65.20,152.50 65.45,152.50 65.70,152.06 65.95,152.17 66.20,151.94 66.45,152.50 66.70,152.04 66.95,150.34 67.20,150.45 67.45,152.39 67.70,151.64 67.95,152.11 68.20,150.78 68.45,151.32 68.70,152.01 68.95,150.64 69.20,152.39 69.45,150.90 69.70,149.62 69.95,149.11 70.20,149.54 70.45,150.75 70.70,147.81 70.95,146.63 71.20,147.14 71.45,147.93 71.70,149.16 71.95,148.87 72.20,147.98 72.45,149.36 72.70,149.12 72.95,148.85 73.20,143.30 73.45,148.37 73.70,146.79 73.95,148.90 74.20,148.46 74.45,142.28 74.70,145.64 74.95,145.52 75.20,143.67 75.45,140.26 75.70,140.21 75.95,144.59 76.20,141.69 76.45,140.17 76.70,139.53 76.95,141.99 77.20,136.30 77.45,141.20 77.70,148.00 77.95,135.50 78.20,138.92 78.45,142.88 78.70,140.88 78.95,134.40 79.20,140.01 79.45,138.87 79.70,139.72 79.95,130.98 80.20,136.18 80.45,132.43 80.70,132.40 80.95,137.57 81.20,139.16 81.45,138.66 81.70,141.22 81.95,136.18 82.20,134.81 82.45,132.31 82.70,143.52 82.95,140.74 83.20,138.99 83.45,132.94 83.70,140.23 83.95,138.75 84.20,141.96 84.45,143.17 84.70,140.74 84.95,141.43 85.20,137.73 85.45,145.89 85.70,143.11 85.95,143.48 86.20,142.93 86.45,140.17 86.70,139.02 86.95,145.02 87.20,146.68 87.45,146.21 87.70,143.56 87.95,148.57 88.20,138.31 88.45,147.73 88.70,144.05 88.95,145.72 89.20,143.36 89.45,147.43 89.70,149.84 89.95,146.90 90.20,150.40 90.45,151.09 90.70,145.71 90.95,147.27 91.20,148.51 91.45,148.51 91.70,150.75 91.95,149.54 92.20,149.58 92.45,152.50 92.70,151.03 92.95,147.96 93.20,149.78 93.45,150.90 93.70,151.41 93.95,152.50 94.20,151.47 94.45,150.71 94.70,150.39 94.95,151.66 95.20,150.15 95.45,152.50 95.70,150.63 95.95,152.50 96.20,152.50 96.45,151.73 96.70,151.18 96.95,152.35 97.20,150.64 97.45,152.01 97.70,152.48 97.95,152.07 98.20,152.19 98.45,151.74 98.70,152.50 98.95,152.24 99.20,152.50 99.45,152.50 99.70,152.18 99.95,152.06 100.20,152.22 100.45,152.50 100.70,152.25 100.95,152.20 101.20,152.50 101.45,152.48 101.70,152.50 101.95,152.50 102.20,152.50 102.45,152.50 102.70,152.50 102.95,152.50 103.20,152.50 103.45,152.50 103.70,152.50 103.95,152.50 104.20,152.50 104.45,152.50 104.70,152.50 104.95,152.50 105.20,152.50 105.45,152.50 105.70,152.50 105.95,152.50 106.20,152.50 106.45,152.50 106.70,152.50 106.95,152.50 107.20,152.50 107.45,152.50 107.70,152.50 107.95,152.50 108.20,152.50 108.45,152.50 108.70,152.50 108.95,152.50 109.20,152.50 109.45,152.50 109.70,152.50 109.95,152.50 110.20,152.50 110.45,152.50 110.70,152.50 110.95,152.50 111.20,152.50 111.45,152.50 111.70,152.50 111.95,152.50 112.20,152.50 112.45,152.50 112.70,152.50 112.95,152.50 113.20,152.50 113.45,152.50 113.70,152.50 113.95,152.50 114.20,152.50 114.45,152.50 114.70,152.50 114.95,152.50 115.20,152.50 115.45,152.50 115.70,152.50 115.95,152.50 116.20,152.50 116.45,152.50 116.70,152.50 116.95,152.50 117.20,152.50 117.45,152.50 117.70,152.50 117.95,152.50 118.20,152.50 118.45,152.50 118.70,152.50 118.95,152.50 119.20,152.50 119.45,152.50 119.70,152.50 119.95,152.50 120.20,152.50 120.45,152.50 120.70,152.50 120.95,152.50 121.20,152.50 121.45,152.50 121.70,152.50 121.95,152.50 122.20,152.50 122.45,152.50 122.70,152.50 122.95,152.50 123.20,152.50 123.45,152.50 123.70,152.50 123.95,152.50 124.20,152.50 124.45,152.50 124.70,152.50 124.95,152.50 125.20,152.50 125.45,152.50 125.70,152.50 125.95,152.50 126.20,152.50 126.45,152.50 126.70,152.50 126.95,152.50 127.20,152.50 127.45,152.50 127.70,152.50 127.95,152.50 128.20,152.50 128.45,152.50 128.70,152.50 128.95,152.50 129.20,152.50 129.45,152.50 129.70,152.50 129.95,152.50 130.20,152.50 130.45,152.50" fill="none" stroke="#000" stroke-width="1.0" stroke-linejoin="miter"/>
<path d="M45.7,152.5 V123.0 H130.5 V152.5" fill="none" stroke="#929292" stroke-width="1.25"/>
<line x1="45.7" y1="123.0" x2="45.7" y2="152.5" stroke="#707070" stroke-width="1.1"/>
<line x1="45.2" y1="152.5" x2="131.0" y2="152.5" stroke="#383838" stroke-width="1.15"/>
<polyline points="140.70,152.05 140.95,151.87 141.20,151.33 141.45,151.52 141.70,150.23 141.95,150.28 142.20,149.79 142.45,150.09 142.70,148.41 142.95,149.58 143.20,149.43 143.45,148.31 143.70,149.50 143.95,148.70 144.20,147.28 144.45,148.05 144.70,148.65 144.95,146.70 145.20,145.53 145.45,145.98 145.70,144.61 145.95,145.71 146.20,146.35 146.45,145.19 146.70,144.34 146.95,144.76 147.20,145.10 147.45,145.16 147.70,145.01 147.95,146.84 148.20,146.55 148.45,147.19 148.70,147.16 148.95,147.37 149.20,147.42 149.45,148.71 149.70,149.09 149.95,148.68 150.20,148.09 150.45,148.24 150.70,148.18 150.95,146.48 151.20,148.47 151.45,146.93 151.70,148.19 151.95,148.67 152.20,148.79 152.45,147.89 152.70,150.25 152.95,149.78 153.20,150.00 153.45,149.82 153.70,151.31 153.95,149.86 154.20,150.96 154.45,149.88 154.70,150.99 154.95,151.11 155.20,151.54 155.45,151.41 155.70,151.08 155.95,151.41 156.20,151.65 156.45,152.05 156.70,152.28 156.95,151.69 157.20,151.41 157.45,152.00 157.70,151.90 157.95,152.28 158.20,152.26 158.45,152.50 158.70,152.50 158.95,152.50 159.20,152.50 159.45,152.50 159.70,152.50 159.95,152.50 160.20,152.50 160.45,152.50 160.70,152.50 160.95,152.50 161.20,152.50 161.45,152.50 161.70,152.50 161.95,152.50 162.20,152.50 162.45,152.50 162.70,152.50 162.95,152.50 163.20,152.50 163.45,152.50 163.70,152.50 163.95,152.50 164.20,152.50 164.45,152.50 164.70,152.50 164.95,152.50 165.20,152.50 165.45,152.50 165.70,152.50 165.95,152.50 166.20,152.50 166.45,152.50 166.70,152.50 166.95,152.50 167.20,152.50 167.45,152.50 167.70,152.50 167.95,152.50 168.20,152.50 168.45,152.50 168.70,152.50 168.95,152.50 169.20,152.50 169.45,152.50 169.70,152.50 169.95,152.50 170.20,152.50 170.45,152.50 170.70,152.50 170.95,152.50 171.20,152.50 171.45,152.50 171.70,152.50 171.95,152.50 172.20,152.50 172.45,152.50 172.70,152.50 172.95,152.50 173.20,152.50 173.45,152.50 173.70,152.50 173.95,152.50 174.20,152.50 174.45,152.50 174.70,152.50 174.95,152.50 175.20,152.50 175.45,152.50 175.70,152.50 175.95,152.50 176.20,152.50 176.45,152.50 176.70,152.50 176.95,152.50 177.20,152.50 177.45,152.50 177.70,152.50 177.95,152.50 178.20,152.50 178.45,152.50 178.70,152.50 178.95,152.50 179.20,152.50 179.45,152.50 179.70,152.50 179.95,152.50 180.20,152.50 180.45,152.50 180.70,152.50 180.95,152.50 181.20,152.50 181.45,152.50 181.70,152.50 181.95,152.50 182.20,152.50 182.45,152.50 182.70,152.50 182.95,152.50 183.20,152.50 183.45,152.50 183.70,152.50 183.95,152.50 184.20,152.50 184.45,152.50 184.70,152.50 184.95,152.50 185.20,152.50 185.45,152.50 185.70,152.50 185.95,152.50 186.20,152.50 186.45,152.50 186.70,152.50 186.95,152.50 187.20,152.50 187.45,152.50 187.70,152.50 187.95,152.50 188.20,152.50 188.45,152.50 188.70,152.50 188.95,152.50 189.20,152.50 189.45,152.50 189.70,152.50 189.95,152.50 190.20,152.50 190.45,152.50 190.70,152.50 190.95,152.50 191.20,152.50 191.45,152.50 191.70,152.50 191.95,152.50 192.20,152.50 192.45,152.50 192.70,152.50 192.95,152.50 193.20,152.50 193.45,152.50 193.70,152.50 193.95,152.50 194.20,152.50 194.45,152.50 194.70,152.50 194.95,152.50 195.20,152.50 195.45,152.50 195.70,152.50 195.95,152.50 196.20,152.50 196.45,152.50 196.70,152.50 196.95,152.50 197.20,152.50 197.45,152.50 197.70,152.50 197.95,152.50 198.20,152.50 198.45,152.50 198.70,152.50 198.95,152.50 199.20,152.50 199.45,152.50 199.70,152.50 199.95,152.50 200.20,152.50 200.45,152.50 200.70,152.50 200.95,152.50 201.20,152.50 201.45,152.50 201.70,152.50 201.95,152.50 202.20,152.50 202.45,152.50 202.70,152.50 202.95,152.50 203.20,152.50 203.45,152.50 203.70,152.50 203.95,152.50 204.20,152.50 204.45,152.50 204.70,152.50 204.95,152.50 205.20,152.50 205.45,152.50 205.70,152.50 205.95,152.50 206.20,152.50 206.45,152.50 206.70,152.50 206.95,152.50 207.20,152.50 207.45,152.50 207.70,152.50 207.95,152.50 208.20,152.50 208.45,152.50 208.70,152.50 208.95,152.50 209.20,152.50 209.45,152.50 209.70,152.50 209.95,152.50 210.20,152.50 210.45,152.50 210.70,152.50 210.95,152.50 211.20,152.50 211.45,152.50 211.70,152.50 211.95,152.50 212.20,152.50 212.45,152.50 212.70,152.50 212.95,152.50 213.20,152.50 213.45,152.50 213.70,152.50 213.95,152.50 214.20,152.50 214.45,152.50 214.70,152.50 214.95,152.50 215.20,152.50 215.45,152.50 215.70,152.50 215.95,152.50 216.20,152.50 216.45,152.50 216.70,152.50 216.95,152.50 217.20,152.50 217.45,152.50 217.70,152.50 217.95,152.50 218.20,152.50 218.45,152.50 218.70,152.50 218.95,152.50 219.20,152.50 219.45,152.50 219.70,152.50 219.95,152.50 220.20,152.50 220.45,152.50 220.70,152.50 220.95,152.50 221.20,152.50 221.45,152.50 221.70,152.50 221.95,152.50 222.20,152.50 222.45,152.50 222.70,152.50 222.95,152.50 223.20,152.50 223.45,152.50 223.70,152.50 223.95,152.50 224.20,152.50 224.45,152.50 224.70,152.50 224.95,152.50 225.20,152.50 225.45,152.50" fill="none" stroke="#4a4a4a" stroke-width="0.75" stroke-linejoin="miter"/>
<polyline points="140.70,152.27 140.95,152.09 141.20,152.50 141.45,151.02 141.70,151.48 141.95,151.51 142.20,152.29 142.45,150.35 142.70,151.26 142.95,152.50 143.20,151.07 143.45,150.99 143.70,149.58 143.95,151.73 144.20,149.22 144.45,150.96 144.70,150.19 144.95,148.82 145.20,150.48 145.45,149.64 145.70,150.13 145.95,150.40 146.20,148.46 146.45,150.54 146.70,149.69 146.95,151.42 147.20,149.75 147.45,152.36 147.70,149.54 147.95,150.24 148.20,150.86 148.45,150.46 148.70,150.54 148.95,148.64 149.20,147.85 149.45,150.89 149.70,149.87 149.95,150.10 150.20,151.97 150.45,151.33 150.70,151.22 150.95,152.48 151.20,151.20 151.45,151.58 151.70,151.62 151.95,150.99 152.20,151.86 152.45,152.06 152.70,152.33 152.95,150.79 153.20,152.24 153.45,152.31 153.70,152.31 153.95,151.88 154.20,151.56 154.45,152.50 154.70,152.50 154.95,151.87 155.20,151.42 155.45,152.06 155.70,152.11 155.95,151.96 156.20,151.39 156.45,152.44 156.70,151.56 156.95,151.77 157.20,151.65 157.45,151.84 157.70,152.50 157.95,152.06 158.20,151.55 158.45,151.81 158.70,152.28 158.95,152.14 159.20,152.16 159.45,152.23 159.70,151.82 159.95,152.47 160.20,152.45 160.45,152.04 160.70,151.37 160.95,151.90 161.20,152.50 161.45,151.93 161.70,152.12 161.95,152.34 162.20,152.07 162.45,152.19 162.70,152.08 162.95,151.59 163.20,151.91 163.45,152.33 163.70,152.50 163.95,152.38 164.20,152.08 164.45,152.35 164.70,152.50 164.95,152.27 165.20,152.10 165.45,152.15 165.70,151.57 165.95,151.82 166.20,151.16 166.45,152.50 166.70,151.70 166.95,151.63 167.20,151.82 167.45,152.17 167.70,151.64 167.95,152.29 168.20,151.64 168.45,152.12 168.70,152.44 168.95,152.32 169.20,152.08 169.45,151.51 169.70,152.11 169.95,152.12 170.20,151.60 170.45,151.86 170.70,152.50 170.95,151.61 171.20,152.48 171.45,151.84 171.70,152.30 171.95,152.46 172.20,151.90 172.45,152.33 172.70,152.31 172.95,151.81 173.20,151.10 173.45,152.50 173.70,152.37 173.95,151.91 174.20,151.75 174.45,151.99 174.70,151.63 174.95,152.37 175.20,152.50 175.45,152.40 175.70,151.80 175.95,152.38 176.20,151.67 176.45,152.17 176.70,152.25 176.95,151.34 177.20,152.36 177.45,152.38 177.70,152.23 177.95,151.86 178.20,152.14 178.45,152.50 178.70,151.43 178.95,152.50 179.20,152.29 179.45,151.95 179.70,152.50 179.95,152.27 180.20,152.00 180.45,152.24 180.70,152.50 180.95,152.50 181.20,151.89 181.45,152.16 181.70,152.50 181.95,151.70 182.20,151.95 182.45,152.50 182.70,151.89 182.95,151.87 183.20,152.16 183.45,152.43 183.70,152.25 183.95,152.22 184.20,152.25 184.45,152.41 184.70,151.62 184.95,151.78 185.20,152.35 185.45,152.01 185.70,151.64 185.95,152.50 186.20,152.15 186.45,151.77 186.70,152.20 186.95,152.34 187.20,151.60 187.45,152.25 187.70,152.40 187.95,151.73 188.20,152.35 188.45,152.09 188.70,151.91 188.95,151.47 189.20,151.41 189.45,152.31 189.70,151.19 189.95,152.38 190.20,152.21 190.45,150.69 190.70,151.11 190.95,150.96 191.20,151.62 191.45,150.23 191.70,148.70 191.95,148.49 192.20,149.60 192.45,150.49 192.70,149.62 192.95,149.38 193.20,148.56 193.45,147.89 193.70,150.65 193.95,149.72 194.20,149.52 194.45,149.40 194.70,147.44 194.95,149.54 195.20,149.26 195.45,148.96 195.70,145.80 195.95,146.48 196.20,144.47 196.45,147.65 196.70,147.83 196.95,147.12 197.20,142.55 197.45,146.92 197.70,147.08 197.95,146.97 198.20,145.91 198.45,145.47 198.70,143.51 198.95,143.33 199.20,146.45 199.45,145.97 199.70,147.02 199.95,145.85 200.20,143.28 200.45,142.94 200.70,145.16 200.95,145.53 201.20,148.60 201.45,142.22 201.70,144.36 201.95,144.89 202.20,148.45 202.45,149.00 202.70,145.47 202.95,145.32 203.20,145.24 203.45,149.07 203.70,149.31 203.95,145.49 204.20,145.84 204.45,144.71 204.70,148.24 204.95,145.92 205.20,146.76 205.45,146.82 205.70,147.25 205.95,148.62 206.20,146.57 206.45,148.17 206.70,146.52 206.95,148.14 207.20,145.12 207.45,146.55 207.70,151.27 207.95,147.46 208.20,147.36 208.45,149.96 208.70,150.12 208.95,149.02 209.20,147.57 209.45,150.93 209.70,148.32 209.95,147.88 210.20,151.25 210.45,149.60 210.70,151.69 210.95,150.52 211.20,150.02 211.45,151.17 211.70,150.80 211.95,150.10 212.20,151.30 212.45,151.36 212.70,151.68 212.95,152.06 213.20,150.65 213.45,151.12 213.70,151.07 213.95,152.50 214.20,152.50 214.45,152.07 214.70,151.10 214.95,151.63 215.20,152.50 215.45,152.50 215.70,151.84 215.95,152.15 216.20,152.50 216.45,152.50 216.70,152.50 216.95,152.50 217.20,152.50 217.45,152.50 217.70,152.50 217.95,152.50 218.20,152.50 218.45,152.50 218.70,152.50 218.95,152.50 219.20,152.50 219.45,152.50 219.70,152.50 219.95,152.50 220.20,152.50 220.45,152.50 220.70,152.50 220.95,152.50 221.20,152.50 221.45,152.50 221.70,152.50 221.95,152.50 222.20,152.50 222.45,152.50 222.70,152.50 222.95,152.50 223.20,152.50 223.45,152.50 223.70,152.50 223.95,152.50 224.20,152.50 224.45,152.50 224.70,152.50 224.95,152.50 225.20,152.50 225.45,152.50" fill="none" stroke="#8a8a8a" stroke-width="0.6"/>
<polyline points="140.70,152.50 140.95,152.08 141.20,151.80 141.45,151.28 141.70,152.08 141.95,151.58 142.20,151.54 142.45,151.43 142.70,151.59 142.95,151.00 143.20,150.94 143.45,150.84 143.70,150.79 143.95,150.89 144.20,152.07 144.45,150.59 144.70,149.63 144.95,151.89 145.20,149.12 145.45,150.99 145.70,150.66 145.95,148.89 146.20,149.64 146.45,149.98 146.70,150.50 146.95,150.13 147.20,148.68 147.45,149.43 147.70,149.62 147.95,150.92 148.20,149.78 148.45,151.23 148.70,149.53 148.95,150.14 149.20,149.81 149.45,149.67 149.70,151.99 149.95,150.62 150.20,150.93 150.45,151.03 150.70,151.47 150.95,150.84 151.20,151.67 151.45,151.14 151.70,151.88 151.95,152.11 152.20,152.24 152.45,152.45 152.70,152.10 152.95,151.84 153.20,151.77 153.45,152.15 153.70,152.31 153.95,151.33 154.20,152.14 154.45,151.68 154.70,151.52 154.95,152.15 155.20,152.02 155.45,152.02 155.70,152.16 155.95,152.27 156.20,151.87 156.45,151.62 156.70,151.34 156.95,152.14 157.20,152.11 157.45,152.29 157.70,152.50 157.95,151.70 158.20,152.00 158.45,151.60 158.70,151.68 158.95,151.91 159.20,151.98 159.45,152.20 159.70,151.80 159.95,151.66 160.20,151.86 160.45,152.50 160.70,151.52 160.95,152.36 161.20,151.75 161.45,151.99 161.70,152.08 161.95,151.64 162.20,151.55 162.45,151.97 162.70,151.52 162.95,151.64 163.20,152.20 163.45,151.63 163.70,151.94 163.95,152.50 164.20,152.09 164.45,151.82 164.70,152.50 164.95,151.85 165.20,151.84 165.45,151.80 165.70,151.99 165.95,151.88 166.20,152.11 166.45,152.43 166.70,152.36 166.95,152.30 167.20,152.50 167.45,151.91 167.70,152.41 167.95,151.74 168.20,151.90 168.45,152.15 168.70,151.99 168.95,152.44 169.20,152.30 169.45,151.51 169.70,152.08 169.95,152.11 170.20,152.18 170.45,151.83 170.70,152.09 170.95,151.56 171.20,152.19 171.45,151.67 171.70,152.30 171.95,152.17 172.20,152.36 172.45,152.06 172.70,151.84 172.95,152.50 173.20,152.38 173.45,152.28 173.70,151.76 173.95,152.09 174.20,152.38 174.45,152.16 174.70,151.70 174.95,152.08 175.20,152.49 175.45,151.82 175.70,152.37 175.95,151.82 176.20,152.07 176.45,151.75 176.70,152.27 176.95,152.08 177.20,152.04 177.45,151.56 177.70,152.41 177.95,152.48 178.20,152.50 178.45,151.81 178.70,152.48 178.95,152.11 179.20,152.02 179.45,152.08 179.70,152.07 179.95,152.30 180.20,152.16 180.45,152.39 180.70,151.95 180.95,152.31 181.20,152.50 181.45,152.50 181.70,151.86 181.95,151.82 182.20,151.86 182.45,151.93 182.70,151.73 182.95,151.71 183.20,152.28 183.45,152.24 183.70,151.98 183.95,152.41 184.20,152.16 184.45,151.79 184.70,152.24 184.95,152.17 185.20,152.26 185.45,151.77 185.70,152.01 185.95,152.16 186.20,152.28 186.45,152.43 186.70,151.59 186.95,152.22 187.20,152.32 187.45,152.50 187.70,151.83 187.95,152.13 188.20,152.48 188.45,151.55 188.70,152.01 188.95,151.82 189.20,151.72 189.45,150.72 189.70,151.45 189.95,151.12 190.20,151.14 190.45,151.55 190.70,150.50 190.95,151.63 191.20,151.80 191.45,149.10 191.70,151.57 191.95,149.72 192.20,149.18 192.45,151.44 192.70,149.18 192.95,148.19 193.20,148.63 193.45,148.91 193.70,148.52 193.95,148.29 194.20,148.33 194.45,148.41 194.70,147.03 194.95,147.63 195.20,147.42 195.45,148.02 195.70,148.42 195.95,148.03 196.20,147.18 196.45,145.17 196.70,145.71 196.95,146.28 197.20,145.93 197.45,148.86 197.70,145.51 197.95,146.06 198.20,146.91 198.45,145.10 198.70,145.66 198.95,146.29 199.20,145.78 199.45,147.16 199.70,146.46 199.95,145.85 200.20,144.49 200.45,142.14 200.70,146.21 200.95,146.45 201.20,145.04 201.45,144.53 201.70,146.32 201.95,146.32 202.20,146.00 202.45,144.94 202.70,144.90 202.95,145.63 203.20,146.76 203.45,146.02 203.70,146.54 203.95,145.74 204.20,146.09 204.45,147.27 204.70,147.59 204.95,146.63 205.20,145.02 205.45,148.87 205.70,147.64 205.95,147.20 206.20,147.38 206.45,148.18 206.70,146.97 206.95,147.75 207.20,146.87 207.45,149.00 207.70,148.64 207.95,146.33 208.20,147.72 208.45,149.52 208.70,149.19 208.95,149.30 209.20,149.98 209.45,148.58 209.70,149.59 209.95,150.78 210.20,149.86 210.45,148.17 210.70,150.22 210.95,149.69 211.20,151.47 211.45,151.70 211.70,150.88 211.95,150.38 212.20,150.15 212.45,150.93 212.70,151.24 212.95,152.36 213.20,151.42 213.45,152.50 213.70,151.87 213.95,151.74 214.20,151.78 214.45,151.83 214.70,151.85 214.95,151.80 215.20,152.39 215.45,152.46 215.70,152.50 215.95,152.50 216.20,152.19 216.45,152.50 216.70,152.50 216.95,152.50 217.20,152.50 217.45,152.50 217.70,152.50 217.95,152.50 218.20,152.50 218.45,152.50 218.70,152.50 218.95,152.50 219.20,152.50 219.45,152.50 219.70,152.50 219.95,152.50 220.20,152.50 220.45,152.50 220.70,152.50 220.95,152.50 221.20,152.50 221.45,152.50 221.70,152.50 221.95,152.50 222.20,152.50 222.45,152.50 222.70,152.50 222.95,152.50 223.20,152.50 223.45,152.50 223.70,152.50 223.95,152.50 224.20,152.50 224.45,152.50 224.70,152.50 224.95,152.50 225.20,152.50 225.45,152.50" fill="none" stroke="#000" stroke-width="1.0" stroke-linejoin="miter"/>
<path d="M140.7,152.5 V123.0 H225.5 V152.5" fill="none" stroke="#929292" stroke-width="1.25"/>
<line x1="140.7" y1="123.0" x2="140.7" y2="152.5" stroke="#707070" stroke-width="1.1"/>
<line x1="140.2" y1="152.5" x2="226.0" y2="152.5" stroke="#383838" stroke-width="1.15"/>
<polyline points="235.30,150.58 235.55,149.86 235.80,147.97 236.05,149.13 236.30,148.26 236.55,148.59 236.80,149.93 237.05,148.52 237.30,149.47 237.55,149.43 237.80,148.89 238.05,150.77 238.30,147.47 238.55,149.66 238.80,147.58 239.05,148.58 239.30,146.81 239.55,149.47 239.80,148.99 240.05,148.13 240.30,151.29 240.55,147.34 240.80,146.30 241.05,146.72 241.30,147.10 241.55,148.20 241.80,146.16 242.05,146.33 242.30,147.16 242.55,147.59 242.80,148.01 243.05,149.16 243.30,145.53 243.55,150.36 243.80,147.64 244.05,146.76 244.30,145.61 244.55,144.14 244.80,145.19 245.05,147.05 245.30,145.37 245.55,148.41 245.80,144.17 246.05,146.60 246.30,147.36 246.55,147.26 246.80,146.30 247.05,146.78 247.30,142.44 247.55,147.20 247.80,145.95 248.05,145.90 248.30,145.85 248.55,145.76 248.80,146.59 249.05,146.71 249.30,147.12 249.55,148.11 249.80,145.24 250.05,143.91 250.30,146.41 250.55,146.39 250.80,145.93 251.05,146.13 251.30,147.74 251.55,142.93 251.80,144.45 252.05,146.37 252.30,144.59 252.55,145.81 252.80,145.37 253.05,144.32 253.30,143.24 253.55,142.19 253.80,141.81 254.05,145.19 254.30,145.58 254.55,144.47 254.80,144.37 255.05,145.86 255.30,145.61 255.55,143.21 255.80,141.92 256.05,145.34 256.30,146.21 256.55,145.73 256.80,147.08 257.05,146.00 257.30,145.00 257.55,145.98 257.80,144.01 258.05,145.91 258.30,145.54 258.55,146.68 258.80,144.58 259.05,148.60 259.30,147.35 259.55,148.78 259.80,146.00 260.05,146.13 260.30,148.23 260.55,145.34 260.80,148.21 261.05,149.82 261.30,148.47 261.55,147.78 261.80,148.70 262.05,145.70 262.30,147.65 262.55,146.76 262.80,147.36 263.05,151.10 263.30,149.73 263.55,152.46 263.80,150.30 264.05,148.58 264.30,150.76 264.55,150.68 264.80,149.89 265.05,149.62 265.30,150.82 265.55,150.85 265.80,150.07 266.05,150.67 266.30,151.22 266.55,150.89 266.80,151.20 267.05,151.20 267.30,150.23 267.55,151.81 267.80,152.05 268.05,151.17 268.30,152.32 268.55,151.46 268.80,152.31 269.05,152.36 269.30,152.50 269.55,152.50 269.80,152.50 270.05,152.50 270.30,152.50 270.55,152.50 270.80,152.50 271.05,152.50 271.30,152.50 271.55,152.50 271.80,152.50 272.05,152.50 272.30,152.50 272.55,152.50 272.80,152.50 273.05,152.50 273.30,152.50 273.55,152.50 273.80,152.50 274.05,152.50 274.30,152.50 274.55,152.50 274.80,152.50 275.05,152.50 275.30,152.50 275.55,152.50 275.80,152.50 276.05,152.50 276.30,152.50 276.55,152.50 276.80,152.50 277.05,152.50 277.30,152.50 277.55,152.50 277.80,152.50 278.05,152.50 278.30,152.50 278.55,152.50 278.80,152.50 279.05,152.50 279.30,152.50 279.55,152.50 279.80,152.50 280.05,152.50 280.30,152.50 280.55,152.50 280.80,152.50 281.05,152.50 281.30,152.50 281.55,152.50 281.80,152.50 282.05,152.50 282.30,152.50 282.55,152.50 282.80,152.50 283.05,152.50 283.30,152.50 283.55,152.50 283.80,152.50 284.05,152.50 284.30,152.50 284.55,152.50 284.80,152.50 285.05,152.50 285.30,152.50 285.55,152.50 285.80,152.50 286.05,152.50 286.30,152.50 286.55,152.50 286.80,152.50 287.05,152.50 287.30,152.50 287.55,152.50 287.80,152.50 288.05,152.50 288.30,152.50 288.55,152.50 288.80,152.50 289.05,152.50 289.30,152.50 289.55,152.50 289.80,152.50 290.05,152.50 290.30,152.50 290.55,152.50 290.80,152.50 291.05,152.50 291.30,152.50 291.55,152.50 291.80,152.50 292.05,152.50 292.30,152.50 292.55,152.50 292.80,152.50 293.05,152.50 293.30,152.50 293.55,152.50 293.80,152.50 294.05,152.50 294.30,152.50 294.55,152.50 294.80,152.50 295.05,152.50 295.30,152.50 295.55,152.50 295.80,152.50 296.05,152.50 296.30,152.50 296.55,152.50 296.80,152.50 297.05,152.50 297.30,152.50 297.55,152.50 297.80,152.50 298.05,152.50 298.30,152.50 298.55,152.50 298.80,152.50 299.05,152.50 299.30,152.50 299.55,152.50 299.80,152.50 300.05,152.50 300.30,152.50 300.55,152.50 300.80,152.50 301.05,152.50 301.30,152.50 301.55,152.50 301.80,152.50 302.05,152.50 302.30,152.50 302.55,152.50 302.80,152.50 303.05,152.50 303.30,152.50 303.55,152.50 303.80,152.50 304.05,152.50 304.30,152.50 304.55,152.50 304.80,152.50 305.05,152.50 305.30,152.50 305.55,152.50 305.80,152.50 306.05,152.50 306.30,152.50 306.55,152.50 306.80,152.50 307.05,152.50 307.30,152.50 307.55,152.50 307.80,152.50 308.05,152.50 308.30,152.50 308.55,152.50 308.80,152.50 309.05,152.50 309.30,152.50 309.55,152.50 309.80,152.50 310.05,152.50 310.30,152.50 310.55,152.50 310.80,152.50 311.05,152.50 311.30,152.50 311.55,152.50 311.80,152.50 312.05,152.50 312.30,152.50 312.55,152.50 312.80,152.50 313.05,152.50 313.30,152.50 313.55,152.50 313.80,152.50 314.05,152.50 314.30,152.50 314.55,152.50 314.80,152.50 315.05,152.50 315.30,152.50 315.55,152.50 315.80,152.50 316.05,152.50 316.30,152.50 316.55,152.50 316.80,152.50 317.05,152.50 317.30,152.50 317.55,152.50 317.80,152.50 318.05,152.50 318.30,152.50 318.55,152.50 318.80,152.50 319.05,152.50 319.30,152.50 319.55,152.50 319.80,152.50 320.05,152.50" fill="none" stroke="#4a4a4a" stroke-width="0.75" stroke-linejoin="miter"/>
<polyline points="235.30,149.20 235.55,147.19 235.80,150.34 236.05,147.71 236.30,144.43 236.55,149.87 236.80,148.50 237.05,147.45 237.30,144.28 237.55,146.06 237.80,147.82 238.05,144.37 238.30,149.28 238.55,146.89 238.80,143.69 239.05,148.81 239.30,146.88 239.55,147.44 239.80,145.48 240.05,146.66 240.30,147.74 240.55,147.87 240.80,147.73 241.05,143.75 241.30,148.85 241.55,145.13 241.80,152.50 242.05,146.77 242.30,138.41 242.55,143.27 242.80,142.67 243.05,138.21 243.30,145.35 243.55,146.55 243.80,139.63 244.05,148.68 244.30,152.38 244.55,142.37 244.80,141.91 245.05,145.08 245.30,147.86 245.55,149.66 245.80,145.10 246.05,151.39 246.30,144.20 246.55,141.31 246.80,147.49 247.05,144.33 247.30,146.95 247.55,135.59 247.80,138.88 248.05,139.95 248.30,146.10 248.55,140.60 248.80,147.30 249.05,141.62 249.30,145.77 249.55,141.31 249.80,144.94 250.05,140.62 250.30,144.56 250.55,138.16 250.80,148.04 251.05,146.03 251.30,150.15 251.55,145.07 251.80,147.43 252.05,146.47 252.30,152.50 252.55,142.62 252.80,142.85 253.05,143.08 253.30,136.99 253.55,142.55 253.80,140.00 254.05,139.85 254.30,141.57 254.55,133.11 254.80,144.45 255.05,138.68 255.30,135.77 255.55,138.91 255.80,136.41 256.05,134.03 256.30,142.17 256.55,151.71 256.80,131.71 257.05,139.42 257.30,141.24 257.55,142.78 257.80,140.68 258.05,137.93 258.30,137.29 258.55,146.43 258.80,134.61 259.05,140.30 259.30,139.78 259.55,134.51 259.80,140.15 260.05,140.25 260.30,144.53 260.55,150.08 260.80,147.12 261.05,145.04 261.30,152.50 261.55,135.39 261.80,147.69 262.05,146.02 262.30,145.31 262.55,141.37 262.80,143.54 263.05,144.99 263.30,146.93 263.55,144.36 263.80,149.73 264.05,148.15 264.30,147.95 264.55,147.04 264.80,149.18 265.05,149.47 265.30,146.35 265.55,144.47 265.80,149.55 266.05,150.00 266.30,144.83 266.55,147.05 266.80,150.07 267.05,150.38 267.30,147.67 267.55,148.25 267.80,150.22 268.05,150.47 268.30,152.19 268.55,152.47 268.80,150.81 269.05,152.50 269.30,150.05 269.55,151.45 269.80,152.50 270.05,151.62 270.30,152.50 270.55,151.57 270.80,152.50 271.05,152.21 271.30,150.92 271.55,151.97 271.80,152.50 272.05,152.35 272.30,150.61 272.55,152.50 272.80,151.09 273.05,151.76 273.30,152.10 273.55,151.13 273.80,152.50 274.05,152.50 274.30,152.06 274.55,152.50 274.80,152.25 275.05,152.01 275.30,152.50 275.55,152.50 275.80,152.50 276.05,152.50 276.30,152.50 276.55,152.50 276.80,152.50 277.05,152.50 277.30,152.50 277.55,152.50 277.80,152.50 278.05,152.50 278.30,152.50 278.55,152.50 278.80,152.50 279.05,152.50 279.30,152.50 279.55,152.50 279.80,152.50 280.05,152.50 280.30,152.50 280.55,152.50 280.80,152.50 281.05,152.50 281.30,152.50 281.55,152.50 281.80,152.50 282.05,152.50 282.30,152.50 282.55,152.50 282.80,152.50 283.05,152.50 283.30,152.50 283.55,152.50 283.80,152.50 284.05,152.50 284.30,152.50 284.55,152.50 284.80,152.50 285.05,152.50 285.30,152.50 285.55,152.50 285.80,152.50 286.05,152.50 286.30,152.50 286.55,152.50 286.80,152.50 287.05,152.50 287.30,152.50 287.55,152.50 287.80,152.50 288.05,152.50 288.30,152.50 288.55,152.50 288.80,152.50 289.05,152.50 289.30,152.50 289.55,152.50 289.80,152.50 290.05,152.50 290.30,152.50 290.55,152.50 290.80,152.50 291.05,152.50 291.30,152.50 291.55,152.50 291.80,152.50 292.05,152.50 292.30,152.50 292.55,152.50 292.80,152.50 293.05,152.50 293.30,152.50 293.55,152.50 293.80,152.50 294.05,152.50 294.30,152.50 294.55,152.50 294.80,152.50 295.05,152.50 295.30,152.50 295.55,152.50 295.80,152.50 296.05,152.50 296.30,152.50 296.55,152.50 296.80,152.50 297.05,152.50 297.30,152.50 297.55,152.50 297.80,152.50 298.05,152.50 298.30,152.50 298.55,152.50 298.80,152.50 299.05,152.50 299.30,152.50 299.55,152.50 299.80,152.50 300.05,152.50 300.30,152.50 300.55,152.50 300.80,152.50 301.05,152.50 301.30,152.50 301.55,152.50 301.80,152.50 302.05,152.50 302.30,152.50 302.55,152.50 302.80,152.50 303.05,152.50 303.30,152.50 303.55,152.50 303.80,152.50 304.05,152.50 304.30,152.50 304.55,152.50 304.80,152.50 305.05,152.50 305.30,152.50 305.55,152.50 305.80,152.50 306.05,152.50 306.30,152.50 306.55,152.50 306.80,152.50 307.05,152.50 307.30,152.50 307.55,152.50 307.80,152.50 308.05,152.50 308.30,152.50 308.55,152.50 308.80,152.50 309.05,152.50 309.30,152.50 309.55,152.50 309.80,152.50 310.05,152.50 310.30,152.50 310.55,152.50 310.80,152.50 311.05,152.50 311.30,152.50 311.55,152.50 311.80,152.50 312.05,152.50 312.30,152.50 312.55,152.50 312.80,152.50 313.05,152.50 313.30,152.50 313.55,152.50 313.80,152.50 314.05,152.50 314.30,152.50 314.55,152.50 314.80,152.50 315.05,152.50 315.30,152.50 315.55,152.50 315.80,152.50 316.05,152.50 316.30,152.50 316.55,152.50 316.80,152.50 317.05,152.50 317.30,152.50 317.55,152.50 317.80,152.50 318.05,152.50 318.30,152.50 318.55,152.50 318.80,152.50 319.05,152.50 319.30,152.50 319.55,152.50 319.80,152.50 320.05,152.50" fill="none" stroke="#8a8a8a" stroke-width="0.6"/>
<polyline points="235.30,149.07 235.55,149.54 235.80,150.51 236.05,150.61 236.30,146.66 236.55,146.99 236.80,150.16 237.05,145.90 237.30,149.00 237.55,145.67 237.80,150.37 238.05,147.32 238.30,151.71 238.55,147.54 238.80,145.52 239.05,147.74 239.30,149.14 239.55,145.34 239.80,145.11 240.05,146.08 240.30,144.17 240.55,146.86 240.80,147.93 241.05,146.11 241.30,145.84 241.55,149.43 241.80,147.06 242.05,148.29 242.30,148.94 242.55,150.25 242.80,148.20 243.05,142.38 243.30,146.39 243.55,149.90 243.80,148.20 244.05,141.57 244.30,143.41 244.55,145.46 244.80,143.81 245.05,146.18 245.30,145.42 245.55,142.71 245.80,142.93 246.05,145.38 246.30,143.74 246.55,145.50 246.80,144.78 247.05,144.60 247.30,140.65 247.55,144.93 247.80,141.66 248.05,142.88 248.30,149.20 248.55,144.10 248.80,147.38 249.05,142.37 249.30,139.58 249.55,139.65 249.80,147.83 250.05,141.85 250.30,144.11 250.55,145.08 250.80,141.59 251.05,141.82 251.30,140.77 251.55,139.47 251.80,140.67 252.05,138.33 252.30,141.98 252.55,147.23 252.80,141.07 253.05,140.87 253.30,143.56 253.55,143.39 253.80,143.18 254.05,143.86 254.30,143.28 254.55,141.51 254.80,139.25 255.05,141.60 255.30,139.48 255.55,134.03 255.80,142.95 256.05,141.04 256.30,143.53 256.55,143.05 256.80,138.87 257.05,138.68 257.30,140.62 257.55,139.03 257.80,142.14 258.05,138.55 258.30,142.18 258.55,141.18 258.80,138.33 259.05,141.61 259.30,140.34 259.55,142.20 259.80,143.99 260.05,139.19 260.30,143.97 260.55,148.22 260.80,143.44 261.05,144.65 261.30,145.54 261.55,141.33 261.80,141.42 262.05,149.56 262.30,142.20 262.55,144.12 262.80,145.51 263.05,145.37 263.30,146.87 263.55,146.51 263.80,148.81 264.05,146.86 264.30,146.98 264.55,150.35 264.80,149.63 265.05,147.17 265.30,150.28 265.55,152.50 265.80,147.78 266.05,147.91 266.30,148.60 266.55,149.41 266.80,148.16 267.05,148.64 267.30,151.47 267.55,152.17 267.80,149.04 268.05,150.88 268.30,151.72 268.55,151.21 268.80,152.34 269.05,151.02 269.30,151.89 269.55,149.46 269.80,152.02 270.05,151.17 270.30,150.31 270.55,150.87 270.80,151.43 271.05,151.77 271.30,151.02 271.55,150.33 271.80,151.27 272.05,152.50 272.30,152.50 272.55,152.18 272.80,152.32 273.05,151.54 273.30,152.04 273.55,152.31 273.80,152.50 274.05,152.45 274.30,151.80 274.55,151.99 274.80,152.46 275.05,152.50 275.30,152.50 275.55,152.50 275.80,152.50 276.05,152.50 276.30,152.50 276.55,152.50 276.80,152.50 277.05,152.50 277.30,152.50 277.55,152.50 277.80,152.50 278.05,152.50 278.30,152.50 278.55,152.50 278.80,152.50 279.05,152.50 279.30,152.50 279.55,152.50 279.80,152.50 280.05,152.50 280.30,152.50 280.55,152.50 280.80,152.50 281.05,152.50 281.30,152.50 281.55,152.50 281.80,152.50 282.05,152.50 282.30,152.50 282.55,152.50 282.80,152.50 283.05,152.50 283.30,152.50 283.55,152.50 283.80,152.50 284.05,152.50 284.30,152.50 284.55,152.50 284.80,152.50 285.05,152.50 285.30,152.50 285.55,152.50 285.80,152.50 286.05,152.50 286.30,152.50 286.55,152.50 286.80,152.50 287.05,152.50 287.30,152.50 287.55,152.50 287.80,152.50 288.05,152.50 288.30,152.50 288.55,152.50 288.80,152.50 289.05,152.50 289.30,152.50 289.55,152.50 289.80,152.50 290.05,152.50 290.30,152.50 290.55,152.50 290.80,152.50 291.05,152.50 291.30,152.50 291.55,152.50 291.80,152.50 292.05,152.50 292.30,152.50 292.55,152.50 292.80,152.50 293.05,152.50 293.30,152.50 293.55,152.50 293.80,152.50 294.05,152.50 294.30,152.50 294.55,152.50 294.80,152.50 295.05,152.50 295.30,152.50 295.55,152.50 295.80,152.50 296.05,152.50 296.30,152.50 296.55,152.50 296.80,152.50 297.05,152.50 297.30,152.50 297.55,152.50 297.80,152.50 298.05,152.50 298.30,152.50 298.55,152.50 298.80,152.50 299.05,152.50 299.30,152.50 299.55,152.50 299.80,152.50 300.05,152.50 300.30,152.50 300.55,152.50 300.80,152.50 301.05,152.50 301.30,152.50 301.55,152.50 301.80,152.50 302.05,152.50 302.30,152.50 302.55,152.50 302.80,152.50 303.05,152.50 303.30,152.50 303.55,152.50 303.80,152.50 304.05,152.50 304.30,152.50 304.55,152.50 304.80,152.50 305.05,152.50 305.30,152.50 305.55,152.50 305.80,152.50 306.05,152.50 306.30,152.50 306.55,152.50 306.80,152.50 307.05,152.50 307.30,152.50 307.55,152.50 307.80,152.50 308.05,152.50 308.30,152.50 308.55,152.50 308.80,152.50 309.05,152.50 309.30,152.50 309.55,152.50 309.80,152.50 310.05,152.50 310.30,152.50 310.55,152.50 310.80,152.50 311.05,152.50 311.30,152.50 311.55,152.50 311.80,152.50 312.05,152.50 312.30,152.50 312.55,152.50 312.80,152.50 313.05,152.50 313.30,152.50 313.55,152.50 313.80,152.50 314.05,152.50 314.30,152.50 314.55,152.50 314.80,152.50 315.05,152.50 315.30,152.50 315.55,152.50 315.80,152.50 316.05,152.50 316.30,152.50 316.55,152.50 316.80,152.50 317.05,152.50 317.30,152.50 317.55,152.50 317.80,152.50 318.05,152.50 318.30,152.50 318.55,152.50 318.80,152.50 319.05,152.50 319.30,152.50 319.55,152.50 319.80,152.50 320.05,152.50" fill="none" stroke="#000" stroke-width="1.0" stroke-linejoin="miter"/>
<path d="M235.3,152.5 V123.0 H320.1 V152.5" fill="none" stroke="#929292" stroke-width="1.25"/>
<line x1="235.3" y1="123.0" x2="235.3" y2="152.5" stroke="#707070" stroke-width="1.1"/>
<line x1="234.8" y1="152.5" x2="320.6" y2="152.5" stroke="#383838" stroke-width="1.15"/>
<polyline points="329.80,152.50 330.05,152.50 330.30,150.48 330.55,150.60 330.80,150.93 331.05,150.55 331.30,150.41 331.55,151.23 331.80,150.74 332.05,150.75 332.30,151.66 332.55,151.08 332.80,150.81 333.05,148.83 333.30,149.43 333.55,148.51 333.80,149.11 334.05,148.75 334.30,148.33 334.55,148.78 334.80,148.55 335.05,146.64 335.30,148.95 335.55,149.93 335.80,147.35 336.05,148.86 336.30,147.69 336.55,150.61 336.80,149.73 337.05,146.90 337.30,148.20 337.55,149.61 337.80,147.32 338.05,147.95 338.30,148.18 338.55,145.37 338.80,149.74 339.05,147.47 339.30,146.40 339.55,146.88 339.80,148.76 340.05,146.53 340.30,149.90 340.55,147.81 340.80,146.16 341.05,146.73 341.30,146.78 341.55,148.31 341.80,149.50 342.05,145.30 342.30,147.76 342.55,148.13 342.80,145.35 343.05,145.61 343.30,146.78 343.55,147.62 343.80,147.76 344.05,146.33 344.30,147.42 344.55,147.93 344.80,145.50 345.05,147.92 345.30,150.89 345.55,146.98 345.80,149.51 346.05,147.58 346.30,150.44 346.55,148.91 346.80,148.60 347.05,149.35 347.30,148.90 347.55,149.63 347.80,149.23 348.05,147.29 348.30,148.62 348.55,147.62 348.80,150.10 349.05,149.36 349.30,146.73 349.55,149.72 349.80,149.36 350.05,147.32 350.30,149.98 350.55,150.35 350.80,149.26 351.05,149.62 351.30,150.56 351.55,149.96 351.80,150.64 352.05,150.58 352.30,151.09 352.55,150.72 352.80,150.76 353.05,151.71 353.30,151.28 353.55,152.21 353.80,151.02 354.05,151.45 354.30,150.07 354.55,151.99 354.80,151.26 355.05,151.54 355.30,151.66 355.55,152.50 355.80,151.29 356.05,151.92 356.30,152.46 356.55,152.36 356.80,152.50 357.05,152.45 357.30,152.22 357.55,152.50 357.80,152.50 358.05,152.50 358.30,152.50 358.55,152.50 358.80,152.50 359.05,152.50 359.30,152.50 359.55,152.50 359.80,152.50 360.05,152.50 360.30,152.50 360.55,152.50 360.80,152.50 361.05,152.50 361.30,152.50 361.55,152.50 361.80,152.50 362.05,152.50 362.30,152.50 362.55,152.50 362.80,152.50 363.05,152.50 363.30,152.50 363.55,152.50 363.80,152.50 364.05,152.50 364.30,152.50 364.55,152.50 364.80,152.50 365.05,152.50 365.30,152.50 365.55,152.50 365.80,152.50 366.05,152.50 366.30,152.50 366.55,152.50 366.80,152.50 367.05,152.50 367.30,152.50 367.55,152.50 367.80,152.50 368.05,152.50 368.30,152.50 368.55,152.50 368.80,152.50 369.05,152.50 369.30,152.50 369.55,152.50 369.80,152.50 370.05,152.50 370.30,152.50 370.55,152.50 370.80,152.50 371.05,152.50 371.30,152.50 371.55,152.50 371.80,152.50 372.05,152.50 372.30,152.50 372.55,152.50 372.80,152.50 373.05,152.50 373.30,152.50 373.55,152.50 373.80,152.50 374.05,152.50 374.30,152.50 374.55,152.50 374.80,152.50 375.05,152.50 375.30,152.50 375.55,152.50 375.80,152.50 376.05,152.50 376.30,152.50 376.55,152.50 376.80,152.50 377.05,152.50 377.30,152.50 377.55,152.50 377.80,152.50 378.05,152.50 378.30,152.50 378.55,152.50 378.80,152.50 379.05,152.50 379.30,152.50 379.55,152.50 379.80,152.50 380.05,152.50 380.30,152.50 380.55,152.50 380.80,152.50 381.05,152.50 381.30,152.50 381.55,152.50 381.80,152.50 382.05,152.50 382.30,152.50 382.55,152.50 382.80,152.50 383.05,152.50 383.30,152.50 383.55,152.50 383.80,152.50 384.05,152.50 384.30,152.50 384.55,152.50 384.80,152.50 385.05,152.50 385.30,152.50 385.55,152.50 385.80,152.50 386.05,152.50 386.30,152.50 386.55,152.50 386.80,152.50 387.05,152.50 387.30,152.50 387.55,152.50 387.80,152.50 388.05,152.50 388.30,152.50 388.55,152.50 388.80,152.50 389.05,152.50 389.30,152.50 389.55,152.50 389.80,152.50 390.05,152.50 390.30,152.50 390.55,152.50 390.80,152.50 391.05,152.50 391.30,152.50 391.55,152.50 391.80,152.50 392.05,152.50 392.30,152.50 392.55,152.50 392.80,152.50 393.05,152.50 393.30,152.50 393.55,152.50 393.80,152.50 394.05,152.50 394.30,152.50 394.55,152.50 394.80,152.50 395.05,152.50 395.30,152.50 395.55,152.50 395.80,152.50 396.05,152.50 396.30,152.50 396.55,152.50 396.80,152.50 397.05,152.50 397.30,152.50 397.55,152.50 397.80,152.50 398.05,152.50 398.30,152.50 398.55,152.50 398.80,152.50 399.05,152.50 399.30,152.50 399.55,152.50 399.80,152.50 400.05,152.50 400.30,152.50 400.55,152.50 400.80,152.50 401.05,152.50 401.30,152.50 401.55,152.50 401.80,152.50 402.05,152.50 402.30,152.50 402.55,152.50 402.80,152.50 403.05,152.50 403.30,152.50 403.55,152.50 403.80,152.50 404.05,152.50 404.30,152.50 404.55,152.50 404.80,152.50 405.05,152.50 405.30,152.50 405.55,152.50 405.80,152.50 406.05,152.50 406.30,152.50 406.55,152.50 406.80,152.50 407.05,152.50 407.30,152.50 407.55,152.50 407.80,152.50 408.05,152.50 408.30,152.50 408.55,152.50 408.80,152.50 409.05,152.50 409.30,152.50 409.55,152.50 409.80,152.50 410.05,152.50 410.30,152.50 410.55,152.50 410.80,152.50 411.05,152.50 411.30,152.50 411.55,152.50 411.80,152.50 412.05,152.50 412.30,152.50 412.55,152.50 412.80,152.50 413.05,152.50 413.30,152.50 413.55,152.50 413.80,152.50 414.05,152.50 414.30,152.50 414.55,152.50" fill="none" stroke="#4a4a4a" stroke-width="0.75" stroke-linejoin="miter"/>
<polyline points="329.80,144.37 330.05,147.35 330.30,148.98 330.55,148.93 330.80,142.89 331.05,146.01 331.30,146.26 331.55,148.86 331.80,147.05 332.05,142.30 332.30,144.70 332.55,141.70 332.80,143.92 333.05,146.03 333.30,145.22 333.55,143.47 333.80,143.61 334.05,141.99 334.30,151.69 334.55,144.04 334.80,141.66 335.05,146.33 335.30,145.64 335.55,143.70 335.80,145.56 336.05,147.85 336.30,145.95 336.55,140.03 336.80,142.25 337.05,141.49 337.30,141.20 337.55,141.71 337.80,142.04 338.05,146.52 338.30,142.43 338.55,143.50 338.80,147.00 339.05,137.87 339.30,146.24 339.55,150.77 339.80,129.33 340.05,140.39 340.30,143.97 340.55,140.12 340.80,142.82 341.05,143.49 341.30,150.01 341.55,141.02 341.80,141.28 342.05,141.34 342.30,140.98 342.55,144.99 342.80,144.68 343.05,142.27 343.30,146.73 343.55,145.37 343.80,148.29 344.05,140.91 344.30,139.23 344.55,139.22 344.80,139.94 345.05,144.32 345.30,142.41 345.55,145.95 345.80,142.51 346.05,144.79 346.30,148.51 346.55,145.80 346.80,142.89 347.05,146.17 347.30,145.81 347.55,148.44 347.80,145.97 348.05,145.41 348.30,144.57 348.55,150.71 348.80,152.50 349.05,146.29 349.30,142.39 349.55,146.64 349.80,142.06 350.05,146.50 350.30,144.12 350.55,148.63 350.80,151.14 351.05,147.21 351.30,143.58 351.55,146.77 351.80,144.84 352.05,152.50 352.30,151.84 352.55,146.50 352.80,147.29 353.05,149.15 353.30,148.34 353.55,152.08 353.80,148.30 354.05,149.28 354.30,149.65 354.55,146.55 354.80,151.98 355.05,151.13 355.30,150.57 355.55,152.09 355.80,150.59 356.05,150.58 356.30,149.57 356.55,150.51 356.80,147.79 357.05,150.92 357.30,151.88 357.55,149.91 357.80,150.23 358.05,149.74 358.30,150.87 358.55,151.38 358.80,148.22 359.05,152.50 359.30,152.50 359.55,152.12 359.80,150.72 360.05,150.50 360.30,151.68 360.55,152.50 360.80,151.78 361.05,151.68 361.30,150.80 361.55,151.99 361.80,152.20 362.05,152.31 362.30,150.76 362.55,151.94 362.80,151.35 363.05,152.50 363.30,152.05 363.55,152.50 363.80,152.50 364.05,152.50 364.30,152.50 364.55,152.50 364.80,152.50 365.05,152.50 365.30,152.50 365.55,152.50 365.80,152.50 366.05,152.50 366.30,152.50 366.55,152.50 366.80,152.50 367.05,152.50 367.30,152.50 367.55,152.50 367.80,152.50 368.05,152.50 368.30,152.50 368.55,152.50 368.80,152.50 369.05,152.50 369.30,152.50 369.55,152.50 369.80,152.50 370.05,152.50 370.30,152.50 370.55,152.50 370.80,152.50 371.05,152.50 371.30,152.50 371.55,152.50 371.80,152.50 372.05,152.50 372.30,152.50 372.55,152.50 372.80,152.50 373.05,152.50 373.30,152.50 373.55,152.50 373.80,152.50 374.05,152.50 374.30,152.50 374.55,152.50 374.80,152.50 375.05,152.50 375.30,152.50 375.55,152.50 375.80,152.50 376.05,152.50 376.30,152.50 376.55,152.50 376.80,152.50 377.05,152.50 377.30,152.50 377.55,152.50 377.80,152.50 378.05,152.50 378.30,152.50 378.55,152.50 378.80,152.50 379.05,152.50 379.30,152.50 379.55,152.50 379.80,152.50 380.05,152.50 380.30,152.50 380.55,152.50 380.80,152.50 381.05,152.50 381.30,152.50 381.55,152.50 381.80,152.50 382.05,152.50 382.30,152.50 382.55,152.50 382.80,152.50 383.05,152.50 383.30,152.50 383.55,152.50 383.80,152.50 384.05,152.50 384.30,152.50 384.55,152.50 384.80,152.50 385.05,152.50 385.30,152.50 385.55,152.50 385.80,152.50 386.05,152.50 386.30,152.50 386.55,152.50 386.80,152.50 387.05,152.50 387.30,152.50 387.55,152.50 387.80,152.50 388.05,152.50 388.30,152.50 388.55,152.50 388.80,152.50 389.05,152.50 389.30,152.50 389.55,152.50 389.80,152.50 390.05,152.50 390.30,152.50 390.55,152.50 390.80,152.50 391.05,152.50 391.30,152.50 391.55,152.50 391.80,152.50 392.05,152.50 392.30,152.50 392.55,152.50 392.80,152.50 393.05,152.50 393.30,152.50 393.55,152.50 393.80,152.50 394.05,152.50 394.30,152.50 394.55,152.50 394.80,152.50 395.05,152.50 395.30,152.50 395.55,152.50 395.80,152.50 396.05,152.50 396.30,152.50 396.55,152.50 396.80,152.50 397.05,152.50 397.30,152.50 397.55,152.50 397.80,152.50 398.05,152.50 398.30,152.50 398.55,152.50 398.80,152.50 399.05,152.50 399.30,152.50 399.55,152.50 399.80,152.50 400.05,152.50 400.30,152.50 400.55,152.50 400.80,152.50 401.05,152.50 401.30,152.50 401.55,152.50 401.80,152.50 402.05,152.50 402.30,152.50 402.55,152.50 402.80,152.50 403.05,152.50 403.30,152.50 403.55,152.50 403.80,152.50 404.05,152.50 404.30,152.50 404.55,152.50 404.80,152.50 405.05,152.50 405.30,152.50 405.55,152.50 405.80,152.50 406.05,152.50 406.30,152.50 406.55,152.50 406.80,152.50 407.05,152.50 407.30,152.50 407.55,152.50 407.80,152.50 408.05,152.50 408.30,152.50 408.55,152.50 408.80,152.50 409.05,152.50 409.30,152.50 409.55,152.50 409.80,152.50 410.05,152.50 410.30,152.50 410.55,152.50 410.80,152.50 411.05,152.50 411.30,152.50 411.55,152.50 411.80,152.50 412.05,152.50 412.30,152.50 412.55,152.50 412.80,152.50 413.05,152.50 413.30,152.50 413.55,152.50 413.80,152.50 414.05,152.50 414.30,152.50 414.55,152.50" fill="none" stroke="#8a8a8a" stroke-width="0.6"/>
<polyline points="329.80,147.38 330.05,147.13 330.30,142.93 330.55,145.36 330.80,149.38 331.05,145.56 331.30,144.44 331.55,147.31 331.80,146.16 332.05,145.14 332.30,148.92 332.55,150.36 332.80,144.12 333.05,146.71 333.30,146.08 333.55,148.41 333.80,148.24 334.05,147.45 334.30,148.19 334.55,147.63 334.80,143.71 335.05,145.26 335.30,142.18 335.55,142.09 335.80,146.08 336.05,142.76 336.30,144.42 336.55,142.85 336.80,151.00 337.05,145.63 337.30,140.51 337.55,143.01 337.80,141.19 338.05,139.63 338.30,140.02 338.55,143.20 338.80,142.66 339.05,144.24 339.30,141.89 339.55,143.77 339.80,138.26 340.05,142.11 340.30,138.41 340.55,139.41 340.80,143.05 341.05,148.13 341.30,139.25 341.55,149.63 341.80,139.64 342.05,150.37 342.30,144.92 342.55,140.41 342.80,141.36 343.05,147.05 343.30,146.04 343.55,144.66 343.80,144.83 344.05,140.94 344.30,146.79 344.55,140.44 344.80,144.85 345.05,140.38 345.30,143.01 345.55,143.87 345.80,145.74 346.05,141.98 346.30,142.24 346.55,142.02 346.80,143.74 347.05,143.49 347.30,145.06 347.55,143.76 347.80,147.33 348.05,143.35 348.30,146.81 348.55,144.29 348.80,150.27 349.05,146.97 349.30,147.73 349.55,143.13 349.80,141.96 350.05,149.35 350.30,146.87 350.55,144.84 350.80,146.86 351.05,143.57 351.30,147.40 351.55,145.28 351.80,144.76 352.05,148.37 352.30,148.63 352.55,147.70 352.80,149.52 353.05,148.13 353.30,149.45 353.55,148.78 353.80,147.80 354.05,149.55 354.30,151.59 354.55,151.72 354.80,149.57 355.05,151.50 355.30,148.35 355.55,152.35 355.80,149.59 356.05,148.21 356.30,151.15 356.55,150.32 356.80,150.84 357.05,150.32 357.30,148.94 357.55,151.00 357.80,150.09 358.05,150.01 358.30,151.16 358.55,150.81 358.80,151.58 359.05,151.22 359.30,151.48 359.55,152.15 359.80,150.90 360.05,151.09 360.30,152.48 360.55,150.42 360.80,151.74 361.05,151.78 361.30,151.91 361.55,151.35 361.80,152.19 362.05,152.50 362.30,152.50 362.55,152.49 362.80,152.10 363.05,152.41 363.30,152.37 363.55,152.50 363.80,152.50 364.05,152.50 364.30,152.50 364.55,152.50 364.80,152.50 365.05,152.50 365.30,152.50 365.55,152.50 365.80,152.50 366.05,152.50 366.30,152.50 366.55,152.50 366.80,152.50 367.05,152.50 367.30,152.50 367.55,152.50 367.80,152.50 368.05,152.50 368.30,152.50 368.55,152.50 368.80,152.50 369.05,152.50 369.30,152.50 369.55,152.50 369.80,152.50 370.05,152.50 370.30,152.50 370.55,152.50 370.80,152.50 371.05,152.50 371.30,152.50 371.55,152.50 371.80,152.50 372.05,152.50 372.30,152.50 372.55,152.50 372.80,152.50 373.05,152.50 373.30,152.50 373.55,152.50 373.80,152.50 374.05,152.50 374.30,152.50 374.55,152.50 374.80,152.50 375.05,152.50 375.30,152.50 375.55,152.50 375.80,152.50 376.05,152.50 376.30,152.50 376.55,152.50 376.80,152.50 377.05,152.50 377.30,152.50 377.55,152.50 377.80,152.50 378.05,152.50 378.30,152.50 378.55,152.50 378.80,152.50 379.05,152.50 379.30,152.50 379.55,152.50 379.80,152.50 380.05,152.50 380.30,152.50 380.55,152.50 380.80,152.50 381.05,152.50 381.30,152.50 381.55,152.50 381.80,152.50 382.05,152.50 382.30,152.50 382.55,152.50 382.80,152.50 383.05,152.50 383.30,152.50 383.55,152.50 383.80,152.50 384.05,152.50 384.30,152.50 384.55,152.50 384.80,152.50 385.05,152.50 385.30,152.50 385.55,152.50 385.80,152.50 386.05,152.50 386.30,152.50 386.55,152.50 386.80,152.50 387.05,152.50 387.30,152.50 387.55,152.50 387.80,152.50 388.05,152.50 388.30,152.50 388.55,152.50 388.80,152.50 389.05,152.50 389.30,152.50 389.55,152.50 389.80,152.50 390.05,152.50 390.30,152.50 390.55,152.50 390.80,152.50 391.05,152.50 391.30,152.50 391.55,152.50 391.80,152.50 392.05,152.50 392.30,152.50 392.55,152.50 392.80,152.50 393.05,152.50 393.30,152.50 393.55,152.50 393.80,152.50 394.05,152.50 394.30,152.50 394.55,152.50 394.80,152.50 395.05,152.50 395.30,152.50 395.55,152.50 395.80,152.50 396.05,152.50 396.30,152.50 396.55,152.50 396.80,152.50 397.05,152.50 397.30,152.50 397.55,152.50 397.80,152.50 398.05,152.50 398.30,152.50 398.55,152.50 398.80,152.50 399.05,152.50 399.30,152.50 399.55,152.50 399.80,152.50 400.05,152.50 400.30,152.50 400.55,152.50 400.80,152.50 401.05,152.50 401.30,152.50 401.55,152.50 401.80,152.50 402.05,152.50 402.30,152.50 402.55,152.50 402.80,152.50 403.05,152.50 403.30,152.50 403.55,152.50 403.80,152.50 404.05,152.50 404.30,152.50 404.55,152.50 404.80,152.50 405.05,152.50 405.30,152.50 405.55,152.50 405.80,152.50 406.05,152.50 406.30,152.50 406.55,152.50 406.80,152.50 407.05,152.50 407.30,152.50 407.55,152.50 407.80,152.50 408.05,152.50 408.30,152.50 408.55,152.50 408.80,152.50 409.05,152.50 409.30,152.50 409.55,152.50 409.80,152.50 410.05,152.50 410.30,152.50 410.55,152.50 410.80,152.50 411.05,152.50 411.30,152.50 411.55,152.50 411.80,152.50 412.05,152.50 412.30,152.50 412.55,152.50 412.80,152.50 413.05,152.50 413.30,152.50 413.55,152.50 413.80,152.50 414.05,152.50 414.30,152.50 414.55,152.50" fill="none" stroke="#000" stroke-width="1.0" stroke-linejoin="miter"/>
<path d="M329.8,152.5 V123.0 H414.6 V152.5" fill="none" stroke="#929292" stroke-width="1.25"/>
<line x1="329.8" y1="123.0" x2="329.8" y2="152.5" stroke="#707070" stroke-width="1.1"/>
<line x1="329.3" y1="152.5" x2="415.1" y2="152.5" stroke="#383838" stroke-width="1.15"/>
<polyline points="424.00,150.38 424.25,150.64 424.50,149.60 424.75,150.24 425.00,151.00 425.25,149.58 425.50,150.00 425.75,151.21 426.00,150.94 426.25,151.27 426.50,150.99 426.75,151.49 427.00,151.61 427.25,150.35 427.50,149.70 427.75,149.35 428.00,149.00 428.25,146.66 428.50,146.13 428.75,145.18 429.00,142.74 429.25,141.05 429.50,141.93 429.75,139.03 430.00,139.57 430.25,138.83 430.50,141.20 430.75,141.23 431.00,142.44 431.25,144.94 431.50,143.35 431.75,141.15 432.00,139.18 432.25,137.58 432.50,137.04 432.75,136.36 433.00,135.91 433.25,136.50 433.50,138.51 433.75,138.90 434.00,141.81 434.25,142.89 434.50,145.38 434.75,144.21 435.00,146.90 435.25,146.87 435.50,146.73 435.75,148.64 436.00,147.84 436.25,149.48 436.50,149.74 436.75,150.71 437.00,150.10 437.25,150.44 437.50,150.36 437.75,150.52 438.00,151.25 438.25,150.26 438.50,151.37 438.75,150.66 439.00,151.65 439.25,151.52 439.50,151.45 439.75,151.56 440.00,151.70 440.25,152.03 440.50,151.72 440.75,151.49 441.00,151.31 441.25,152.13 441.50,151.70 441.75,152.29 442.00,152.22 442.25,152.32 442.50,152.15 442.75,152.31 443.00,152.50 443.25,152.49 443.50,152.38 443.75,152.46 444.00,152.50 444.25,152.50 444.50,152.50 444.75,152.50 445.00,152.50 445.25,152.50 445.50,152.50 445.75,152.50 446.00,152.50 446.25,152.50 446.50,152.50 446.75,152.50 447.00,152.50 447.25,152.50 447.50,152.50 447.75,152.50 448.00,152.50 448.25,152.50 448.50,152.50 448.75,152.50 449.00,152.50 449.25,152.50 449.50,152.50 449.75,152.50 450.00,152.50 450.25,152.50 450.50,152.50 450.75,152.50 451.00,152.50 451.25,152.50 451.50,152.50 451.75,152.50 452.00,152.50 452.25,152.50 452.50,152.50 452.75,152.50 453.00,152.50 453.25,152.50 453.50,152.50 453.75,152.50 454.00,152.50 454.25,152.50 454.50,152.50 454.75,152.50 455.00,152.50 455.25,152.50 455.50,152.50 455.75,152.50 456.00,152.50 456.25,152.50 456.50,152.50 456.75,152.50 457.00,152.50 457.25,152.50 457.50,152.50 457.75,152.50 458.00,152.50 458.25,152.50 458.50,152.50 458.75,152.50 459.00,152.50 459.25,152.50 459.50,152.50 459.75,152.50 460.00,152.50 460.25,152.50 460.50,152.50 460.75,152.50 461.00,152.50 461.25,152.50 461.50,152.50 461.75,152.50 462.00,152.50 462.25,152.50 462.50,152.50 462.75,152.50 463.00,152.50 463.25,152.50 463.50,152.50 463.75,152.50 464.00,152.50 464.25,152.50 464.50,152.50 464.75,152.50 465.00,152.50 465.25,152.50 465.50,152.50 465.75,152.50 466.00,152.50 466.25,152.50 466.50,152.50 466.75,152.50 467.00,152.50 467.25,152.50 467.50,152.50 467.75,152.50 468.00,152.50 468.25,152.50 468.50,152.50 468.75,152.50 469.00,152.50 469.25,152.50 469.50,152.50 469.75,152.50 470.00,152.50 470.25,152.50 470.50,152.50 470.75,152.50 471.00,152.50 471.25,152.50 471.50,152.50 471.75,152.50 472.00,152.50 472.25,152.50 472.50,152.50 472.75,152.50 473.00,152.50 473.25,152.50 473.50,152.50 473.75,152.50 474.00,152.50 474.25,152.50 474.50,152.50 474.75,152.50 475.00,152.50 475.25,152.50 475.50,152.50 475.75,152.50 476.00,152.50 476.25,152.50 476.50,152.50 476.75,152.50 477.00,152.50 477.25,152.50 477.50,152.50 477.75,152.50 478.00,152.50 478.25,152.50 478.50,152.50 478.75,152.50 479.00,152.50 479.25,152.50 479.50,152.50 479.75,152.50 480.00,152.50 480.25,152.50 480.50,152.50 480.75,152.50 481.00,152.50 481.25,152.50 481.50,152.50 481.75,152.50 482.00,152.50 482.25,152.50 482.50,152.50 482.75,152.50 483.00,152.50 483.25,152.50 483.50,152.50 483.75,152.50 484.00,152.50 484.25,152.50 484.50,152.50 484.75,152.50 485.00,152.50 485.25,152.50 485.50,152.50 485.75,152.50 486.00,152.50 486.25,152.50 486.50,152.50 486.75,152.50 487.00,152.50 487.25,152.50 487.50,152.50 487.75,152.50 488.00,152.50 488.25,152.50 488.50,152.50 488.75,152.50 489.00,152.50 489.25,152.50 489.50,152.50 489.75,152.50 490.00,152.50 490.25,152.50 490.50,152.50 490.75,152.50 491.00,152.50 491.25,152.50 491.50,152.50 491.75,152.50 492.00,152.50 492.25,152.50 492.50,152.50 492.75,152.50 493.00,152.50 493.25,152.50 493.50,152.50 493.75,152.50 494.00,152.50 494.25,152.50 494.50,152.50 494.75,152.50 495.00,152.50 495.25,152.50 495.50,152.50 495.75,152.50 496.00,152.50 496.25,152.50 496.50,152.50 496.75,152.50 497.00,152.50 497.25,152.50 497.50,152.50 497.75,152.50 498.00,152.50 498.25,152.50 498.50,152.50 498.75,152.50 499.00,152.50 499.25,152.50 499.50,152.50 499.75,152.50 500.00,152.50 500.25,152.50 500.50,152.50 500.75,152.50 501.00,152.50 501.25,152.50 501.50,152.50 501.75,152.50 502.00,152.50 502.25,152.50 502.50,152.50 502.75,152.50 503.00,152.50 503.25,152.50 503.50,152.50 503.75,152.50 504.00,152.50 504.25,152.50 504.50,152.50 504.75,152.50 505.00,152.50 505.25,152.50 505.50,152.50 505.75,152.50 506.00,152.50 506.25,152.50 506.50,152.50 506.75,152.50 507.00,152.50 507.25,152.50 507.50,152.50 507.75,152.50 508.00,152.50 508.25,152.50 508.50,152.50 508.75,152.50" fill="none" stroke="#4a4a4a" stroke-width="0.75" stroke-linejoin="miter"/>
<polyline points="424.00,149.13 424.25,148.19 424.50,147.77 424.75,149.22 425.00,149.73 425.25,147.86 425.50,150.54 425.75,148.18 426.00,149.01 426.25,150.51 426.50,151.51 426.75,151.36 427.00,151.13 427.25,150.28 427.50,149.56 427.75,147.41 428.00,147.88 428.25,144.70 428.50,144.67 428.75,142.20 429.00,142.73 429.25,142.41 429.50,138.53 429.75,134.86 430.00,132.91 430.25,137.76 430.50,134.13 430.75,137.93 431.00,139.52 431.25,145.26 431.50,144.89 431.75,141.56 432.00,134.34 432.25,131.95 432.50,130.08 432.75,133.43 433.00,130.48 433.25,132.01 433.50,133.48 433.75,136.47 434.00,141.44 434.25,143.06 434.50,146.03 434.75,145.62 435.00,142.60 435.25,144.43 435.50,146.84 435.75,148.41 436.00,149.40 436.25,150.51 436.50,149.99 436.75,149.46 437.00,150.79 437.25,149.36 437.50,150.23 437.75,149.95 438.00,150.71 438.25,150.55 438.50,150.94 438.75,150.97 439.00,151.82 439.25,151.87 439.50,150.55 439.75,150.83 440.00,150.98 440.25,151.81 440.50,151.10 440.75,150.72 441.00,152.50 441.25,150.67 441.50,151.96 441.75,151.16 442.00,152.40 442.25,152.50 442.50,152.19 442.75,152.35 443.00,152.50 443.25,151.94 443.50,152.40 443.75,151.86 444.00,152.44 444.25,152.13 444.50,152.38 444.75,152.33 445.00,152.45 445.25,152.50 445.50,152.39 445.75,152.39 446.00,152.50 446.25,152.50 446.50,152.50 446.75,152.50 447.00,152.50 447.25,152.50 447.50,152.50 447.75,152.50 448.00,152.50 448.25,152.50 448.50,152.50 448.75,152.50 449.00,152.50 449.25,152.50 449.50,152.50 449.75,152.50 450.00,152.50 450.25,152.50 450.50,152.50 450.75,152.50 451.00,152.50 451.25,152.50 451.50,152.50 451.75,152.50 452.00,152.50 452.25,152.50 452.50,152.50 452.75,152.50 453.00,152.50 453.25,152.50 453.50,152.50 453.75,152.50 454.00,152.50 454.25,152.50 454.50,152.50 454.75,152.50 455.00,152.50 455.25,152.50 455.50,152.50 455.75,152.50 456.00,152.50 456.25,152.50 456.50,152.50 456.75,152.50 457.00,152.50 457.25,152.50 457.50,152.50 457.75,152.50 458.00,152.50 458.25,152.50 458.50,152.50 458.75,152.50 459.00,152.50 459.25,152.50 459.50,152.50 459.75,152.50 460.00,152.50 460.25,152.50 460.50,152.50 460.75,152.50 461.00,152.50 461.25,152.50 461.50,152.50 461.75,152.50 462.00,152.50 462.25,152.50 462.50,152.50 462.75,152.50 463.00,152.50 463.25,152.50 463.50,152.50 463.75,152.50 464.00,152.50 464.25,152.50 464.50,152.50 464.75,152.50 465.00,152.50 465.25,152.50 465.50,152.50 465.75,152.50 466.00,152.50 466.25,152.50 466.50,152.50 466.75,152.50 467.00,152.50 467.25,152.50 467.50,152.50 467.75,152.50 468.00,152.50 468.25,152.50 468.50,152.50 468.75,152.50 469.00,152.50 469.25,152.50 469.50,152.50 469.75,152.50 470.00,152.50 470.25,152.50 470.50,152.50 470.75,152.50 471.00,152.50 471.25,152.50 471.50,152.50 471.75,152.50 472.00,152.50 472.25,152.50 472.50,152.50 472.75,152.50 473.00,152.50 473.25,152.50 473.50,152.50 473.75,152.50 474.00,152.50 474.25,152.50 474.50,152.50 474.75,152.50 475.00,152.50 475.25,152.50 475.50,152.50 475.75,152.50 476.00,152.50 476.25,152.50 476.50,152.50 476.75,152.50 477.00,152.50 477.25,152.50 477.50,152.50 477.75,152.50 478.00,152.50 478.25,152.50 478.50,152.50 478.75,152.50 479.00,152.50 479.25,152.50 479.50,152.50 479.75,152.50 480.00,152.50 480.25,152.50 480.50,152.50 480.75,152.50 481.00,152.50 481.25,152.50 481.50,152.50 481.75,152.50 482.00,152.50 482.25,152.50 482.50,152.50 482.75,152.50 483.00,152.50 483.25,152.50 483.50,152.50 483.75,152.50 484.00,152.50 484.25,152.50 484.50,152.50 484.75,152.50 485.00,152.50 485.25,152.50 485.50,152.50 485.75,152.50 486.00,152.50 486.25,152.50 486.50,152.50 486.75,152.50 487.00,152.50 487.25,152.50 487.50,152.50 487.75,152.50 488.00,152.50 488.25,152.50 488.50,152.50 488.75,152.50 489.00,152.50 489.25,152.50 489.50,152.50 489.75,152.50 490.00,152.50 490.25,152.50 490.50,152.50 490.75,152.50 491.00,152.50 491.25,152.50 491.50,152.50 491.75,152.50 492.00,152.50 492.25,152.50 492.50,152.50 492.75,152.50 493.00,152.50 493.25,152.50 493.50,152.50 493.75,152.50 494.00,152.50 494.25,152.50 494.50,152.50 494.75,152.50 495.00,152.50 495.25,152.50 495.50,152.50 495.75,152.50 496.00,152.50 496.25,152.50 496.50,152.50 496.75,152.50 497.00,152.50 497.25,152.50 497.50,152.50 497.75,152.50 498.00,152.50 498.25,152.50 498.50,152.50 498.75,152.50 499.00,152.50 499.25,152.50 499.50,152.50 499.75,152.50 500.00,152.50 500.25,152.50 500.50,152.50 500.75,152.50 501.00,152.50 501.25,152.50 501.50,152.50 501.75,152.50 502.00,152.50 502.25,152.50 502.50,152.50 502.75,152.50 503.00,152.50 503.25,152.50 503.50,152.50 503.75,152.50 504.00,152.50 504.25,152.50 504.50,152.50 504.75,152.50 505.00,152.50 505.25,152.50 505.50,152.50 505.75,152.50 506.00,152.50 506.25,152.50 506.50,152.50 506.75,152.50 507.00,152.50 507.25,152.50 507.50,152.50 507.75,152.50 508.00,152.50 508.25,152.50 508.50,152.50 508.75,152.50" fill="none" stroke="#8a8a8a" stroke-width="0.6"/>
<polyline points="424.00,146.18 424.25,148.43 424.50,148.19 424.75,147.55 425.00,147.34 425.25,149.20 425.50,148.99 425.75,148.97 426.00,150.07 426.25,149.86 426.50,149.77 426.75,149.88 427.00,150.89 427.25,150.33 427.50,149.90 427.75,147.76 428.00,147.79 428.25,144.62 428.50,145.75 428.75,143.08 429.00,141.48 429.25,137.31 429.50,136.74 429.75,134.50 430.00,132.91 430.25,136.74 430.50,138.69 430.75,136.82 431.00,141.15 431.25,143.02 431.50,142.97 431.75,138.89 432.00,136.29 432.25,134.14 432.50,131.83 432.75,128.62 433.00,130.19 433.25,132.11 433.50,136.20 433.75,139.02 434.00,139.56 434.25,142.01 434.50,142.41 434.75,144.08 435.00,145.34 435.25,147.90 435.50,147.01 435.75,149.73 436.00,147.57 436.25,148.28 436.50,148.30 436.75,149.27 437.00,149.89 437.25,150.39 437.50,149.95 437.75,150.41 438.00,150.38 438.25,150.22 438.50,150.92 438.75,150.53 439.00,150.61 439.25,151.19 439.50,151.08 439.75,152.36 440.00,152.01 440.25,151.40 440.50,150.86 440.75,152.27 441.00,152.37 441.25,152.36 441.50,151.93 441.75,152.43 442.00,152.20 442.25,151.74 442.50,151.86 442.75,152.34 443.00,152.28 443.25,152.36 443.50,151.79 443.75,151.96 444.00,152.17 444.25,152.50 444.50,152.50 444.75,152.50 445.00,152.33 445.25,152.33 445.50,152.36 445.75,152.44 446.00,152.50 446.25,152.50 446.50,152.50 446.75,152.50 447.00,152.50 447.25,152.50 447.50,152.50 447.75,152.50 448.00,152.50 448.25,152.50 448.50,152.50 448.75,152.50 449.00,152.50 449.25,152.50 449.50,152.50 449.75,152.50 450.00,152.50 450.25,152.50 450.50,152.50 450.75,152.50 451.00,152.50 451.25,152.50 451.50,152.50 451.75,152.50 452.00,152.50 452.25,152.50 452.50,152.50 452.75,152.50 453.00,152.50 453.25,152.50 453.50,152.50 453.75,152.50 454.00,152.50 454.25,152.50 454.50,152.50 454.75,152.50 455.00,152.50 455.25,152.50 455.50,152.50 455.75,152.50 456.00,152.50 456.25,152.50 456.50,152.50 456.75,152.50 457.00,152.50 457.25,152.50 457.50,152.50 457.75,152.50 458.00,152.50 458.25,152.50 458.50,152.50 458.75,152.50 459.00,152.50 459.25,152.50 459.50,152.50 459.75,152.50 460.00,152.50 460.25,152.50 460.50,152.50 460.75,152.50 461.00,152.50 461.25,152.50 461.50,152.50 461.75,152.50 462.00,152.50 462.25,152.50 462.50,152.50 462.75,152.50 463.00,152.50 463.25,152.50 463.50,152.50 463.75,152.50 464.00,152.50 464.25,152.50 464.50,152.50 464.75,152.50 465.00,152.50 465.25,152.50 465.50,152.50 465.75,152.50 466.00,152.50 466.25,152.50 466.50,152.50 466.75,152.50 467.00,152.50 467.25,152.50 467.50,152.50 467.75,152.50 468.00,152.50 468.25,152.50 468.50,152.50 468.75,152.50 469.00,152.50 469.25,152.50 469.50,152.50 469.75,152.50 470.00,152.50 470.25,152.50 470.50,152.50 470.75,152.50 471.00,152.50 471.25,152.50 471.50,152.50 471.75,152.50 472.00,152.50 472.25,152.50 472.50,152.50 472.75,152.50 473.00,152.50 473.25,152.50 473.50,152.50 473.75,152.50 474.00,152.50 474.25,152.50 474.50,152.50 474.75,152.50 475.00,152.50 475.25,152.50 475.50,152.50 475.75,152.50 476.00,152.50 476.25,152.50 476.50,152.50 476.75,152.50 477.00,152.50 477.25,152.50 477.50,152.50 477.75,152.50 478.00,152.50 478.25,152.50 478.50,152.50 478.75,152.50 479.00,152.50 479.25,152.50 479.50,152.50 479.75,152.50 480.00,152.50 480.25,152.50 480.50,152.50 480.75,152.50 481.00,152.50 481.25,152.50 481.50,152.50 481.75,152.50 482.00,152.50 482.25,152.50 482.50,152.50 482.75,152.50 483.00,152.50 483.25,152.50 483.50,152.50 483.75,152.50 484.00,152.50 484.25,152.50 484.50,152.50 484.75,152.50 485.00,152.50 485.25,152.50 485.50,152.50 485.75,152.50 486.00,152.50 486.25,152.50 486.50,152.50 486.75,152.50 487.00,152.50 487.25,152.50 487.50,152.50 487.75,152.50 488.00,152.50 488.25,152.50 488.50,152.50 488.75,152.50 489.00,152.50 489.25,152.50 489.50,152.50 489.75,152.50 490.00,152.50 490.25,152.50 490.50,152.50 490.75,152.50 491.00,152.50 491.25,152.50 491.50,152.50 491.75,152.50 492.00,152.50 492.25,152.50 492.50,152.50 492.75,152.50 493.00,152.50 493.25,152.50 493.50,152.50 493.75,152.50 494.00,152.50 494.25,152.50 494.50,152.50 494.75,152.50 495.00,152.50 495.25,152.50 495.50,152.50 495.75,152.50 496.00,152.50 496.25,152.50 496.50,152.50 496.75,152.50 497.00,152.50 497.25,152.50 497.50,152.50 497.75,152.50 498.00,152.50 498.25,152.50 498.50,152.50 498.75,152.50 499.00,152.50 499.25,152.50 499.50,152.50 499.75,152.50 500.00,152.50 500.25,152.50 500.50,152.50 500.75,152.50 501.00,152.50 501.25,152.50 501.50,152.50 501.75,152.50 502.00,152.50 502.25,152.50 502.50,152.50 502.75,152.50 503.00,152.50 503.25,152.50 503.50,152.50 503.75,152.50 504.00,152.50 504.25,152.50 504.50,152.50 504.75,152.50 505.00,152.50 505.25,152.50 505.50,152.50 505.75,152.50 506.00,152.50 506.25,152.50 506.50,152.50 506.75,152.50 507.00,152.50 507.25,152.50 507.50,152.50 507.75,152.50 508.00,152.50 508.25,152.50 508.50,152.50 508.75,152.50" fill="none" stroke="#000" stroke-width="1.0" stroke-linejoin="miter"/>
<path d="M424.0,152.5 V123.0 H508.8 V152.5" fill="none" stroke="#929292" stroke-width="1.25"/>
<line x1="424.0" y1="123.0" x2="424.0" y2="152.5" stroke="#707070" stroke-width="1.1"/>
<line x1="423.5" y1="152.5" x2="509.3" y2="152.5" stroke="#383838" stroke-width="1.15"/>
<polyline points="45.70,188.30 45.95,188.30 46.20,187.46 46.45,186.94 46.70,185.90 46.95,186.09 47.20,185.50 47.45,185.47 47.70,185.03 47.95,183.20 48.20,182.38 48.45,180.73 48.70,181.92 48.95,181.17 49.20,179.32 49.45,177.29 49.70,178.72 49.95,181.14 50.20,176.95 50.45,175.80 50.70,172.74 50.95,174.02 51.20,171.97 51.45,168.88 51.70,169.03 51.95,169.64 52.20,167.76 52.45,164.35 52.70,165.64 52.95,165.07 53.20,166.96 53.45,163.90 53.70,159.78 53.95,162.03 54.20,162.50 54.45,160.83 54.70,164.98 54.95,162.02 55.20,165.03 55.45,165.20 55.70,166.69 55.95,165.55 56.20,168.68 56.45,167.15 56.70,170.74 56.95,169.03 57.20,168.64 57.45,171.23 57.70,172.75 57.95,174.38 58.20,174.75 58.45,174.13 58.70,173.92 58.95,175.36 59.20,177.16 59.45,175.26 59.70,176.19 59.95,175.98 60.20,178.17 60.45,173.72 60.70,178.70 60.95,178.25 61.20,180.22 61.45,180.35 61.70,179.59 61.95,182.03 62.20,182.11 62.45,182.67 62.70,180.62 62.95,180.67 63.20,182.19 63.45,181.94 63.70,179.82 63.95,182.30 64.20,183.74 64.45,184.48 64.70,183.85 64.95,182.97 65.20,180.70 65.45,185.15 65.70,183.47 65.95,183.86 66.20,184.66 66.45,184.53 66.70,186.54 66.95,183.19 67.20,184.91 67.45,184.38 67.70,185.02 67.95,185.12 68.20,183.93 68.45,185.88 68.70,186.03 68.95,183.94 69.20,183.62 69.45,184.57 69.70,184.89 69.95,186.00 70.20,185.43 70.45,185.93 70.70,185.43 70.95,185.86 71.20,186.13 71.45,186.29 71.70,185.61 71.95,185.06 72.20,185.78 72.45,185.03 72.70,185.11 72.95,183.99 73.20,185.14 73.45,186.64 73.70,185.86 73.95,185.96 74.20,185.24 74.45,187.44 74.70,185.99 74.95,186.24 75.20,187.83 75.45,186.88 75.70,185.41 75.95,185.91 76.20,185.98 76.45,186.49 76.70,187.04 76.95,187.21 77.20,186.95 77.45,187.25 77.70,187.32 77.95,186.40 78.20,186.91 78.45,187.05 78.70,187.19 78.95,187.10 79.20,188.01 79.45,186.95 79.70,186.68 79.95,187.52 80.20,187.90 80.45,188.17 80.70,187.41 80.95,187.45 81.20,188.20 81.45,186.78 81.70,187.74 81.95,188.22 82.20,187.62 82.45,187.70 82.70,187.79 82.95,187.78 83.20,187.88 83.45,187.84 83.70,187.88 83.95,187.72 84.20,187.91 84.45,188.28 84.70,188.08 84.95,187.97 85.20,188.30 85.45,188.13 85.70,188.30 85.95,188.30 86.20,188.30 86.45,188.30 86.70,188.30 86.95,188.30 87.20,188.30 87.45,188.30 87.70,188.30 87.95,188.30 88.20,188.30 88.45,188.30 88.70,188.30 88.95,188.30 89.20,188.30 89.45,188.30 89.70,188.30 89.95,188.30 90.20,188.30 90.45,188.30 90.70,188.30 90.95,188.30 91.20,188.30 91.45,188.30 91.70,188.30 91.95,188.30 92.20,188.30 92.45,188.30 92.70,188.30 92.95,188.30 93.20,188.30 93.45,188.30 93.70,188.30 93.95,188.30 94.20,188.30 94.45,188.30 94.70,188.30 94.95,188.30 95.20,188.30 95.45,188.30 95.70,188.30 95.95,188.30 96.20,188.30 96.45,188.30 96.70,188.30 96.95,188.30 97.20,188.30 97.45,188.30 97.70,188.30 97.95,188.30 98.20,188.30 98.45,188.30 98.70,188.30 98.95,188.30 99.20,188.30 99.45,188.30 99.70,188.30 99.95,188.30 100.20,188.30 100.45,188.30 100.70,188.30 100.95,188.30 101.20,188.30 101.45,188.30 101.70,188.30 101.95,188.30 102.20,188.30 102.45,188.30 102.70,188.30 102.95,188.30 103.20,188.30 103.45,188.30 103.70,188.30 103.95,188.30 104.20,188.30 104.45,188.30 104.70,188.30 104.95,188.30 105.20,188.30 105.45,188.30 105.70,188.30 105.95,188.30 106.20,188.30 106.45,188.30 106.70,188.30 106.95,188.30 107.20,188.30 107.45,188.30 107.70,188.30 107.95,188.30 108.20,188.30 108.45,188.30 108.70,188.30 108.95,188.30 109.20,188.30 109.45,188.30 109.70,188.30 109.95,188.30 110.20,188.30 110.45,188.30 110.70,188.30 110.95,188.30 111.20,188.30 111.45,188.30 111.70,188.30 111.95,188.30 112.20,188.30 112.45,188.30 112.70,188.30 112.95,188.30 113.20,188.30 113.45,188.30 113.70,188.30 113.95,188.30 114.20,188.30 114.45,188.30 114.70,188.30 114.95,188.30 115.20,188.30 115.45,188.30 115.70,188.30 115.95,188.30 116.20,188.30 116.45,188.30 116.70,188.30 116.95,188.30 117.20,188.30 117.45,188.30 117.70,188.30 117.95,188.30 118.20,188.30 118.45,188.30 118.70,188.30 118.95,188.30 119.20,188.30 119.45,188.30 119.70,188.30 119.95,188.30 120.20,188.30 120.45,188.30 120.70,188.30 120.95,188.30 121.20,188.30 121.45,188.30 121.70,188.30 121.95,188.30 122.20,188.30 122.45,188.30 122.70,188.30 122.95,188.30 123.20,188.30 123.45,188.30 123.70,188.30 123.95,188.30 124.20,188.30 124.45,188.30 124.70,188.30 124.95,188.30 125.20,188.30 125.45,188.30 125.70,188.30 125.95,188.30 126.20,188.30 126.45,188.30 126.70,188.30 126.95,188.30 127.20,188.30 127.45,188.30 127.70,188.30 127.95,188.30 128.20,188.30 128.45,188.30 128.70,188.30 128.95,188.30 129.20,188.30 129.45,188.30 129.70,188.30 129.95,188.30 130.20,188.30 130.45,188.30" fill="none" stroke="#4a4a4a" stroke-width="0.75" stroke-linejoin="miter"/>
<polyline points="45.70,188.30 45.95,188.16 46.20,188.30 46.45,187.81 46.70,187.32 46.95,187.62 47.20,187.96 47.45,186.81 47.70,187.64 47.95,187.70 48.20,187.71 48.45,186.58 48.70,185.55 48.95,186.22 49.20,185.74 49.45,188.30 49.70,187.15 49.95,187.87 50.20,187.93 50.45,185.70 50.70,185.64 50.95,185.79 51.20,188.30 51.45,185.72 51.70,188.16 51.95,185.01 52.20,188.30 52.45,186.94 52.70,187.31 52.95,185.13 53.20,181.33 53.45,183.22 53.70,184.02 53.95,183.59 54.20,184.44 54.45,186.78 54.70,186.01 54.95,181.40 55.20,179.60 55.45,179.90 55.70,183.97 55.95,180.35 56.20,178.11 56.45,178.83 56.70,180.95 56.95,184.59 57.20,180.35 57.45,185.38 57.70,177.74 57.95,181.02 58.20,176.94 58.45,188.30 58.70,183.17 58.95,180.55 59.20,178.51 59.45,181.31 59.70,173.47 59.95,175.32 60.20,188.30 60.45,181.89 60.70,177.18 60.95,177.79 61.20,176.85 61.45,175.46 61.70,179.62 61.95,172.49 62.20,174.81 62.45,167.72 62.70,174.77 62.95,174.58 63.20,171.92 63.45,173.36 63.70,172.74 63.95,173.05 64.20,179.88 64.45,175.70 64.70,170.43 64.95,169.58 65.20,178.50 65.45,173.93 65.70,173.37 65.95,176.75 66.20,168.16 66.45,175.72 66.70,174.33 66.95,178.42 67.20,176.52 67.45,172.85 67.70,174.67 67.95,171.65 68.20,174.03 68.45,174.57 68.70,174.49 68.95,174.52 69.20,180.92 69.45,171.62 69.70,172.11 69.95,177.31 70.20,170.89 70.45,170.72 70.70,178.40 70.95,171.84 71.20,174.49 71.45,175.34 71.70,178.73 71.95,176.13 72.20,174.66 72.45,173.99 72.70,183.28 72.95,175.03 73.20,181.70 73.45,166.79 73.70,187.24 73.95,180.44 74.20,179.48 74.45,187.79 74.70,185.39 74.95,180.53 75.20,184.08 75.45,178.62 75.70,184.07 75.95,182.42 76.20,184.96 76.45,176.81 76.70,182.89 76.95,185.91 77.20,178.01 77.45,184.65 77.70,183.33 77.95,185.76 78.20,177.23 78.45,179.59 78.70,181.00 78.95,184.23 79.20,185.99 79.45,186.23 79.70,182.29 79.95,188.30 80.20,188.30 80.45,183.54 80.70,182.64 80.95,187.59 81.20,187.08 81.45,185.30 81.70,185.89 81.95,186.88 82.20,184.02 82.45,187.01 82.70,186.28 82.95,187.75 83.20,186.67 83.45,187.79 83.70,184.82 83.95,185.81 84.20,186.88 84.45,187.16 84.70,188.02 84.95,186.89 85.20,187.16 85.45,188.21 85.70,187.53 85.95,186.30 86.20,188.30 86.45,188.15 86.70,188.10 86.95,185.20 87.20,187.82 87.45,187.80 87.70,188.30 87.95,188.20 88.20,188.30 88.45,187.58 88.70,188.30 88.95,188.30 89.20,187.71 89.45,187.75 89.70,188.30 89.95,187.48 90.20,187.53 90.45,188.10 90.70,188.30 90.95,188.02 91.20,188.23 91.45,188.11 91.70,188.30 91.95,188.30 92.20,188.30 92.45,188.30 92.70,188.30 92.95,188.30 93.20,188.30 93.45,188.30 93.70,188.30 93.95,188.30 94.20,188.30 94.45,188.30 94.70,188.30 94.95,188.30 95.20,188.30 95.45,188.30 95.70,188.30 95.95,188.30 96.20,188.30 96.45,188.30 96.70,188.30 96.95,188.30 97.20,188.30 97.45,188.30 97.70,188.30 97.95,188.30 98.20,188.30 98.45,188.30 98.70,188.30 98.95,188.30 99.20,188.30 99.45,188.30 99.70,188.30 99.95,188.30 100.20,188.30 100.45,188.30 100.70,188.30 100.95,188.30 101.20,188.30 101.45,188.30 101.70,188.30 101.95,188.30 102.20,188.30 102.45,188.30 102.70,188.30 102.95,188.30 103.20,188.30 103.45,188.30 103.70,188.30 103.95,188.30 104.20,188.30 104.45,188.30 104.70,188.30 104.95,188.30 105.20,188.30 105.45,188.30 105.70,188.30 105.95,188.30 106.20,188.30 106.45,188.30 106.70,188.30 106.95,188.30 107.20,188.30 107.45,188.30 107.70,188.30 107.95,188.30 108.20,188.30 108.45,188.30 108.70,188.30 108.95,188.30 109.20,188.30 109.45,188.30 109.70,188.30 109.95,188.30 110.20,188.30 110.45,188.30 110.70,188.30 110.95,188.30 111.20,188.30 111.45,188.30 111.70,188.30 111.95,188.30 112.20,188.30 112.45,188.30 112.70,188.30 112.95,188.30 113.20,188.30 113.45,188.30 113.70,188.30 113.95,188.30 114.20,188.30 114.45,188.30 114.70,188.30 114.95,188.30 115.20,188.30 115.45,188.30 115.70,188.30 115.95,188.30 116.20,188.30 116.45,188.30 116.70,188.30 116.95,188.30 117.20,188.30 117.45,188.30 117.70,188.30 117.95,188.30 118.20,188.30 118.45,188.30 118.70,188.30 118.95,188.30 119.20,188.30 119.45,188.30 119.70,188.30 119.95,188.30 120.20,188.30 120.45,188.30 120.70,188.30 120.95,188.30 121.20,188.30 121.45,188.30 121.70,188.30 121.95,188.30 122.20,188.30 122.45,188.30 122.70,188.30 122.95,188.30 123.20,188.30 123.45,188.30 123.70,188.30 123.95,188.30 124.20,188.30 124.45,188.30 124.70,188.30 124.95,188.30 125.20,188.30 125.45,188.30 125.70,188.30 125.95,188.30 126.20,188.30 126.45,188.30 126.70,188.30 126.95,188.30 127.20,188.30 127.45,188.30 127.70,188.30 127.95,188.30 128.20,188.30 128.45,188.30 128.70,188.30 128.95,188.30 129.20,188.30 129.45,188.30 129.70,188.30 129.95,188.30 130.20,188.30 130.45,188.30" fill="none" stroke="#8a8a8a" stroke-width="0.6"/>
<polyline points="45.70,188.30 45.95,188.05 46.20,188.30 46.45,188.04 46.70,188.03 46.95,187.36 47.20,187.87 47.45,187.79 47.70,188.30 47.95,187.74 48.20,188.02 48.45,187.67 48.70,188.30 48.95,187.83 49.20,188.30 49.45,188.24 49.70,186.26 49.95,187.57 50.20,186.26 50.45,187.67 50.70,185.83 50.95,187.00 51.20,184.94 51.45,187.07 51.70,185.78 51.95,185.97 52.20,185.93 52.45,186.49 52.70,182.73 52.95,187.25 53.20,187.06 53.45,185.00 53.70,180.38 53.95,183.99 54.20,186.19 54.45,185.38 54.70,181.15 54.95,181.43 55.20,184.21 55.45,182.62 55.70,181.59 55.95,181.64 56.20,183.72 56.45,182.90 56.70,183.66 56.95,178.55 57.20,182.06 57.45,178.08 57.70,176.49 57.95,181.99 58.20,179.24 58.45,177.65 58.70,175.47 58.95,181.20 59.20,176.44 59.45,178.57 59.70,179.22 59.95,179.39 60.20,177.28 60.45,178.49 60.70,175.59 60.95,176.15 61.20,175.67 61.45,175.66 61.70,178.91 61.95,174.53 62.20,171.96 62.45,177.31 62.70,176.86 62.95,174.65 63.20,174.97 63.45,174.06 63.70,175.56 63.95,172.02 64.20,174.56 64.45,173.52 64.70,174.30 64.95,174.85 65.20,172.08 65.45,173.85 65.70,175.77 65.95,173.75 66.20,174.94 66.45,170.95 66.70,176.61 66.95,169.11 67.20,169.01 67.45,174.89 67.70,175.49 67.95,170.19 68.20,172.14 68.45,171.69 68.70,173.30 68.95,176.34 69.20,172.92 69.45,171.40 69.70,173.72 69.95,175.82 70.20,173.92 70.45,178.91 70.70,180.34 70.95,173.20 71.20,176.12 71.45,177.61 71.70,180.29 71.95,173.19 72.20,180.00 72.45,178.03 72.70,177.01 72.95,179.32 73.20,178.30 73.45,179.93 73.70,177.48 73.95,176.60 74.20,176.70 74.45,182.37 74.70,177.06 74.95,181.37 75.20,182.77 75.45,182.84 75.70,181.13 75.95,181.89 76.20,179.68 76.45,182.75 76.70,183.32 76.95,184.47 77.20,181.16 77.45,182.49 77.70,181.67 77.95,183.92 78.20,185.64 78.45,182.41 78.70,182.91 78.95,184.88 79.20,185.31 79.45,183.80 79.70,184.95 79.95,185.05 80.20,185.12 80.45,184.68 80.70,182.04 80.95,188.30 81.20,186.54 81.45,187.59 81.70,188.30 81.95,186.97 82.20,185.96 82.45,184.78 82.70,185.88 82.95,186.44 83.20,186.21 83.45,186.56 83.70,186.97 83.95,188.30 84.20,186.23 84.45,186.83 84.70,187.76 84.95,188.08 85.20,188.12 85.45,186.12 85.70,188.30 85.95,187.69 86.20,188.30 86.45,187.81 86.70,187.88 86.95,187.77 87.20,187.26 87.45,186.46 87.70,188.30 87.95,187.77 88.20,188.30 88.45,187.89 88.70,188.07 88.95,187.86 89.20,188.28 89.45,188.30 89.70,188.01 89.95,188.03 90.20,187.95 90.45,188.20 90.70,188.24 90.95,187.90 91.20,188.30 91.45,188.30 91.70,188.30 91.95,188.30 92.20,188.30 92.45,188.30 92.70,188.30 92.95,188.30 93.20,188.30 93.45,188.30 93.70,188.30 93.95,188.30 94.20,188.30 94.45,188.30 94.70,188.30 94.95,188.30 95.20,188.30 95.45,188.30 95.70,188.30 95.95,188.30 96.20,188.30 96.45,188.30 96.70,188.30 96.95,188.30 97.20,188.30 97.45,188.30 97.70,188.30 97.95,188.30 98.20,188.30 98.45,188.30 98.70,188.30 98.95,188.30 99.20,188.30 99.45,188.30 99.70,188.30 99.95,188.30 100.20,188.30 100.45,188.30 100.70,188.30 100.95,188.30 101.20,188.30 101.45,188.30 101.70,188.30 101.95,188.30 102.20,188.30 102.45,188.30 102.70,188.30 102.95,188.30 103.20,188.30 103.45,188.30 103.70,188.30 103.95,188.30 104.20,188.30 104.45,188.30 104.70,188.30 104.95,188.30 105.20,188.30 105.45,188.30 105.70,188.30 105.95,188.30 106.20,188.30 106.45,188.30 106.70,188.30 106.95,188.30 107.20,188.30 107.45,188.30 107.70,188.30 107.95,188.30 108.20,188.30 108.45,188.30 108.70,188.30 108.95,188.30 109.20,188.30 109.45,188.30 109.70,188.30 109.95,188.30 110.20,188.30 110.45,188.30 110.70,188.30 110.95,188.30 111.20,188.30 111.45,188.30 111.70,188.30 111.95,188.30 112.20,188.30 112.45,188.30 112.70,188.30 112.95,188.30 113.20,188.30 113.45,188.30 113.70,188.30 113.95,188.30 114.20,188.30 114.45,188.30 114.70,188.30 114.95,188.30 115.20,188.30 115.45,188.30 115.70,188.30 115.95,188.30 116.20,188.30 116.45,188.30 116.70,188.30 116.95,188.30 117.20,188.30 117.45,188.30 117.70,188.30 117.95,188.30 118.20,188.30 118.45,188.30 118.70,188.30 118.95,188.30 119.20,188.30 119.45,188.30 119.70,188.30 119.95,188.30 120.20,188.30 120.45,188.30 120.70,188.30 120.95,188.30 121.20,188.30 121.45,188.30 121.70,188.30 121.95,188.30 122.20,188.30 122.45,188.30 122.70,188.30 122.95,188.30 123.20,188.30 123.45,188.30 123.70,188.30 123.95,188.30 124.20,188.30 124.45,188.30 124.70,188.30 124.95,188.30 125.20,188.30 125.45,188.30 125.70,188.30 125.95,188.30 126.20,188.30 126.45,188.30 126.70,188.30 126.95,188.30 127.20,188.30 127.45,188.30 127.70,188.30 127.95,188.30 128.20,188.30 128.45,188.30 128.70,188.30 128.95,188.30 129.20,188.30 129.45,188.30 129.70,188.30 129.95,188.30 130.20,188.30 130.45,188.30" fill="none" stroke="#000" stroke-width="1.0" stroke-linejoin="miter"/>
<path d="M45.7,188.3 V158.7 H130.5 V188.3" fill="none" stroke="#929292" stroke-width="1.25"/>
<line x1="45.7" y1="158.7" x2="45.7" y2="188.3" stroke="#707070" stroke-width="1.1"/>
<line x1="45.2" y1="188.3" x2="131.0" y2="188.3" stroke="#383838" stroke-width="1.15"/>
<polyline points="140.70,188.30 140.95,188.01 141.20,188.17 141.45,188.02 141.70,187.27 141.95,187.39 142.20,187.65 142.45,187.14 142.70,187.33 142.95,186.60 143.20,185.73 143.45,186.14 143.70,185.64 143.95,184.01 144.20,181.06 144.45,181.46 144.70,182.44 144.95,183.82 145.20,178.48 145.45,180.40 145.70,179.05 145.95,178.70 146.20,177.28 146.45,177.49 146.70,174.36 146.95,176.40 147.20,174.76 147.45,172.64 147.70,171.43 147.95,169.62 148.20,168.98 148.45,169.61 148.70,170.82 148.95,169.04 149.20,168.70 149.45,167.80 149.70,167.59 149.95,167.17 150.20,166.79 150.45,164.81 150.70,165.95 150.95,163.66 151.20,164.93 151.45,165.67 151.70,165.96 151.95,166.40 152.20,168.58 152.45,167.25 152.70,169.07 152.95,169.14 153.20,169.29 153.45,168.71 153.70,171.16 153.95,171.77 154.20,173.38 154.45,171.50 154.70,172.92 154.95,173.37 155.20,175.24 155.45,173.61 155.70,174.45 155.95,175.55 156.20,177.58 156.45,176.62 156.70,177.67 156.95,179.25 157.20,179.39 157.45,177.46 157.70,179.55 157.95,180.86 158.20,179.59 158.45,179.17 158.70,179.17 158.95,181.94 159.20,181.23 159.45,180.38 159.70,181.51 159.95,181.30 160.20,183.15 160.45,183.30 160.70,180.37 160.95,182.13 161.20,182.78 161.45,183.04 161.70,183.82 161.95,184.06 162.20,185.24 162.45,184.31 162.70,184.37 162.95,184.24 163.20,184.75 163.45,184.69 163.70,184.52 163.95,184.53 164.20,184.10 164.45,184.95 164.70,185.91 164.95,185.86 165.20,186.56 165.45,186.36 165.70,186.39 165.95,185.63 166.20,186.55 166.45,186.42 166.70,187.22 166.95,186.94 167.20,187.60 167.45,186.80 167.70,186.39 167.95,186.83 168.20,187.29 168.45,187.50 168.70,187.23 168.95,187.26 169.20,186.57 169.45,188.05 169.70,187.86 169.95,187.60 170.20,187.83 170.45,187.41 170.70,188.00 170.95,187.91 171.20,188.15 171.45,187.59 171.70,187.61 171.95,187.84 172.20,187.87 172.45,187.61 172.70,188.09 172.95,188.12 173.20,187.66 173.45,187.85 173.70,188.17 173.95,187.86 174.20,188.25 174.45,188.29 174.70,188.16 174.95,188.07 175.20,188.30 175.45,188.30 175.70,188.00 175.95,188.18 176.20,188.25 176.45,188.30 176.70,188.30 176.95,188.30 177.20,188.30 177.45,188.30 177.70,188.30 177.95,188.30 178.20,188.30 178.45,188.30 178.70,188.30 178.95,188.30 179.20,188.30 179.45,188.30 179.70,188.30 179.95,188.30 180.20,188.30 180.45,188.30 180.70,188.30 180.95,188.30 181.20,188.30 181.45,188.30 181.70,188.30 181.95,188.30 182.20,188.30 182.45,188.30 182.70,188.30 182.95,188.30 183.20,188.30 183.45,188.30 183.70,188.30 183.95,188.30 184.20,188.30 184.45,188.30 184.70,188.30 184.95,188.30 185.20,188.30 185.45,188.30 185.70,188.30 185.95,188.30 186.20,188.30 186.45,188.30 186.70,188.30 186.95,188.30 187.20,188.30 187.45,188.30 187.70,188.30 187.95,188.30 188.20,188.30 188.45,188.30 188.70,188.30 188.95,188.30 189.20,188.30 189.45,188.30 189.70,188.30 189.95,188.30 190.20,188.30 190.45,188.30 190.70,188.30 190.95,188.30 191.20,188.30 191.45,188.30 191.70,188.30 191.95,188.30 192.20,188.30 192.45,188.30 192.70,188.30 192.95,188.30 193.20,188.30 193.45,188.30 193.70,188.30 193.95,188.30 194.20,188.30 194.45,188.30 194.70,188.30 194.95,188.30 195.20,188.30 195.45,188.30 195.70,188.30 195.95,188.30 196.20,188.30 196.45,188.30 196.70,188.30 196.95,188.30 197.20,188.30 197.45,188.30 197.70,188.30 197.95,188.30 198.20,188.30 198.45,188.30 198.70,188.30 198.95,188.30 199.20,188.30 199.45,188.30 199.70,188.30 199.95,188.30 200.20,188.30 200.45,188.30 200.70,188.30 200.95,188.30 201.20,188.30 201.45,188.30 201.70,188.30 201.95,188.30 202.20,188.30 202.45,188.30 202.70,188.30 202.95,188.30 203.20,188.30 203.45,188.30 203.70,188.30 203.95,188.30 204.20,188.30 204.45,188.30 204.70,188.30 204.95,188.30 205.20,188.30 205.45,188.30 205.70,188.30 205.95,188.30 206.20,188.30 206.45,188.30 206.70,188.30 206.95,188.30 207.20,188.30 207.45,188.30 207.70,188.30 207.95,188.30 208.20,188.30 208.45,188.30 208.70,188.30 208.95,188.30 209.20,188.30 209.45,188.30 209.70,188.30 209.95,188.30 210.20,188.30 210.45,188.30 210.70,188.30 210.95,188.30 211.20,188.30 211.45,188.30 211.70,188.30 211.95,188.30 212.20,188.30 212.45,188.30 212.70,188.30 212.95,188.30 213.20,188.30 213.45,188.30 213.70,188.30 213.95,188.30 214.20,188.30 214.45,188.30 214.70,188.30 214.95,188.30 215.20,188.30 215.45,188.30 215.70,188.30 215.95,188.30 216.20,188.30 216.45,188.30 216.70,188.30 216.95,188.30 217.20,188.30 217.45,188.30 217.70,188.30 217.95,188.30 218.20,188.30 218.45,188.30 218.70,188.30 218.95,188.30 219.20,188.30 219.45,188.30 219.70,188.30 219.95,188.30 220.20,188.30 220.45,188.30 220.70,188.30 220.95,188.30 221.20,188.30 221.45,188.30 221.70,188.30 221.95,188.30 222.20,188.30 222.45,188.30 222.70,188.30 222.95,188.30 223.20,188.30 223.45,188.30 223.70,188.30 223.95,188.30 224.20,188.30 224.45,188.30 224.70,188.30 224.95,188.30 225.20,188.30 225.45,188.30" fill="none" stroke="#4a4a4a" stroke-width="0.75" stroke-linejoin="miter"/>
<polyline points="140.70,188.30 140.95,188.30 141.20,188.27 141.45,188.28 141.70,188.30 141.95,188.22 142.20,188.30 142.45,188.30 142.70,188.30 142.95,188.17 143.20,188.21 143.45,188.29 143.70,188.25 143.95,188.24 144.20,188.13 144.45,188.02 144.70,188.30 144.95,188.30 145.20,188.30 145.45,188.30 145.70,188.30 145.95,188.17 146.20,187.89 146.45,188.21 146.70,188.30 146.95,188.30 147.20,187.83 147.45,188.30 147.70,188.30 147.95,188.08 148.20,188.30 148.45,188.30 148.70,188.28 148.95,188.21 149.20,188.30 149.45,188.18 149.70,188.30 149.95,188.22 150.20,188.29 150.45,187.88 150.70,188.30 150.95,188.30 151.20,188.24 151.45,187.94 151.70,188.26 151.95,188.30 152.20,188.30 152.45,188.30 152.70,187.87 152.95,187.62 153.20,188.18 153.45,187.92 153.70,188.30 153.95,188.30 154.20,187.84 154.45,188.26 154.70,187.64 154.95,188.14 155.20,187.93 155.45,188.30 155.70,187.49 155.95,188.20 156.20,188.30 156.45,188.30 156.70,188.22 156.95,187.67 157.20,187.90 157.45,188.30 157.70,187.59 157.95,188.30 158.20,188.30 158.45,187.50 158.70,187.80 158.95,188.24 159.20,187.77 159.45,188.30 159.70,188.30 159.95,187.96 160.20,188.30 160.45,187.69 160.70,188.08 160.95,188.30 161.20,187.89 161.45,188.30 161.70,188.30 161.95,188.30 162.20,188.03 162.45,188.16 162.70,188.30 162.95,187.99 163.20,187.84 163.45,187.10 163.70,188.30 163.95,187.57 164.20,188.30 164.45,187.91 164.70,187.63 164.95,188.12 165.20,188.11 165.45,188.23 165.70,188.30 165.95,188.12 166.20,187.92 166.45,188.30 166.70,188.05 166.95,188.30 167.20,187.73 167.45,188.06 167.70,188.29 167.95,188.30 168.20,187.99 168.45,187.89 168.70,188.30 168.95,188.07 169.20,188.30 169.45,188.30 169.70,187.86 169.95,188.30 170.20,187.87 170.45,188.02 170.70,187.13 170.95,186.85 171.20,187.88 171.45,187.76 171.70,187.75 171.95,187.57 172.20,187.33 172.45,188.30 172.70,188.30 172.95,186.99 173.20,187.75 173.45,188.30 173.70,186.84 173.95,187.94 174.20,186.86 174.45,188.30 174.70,187.45 174.95,188.19 175.20,188.30 175.45,186.71 175.70,187.10 175.95,187.72 176.20,187.53 176.45,187.70 176.70,187.19 176.95,188.04 177.20,186.39 177.45,187.59 177.70,184.67 177.95,188.30 178.20,186.70 178.45,188.00 178.70,186.92 178.95,185.74 179.20,185.97 179.45,185.75 179.70,182.56 179.95,186.94 180.20,188.06 180.45,186.60 180.70,185.24 180.95,185.45 181.20,188.30 181.45,186.47 181.70,186.80 181.95,185.40 182.20,182.88 182.45,184.46 182.70,181.72 182.95,183.65 183.20,187.86 183.45,185.24 183.70,187.06 183.95,183.45 184.20,184.45 184.45,184.05 184.70,181.93 184.95,185.17 185.20,182.51 185.45,185.62 185.70,180.08 185.95,181.69 186.20,186.38 186.45,180.87 186.70,182.03 186.95,184.86 187.20,175.80 187.45,176.10 187.70,176.30 187.95,180.87 188.20,185.94 188.45,181.72 188.70,183.57 188.95,179.34 189.20,178.28 189.45,174.76 189.70,175.74 189.95,181.74 190.20,175.50 190.45,177.45 190.70,175.79 190.95,178.01 191.20,173.76 191.45,178.31 191.70,173.65 191.95,173.78 192.20,174.23 192.45,177.66 192.70,175.17 192.95,178.49 193.20,177.42 193.45,176.67 193.70,170.87 193.95,175.36 194.20,172.96 194.45,170.85 194.70,174.06 194.95,177.56 195.20,175.90 195.45,177.70 195.70,175.62 195.95,174.89 196.20,173.32 196.45,179.71 196.70,172.02 196.95,168.21 197.20,170.88 197.45,172.61 197.70,169.57 197.95,175.75 198.20,172.54 198.45,174.63 198.70,172.95 198.95,173.56 199.20,177.74 199.45,178.47 199.70,177.63 199.95,175.90 200.20,176.03 200.45,181.33 200.70,179.23 200.95,183.90 201.20,182.15 201.45,176.27 201.70,178.95 201.95,181.17 202.20,183.86 202.45,182.38 202.70,185.64 202.95,179.11 203.20,180.75 203.45,178.16 203.70,179.88 203.95,177.09 204.20,183.02 204.45,182.71 204.70,180.40 204.95,176.47 205.20,180.37 205.45,182.17 205.70,184.91 205.95,185.25 206.20,182.64 206.45,182.01 206.70,179.53 206.95,184.15 207.20,186.69 207.45,187.64 207.70,186.59 207.95,185.07 208.20,187.59 208.45,187.76 208.70,188.30 208.95,186.07 209.20,185.86 209.45,186.24 209.70,186.89 209.95,186.02 210.20,184.40 210.45,185.96 210.70,186.06 210.95,185.35 211.20,185.38 211.45,184.09 211.70,186.54 211.95,186.75 212.20,188.30 212.45,187.45 212.70,185.85 212.95,187.23 213.20,188.22 213.45,188.30 213.70,187.69 213.95,187.75 214.20,187.62 214.45,188.30 214.70,188.30 214.95,185.86 215.20,188.30 215.45,187.40 215.70,188.30 215.95,188.30 216.20,188.30 216.45,187.88 216.70,188.30 216.95,188.30 217.20,188.30 217.45,188.30 217.70,188.30 217.95,188.30 218.20,188.30 218.45,188.30 218.70,188.30 218.95,188.30 219.20,188.30 219.45,188.30 219.70,188.30 219.95,188.30 220.20,188.30 220.45,188.30 220.70,188.30 220.95,188.30 221.20,188.30 221.45,188.30 221.70,188.30 221.95,188.30 222.20,188.30 222.45,188.30 222.70,188.30 222.95,188.30 223.20,188.30 223.45,188.30 223.70,188.30 223.95,188.30 224.20,188.30 224.45,188.30 224.70,188.30 224.95,188.30 225.20,188.30 225.45,188.30" fill="none" stroke="#8a8a8a" stroke-width="0.6"/>
<polyline points="140.70,188.30 140.95,188.29 141.20,188.30 141.45,188.30 141.70,188.23 141.95,188.30 142.20,188.25 142.45,188.30 142.70,188.30 142.95,188.22 143.20,188.30 143.45,188.30 143.70,188.16 143.95,188.30 144.20,188.30 144.45,188.30 144.70,188.28 144.95,188.14 145.20,188.30 145.45,188.27 145.70,188.25 145.95,188.11 146.20,188.20 146.45,188.29 146.70,188.30 146.95,188.16 147.20,188.24 147.45,188.30 147.70,188.30 147.95,188.17 148.20,188.30 148.45,188.30 148.70,188.13 148.95,188.19 149.20,188.30 149.45,188.15 149.70,188.07 149.95,188.20 150.20,188.03 150.45,188.30 150.70,187.90 150.95,188.23 151.20,188.08 151.45,188.30 151.70,188.30 151.95,188.12 152.20,188.20 152.45,188.12 152.70,188.30 152.95,188.08 153.20,188.11 153.45,188.30 153.70,188.24 153.95,188.03 154.20,188.20 154.45,188.30 154.70,188.01 154.95,188.30 155.20,188.30 155.45,187.76 155.70,188.30 155.95,187.94 156.20,188.01 156.45,188.30 156.70,187.98 156.95,188.17 157.20,188.17 157.45,188.30 157.70,188.01 157.95,187.93 158.20,188.30 158.45,187.82 158.70,188.02 158.95,188.30 159.20,188.30 159.45,188.21 159.70,188.27 159.95,188.17 160.20,188.30 160.45,187.92 160.70,188.30 160.95,188.27 161.20,187.96 161.45,188.24 161.70,188.30 161.95,188.22 162.20,188.19 162.45,188.20 162.70,188.30 162.95,188.17 163.20,188.13 163.45,188.26 163.70,187.97 163.95,188.30 164.20,188.30 164.45,188.10 164.70,188.30 164.95,188.21 165.20,188.24 165.45,188.30 165.70,187.74 165.95,188.04 166.20,188.22 166.45,188.18 166.70,188.13 166.95,187.81 167.20,187.86 167.45,188.13 167.70,188.24 167.95,187.92 168.20,188.30 168.45,187.75 168.70,188.04 168.95,188.19 169.20,187.91 169.45,187.98 169.70,188.30 169.95,187.30 170.20,188.30 170.45,188.30 170.70,187.47 170.95,187.73 171.20,188.19 171.45,188.30 171.70,188.01 171.95,187.50 172.20,188.30 172.45,187.45 172.70,188.29 172.95,186.96 173.20,186.90 173.45,186.43 173.70,187.15 173.95,187.44 174.20,188.14 174.45,187.72 174.70,187.57 174.95,187.79 175.20,187.14 175.45,188.05 175.70,188.16 175.95,187.75 176.20,187.26 176.45,187.37 176.70,186.61 176.95,187.27 177.20,186.67 177.45,188.21 177.70,186.79 177.95,187.15 178.20,187.07 178.45,185.94 178.70,186.59 178.95,186.66 179.20,186.89 179.45,186.94 179.70,186.66 179.95,187.16 180.20,185.29 180.45,188.13 180.70,185.57 180.95,186.35 181.20,186.86 181.45,186.30 181.70,186.62 181.95,185.55 182.20,186.97 182.45,184.91 182.70,185.47 182.95,185.83 183.20,185.65 183.45,185.91 183.70,184.11 183.95,184.54 184.20,184.27 184.45,182.45 184.70,183.25 184.95,184.92 185.20,184.08 185.45,181.89 185.70,181.04 185.95,183.46 186.20,184.27 186.45,181.91 186.70,185.56 186.95,182.09 187.20,181.24 187.45,182.20 187.70,186.11 187.95,181.91 188.20,178.31 188.45,181.39 188.70,179.14 188.95,184.09 189.20,181.32 189.45,179.14 189.70,179.64 189.95,178.57 190.20,177.56 190.45,180.52 190.70,176.25 190.95,176.65 191.20,177.00 191.45,173.85 191.70,174.64 191.95,176.60 192.20,176.05 192.45,173.46 192.70,175.02 192.95,175.90 193.20,171.22 193.45,174.17 193.70,173.83 193.95,175.94 194.20,173.75 194.45,179.30 194.70,173.70 194.95,172.76 195.20,173.86 195.45,174.24 195.70,174.73 195.95,176.52 196.20,177.04 196.45,178.65 196.70,178.96 196.95,173.35 197.20,177.52 197.45,174.07 197.70,173.92 197.95,175.73 198.20,177.69 198.45,176.49 198.70,176.10 198.95,172.95 199.20,178.88 199.45,175.19 199.70,174.73 199.95,178.28 200.20,174.84 200.45,175.50 200.70,176.93 200.95,176.63 201.20,177.17 201.45,176.22 201.70,178.93 201.95,180.23 202.20,180.70 202.45,180.63 202.70,177.93 202.95,180.87 203.20,182.37 203.45,183.41 203.70,181.15 203.95,180.50 204.20,183.70 204.45,183.09 204.70,181.97 204.95,184.42 205.20,182.44 205.45,179.94 205.70,182.08 205.95,180.19 206.20,186.28 206.45,184.65 206.70,183.34 206.95,181.03 207.20,184.31 207.45,185.37 207.70,183.25 207.95,185.51 208.20,184.75 208.45,184.45 208.70,184.13 208.95,184.81 209.20,183.40 209.45,186.49 209.70,185.46 209.95,185.06 210.20,185.40 210.45,185.84 210.70,187.64 210.95,186.87 211.20,187.38 211.45,186.95 211.70,187.10 211.95,187.81 212.20,188.12 212.45,187.45 212.70,188.30 212.95,187.05 213.20,186.68 213.45,187.94 213.70,188.01 213.95,188.27 214.20,187.50 214.45,187.67 214.70,188.22 214.95,187.76 215.20,188.00 215.45,187.98 215.70,187.88 215.95,187.88 216.20,188.30 216.45,188.04 216.70,188.30 216.95,188.30 217.20,188.30 217.45,188.30 217.70,188.30 217.95,188.30 218.20,188.30 218.45,188.30 218.70,188.30 218.95,188.30 219.20,188.30 219.45,188.30 219.70,188.30 219.95,188.30 220.20,188.30 220.45,188.30 220.70,188.30 220.95,188.30 221.20,188.30 221.45,188.30 221.70,188.30 221.95,188.30 222.20,188.30 222.45,188.30 222.70,188.30 222.95,188.30 223.20,188.30 223.45,188.30 223.70,188.30 223.95,188.30 224.20,188.30 224.45,188.30 224.70,188.30 224.95,188.30 225.20,188.30 225.45,188.30" fill="none" stroke="#000" stroke-width="1.0" stroke-linejoin="miter"/>
<path d="M140.7,188.3 V158.7 H225.5 V188.3" fill="none" stroke="#929292" stroke-width="1.25"/>
<line x1="140.7" y1="158.7" x2="140.7" y2="188.3" stroke="#707070" stroke-width="1.1"/>
<line x1="140.2" y1="188.3" x2="226.0" y2="188.3" stroke="#383838" stroke-width="1.15"/>
<polyline points="235.30,188.30 235.55,187.85 235.80,187.95 236.05,187.70 236.30,185.74 236.55,185.68 236.80,186.53 237.05,186.92 237.30,184.02 237.55,183.52 237.80,184.11 238.05,184.22 238.30,182.06 238.55,178.96 238.80,179.35 239.05,180.32 239.30,178.70 239.55,180.07 239.80,181.54 240.05,175.88 240.30,175.58 240.55,170.65 240.80,173.06 241.05,169.93 241.30,169.31 241.55,172.61 241.80,170.41 242.05,169.49 242.30,170.69 242.55,166.75 242.80,166.85 243.05,167.65 243.30,165.10 243.55,164.82 243.80,163.92 244.05,166.09 244.30,166.90 244.55,167.36 244.80,167.70 245.05,169.42 245.30,167.99 245.55,170.40 245.80,171.88 246.05,173.46 246.30,176.95 246.55,175.51 246.80,174.51 247.05,175.10 247.30,174.91 247.55,177.25 247.80,174.61 248.05,181.16 248.30,176.82 248.55,180.27 248.80,176.17 249.05,177.41 249.30,180.58 249.55,180.51 249.80,178.15 250.05,179.67 250.30,180.44 250.55,181.61 250.80,180.03 251.05,181.49 251.30,181.66 251.55,182.52 251.80,181.19 252.05,181.87 252.30,182.76 252.55,183.10 252.80,182.56 253.05,183.64 253.30,181.04 253.55,182.08 253.80,183.60 254.05,181.15 254.30,184.84 254.55,182.71 254.80,183.27 255.05,184.24 255.30,182.51 255.55,183.25 255.80,183.74 256.05,182.03 256.30,183.71 256.55,183.83 256.80,184.65 257.05,185.34 257.30,184.10 257.55,185.86 257.80,185.94 258.05,185.20 258.30,187.14 258.55,185.24 258.80,185.40 259.05,185.21 259.30,186.70 259.55,186.40 259.80,187.03 260.05,187.04 260.30,185.35 260.55,186.08 260.80,187.00 261.05,187.28 261.30,186.76 261.55,187.04 261.80,186.88 262.05,186.61 262.30,186.14 262.55,186.60 262.80,186.19 263.05,186.22 263.30,186.86 263.55,187.97 263.80,188.20 264.05,187.23 264.30,186.44 264.55,186.77 264.80,186.96 265.05,187.49 265.30,187.77 265.55,187.59 265.80,188.17 266.05,187.66 266.30,187.60 266.55,188.16 266.80,187.32 267.05,188.10 267.30,187.68 267.55,187.12 267.80,188.00 268.05,187.98 268.30,187.86 268.55,188.30 268.80,187.88 269.05,188.07 269.30,188.21 269.55,188.20 269.80,188.28 270.05,188.30 270.30,188.30 270.55,188.30 270.80,188.30 271.05,188.30 271.30,188.30 271.55,188.30 271.80,188.30 272.05,188.30 272.30,188.30 272.55,188.30 272.80,188.30 273.05,188.30 273.30,188.30 273.55,188.30 273.80,188.30 274.05,188.30 274.30,188.30 274.55,188.30 274.80,188.30 275.05,188.30 275.30,188.30 275.55,188.30 275.80,188.30 276.05,188.30 276.30,188.30 276.55,188.30 276.80,188.30 277.05,188.30 277.30,188.30 277.55,188.30 277.80,188.30 278.05,188.30 278.30,188.30 278.55,188.30 278.80,188.30 279.05,188.30 279.30,188.30 279.55,188.30 279.80,188.30 280.05,188.30 280.30,188.30 280.55,188.30 280.80,188.30 281.05,188.30 281.30,188.30 281.55,188.30 281.80,188.30 282.05,188.30 282.30,188.30 282.55,188.30 282.80,188.30 283.05,188.30 283.30,188.30 283.55,188.30 283.80,188.30 284.05,188.30 284.30,188.30 284.55,188.30 284.80,188.30 285.05,188.30 285.30,188.30 285.55,188.30 285.80,188.30 286.05,188.30 286.30,188.30 286.55,188.30 286.80,188.30 287.05,188.30 287.30,188.30 287.55,188.30 287.80,188.30 288.05,188.30 288.30,188.30 288.55,188.30 288.80,188.30 289.05,188.30 289.30,188.30 289.55,188.30 289.80,188.30 290.05,188.30 290.30,188.30 290.55,188.30 290.80,188.30 291.05,188.30 291.30,188.30 291.55,188.30 291.80,188.30 292.05,188.30 292.30,188.30 292.55,188.30 292.80,188.30 293.05,188.30 293.30,188.30 293.55,188.30 293.80,188.30 294.05,188.30 294.30,188.30 294.55,188.30 294.80,188.30 295.05,188.30 295.30,188.30 295.55,188.30 295.80,188.30 296.05,188.30 296.30,188.30 296.55,188.30 296.80,188.30 297.05,188.30 297.30,188.30 297.55,188.30 297.80,188.30 298.05,188.30 298.30,188.30 298.55,188.30 298.80,188.30 299.05,188.30 299.30,188.30 299.55,188.30 299.80,188.30 300.05,188.30 300.30,188.30 300.55,188.30 300.80,188.30 301.05,188.30 301.30,188.30 301.55,188.30 301.80,188.30 302.05,188.30 302.30,188.30 302.55,188.30 302.80,188.30 303.05,188.30 303.30,188.30 303.55,188.30 303.80,188.30 304.05,188.30 304.30,188.30 304.55,188.30 304.80,188.30 305.05,188.30 305.30,188.30 305.55,188.30 305.80,188.30 306.05,188.30 306.30,188.30 306.55,188.30 306.80,188.30 307.05,188.30 307.30,188.30 307.55,188.30 307.80,188.30 308.05,188.30 308.30,188.30 308.55,188.30 308.80,188.30 309.05,188.30 309.30,188.30 309.55,188.30 309.80,188.30 310.05,188.30 310.30,188.30 310.55,188.30 310.80,188.30 311.05,188.30 311.30,188.30 311.55,188.30 311.80,188.30 312.05,188.30 312.30,188.30 312.55,188.30 312.80,188.30 313.05,188.30 313.30,188.30 313.55,188.30 313.80,188.30 314.05,188.30 314.30,188.30 314.55,188.30 314.80,188.30 315.05,188.30 315.30,188.30 315.55,188.30 315.80,188.30 316.05,188.30 316.30,188.30 316.55,188.30 316.80,188.30 317.05,188.30 317.30,188.30 317.55,188.30 317.80,188.30 318.05,188.30 318.30,188.30 318.55,188.30 318.80,188.30 319.05,188.30 319.30,188.30 319.55,188.30 319.80,188.30 320.05,188.30" fill="none" stroke="#4a4a4a" stroke-width="0.75" stroke-linejoin="miter"/>
<polyline points="235.30,188.30 235.55,187.67 235.80,188.30 236.05,187.62 236.30,185.08 236.55,185.72 236.80,187.57 237.05,185.61 237.30,186.14 237.55,185.74 237.80,186.89 238.05,186.72 238.30,181.18 238.55,183.04 238.80,177.52 239.05,181.68 239.30,182.14 239.55,180.26 239.80,182.44 240.05,175.82 240.30,182.95 240.55,182.84 240.80,178.99 241.05,183.32 241.30,184.27 241.55,184.13 241.80,181.84 242.05,181.31 242.30,176.15 242.55,174.63 242.80,179.72 243.05,174.64 243.30,180.35 243.55,178.76 243.80,179.35 244.05,170.59 244.30,177.54 244.55,176.96 244.80,171.25 245.05,172.46 245.30,171.45 245.55,177.83 245.80,173.06 246.05,170.71 246.30,168.12 246.55,178.30 246.80,172.36 247.05,174.90 247.30,172.39 247.55,178.11 247.80,172.07 248.05,167.43 248.30,178.23 248.55,166.77 248.80,176.20 249.05,168.28 249.30,174.97 249.55,171.36 249.80,167.96 250.05,171.91 250.30,172.04 250.55,172.74 250.80,178.01 251.05,172.07 251.30,167.54 251.55,172.20 251.80,176.56 252.05,168.08 252.30,181.78 252.55,167.36 252.80,174.23 253.05,174.98 253.30,176.82 253.55,179.05 253.80,181.20 254.05,176.39 254.30,182.15 254.55,178.89 254.80,179.33 255.05,181.19 255.30,176.38 255.55,182.03 255.80,178.53 256.05,174.18 256.30,175.82 256.55,179.63 256.80,180.39 257.05,181.40 257.30,179.58 257.55,179.60 257.80,182.14 258.05,182.38 258.30,181.58 258.55,182.62 258.80,184.34 259.05,184.51 259.30,177.84 259.55,184.33 259.80,181.43 260.05,186.48 260.30,184.65 260.55,178.35 260.80,186.21 261.05,185.21 261.30,182.91 261.55,183.80 261.80,186.48 262.05,185.70 262.30,184.44 262.55,184.36 262.80,186.35 263.05,188.30 263.30,183.91 263.55,185.11 263.80,185.86 264.05,188.04 264.30,185.46 264.55,185.88 264.80,184.53 265.05,185.00 265.30,187.16 265.55,187.59 265.80,186.66 266.05,187.90 266.30,188.15 266.55,188.30 266.80,185.44 267.05,186.27 267.30,184.60 267.55,188.14 267.80,185.75 268.05,188.11 268.30,188.30 268.55,187.72 268.80,188.30 269.05,188.30 269.30,186.96 269.55,188.30 269.80,187.46 270.05,188.30 270.30,187.88 270.55,188.07 270.80,188.19 271.05,187.75 271.30,187.91 271.55,188.30 271.80,188.05 272.05,187.71 272.30,188.30 272.55,188.29 272.80,188.28 273.05,188.30 273.30,188.30 273.55,188.30 273.80,188.30 274.05,188.30 274.30,188.30 274.55,188.30 274.80,188.30 275.05,188.30 275.30,188.30 275.55,188.30 275.80,188.30 276.05,188.30 276.30,188.30 276.55,188.30 276.80,188.30 277.05,188.30 277.30,188.30 277.55,188.30 277.80,188.30 278.05,188.30 278.30,188.30 278.55,188.30 278.80,188.30 279.05,188.30 279.30,188.30 279.55,188.30 279.80,188.30 280.05,188.30 280.30,188.30 280.55,188.30 280.80,188.30 281.05,188.30 281.30,188.30 281.55,188.30 281.80,188.30 282.05,188.30 282.30,188.30 282.55,188.30 282.80,188.30 283.05,188.30 283.30,188.30 283.55,188.30 283.80,188.30 284.05,188.30 284.30,188.30 284.55,188.30 284.80,188.30 285.05,188.30 285.30,188.30 285.55,188.30 285.80,188.30 286.05,188.30 286.30,188.30 286.55,188.30 286.80,188.30 287.05,188.30 287.30,188.30 287.55,188.30 287.80,188.30 288.05,188.30 288.30,188.30 288.55,188.30 288.80,188.30 289.05,188.30 289.30,188.30 289.55,188.30 289.80,188.30 290.05,188.30 290.30,188.30 290.55,188.30 290.80,188.30 291.05,188.30 291.30,188.30 291.55,188.30 291.80,188.30 292.05,188.30 292.30,188.30 292.55,188.30 292.80,188.30 293.05,188.30 293.30,188.30 293.55,188.30 293.80,188.30 294.05,188.30 294.30,188.30 294.55,188.30 294.80,188.30 295.05,188.30 295.30,188.30 295.55,188.30 295.80,188.30 296.05,188.30 296.30,188.30 296.55,188.30 296.80,188.30 297.05,188.30 297.30,188.30 297.55,188.30 297.80,188.30 298.05,188.30 298.30,188.30 298.55,188.30 298.80,188.30 299.05,188.30 299.30,188.30 299.55,188.30 299.80,188.30 300.05,188.30 300.30,188.30 300.55,188.30 300.80,188.30 301.05,188.30 301.30,188.30 301.55,188.30 301.80,188.30 302.05,188.30 302.30,188.30 302.55,188.30 302.80,188.30 303.05,188.30 303.30,188.30 303.55,188.30 303.80,188.30 304.05,188.30 304.30,188.30 304.55,188.30 304.80,188.30 305.05,188.30 305.30,188.30 305.55,188.30 305.80,188.30 306.05,188.30 306.30,188.30 306.55,188.30 306.80,188.30 307.05,188.30 307.30,188.30 307.55,188.30 307.80,188.30 308.05,188.30 308.30,188.30 308.55,188.30 308.80,188.30 309.05,188.30 309.30,188.30 309.55,188.30 309.80,188.30 310.05,188.30 310.30,188.30 310.55,188.30 310.80,188.30 311.05,188.30 311.30,188.30 311.55,188.30 311.80,188.30 312.05,188.30 312.30,188.30 312.55,188.30 312.80,188.30 313.05,188.30 313.30,188.30 313.55,188.30 313.80,188.30 314.05,188.30 314.30,188.30 314.55,188.30 314.80,188.30 315.05,188.30 315.30,188.30 315.55,188.30 315.80,188.30 316.05,188.30 316.30,188.30 316.55,188.30 316.80,188.30 317.05,188.30 317.30,188.30 317.55,188.30 317.80,188.30 318.05,188.30 318.30,188.30 318.55,188.30 318.80,188.30 319.05,188.30 319.30,188.30 319.55,188.30 319.80,188.30 320.05,188.30" fill="none" stroke="#8a8a8a" stroke-width="0.6"/>
<polyline points="235.30,188.30 235.55,188.07 235.80,187.57 236.05,187.85 236.30,187.74 236.55,187.92 236.80,186.79 237.05,186.76 237.30,187.35 237.55,185.40 237.80,187.64 238.05,187.15 238.30,186.64 238.55,184.29 238.80,184.06 239.05,182.57 239.30,184.15 239.55,184.83 239.80,179.30 240.05,183.76 240.30,180.89 240.55,178.27 240.80,177.16 241.05,181.52 241.30,183.23 241.55,179.13 241.80,177.39 242.05,179.92 242.30,181.99 242.55,178.51 242.80,182.06 243.05,174.84 243.30,171.03 243.55,176.95 243.80,173.74 244.05,176.67 244.30,176.76 244.55,174.69 244.80,174.86 245.05,171.85 245.30,174.41 245.55,170.00 245.80,172.94 246.05,175.35 246.30,170.73 246.55,172.41 246.80,175.17 247.05,174.80 247.30,176.66 247.55,168.19 247.80,170.43 248.05,169.00 248.30,169.93 248.55,174.49 248.80,170.13 249.05,171.25 249.30,173.45 249.55,169.06 249.80,167.07 250.05,168.12 250.30,171.06 250.55,172.59 250.80,177.98 251.05,171.99 251.30,170.70 251.55,170.22 251.80,170.42 252.05,170.44 252.30,172.80 252.55,174.47 252.80,173.88 253.05,172.25 253.30,172.30 253.55,177.85 253.80,177.83 254.05,175.78 254.30,175.54 254.55,176.09 254.80,174.20 255.05,178.33 255.30,180.80 255.55,175.94 255.80,175.72 256.05,180.95 256.30,181.06 256.55,177.49 256.80,180.33 257.05,180.17 257.30,184.60 257.55,185.84 257.80,184.42 258.05,182.54 258.30,183.46 258.55,180.10 258.80,181.86 259.05,184.55 259.30,181.04 259.55,187.35 259.80,183.68 260.05,183.24 260.30,184.84 260.55,188.30 260.80,183.27 261.05,183.04 261.30,184.85 261.55,184.46 261.80,186.29 262.05,184.54 262.30,185.51 262.55,184.26 262.80,184.13 263.05,186.76 263.30,185.55 263.55,185.51 263.80,185.98 264.05,188.30 264.30,186.55 264.55,187.26 264.80,186.33 265.05,185.57 265.30,187.79 265.55,187.94 265.80,185.02 266.05,186.74 266.30,187.86 266.55,187.22 266.80,186.51 267.05,187.70 267.30,188.20 267.55,187.63 267.80,187.19 268.05,187.54 268.30,188.30 268.55,187.66 268.80,188.30 269.05,187.29 269.30,187.98 269.55,187.69 269.80,187.69 270.05,188.24 270.30,188.07 270.55,188.20 270.80,187.93 271.05,187.90 271.30,187.97 271.55,188.30 271.80,187.77 272.05,187.56 272.30,187.97 272.55,188.30 272.80,188.19 273.05,188.11 273.30,188.30 273.55,188.30 273.80,188.30 274.05,188.30 274.30,188.30 274.55,188.30 274.80,188.30 275.05,188.30 275.30,188.30 275.55,188.30 275.80,188.30 276.05,188.30 276.30,188.30 276.55,188.30 276.80,188.30 277.05,188.30 277.30,188.30 277.55,188.30 277.80,188.30 278.05,188.30 278.30,188.30 278.55,188.30 278.80,188.30 279.05,188.30 279.30,188.30 279.55,188.30 279.80,188.30 280.05,188.30 280.30,188.30 280.55,188.30 280.80,188.30 281.05,188.30 281.30,188.30 281.55,188.30 281.80,188.30 282.05,188.30 282.30,188.30 282.55,188.30 282.80,188.30 283.05,188.30 283.30,188.30 283.55,188.30 283.80,188.30 284.05,188.30 284.30,188.30 284.55,188.30 284.80,188.30 285.05,188.30 285.30,188.30 285.55,188.30 285.80,188.30 286.05,188.30 286.30,188.30 286.55,188.30 286.80,188.30 287.05,188.30 287.30,188.30 287.55,188.30 287.80,188.30 288.05,188.30 288.30,188.30 288.55,188.30 288.80,188.30 289.05,188.30 289.30,188.30 289.55,188.30 289.80,188.30 290.05,188.30 290.30,188.30 290.55,188.30 290.80,188.30 291.05,188.30 291.30,188.30 291.55,188.30 291.80,188.30 292.05,188.30 292.30,188.30 292.55,188.30 292.80,188.30 293.05,188.30 293.30,188.30 293.55,188.30 293.80,188.30 294.05,188.30 294.30,188.30 294.55,188.30 294.80,188.30 295.05,188.30 295.30,188.30 295.55,188.30 295.80,188.30 296.05,188.30 296.30,188.30 296.55,188.30 296.80,188.30 297.05,188.30 297.30,188.30 297.55,188.30 297.80,188.30 298.05,188.30 298.30,188.30 298.55,188.30 298.80,188.30 299.05,188.30 299.30,188.30 299.55,188.30 299.80,188.30 300.05,188.30 300.30,188.30 300.55,188.30 300.80,188.30 301.05,188.30 301.30,188.30 301.55,188.30 301.80,188.30 302.05,188.30 302.30,188.30 302.55,188.30 302.80,188.30 303.05,188.30 303.30,188.30 303.55,188.30 303.80,188.30 304.05,188.30 304.30,188.30 304.55,188.30 304.80,188.30 305.05,188.30 305.30,188.30 305.55,188.30 305.80,188.30 306.05,188.30 306.30,188.30 306.55,188.30 306.80,188.30 307.05,188.30 307.30,188.30 307.55,188.30 307.80,188.30 308.05,188.30 308.30,188.30 308.55,188.30 308.80,188.30 309.05,188.30 309.30,188.30 309.55,188.30 309.80,188.30 310.05,188.30 310.30,188.30 310.55,188.30 310.80,188.30 311.05,188.30 311.30,188.30 311.55,188.30 311.80,188.30 312.05,188.30 312.30,188.30 312.55,188.30 312.80,188.30 313.05,188.30 313.30,188.30 313.55,188.30 313.80,188.30 314.05,188.30 314.30,188.30 314.55,188.30 314.80,188.30 315.05,188.30 315.30,188.30 315.55,188.30 315.80,188.30 316.05,188.30 316.30,188.30 316.55,188.30 316.80,188.30 317.05,188.30 317.30,188.30 317.55,188.30 317.80,188.30 318.05,188.30 318.30,188.30 318.55,188.30 318.80,188.30 319.05,188.30 319.30,188.30 319.55,188.30 319.80,188.30 320.05,188.30" fill="none" stroke="#000" stroke-width="1.0" stroke-linejoin="miter"/>
<path d="M235.3,188.3 V158.7 H320.1 V188.3" fill="none" stroke="#929292" stroke-width="1.25"/>
<line x1="235.3" y1="158.7" x2="235.3" y2="188.3" stroke="#707070" stroke-width="1.1"/>
<line x1="234.8" y1="188.3" x2="320.6" y2="188.3" stroke="#383838" stroke-width="1.15"/>
<polyline points="329.80,188.30 330.05,187.82 330.30,187.62 330.55,187.83 330.80,185.22 331.05,187.04 331.30,186.45 331.55,185.70 331.80,184.00 332.05,182.49 332.30,182.44 332.55,181.55 332.80,183.41 333.05,179.09 333.30,181.06 333.55,175.62 333.80,180.01 334.05,173.68 334.30,174.41 334.55,172.44 334.80,170.20 335.05,169.88 335.30,174.27 335.55,166.93 335.80,166.54 336.05,169.07 336.30,163.91 336.55,165.57 336.80,165.54 337.05,163.84 337.30,166.08 337.55,167.05 337.80,167.78 338.05,165.83 338.30,165.52 338.55,167.08 338.80,165.97 339.05,171.52 339.30,171.01 339.55,168.49 339.80,171.83 340.05,171.76 340.30,169.69 340.55,170.22 340.80,173.12 341.05,174.14 341.30,175.03 341.55,174.63 341.80,174.70 342.05,175.15 342.30,178.47 342.55,175.47 342.80,180.21 343.05,177.93 343.30,180.79 343.55,178.22 343.80,177.72 344.05,180.53 344.30,178.77 344.55,181.47 344.80,179.01 345.05,181.23 345.30,179.83 345.55,183.49 345.80,182.59 346.05,182.96 346.30,183.88 346.55,183.61 346.80,183.44 347.05,183.29 347.30,184.45 347.55,185.22 347.80,186.13 348.05,185.75 348.30,186.16 348.55,185.60 348.80,184.16 349.05,185.58 349.30,185.45 349.55,186.96 349.80,186.74 350.05,186.80 350.30,185.93 350.55,187.36 350.80,185.95 351.05,187.06 351.30,187.48 351.55,187.57 351.80,187.17 352.05,188.16 352.30,187.72 352.55,187.10 352.80,187.93 353.05,187.63 353.30,187.36 353.55,187.88 353.80,187.64 354.05,187.51 354.30,188.00 354.55,187.70 354.80,187.90 355.05,188.24 355.30,188.11 355.55,188.30 355.80,188.30 356.05,188.30 356.30,188.30 356.55,188.30 356.80,188.30 357.05,188.30 357.30,188.30 357.55,188.30 357.80,188.30 358.05,188.30 358.30,188.30 358.55,188.30 358.80,188.30 359.05,188.30 359.30,188.30 359.55,188.30 359.80,188.30 360.05,188.30 360.30,188.30 360.55,188.30 360.80,188.30 361.05,188.30 361.30,188.30 361.55,188.30 361.80,188.30 362.05,188.30 362.30,188.30 362.55,188.30 362.80,188.30 363.05,188.30 363.30,188.30 363.55,188.30 363.80,188.30 364.05,188.30 364.30,188.30 364.55,188.30 364.80,188.30 365.05,188.30 365.30,188.30 365.55,188.30 365.80,188.30 366.05,188.30 366.30,188.30 366.55,188.30 366.80,188.30 367.05,188.30 367.30,188.30 367.55,188.30 367.80,188.30 368.05,188.30 368.30,188.30 368.55,188.30 368.80,188.30 369.05,188.30 369.30,188.30 369.55,188.30 369.80,188.30 370.05,188.30 370.30,188.30 370.55,188.30 370.80,188.30 371.05,188.30 371.30,188.30 371.55,188.30 371.80,188.30 372.05,188.30 372.30,188.30 372.55,188.30 372.80,188.30 373.05,188.30 373.30,188.30 373.55,188.30 373.80,188.30 374.05,188.30 374.30,188.30 374.55,188.30 374.80,188.30 375.05,188.30 375.30,188.30 375.55,188.30 375.80,188.30 376.05,188.30 376.30,188.30 376.55,188.30 376.80,188.30 377.05,188.30 377.30,188.30 377.55,188.30 377.80,188.30 378.05,188.30 378.30,188.30 378.55,188.30 378.80,188.30 379.05,188.30 379.30,188.30 379.55,188.30 379.80,188.30 380.05,188.30 380.30,188.30 380.55,188.30 380.80,188.30 381.05,188.30 381.30,188.30 381.55,188.30 381.80,188.30 382.05,188.30 382.30,188.30 382.55,188.30 382.80,188.30 383.05,188.30 383.30,188.30 383.55,188.30 383.80,188.30 384.05,188.30 384.30,188.30 384.55,188.30 384.80,188.30 385.05,188.30 385.30,188.30 385.55,188.30 385.80,188.30 386.05,188.30 386.30,188.30 386.55,188.30 386.80,188.30 387.05,188.30 387.30,188.30 387.55,188.30 387.80,188.30 388.05,188.30 388.30,188.30 388.55,188.30 388.80,188.30 389.05,188.30 389.30,188.30 389.55,188.30 389.80,188.30 390.05,188.30 390.30,188.30 390.55,188.30 390.80,188.30 391.05,188.30 391.30,188.30 391.55,188.30 391.80,188.30 392.05,188.30 392.30,188.30 392.55,188.30 392.80,188.30 393.05,188.30 393.30,188.30 393.55,188.30 393.80,188.30 394.05,188.30 394.30,188.30 394.55,188.30 394.80,188.30 395.05,188.30 395.30,188.30 395.55,188.30 395.80,188.30 396.05,188.30 396.30,188.30 396.55,188.30 396.80,188.30 397.05,188.30 397.30,188.30 397.55,188.30 397.80,188.30 398.05,188.30 398.30,188.30 398.55,188.30 398.80,188.30 399.05,188.30 399.30,188.30 399.55,188.30 399.80,188.30 400.05,188.30 400.30,188.30 400.55,188.30 400.80,188.30 401.05,188.30 401.30,188.30 401.55,188.30 401.80,188.30 402.05,188.30 402.30,188.30 402.55,188.30 402.80,188.30 403.05,188.30 403.30,188.30 403.55,188.30 403.80,188.30 404.05,188.30 404.30,188.30 404.55,188.30 404.80,188.30 405.05,188.30 405.30,188.30 405.55,188.30 405.80,188.30 406.05,188.30 406.30,188.30 406.55,188.30 406.80,188.30 407.05,188.30 407.30,188.30 407.55,188.30 407.80,188.30 408.05,188.30 408.30,188.30 408.55,188.30 408.80,188.30 409.05,188.30 409.30,188.30 409.55,188.30 409.80,188.30 410.05,188.30 410.30,188.30 410.55,188.30 410.80,188.30 411.05,188.30 411.30,188.30 411.55,188.30 411.80,188.30 412.05,188.30 412.30,188.30 412.55,188.30 412.80,188.30 413.05,188.30 413.30,188.30 413.55,188.30 413.80,188.30 414.05,188.30 414.30,188.30 414.55,188.30" fill="none" stroke="#4a4a4a" stroke-width="0.75" stroke-linejoin="miter"/>
<polyline points="329.80,188.03 330.05,177.47 330.30,177.62 330.55,174.15 330.80,180.93 331.05,178.23 331.30,175.35 331.55,172.32 331.80,175.25 332.05,173.51 332.30,172.12 332.55,174.06 332.80,170.62 333.05,173.88 333.30,168.19 333.55,171.29 333.80,171.02 334.05,164.89 334.30,166.82 334.55,167.33 334.80,163.10 335.05,163.13 335.30,159.94 335.55,163.85 335.80,162.51 336.05,166.11 336.30,159.30 336.55,166.22 336.80,160.25 337.05,167.65 337.30,166.19 337.55,161.98 337.80,168.83 338.05,166.14 338.30,168.22 338.55,171.94 338.80,171.41 339.05,170.48 339.30,173.51 339.55,173.43 339.80,177.92 340.05,167.14 340.30,175.88 340.55,172.06 340.80,171.45 341.05,172.05 341.30,172.83 341.55,174.47 341.80,178.57 342.05,176.83 342.30,177.48 342.55,179.86 342.80,176.24 343.05,182.21 343.30,181.29 343.55,174.30 343.80,178.50 344.05,181.22 344.30,177.95 344.55,182.81 344.80,176.50 345.05,184.40 345.30,182.14 345.55,183.76 345.80,181.32 346.05,180.63 346.30,183.04 346.55,185.03 346.80,180.90 347.05,184.35 347.30,184.77 347.55,181.31 347.80,183.27 348.05,182.66 348.30,186.46 348.55,185.70 348.80,185.62 349.05,185.58 349.30,186.25 349.55,185.39 349.80,184.54 350.05,188.25 350.30,185.28 350.55,184.66 350.80,188.30 351.05,187.92 351.30,187.50 351.55,186.97 351.80,187.04 352.05,187.80 352.30,184.41 352.55,185.92 352.80,186.33 353.05,187.42 353.30,185.97 353.55,188.24 353.80,186.81 354.05,186.02 354.30,187.96 354.55,188.30 354.80,186.80 355.05,187.43 355.30,188.30 355.55,187.66 355.80,187.16 356.05,188.30 356.30,188.30 356.55,188.30 356.80,188.20 357.05,186.98 357.30,188.30 357.55,185.86 357.80,187.35 358.05,187.53 358.30,187.64 358.55,188.30 358.80,186.99 359.05,187.74 359.30,186.95 359.55,187.76 359.80,187.64 360.05,186.23 360.30,188.18 360.55,187.75 360.80,187.49 361.05,187.50 361.30,188.16 361.55,187.82 361.80,187.24 362.05,186.23 362.30,188.00 362.55,188.17 362.80,186.90 363.05,188.30 363.30,186.73 363.55,188.10 363.80,187.98 364.05,188.30 364.30,187.68 364.55,187.88 364.80,187.76 365.05,187.84 365.30,188.30 365.55,188.18 365.80,187.34 366.05,188.30 366.30,188.17 366.55,188.18 366.80,188.30 367.05,188.30 367.30,187.43 367.55,187.93 367.80,187.48 368.05,188.30 368.30,187.74 368.55,188.30 368.80,188.30 369.05,188.30 369.30,187.18 369.55,187.81 369.80,187.50 370.05,187.86 370.30,188.30 370.55,188.27 370.80,187.84 371.05,188.30 371.30,187.70 371.55,187.43 371.80,188.08 372.05,187.86 372.30,188.30 372.55,187.71 372.80,188.30 373.05,188.30 373.30,188.30 373.55,187.46 373.80,188.22 374.05,187.98 374.30,187.64 374.55,186.33 374.80,187.37 375.05,188.30 375.30,188.30 375.55,187.15 375.80,188.00 376.05,187.48 376.30,188.05 376.55,187.47 376.80,188.30 377.05,188.30 377.30,187.99 377.55,187.90 377.80,188.30 378.05,188.17 378.30,187.98 378.55,187.47 378.80,187.43 379.05,188.30 379.30,187.72 379.55,188.20 379.80,188.30 380.05,187.69 380.30,188.03 380.55,187.79 380.80,188.30 381.05,188.07 381.30,187.07 381.55,188.30 381.80,188.11 382.05,187.17 382.30,188.19 382.55,187.65 382.80,187.20 383.05,187.46 383.30,188.30 383.55,187.62 383.80,187.80 384.05,188.30 384.30,188.30 384.55,188.06 384.80,188.30 385.05,187.69 385.30,188.02 385.55,187.51 385.80,188.26 386.05,187.99 386.30,187.37 386.55,188.03 386.80,188.29 387.05,187.20 387.30,188.30 387.55,187.78 387.80,187.53 388.05,186.64 388.30,188.30 388.55,188.30 388.80,188.30 389.05,188.30 389.30,187.85 389.55,188.30 389.80,188.03 390.05,188.30 390.30,187.37 390.55,187.42 390.80,188.30 391.05,187.38 391.30,187.69 391.55,186.89 391.80,188.30 392.05,187.27 392.30,188.30 392.55,187.95 392.80,188.27 393.05,188.24 393.30,187.46 393.55,187.76 393.80,188.30 394.05,188.30 394.30,187.66 394.55,188.30 394.80,187.70 395.05,187.78 395.30,187.52 395.55,188.09 395.80,188.30 396.05,188.30 396.30,187.80 396.55,187.55 396.80,188.30 397.05,187.67 397.30,188.30 397.55,188.30 397.80,187.70 398.05,188.30 398.30,188.30 398.55,188.28 398.80,188.30 399.05,187.99 399.30,188.13 399.55,187.68 399.80,188.30 400.05,188.30 400.30,188.30 400.55,187.87 400.80,188.05 401.05,188.25 401.30,188.30 401.55,188.08 401.80,188.30 402.05,188.30 402.30,188.30 402.55,188.30 402.80,188.19 403.05,188.30 403.30,188.30 403.55,188.02 403.80,187.75 404.05,188.30 404.30,188.11 404.55,188.28 404.80,187.74 405.05,187.68 405.30,188.30 405.55,188.30 405.80,188.30 406.05,188.30 406.30,188.21 406.55,188.05 406.80,188.30 407.05,188.29 407.30,188.11 407.55,188.23 407.80,188.15 408.05,187.92 408.30,188.30 408.55,188.30 408.80,188.22 409.05,188.30 409.30,188.30 409.55,188.30 409.80,188.30 410.05,188.30 410.30,188.30 410.55,188.30 410.80,188.30 411.05,188.30 411.30,188.30 411.55,188.30 411.80,188.30 412.05,188.30 412.30,188.30 412.55,188.30 412.80,188.30 413.05,188.30 413.30,188.30 413.55,188.30 413.80,188.30 414.05,188.30 414.30,188.30 414.55,188.30" fill="none" stroke="#8a8a8a" stroke-width="0.6"/>
<polyline points="329.80,182.24 330.05,183.95 330.30,177.79 330.55,176.31 330.80,176.61 331.05,177.57 331.30,178.91 331.55,171.99 331.80,173.46 332.05,172.47 332.30,171.62 332.55,170.57 332.80,170.59 333.05,166.90 333.30,171.17 333.55,167.29 333.80,169.31 334.05,166.67 334.30,164.82 334.55,163.49 334.80,167.61 335.05,163.78 335.30,167.43 335.55,162.63 335.80,161.75 336.05,163.51 336.30,164.19 336.55,162.78 336.80,164.84 337.05,167.97 337.30,163.75 337.55,167.33 337.80,165.46 338.05,165.98 338.30,166.35 338.55,169.69 338.80,166.11 339.05,171.17 339.30,172.05 339.55,174.07 339.80,168.41 340.05,167.81 340.30,171.79 340.55,173.94 340.80,171.81 341.05,174.83 341.30,173.34 341.55,172.59 341.80,173.39 342.05,178.95 342.30,173.74 342.55,179.12 342.80,179.24 343.05,176.28 343.30,176.58 343.55,180.26 343.80,179.16 344.05,183.16 344.30,180.55 344.55,181.96 344.80,182.44 345.05,180.41 345.30,180.62 345.55,184.95 345.80,181.96 346.05,183.95 346.30,183.98 346.55,182.20 346.80,183.35 347.05,180.52 347.30,181.87 347.55,182.50 347.80,183.89 348.05,185.72 348.30,185.44 348.55,183.88 348.80,186.20 349.05,184.45 349.30,184.97 349.55,184.76 349.80,185.80 350.05,184.06 350.30,185.54 350.55,185.93 350.80,184.77 351.05,185.96 351.30,186.77 351.55,186.42 351.80,186.14 352.05,186.88 352.30,186.02 352.55,187.64 352.80,186.24 353.05,186.84 353.30,186.26 353.55,188.08 353.80,188.01 354.05,187.15 354.30,187.22 354.55,186.63 354.80,187.94 355.05,187.19 355.30,187.41 355.55,187.52 355.80,187.34 356.05,188.30 356.30,187.42 356.55,187.76 356.80,186.97 357.05,187.67 357.30,187.74 357.55,188.07 357.80,187.73 358.05,188.30 358.30,187.73 358.55,188.27 358.80,188.12 359.05,188.21 359.30,187.43 359.55,188.30 359.80,188.30 360.05,188.24 360.30,187.68 360.55,187.82 360.80,188.21 361.05,187.85 361.30,187.89 361.55,188.28 361.80,187.84 362.05,187.71 362.30,187.23 362.55,187.88 362.80,188.14 363.05,188.24 363.30,187.29 363.55,188.10 363.80,188.03 364.05,187.82 364.30,187.77 364.55,188.30 364.80,188.27 365.05,187.90 365.30,187.55 365.55,188.30 365.80,188.30 366.05,187.93 366.30,187.81 366.55,187.73 366.80,188.01 367.05,187.84 367.30,188.30 367.55,188.30 367.80,187.53 368.05,188.30 368.30,187.82 368.55,188.30 368.80,187.86 369.05,188.19 369.30,188.30 369.55,188.30 369.80,188.30 370.05,187.82 370.30,187.83 370.55,187.59 370.80,187.86 371.05,187.60 371.30,188.05 371.55,187.60 371.80,187.80 372.05,187.72 372.30,188.23 372.55,188.06 372.80,187.73 373.05,187.77 373.30,188.06 373.55,187.68 373.80,187.90 374.05,187.67 374.30,188.15 374.55,187.94 374.80,188.19 375.05,188.22 375.30,187.86 375.55,187.93 375.80,187.85 376.05,188.11 376.30,188.16 376.55,188.20 376.80,187.76 377.05,187.63 377.30,188.30 377.55,188.30 377.80,187.88 378.05,187.60 378.30,188.14 378.55,188.12 378.80,188.16 379.05,188.30 379.30,187.86 379.55,188.30 379.80,188.30 380.05,188.30 380.30,188.01 380.55,188.04 380.80,188.25 381.05,187.93 381.30,187.80 381.55,188.12 381.80,188.29 382.05,187.78 382.30,187.52 382.55,188.18 382.80,187.88 383.05,187.68 383.30,187.83 383.55,188.23 383.80,188.30 384.05,187.74 384.30,188.12 384.55,188.10 384.80,188.30 385.05,188.29 385.30,188.30 385.55,188.10 385.80,187.95 386.05,187.80 386.30,188.30 386.55,188.30 386.80,187.82 387.05,187.96 387.30,187.84 387.55,188.30 387.80,187.94 388.05,187.01 388.30,188.20 388.55,188.21 388.80,188.30 389.05,188.16 389.30,188.10 389.55,187.60 389.80,188.30 390.05,187.99 390.30,188.30 390.55,187.51 390.80,187.06 391.05,187.56 391.30,187.77 391.55,187.40 391.80,187.92 392.05,188.30 392.30,188.01 392.55,187.67 392.80,187.94 393.05,188.30 393.30,188.21 393.55,187.56 393.80,187.70 394.05,188.00 394.30,187.88 394.55,188.00 394.80,187.53 395.05,187.45 395.30,187.84 395.55,188.03 395.80,188.30 396.05,188.22 396.30,187.91 396.55,187.85 396.80,188.16 397.05,188.30 397.30,188.25 397.55,188.01 397.80,188.10 398.05,187.95 398.30,188.30 398.55,188.16 398.80,188.05 399.05,187.83 399.30,188.14 399.55,188.26 399.80,187.76 400.05,188.09 400.30,188.30 400.55,188.30 400.80,188.30 401.05,188.27 401.30,188.27 401.55,188.04 401.80,188.30 402.05,188.30 402.30,188.29 402.55,187.94 402.80,188.30 403.05,188.30 403.30,188.28 403.55,188.30 403.80,187.91 404.05,188.06 404.30,188.12 404.55,188.14 404.80,188.23 405.05,188.15 405.30,188.30 405.55,188.14 405.80,188.05 406.05,188.30 406.30,188.30 406.55,188.16 406.80,188.09 407.05,188.30 407.30,188.28 407.55,188.25 407.80,188.30 408.05,188.09 408.30,188.30 408.55,188.26 408.80,188.22 409.05,188.30 409.30,188.26 409.55,188.30 409.80,188.30 410.05,188.30 410.30,188.30 410.55,188.30 410.80,188.30 411.05,188.30 411.30,188.30 411.55,188.30 411.80,188.30 412.05,188.30 412.30,188.30 412.55,188.30 412.80,188.30 413.05,188.30 413.30,188.30 413.55,188.30 413.80,188.30 414.05,188.30 414.30,188.30 414.55,188.30" fill="none" stroke="#000" stroke-width="1.0" stroke-linejoin="miter"/>
<path d="M329.8,188.3 V158.7 H414.6 V188.3" fill="none" stroke="#929292" stroke-width="1.25"/>
<line x1="329.8" y1="158.7" x2="329.8" y2="188.3" stroke="#707070" stroke-width="1.1"/>
<line x1="329.3" y1="188.3" x2="415.1" y2="188.3" stroke="#383838" stroke-width="1.15"/>
<polyline points="424.00,187.90 424.25,188.09 424.50,187.10 424.75,187.36 425.00,187.26 425.25,187.00 425.50,187.78 425.75,187.36 426.00,186.48 426.25,185.92 426.50,186.41 426.75,187.46 427.00,185.38 427.25,184.61 427.50,186.25 427.75,184.84 428.00,184.75 428.25,182.31 428.50,183.22 428.75,181.76 429.00,179.77 429.25,182.95 429.50,178.62 429.75,179.12 430.00,178.46 430.25,176.49 430.50,178.72 430.75,174.59 431.00,169.58 431.25,170.82 431.50,168.08 431.75,171.22 432.00,171.37 432.25,170.47 432.50,164.59 432.75,165.43 433.00,162.00 433.25,168.18 433.50,165.70 433.75,163.65 434.00,164.02 434.25,165.20 434.50,164.83 434.75,163.86 435.00,162.05 435.25,164.72 435.50,165.14 435.75,164.92 436.00,166.11 436.25,170.85 436.50,168.70 436.75,166.64 437.00,167.16 437.25,168.23 437.50,167.41 437.75,175.75 438.00,171.41 438.25,174.38 438.50,174.91 438.75,175.66 439.00,175.50 439.25,172.98 439.50,180.96 439.75,177.43 440.00,178.72 440.25,177.91 440.50,180.26 440.75,179.14 441.00,179.14 441.25,181.36 441.50,183.56 441.75,183.59 442.00,182.14 442.25,181.64 442.50,182.48 442.75,185.47 443.00,182.74 443.25,183.46 443.50,183.81 443.75,184.69 444.00,185.38 444.25,187.33 444.50,184.37 444.75,185.29 445.00,187.70 445.25,185.50 445.50,186.53 445.75,186.96 446.00,187.54 446.25,188.30 446.50,186.86 446.75,186.50 447.00,187.79 447.25,187.08 447.50,187.22 447.75,187.50 448.00,187.79 448.25,187.50 448.50,187.70 448.75,187.72 449.00,187.46 449.25,188.30 449.50,188.30 449.75,188.30 450.00,188.30 450.25,188.30 450.50,188.30 450.75,188.30 451.00,188.30 451.25,188.30 451.50,188.30 451.75,188.30 452.00,188.30 452.25,188.30 452.50,188.30 452.75,188.30 453.00,188.30 453.25,188.30 453.50,188.30 453.75,188.30 454.00,188.30 454.25,188.30 454.50,188.30 454.75,188.30 455.00,188.30 455.25,188.30 455.50,188.30 455.75,188.30 456.00,188.30 456.25,188.30 456.50,188.30 456.75,188.30 457.00,188.30 457.25,188.30 457.50,188.30 457.75,188.30 458.00,188.30 458.25,188.30 458.50,188.30 458.75,188.30 459.00,188.30 459.25,188.30 459.50,188.30 459.75,188.30 460.00,188.30 460.25,188.30 460.50,188.30 460.75,188.30 461.00,188.30 461.25,188.30 461.50,188.30 461.75,188.30 462.00,188.30 462.25,188.30 462.50,188.30 462.75,188.30 463.00,188.30 463.25,188.30 463.50,188.30 463.75,188.30 464.00,188.30 464.25,188.30 464.50,188.30 464.75,188.30 465.00,188.30 465.25,188.30 465.50,188.30 465.75,188.30 466.00,188.30 466.25,188.30 466.50,188.30 466.75,188.30 467.00,188.30 467.25,188.30 467.50,188.30 467.75,188.30 468.00,188.30 468.25,188.30 468.50,188.30 468.75,188.30 469.00,188.30 469.25,188.30 469.50,188.30 469.75,188.30 470.00,188.30 470.25,188.30 470.50,188.30 470.75,188.30 471.00,188.30 471.25,188.30 471.50,188.30 471.75,188.30 472.00,188.30 472.25,188.30 472.50,188.30 472.75,188.30 473.00,188.30 473.25,188.30 473.50,188.30 473.75,188.30 474.00,188.30 474.25,188.30 474.50,188.30 474.75,188.30 475.00,188.30 475.25,188.30 475.50,188.30 475.75,188.30 476.00,188.30 476.25,188.30 476.50,188.30 476.75,188.30 477.00,188.30 477.25,188.30 477.50,188.30 477.75,188.30 478.00,188.30 478.25,188.30 478.50,188.30 478.75,188.30 479.00,188.30 479.25,188.30 479.50,188.30 479.75,188.30 480.00,188.30 480.25,188.30 480.50,188.30 480.75,188.30 481.00,188.30 481.25,188.30 481.50,188.30 481.75,188.30 482.00,188.30 482.25,188.30 482.50,188.30 482.75,188.30 483.00,188.30 483.25,188.30 483.50,188.30 483.75,188.30 484.00,188.30 484.25,188.30 484.50,188.30 484.75,188.30 485.00,188.30 485.25,188.30 485.50,188.30 485.75,188.30 486.00,188.30 486.25,188.30 486.50,188.30 486.75,188.30 487.00,188.30 487.25,188.30 487.50,188.30 487.75,188.30 488.00,188.30 488.25,188.30 488.50,188.30 488.75,188.30 489.00,188.30 489.25,188.30 489.50,188.30 489.75,188.30 490.00,188.30 490.25,188.30 490.50,188.30 490.75,188.30 491.00,188.30 491.25,188.30 491.50,188.30 491.75,188.30 492.00,188.30 492.25,188.30 492.50,188.30 492.75,188.30 493.00,188.30 493.25,188.30 493.50,188.30 493.75,188.30 494.00,188.30 494.25,188.30 494.50,188.30 494.75,188.30 495.00,188.30 495.25,188.30 495.50,188.30 495.75,188.30 496.00,188.30 496.25,188.30 496.50,188.30 496.75,188.30 497.00,188.30 497.25,188.30 497.50,188.30 497.75,188.30 498.00,188.30 498.25,188.30 498.50,188.30 498.75,188.30 499.00,188.30 499.25,188.30 499.50,188.30 499.75,188.30 500.00,188.30 500.25,188.30 500.50,188.30 500.75,188.30 501.00,188.30 501.25,188.30 501.50,188.30 501.75,188.30 502.00,188.30 502.25,188.30 502.50,188.30 502.75,188.30 503.00,188.30 503.25,188.30 503.50,188.30 503.75,188.30 504.00,188.30 504.25,188.30 504.50,188.30 504.75,188.30 505.00,188.30 505.25,188.30 505.50,188.30 505.75,188.30 506.00,188.30 506.25,188.30 506.50,188.30 506.75,188.30 507.00,188.30 507.25,188.30 507.50,188.30 507.75,188.30 508.00,188.30 508.25,188.30 508.50,188.30 508.75,188.30" fill="none" stroke="#8a8a8a" stroke-width="0.6"/>
<polyline points="424.00,188.04 424.25,187.91 424.50,187.77 424.75,187.42 425.00,187.53 425.25,187.61 425.50,186.95 425.75,187.25 426.00,187.79 426.25,185.65 426.50,185.67 426.75,187.01 427.00,186.50 427.25,185.83 427.50,184.61 427.75,186.80 428.00,184.99 428.25,183.66 428.50,184.97 428.75,183.42 429.00,182.60 429.25,181.79 429.50,181.51 429.75,178.01 430.00,179.07 430.25,176.28 430.50,176.78 430.75,175.10 431.00,174.89 431.25,171.85 431.50,171.64 431.75,172.16 432.00,168.86 432.25,165.22 432.50,169.81 432.75,166.53 433.00,165.27 433.25,165.00 433.50,163.00 433.75,163.88 434.00,161.99 434.25,161.70 434.50,163.26 434.75,162.85 435.00,159.56 435.25,162.87 435.50,163.23 435.75,162.07 436.00,163.97 436.25,166.38 436.50,166.73 436.75,165.90 437.00,166.52 437.25,169.74 437.50,168.57 437.75,171.79 438.00,172.05 438.25,174.98 438.50,174.59 438.75,174.40 439.00,175.31 439.25,175.59 439.50,178.24 439.75,178.31 440.00,178.93 440.25,177.48 440.50,181.72 440.75,181.03 441.00,181.23 441.25,178.17 441.50,181.27 441.75,182.36 442.00,182.65 442.25,184.57 442.50,183.41 442.75,182.79 443.00,184.46 443.25,184.89 443.50,184.97 443.75,184.30 444.00,184.69 444.25,184.54 444.50,185.41 444.75,185.27 445.00,186.53 445.25,186.09 445.50,187.02 445.75,186.93 446.00,187.25 446.25,186.95 446.50,186.48 446.75,186.89 447.00,187.66 447.25,187.01 447.50,186.49 447.75,186.95 448.00,187.30 448.25,187.24 448.50,187.36 448.75,187.74 449.00,188.01 449.25,187.56 449.50,188.05 449.75,188.04 450.00,188.30 450.25,188.30 450.50,188.30 450.75,188.30 451.00,188.30 451.25,188.30 451.50,188.30 451.75,188.30 452.00,188.30 452.25,188.30 452.50,188.30 452.75,188.30 453.00,188.30 453.25,188.30 453.50,188.30 453.75,188.30 454.00,188.30 454.25,188.30 454.50,188.30 454.75,188.30 455.00,188.30 455.25,188.30 455.50,188.30 455.75,188.30 456.00,188.30 456.25,188.30 456.50,188.30 456.75,188.30 457.00,188.30 457.25,188.30 457.50,188.30 457.75,188.30 458.00,188.30 458.25,188.30 458.50,188.30 458.75,188.30 459.00,188.30 459.25,188.30 459.50,188.30 459.75,188.30 460.00,188.30 460.25,188.30 460.50,188.30 460.75,188.30 461.00,188.30 461.25,188.30 461.50,188.30 461.75,188.30 462.00,188.30 462.25,188.30 462.50,188.30 462.75,188.30 463.00,188.30 463.25,188.30 463.50,188.30 463.75,188.30 464.00,188.30 464.25,188.30 464.50,188.30 464.75,188.30 465.00,188.30 465.25,188.30 465.50,188.30 465.75,188.30 466.00,188.30 466.25,188.30 466.50,188.30 466.75,188.30 467.00,188.30 467.25,188.30 467.50,188.30 467.75,188.30 468.00,188.30 468.25,188.30 468.50,188.30 468.75,188.30 469.00,188.30 469.25,188.30 469.50,188.30 469.75,188.30 470.00,188.30 470.25,188.30 470.50,188.30 470.75,188.30 471.00,188.30 471.25,188.30 471.50,188.30 471.75,188.30 472.00,188.30 472.25,188.30 472.50,188.30 472.75,188.30 473.00,188.30 473.25,188.30 473.50,188.30 473.75,188.30 474.00,188.30 474.25,188.30 474.50,188.30 474.75,188.30 475.00,188.30 475.25,188.30 475.50,188.30 475.75,188.30 476.00,188.30 476.25,188.30 476.50,188.30 476.75,188.30 477.00,188.30 477.25,188.30 477.50,188.30 477.75,188.30 478.00,188.30 478.25,188.30 478.50,188.30 478.75,188.30 479.00,188.30 479.25,188.30 479.50,188.30 479.75,188.30 480.00,188.30 480.25,188.30 480.50,188.30 480.75,188.30 481.00,188.30 481.25,188.30 481.50,188.30 481.75,188.30 482.00,188.30 482.25,188.30 482.50,188.30 482.75,188.30 483.00,188.30 483.25,188.30 483.50,188.30 483.75,188.30 484.00,188.30 484.25,188.30 484.50,188.30 484.75,188.30 485.00,188.30 485.25,188.30 485.50,188.30 485.75,188.30 486.00,188.30 486.25,188.30 486.50,188.30 486.75,188.30 487.00,188.30 487.25,188.30 487.50,188.30 487.75,188.30 488.00,188.30 488.25,188.30 488.50,188.30 488.75,188.30 489.00,188.30 489.25,188.30 489.50,188.30 489.75,188.30 490.00,188.30 490.25,188.30 490.50,188.30 490.75,188.30 491.00,188.30 491.25,188.30 491.50,188.30 491.75,188.30 492.00,188.30 492.25,188.30 492.50,188.30 492.75,188.30 493.00,188.30 493.25,188.30 493.50,188.30 493.75,188.30 494.00,188.30 494.25,188.30 494.50,188.30 494.75,188.30 495.00,188.30 495.25,188.30 495.50,188.30 495.75,188.30 496.00,188.30 496.25,188.30 496.50,188.30 496.75,188.30 497.00,188.30 497.25,188.30 497.50,188.30 497.75,188.30 498.00,188.30 498.25,188.30 498.50,188.30 498.75,188.30 499.00,188.30 499.25,188.30 499.50,188.30 499.75,188.30 500.00,188.30 500.25,188.30 500.50,188.30 500.75,188.30 501.00,188.30 501.25,188.30 501.50,188.30 501.75,188.30 502.00,188.30 502.25,188.30 502.50,188.30 502.75,188.30 503.00,188.30 503.25,188.30 503.50,188.30 503.75,188.30 504.00,188.30 504.25,188.30 504.50,188.30 504.75,188.30 505.00,188.30 505.25,188.30 505.50,188.30 505.75,188.30 506.00,188.30 506.25,188.30 506.50,188.30 506.75,188.30 507.00,188.30 507.25,188.30 507.50,188.30 507.75,188.30 508.00,188.30 508.25,188.30 508.50,188.30 508.75,188.30" fill="none" stroke="#000" stroke-width="1.0" stroke-linejoin="miter"/>
<path d="M424.0,188.3 V158.7 H508.8 V188.3" fill="none" stroke="#929292" stroke-width="1.25"/>
<line x1="424.0" y1="158.7" x2="424.0" y2="188.3" stroke="#707070" stroke-width="1.1"/>
<line x1="423.5" y1="188.3" x2="509.3" y2="188.3" stroke="#383838" stroke-width="1.15"/>
<text x="83.89999999999999" y="28.2" font-size="9" font-weight="bold" fill="#111" text-anchor="middle" stroke="#111" stroke-width="0.198" >CD11b</text>
<text x="83.8" y="119.5" font-size="9" font-weight="bold" fill="#111" text-anchor="middle" stroke="#111" stroke-width="0.198" >CD73</text>
<text x="178.9" y="28.2" font-size="9" font-weight="bold" fill="#111" text-anchor="middle" stroke="#111" stroke-width="0.198" >CD31</text>
<text x="178.79999999999998" y="119.5" font-size="9" font-weight="bold" fill="#111" text-anchor="middle" stroke="#111" stroke-width="0.198" >CD90</text>
<text x="273.5" y="28.2" font-size="9" font-weight="bold" fill="#111" text-anchor="middle" stroke="#111" stroke-width="0.198" >CD34</text>
<text x="273.4" y="119.5" font-size="9" font-weight="bold" fill="#111" text-anchor="middle" stroke="#111" stroke-width="0.198" >CD105</text>
<text x="368.0" y="28.2" font-size="9" font-weight="bold" fill="#111" text-anchor="middle" stroke="#111" stroke-width="0.198" >CD44</text>
<text x="367.9" y="119.5" font-size="9" font-weight="bold" fill="#111" text-anchor="middle" stroke="#111" stroke-width="0.198" >CD115</text>
<text x="462.2" y="28.2" font-size="9" font-weight="bold" fill="#111" text-anchor="middle" stroke="#111" stroke-width="0.198" >CD45</text>
<text x="462.09999999999997" y="119.5" font-size="9" font-weight="bold" fill="#111" text-anchor="middle" stroke="#111" stroke-width="0.198" >CD206</text>
<text x="24.2" y="51.8" font-size="8.7" font-weight="bold" fill="#111" text-anchor="start" stroke="#111" stroke-width="0.191" >GD</text>
<text x="24.2" y="84.3" font-size="8.7" font-weight="bold" fill="#111" text-anchor="start" stroke="#111" stroke-width="0.191" >NL</text>
<text x="24.2" y="140.8" font-size="8.7" font-weight="bold" fill="#111" text-anchor="start" stroke="#111" stroke-width="0.191" >GD</text>
<text x="24.2" y="173.4" font-size="8.7" font-weight="bold" fill="#111" text-anchor="start" stroke="#111" stroke-width="0.191" >NL</text>
<line x1="14.7" y1="20" x2="14.7" y2="195.3" stroke="#111" stroke-width="1.45"/>
<polygon points="14.7,17.9 12.8,21.8 16.6,21.8" fill="#111"/>
<line x1="14.0" y1="195.2" x2="516" y2="195.2" stroke="#222" stroke-width="1.45"/>
<polygon points="519.4,195.2 516.0,193.4 516.0,197.0" fill="#111"/>
<text x="1.0" y="10.8" font-size="14.2" font-weight="bold" fill="#111" text-anchor="start" stroke="#111" stroke-width="0.312" >A</text>
<text x="0" y="0" font-size="8.8" font-weight="bold" fill="#111" text-anchor="start" stroke="#111" stroke-width="0.194" transform="translate(9.6,148.8) rotate(-90)">Number of events</text>
<text x="213.2" y="209.0" font-size="8.8" font-weight="bold" fill="#111" text-anchor="start" stroke="#111" stroke-width="0.194" >Fluorescence intensity</text>
<text x="1.5" y="236.4" font-size="13.6" font-weight="bold" fill="#111" text-anchor="start" stroke="#111" stroke-width="0.299" >B</text>
<text x="44.2" y="244.7" font-size="9.1" font-weight="bold" fill="#111" text-anchor="start" stroke="#111" stroke-width="0.200" >Osteocytes</text>
<text x="116.0" y="244.7" font-size="8.8" font-weight="bold" fill="#111" text-anchor="start" stroke="#111" stroke-width="0.194" >Adipocytes</text>
<text x="9.3" y="293.2" font-size="8.2" font-weight="bold" fill="#111" text-anchor="start" stroke="#111" stroke-width="0.180" >NL</text>
<text x="9.3" y="363.3" font-size="8.5" font-weight="bold" fill="#111" text-anchor="start" stroke="#111" stroke-width="0.187" >GD</text>
<rect x="35.2" y="252.8" width="69.3" height="69.3" fill="#f06a38" filter="url(#ostN)"/>
<rect x="35.2" y="326.8" width="69.3" height="69" fill="#f07a40" filter="url(#ostG)"/>
<rect x="35.2" y="326.8" width="69.3" height="69" fill="url(#gdYel)"/>
<rect x="35.2" y="326.8" width="69.3" height="69" fill="url(#gdRed)"/>
<rect x="108.8" y="254.8" width="69.8" height="68.6" fill="#d6dfc8"/>
<rect x="108.8" y="254.8" width="69.8" height="68.6" fill="url(#nlCyan)"/>
<rect x="108.8" y="254.8" width="69.8" height="68.6" fill="url(#nlWhite)"/>
<rect x="108.8" y="254.8" width="69.8" height="68.6" fill="url(#nlBlue)"/>
<rect x="108.8" y="254.8" width="69.8" height="68.6" fill="url(#nlOlive)"/>
<rect x="108.8" y="254.8" width="69.8" height="68.6" fill="#000" filter="url(#grain)" opacity="0.3"/>
<g filter="url(#mottle)"><ellipse cx="121" cy="276" rx="12" ry="14" fill="#f0e080" opacity="0.55"/><ellipse cx="122" cy="259" rx="11" ry="6" fill="#f2e6a0" opacity="0.7"/><ellipse cx="120" cy="309" rx="12" ry="15" fill="#c4cc98" opacity="0.8"/><path d="M111,256 L116,255.2 L121,255.6 L122,259 L120,263 L116.5,265 L112.5,263.5 L110.8,259.5 Z" fill="#a81616"/><path d="M121,255.5 L127,255.0 L133,255.6 L132.5,259.5 L128.5,261.8 L124,261 Z" fill="#a81616"/><path d="M111.2,269.5 L116.5,267 L122.5,267.5 L126.5,271.5 L128,277 L126.5,283.5 L123.5,289 L118,289.5 L114,287 L111.5,281.5 L110.8,275.5 Z" fill="#a81616"/><path d="M127.5,269.5 L131,268.5 L134.5,274 L135.8,281 L134,286.5 L130.5,285.5 L128.5,278 Z" fill="#8c1414"/><ellipse cx="116" cy="275" rx="1.4" ry="1.1" fill="#f0d060"/><ellipse cx="120.5" cy="281" rx="1.2" ry="1.4" fill="#f0d060"/><ellipse cx="118" cy="271" rx="1.1" ry="0.9" fill="#f0d060"/><ellipse cx="123.5" cy="276" rx="1.0" ry="1.3" fill="#f0d060"/><ellipse cx="115" cy="284" rx="1.1" ry="0.9" fill="#f0d060"/><ellipse cx="117" cy="259" rx="0.9" ry="0.8" fill="#f0d060"/><ellipse cx="126" cy="258" rx="0.8" ry="0.7" fill="#f0d060"/><ellipse cx="134" cy="263" rx="1.4" ry="1.1" fill="#74261e"/><ellipse cx="137.5" cy="270" rx="1.1" ry="1.4" fill="#74261e"/><ellipse cx="141" cy="277" rx="1.1" ry="1.1" fill="#74261e"/><ellipse cx="139" cy="265" rx="0.8" ry="0.8" fill="#74261e"/><ellipse cx="144" cy="272" rx="0.8" ry="1.0" fill="#74261e"/><ellipse cx="146" cy="281" rx="0.9" ry="1.1" fill="#74261e"/><ellipse cx="149" cy="289" rx="0.9" ry="1.0" fill="#74261e"/><ellipse cx="143" cy="292" rx="0.8" ry="0.9" fill="#74261e"/><path d="M110,296 L113.5,293 L116,299 L116.5,308 L115,316 L114,323 L109.8,323 L109.8,310 Z" fill="#74261e"/><path d="M115.5,291 L119,290.5 L120,297 L118.5,305 L116.5,304 L115.2,297 Z" fill="#7e2a22"/><path d="M123.5,298 L127.5,296.5 L130.5,304 L131,313 L130,323 L124.5,323 L123.2,311 Z" fill="#841c18"/><path d="M120,295 L123.5,295.5 L124,302 L121,304 L119.5,299.5 Z" fill="#b84040"/><ellipse cx="122.5" cy="289.5" rx="1.8" ry="1.4" fill="#a81616"/><path d="M117.5,309 L120.5,308 L121.5,316 L120.5,323 L117.5,323 Z" fill="#7a4038" opacity="0.85"/><ellipse cx="129" cy="291" rx="1.4" ry="1.2" fill="#74261e"/><ellipse cx="131.5" cy="294.5" rx="1.2" ry="1.4" fill="#74261e"/><ellipse cx="133" cy="300" rx="1.0" ry="1.2" fill="#74261e"/><ellipse cx="135" cy="306" rx="0.9" ry="1.6" fill="#74261e"/><ellipse cx="137" cy="314" rx="0.9" ry="1.4" fill="#74261e"/><path d="M153.5,302 L156.5,300.5 L159,303 L160.5,308 L159.5,313 L157,314 L154.8,310.5 L153.4,306 Z" fill="#8a2222"/><ellipse cx="154.5" cy="300" rx="2.6" ry="1.5" fill="#4a3020"/><ellipse cx="152.5" cy="271.5" rx="1.0" ry="1.4" fill="#4e3a2c"/><ellipse cx="150" cy="276" rx="0.9" ry="1.1" fill="#4e3a2c"/><ellipse cx="154" cy="282" rx="1.0" ry="0.9" fill="#4e3a2c"/><ellipse cx="156" cy="287" rx="0.9" ry="1.2" fill="#4e3a2c"/><ellipse cx="153" cy="292" rx="0.8" ry="0.9" fill="#4e3a2c"/><ellipse cx="158" cy="296" rx="1.0" ry="1.0" fill="#4e3a2c"/><ellipse cx="150" cy="299" rx="0.9" ry="0.9" fill="#4e3a2c"/><ellipse cx="146" cy="302" rx="0.8" ry="1.0" fill="#4e3a2c"/><ellipse cx="161.5" cy="304" rx="0.8" ry="1.6" fill="#4e3a2c"/><ellipse cx="162" cy="311" rx="0.7" ry="1.3" fill="#4e3a2c"/><ellipse cx="162.3" cy="291.7" rx="0.6" ry="0.7" fill="#708070" opacity="1.0"/><ellipse cx="175.4" cy="309.1" rx="0.6" ry="0.5" fill="#708070" opacity="1.0"/><ellipse cx="141.3" cy="288.0" rx="0.7" ry="0.7" fill="#6a6a78" opacity="1.0"/><ellipse cx="140.8" cy="280.3" rx="0.5" ry="0.4" fill="#8a9080" opacity="1.0"/><ellipse cx="165.8" cy="302.1" rx="0.6" ry="0.6" fill="#708070" opacity="1.0"/><ellipse cx="170.1" cy="310.0" rx="0.4" ry="0.4" fill="#8a9080" opacity="1.0"/><ellipse cx="114.8" cy="276.3" rx="0.6" ry="0.7" fill="#6a6a78" opacity="1.0"/><ellipse cx="133.2" cy="288.0" rx="0.5" ry="0.4" fill="#8a9080" opacity="1.0"/><ellipse cx="120.4" cy="293.7" rx="0.4" ry="0.4" fill="#8a9080" opacity="1.0"/><ellipse cx="166.1" cy="305.8" rx="0.4" ry="0.5" fill="#6a6a78" opacity="1.0"/><ellipse cx="164.3" cy="288.9" rx="0.4" ry="0.5" fill="#807060" opacity="1.0"/><ellipse cx="125.0" cy="268.4" rx="0.6" ry="0.7" fill="#708070" opacity="1.0"/><ellipse cx="157.8" cy="310.2" rx="0.5" ry="0.5" fill="#708070" opacity="1.0"/><ellipse cx="119.4" cy="304.1" rx="0.5" ry="0.5" fill="#708070" opacity="1.0"/><ellipse cx="161.7" cy="302.3" rx="0.5" ry="0.5" fill="#8a9080" opacity="1.0"/><ellipse cx="114.0" cy="291.6" rx="0.4" ry="0.4" fill="#6a6a78" opacity="1.0"/><ellipse cx="167.5" cy="280.6" rx="0.3" ry="0.3" fill="#8a9080" opacity="1.0"/><ellipse cx="155.0" cy="298.1" rx="0.6" ry="0.7" fill="#6a6a78" opacity="1.0"/><ellipse cx="138.4" cy="312.0" rx="0.4" ry="0.3" fill="#708070" opacity="1.0"/><ellipse cx="159.0" cy="292.9" rx="0.4" ry="0.4" fill="#708070" opacity="1.0"/><ellipse cx="121.9" cy="305.6" rx="0.5" ry="0.4" fill="#708070" opacity="1.0"/><ellipse cx="153.0" cy="287.5" rx="0.3" ry="0.3" fill="#6a6a78" opacity="1.0"/><ellipse cx="174.5" cy="317.1" rx="0.6" ry="0.5" fill="#8a9080" opacity="1.0"/><ellipse cx="162.6" cy="306.7" rx="0.5" ry="0.4" fill="#8a9080" opacity="1.0"/><ellipse cx="118.3" cy="316.7" rx="0.5" ry="0.4" fill="#807060" opacity="1.0"/><ellipse cx="149.6" cy="277.5" rx="0.6" ry="0.7" fill="#6a6a78" opacity="1.0"/><ellipse cx="158.8" cy="291.3" rx="0.6" ry="0.6" fill="#708070" opacity="1.0"/><ellipse cx="117.5" cy="290.5" rx="0.3" ry="0.3" fill="#807060" opacity="1.0"/><ellipse cx="133.4" cy="275.8" rx="0.3" ry="0.4" fill="#8a9080" opacity="1.0"/><ellipse cx="172.1" cy="299.4" rx="0.4" ry="0.5" fill="#708070" opacity="1.0"/><ellipse cx="113.5" cy="319.8" rx="0.5" ry="0.6" fill="#708070" opacity="1.0"/><ellipse cx="143.6" cy="294.5" rx="0.7" ry="0.7" fill="#708070" opacity="1.0"/><ellipse cx="142.8" cy="282.4" rx="0.4" ry="0.4" fill="#8a9080" opacity="1.0"/><ellipse cx="113.4" cy="312.6" rx="0.7" ry="0.5" fill="#6a6a78" opacity="1.0"/><ellipse cx="148.0" cy="273.9" rx="0.6" ry="0.5" fill="#708070" opacity="1.0"/><ellipse cx="159.3" cy="309.5" rx="0.3" ry="0.4" fill="#807060" opacity="1.0"/><ellipse cx="127.0" cy="270.0" rx="0.5" ry="0.5" fill="#6a6a78" opacity="1.0"/><ellipse cx="164.5" cy="285.1" rx="0.7" ry="0.6" fill="#8a9080" opacity="1.0"/><ellipse cx="145.5" cy="281.8" rx="0.7" ry="0.5" fill="#807060" opacity="1.0"/><ellipse cx="140.3" cy="321.6" rx="0.7" ry="0.8" fill="#708070" opacity="1.0"/><ellipse cx="169.9" cy="316.2" rx="0.5" ry="0.5" fill="#708070" opacity="1.0"/><ellipse cx="155.0" cy="288.2" rx="0.3" ry="0.4" fill="#8a9080" opacity="1.0"/><ellipse cx="129.1" cy="318.6" rx="0.4" ry="0.3" fill="#708070" opacity="1.0"/><ellipse cx="122.0" cy="277.7" rx="0.5" ry="0.7" fill="#8a9080" opacity="1.0"/><ellipse cx="124.8" cy="284.8" rx="0.6" ry="0.8" fill="#6a6a78" opacity="1.0"/></g>
<line x1="159.3" y1="264.6" x2="173.2" y2="264.6" stroke="#000" stroke-width="2.2"/>
<rect x="108.2" y="326.0" width="69.5" height="69.8" fill="url(#adiG)"/>
<rect x="108.2" y="326.0" width="69.5" height="69.8" fill="#000" filter="url(#grain)" opacity="0.55"/>
<g filter="url(#mottle2)"><ellipse cx="142" cy="352" rx="18" ry="16" fill="#f2f6ee" opacity="0.6"/><ellipse cx="165" cy="345" rx="12" ry="14" fill="#f0f4ec" opacity="0.5"/><ellipse cx="122" cy="344" rx="3.5" ry="4" fill="none" stroke="#7c7c94" stroke-width="1.2" opacity="0.85"/><ellipse cx="145" cy="341" rx="2.5" ry="3" fill="none" stroke="#7c7c94" stroke-width="1.2" opacity="0.85"/><ellipse cx="152" cy="331" rx="3.5" ry="3" fill="none" stroke="#7c7c94" stroke-width="1.2" opacity="0.85"/><ellipse cx="129" cy="386" rx="3" ry="3.4" fill="none" stroke="#5a4c6a" stroke-width="1.2" opacity="0.85"/><ellipse cx="140" cy="385" rx="3.6" ry="4" fill="none" stroke="#5a4c6a" stroke-width="1.2" opacity="0.85"/><ellipse cx="148" cy="389" rx="2.6" ry="3" fill="none" stroke="#5a4c6a" stroke-width="1.2" opacity="0.85"/><ellipse cx="160" cy="385" rx="3" ry="3.6" fill="none" stroke="#5a4c6a" stroke-width="1.2" opacity="0.85"/><ellipse cx="117" cy="387" rx="2.6" ry="2.6" fill="none" stroke="#5a4c6a" stroke-width="1.2" opacity="0.85"/><ellipse cx="126" cy="372" rx="2.2" ry="2.2" fill="none" stroke="#7c7c94" stroke-width="1.2" opacity="0.85"/><ellipse cx="170" cy="334" rx="2.8" ry="3.6" fill="none" stroke="#7c7c94" stroke-width="1.2" opacity="0.85"/><ellipse cx="167" cy="348" rx="2.2" ry="2.2" fill="none" stroke="#7c7c94" stroke-width="1.2" opacity="0.85"/><ellipse cx="132" cy="333" rx="2" ry="2" fill="none" stroke="#7c7c94" stroke-width="1.2" opacity="0.85"/><ellipse cx="119.5" cy="328.9" rx="0.5" ry="0.4" fill="#8a8a90" opacity="1.0"/><ellipse cx="154.7" cy="336.0" rx="0.6" ry="0.6" fill="#7a8470" opacity="1.0"/><ellipse cx="123.2" cy="381.1" rx="0.7" ry="0.8" fill="#8a8a90" opacity="1.0"/><ellipse cx="118.6" cy="336.2" rx="0.8" ry="0.7" fill="#7a8470" opacity="1.0"/><ellipse cx="142.2" cy="371.7" rx="0.8" ry="0.7" fill="#6a6a80" opacity="1.0"/><ellipse cx="171.0" cy="329.6" rx="0.6" ry="0.6" fill="#7a8470" opacity="1.0"/><ellipse cx="119.3" cy="355.7" rx="0.8" ry="0.8" fill="#707a78" opacity="1.0"/><ellipse cx="171.6" cy="381.1" rx="0.6" ry="0.7" fill="#7a8470" opacity="1.0"/><ellipse cx="117.2" cy="382.7" rx="0.7" ry="0.6" fill="#707a78" opacity="1.0"/><ellipse cx="145.0" cy="368.0" rx="0.7" ry="0.8" fill="#6a6a80" opacity="1.0"/><ellipse cx="134.7" cy="356.1" rx="0.6" ry="0.8" fill="#6a6a80" opacity="1.0"/><ellipse cx="140.0" cy="344.4" rx="0.5" ry="0.5" fill="#7a8470" opacity="1.0"/><ellipse cx="116.9" cy="332.4" rx="0.6" ry="0.5" fill="#7a8470" opacity="1.0"/><ellipse cx="164.4" cy="348.5" rx="0.4" ry="0.5" fill="#8a8a90" opacity="1.0"/><ellipse cx="128.8" cy="338.1" rx="0.4" ry="0.3" fill="#707a78" opacity="1.0"/><ellipse cx="113.7" cy="339.5" rx="0.4" ry="0.4" fill="#8a8a90" opacity="1.0"/><ellipse cx="136.0" cy="349.0" rx="0.6" ry="0.7" fill="#8a8a90" opacity="1.0"/><ellipse cx="166.2" cy="330.9" rx="0.4" ry="0.4" fill="#707a78" opacity="1.0"/><ellipse cx="147.7" cy="355.5" rx="0.4" ry="0.3" fill="#707a78" opacity="1.0"/><ellipse cx="144.6" cy="334.7" rx="0.7" ry="0.5" fill="#6a6a80" opacity="1.0"/><ellipse cx="116.5" cy="383.7" rx="0.8" ry="1.0" fill="#7a8470" opacity="1.0"/><ellipse cx="162.9" cy="379.4" rx="0.6" ry="0.7" fill="#8a8a90" opacity="1.0"/><ellipse cx="145.4" cy="361.9" rx="0.7" ry="0.7" fill="#707a78" opacity="1.0"/><ellipse cx="135.4" cy="370.2" rx="0.5" ry="0.4" fill="#6a6a80" opacity="1.0"/><ellipse cx="137.5" cy="343.3" rx="0.5" ry="0.5" fill="#6a6a80" opacity="1.0"/><ellipse cx="131.6" cy="353.0" rx="0.7" ry="0.6" fill="#7a8470" opacity="1.0"/><ellipse cx="170.5" cy="359.7" rx="0.5" ry="0.5" fill="#7a8470" opacity="1.0"/><ellipse cx="166.0" cy="371.1" rx="0.7" ry="0.7" fill="#7a8470" opacity="1.0"/><ellipse cx="129.0" cy="376.5" rx="0.4" ry="0.5" fill="#8a8a90" opacity="1.0"/><ellipse cx="166.8" cy="336.7" rx="0.6" ry="0.5" fill="#8a8a90" opacity="1.0"/><ellipse cx="115.6" cy="389.8" rx="0.4" ry="0.5" fill="#8a8a90" opacity="1.0"/><ellipse cx="162.9" cy="367.2" rx="0.7" ry="0.8" fill="#7a8470" opacity="1.0"/><ellipse cx="126.7" cy="366.9" rx="0.4" ry="0.4" fill="#7a8470" opacity="1.0"/><ellipse cx="121.3" cy="365.3" rx="0.6" ry="0.6" fill="#8a8a90" opacity="1.0"/><ellipse cx="160.4" cy="380.8" rx="0.6" ry="0.6" fill="#8a8a90" opacity="1.0"/><ellipse cx="171.5" cy="335.9" rx="0.4" ry="0.3" fill="#6a6a80" opacity="1.0"/><ellipse cx="137.6" cy="379.1" rx="0.7" ry="0.6" fill="#8a8a90" opacity="1.0"/><ellipse cx="169.3" cy="378.3" rx="0.5" ry="0.4" fill="#8a8a90" opacity="1.0"/><ellipse cx="120.4" cy="337.8" rx="0.8" ry="0.7" fill="#6a6a80" opacity="1.0"/><ellipse cx="135.3" cy="376.2" rx="0.6" ry="0.8" fill="#6a6a80" opacity="1.0"/><ellipse cx="141.6" cy="352.8" rx="0.8" ry="0.9" fill="#7a8470" opacity="1.0"/><ellipse cx="172.8" cy="335.8" rx="0.7" ry="0.8" fill="#707a78" opacity="1.0"/><ellipse cx="148.8" cy="373.3" rx="0.4" ry="0.3" fill="#707a78" opacity="1.0"/><ellipse cx="164.5" cy="347.5" rx="0.6" ry="0.5" fill="#707a78" opacity="1.0"/><ellipse cx="170.6" cy="379.6" rx="0.4" ry="0.5" fill="#6a6a80" opacity="1.0"/><ellipse cx="168.0" cy="346.7" rx="0.7" ry="0.6" fill="#8a8a90" opacity="1.0"/><ellipse cx="153.9" cy="370.9" rx="0.4" ry="0.5" fill="#7a8470" opacity="1.0"/><ellipse cx="111.9" cy="343.9" rx="0.4" ry="0.5" fill="#7a8470" opacity="1.0"/><ellipse cx="170.1" cy="371.3" rx="0.4" ry="0.3" fill="#707a78" opacity="1.0"/><ellipse cx="113.4" cy="368.0" rx="0.7" ry="0.6" fill="#6a6a80" opacity="1.0"/><path d="M136.5,345 L139,337 L144.5,331.5 L147,333 L142.5,339.5 L139.5,347 Z" fill="#98aa80"/><path d="M109,363 L113,362 L118,360.5 L124,357.5 L129,354 L131,355.5 L126,359.5 L121,363 L117,365 Z" fill="#6e2420"/><path d="M109,366 L114,364 L119,365.5 L122,369 L121,374 L117,377 L112,377.5 L109,375 Z" fill="#b03434"/><path d="M165,366 L169,364 L174,364.5 L177,367 L177,373 L174,376 L169,376 L165.5,372.5 Z" fill="#c03a3a"/><ellipse cx="171" cy="370" rx="2.2" ry="1.8" fill="#e0a8a8"/><ellipse cx="115" cy="371" rx="1.6" ry="1.4" fill="#d89090"/></g>
<text x="253.0" y="236.6" font-size="13.8" font-weight="bold" fill="#111" text-anchor="start" stroke="#111" stroke-width="0.304" >C</text>
<line x1="293.7" y1="265.6" x2="293.7" y2="391.6" stroke="#111" stroke-width="1.1"/>
<line x1="290.6" y1="357.90" x2="293.7" y2="357.90" stroke="#111" stroke-width="1"/>
<text x="287.4" y="360.5" font-size="7.4" font-weight="bold" fill="#111" text-anchor="end" stroke="#111" stroke-width="0.163" >0</text>
<line x1="290.6" y1="327.30" x2="293.7" y2="327.30" stroke="#111" stroke-width="1"/>
<text x="287.4" y="329.9" font-size="7.4" font-weight="bold" fill="#111" text-anchor="end" stroke="#111" stroke-width="0.163" >1</text>
<line x1="290.6" y1="296.70" x2="293.7" y2="296.70" stroke="#111" stroke-width="1"/>
<text x="287.4" y="299.3" font-size="7.4" font-weight="bold" fill="#111" text-anchor="end" stroke="#111" stroke-width="0.163" >2</text>
<line x1="290.6" y1="266.10" x2="293.7" y2="266.10" stroke="#111" stroke-width="1"/>
<text x="287.4" y="268.7" font-size="7.4" font-weight="bold" fill="#111" text-anchor="end" stroke="#111" stroke-width="0.163" >3</text>
<text x="0" y="0" font-size="7.9" font-weight="bold" fill="#111" text-anchor="start" stroke="#111" stroke-width="0.174" transform="translate(277.9,351.0) rotate(-90)">Relative mRNA levels</text>
<rect x="303.9" y="272.9" width="5.2" height="5.2" fill="#fff" stroke="#111" stroke-width="1.2"/>
<text x="311.8" y="278.8" font-size="8.4" font-weight="bold" fill="#111" text-anchor="start" stroke="#111" stroke-width="0.185" >NL</text>
<rect x="304.0" y="285.2" width="5.3" height="5.3" fill="#111"/>
<text x="311.8" y="290.8" font-size="8.4" font-weight="bold" fill="#111" text-anchor="start" stroke="#111" stroke-width="0.185" >GD</text>
<rect x="300.70" y="356.98" width="9.0" height="0.92" fill="#fff" stroke="#111" stroke-width="1"/>
<rect x="309.70" y="357.59" width="9.0" height="0.31" fill="#111" stroke="#111" stroke-width="1"/>
<line x1="336.80" y1="327.30" x2="336.80" y2="315.98" stroke="#111" stroke-width="1"/>
<line x1="334.80" y1="315.98" x2="338.80" y2="315.98" stroke="#111" stroke-width="1"/>
<line x1="345.80" y1="305.88" x2="345.80" y2="293.95" stroke="#111" stroke-width="1"/>
<line x1="343.80" y1="293.95" x2="347.80" y2="293.95" stroke="#111" stroke-width="1"/>
<rect x="332.30" y="327.30" width="9.0" height="30.60" fill="#fff" stroke="#111" stroke-width="1"/>
<rect x="341.30" y="305.88" width="9.0" height="52.02" fill="#111" stroke="#111" stroke-width="1"/>
<line x1="368.20" y1="349.33" x2="368.20" y2="346.58" stroke="#111" stroke-width="1"/>
<line x1="366.20" y1="346.58" x2="370.20" y2="346.58" stroke="#111" stroke-width="1"/>
<line x1="377.20" y1="352.09" x2="377.20" y2="349.94" stroke="#111" stroke-width="1"/>
<line x1="375.20" y1="349.94" x2="379.20" y2="349.94" stroke="#111" stroke-width="1"/>
<rect x="363.70" y="349.33" width="9.0" height="8.57" fill="#fff" stroke="#111" stroke-width="1"/>
<rect x="372.70" y="352.09" width="9.0" height="5.81" fill="#111" stroke="#111" stroke-width="1"/>
<line x1="399.80" y1="327.30" x2="399.80" y2="321.49" stroke="#111" stroke-width="1"/>
<line x1="397.80" y1="321.49" x2="401.80" y2="321.49" stroke="#111" stroke-width="1"/>
<line x1="408.80" y1="332.81" x2="408.80" y2="328.22" stroke="#111" stroke-width="1"/>
<line x1="406.80" y1="328.22" x2="410.80" y2="328.22" stroke="#111" stroke-width="1"/>
<rect x="395.30" y="327.30" width="9.0" height="30.60" fill="#fff" stroke="#111" stroke-width="1"/>
<rect x="404.30" y="332.81" width="9.0" height="25.09" fill="#111" stroke="#111" stroke-width="1"/>
<line x1="431.20" y1="343.52" x2="431.20" y2="339.23" stroke="#111" stroke-width="1"/>
<line x1="429.20" y1="339.23" x2="433.20" y2="339.23" stroke="#111" stroke-width="1"/>
<line x1="440.20" y1="351.17" x2="440.20" y2="347.19" stroke="#111" stroke-width="1"/>
<line x1="438.20" y1="347.19" x2="442.20" y2="347.19" stroke="#111" stroke-width="1"/>
<rect x="426.70" y="343.52" width="9.0" height="14.38" fill="#fff" stroke="#111" stroke-width="1"/>
<rect x="435.70" y="351.17" width="9.0" height="6.73" fill="#111" stroke="#111" stroke-width="1"/>
<line x1="462.80" y1="327.30" x2="462.80" y2="318.43" stroke="#111" stroke-width="1"/>
<line x1="460.80" y1="318.43" x2="464.80" y2="318.43" stroke="#111" stroke-width="1"/>
<line x1="471.80" y1="335.26" x2="471.80" y2="330.05" stroke="#111" stroke-width="1"/>
<line x1="469.80" y1="330.05" x2="473.80" y2="330.05" stroke="#111" stroke-width="1"/>
<rect x="458.30" y="327.30" width="9.0" height="30.60" fill="#fff" stroke="#111" stroke-width="1"/>
<rect x="467.30" y="335.26" width="9.0" height="22.64" fill="#111" stroke="#111" stroke-width="1"/>
<line x1="291.4" y1="357.9" x2="483.6" y2="357.9" stroke="#111" stroke-width="1.2"/>
<line x1="325.6" y1="357.9" x2="325.6" y2="375.3" stroke="#111" stroke-width="1.1"/>
<line x1="388.9" y1="357.9" x2="388.9" y2="375.3" stroke="#111" stroke-width="1.1"/>
<line x1="451.6" y1="357.9" x2="451.6" y2="375.3" stroke="#111" stroke-width="1.1"/>
<line x1="356.9" y1="357.9" x2="356.9" y2="391.6" stroke="#111" stroke-width="1.1"/>
<line x1="420.0" y1="357.9" x2="420.0" y2="391.6" stroke="#111" stroke-width="1.1"/>
<line x1="483.1" y1="357.9" x2="483.1" y2="391.6" stroke="#111" stroke-width="1.1"/>
<text x="309.7" y="373.4" font-size="7.4" font-weight="bold" fill="#111" text-anchor="middle" stroke="#111" stroke-width="0.163" >0</text>
<text x="341.3" y="373.4" font-size="7.4" font-weight="bold" fill="#111" text-anchor="middle" stroke="#111" stroke-width="0.163" >4</text>
<text x="372.7" y="373.4" font-size="7.4" font-weight="bold" fill="#111" text-anchor="middle" stroke="#111" stroke-width="0.163" >0</text>
<text x="404.3" y="373.4" font-size="7.4" font-weight="bold" fill="#111" text-anchor="middle" stroke="#111" stroke-width="0.163" >4</text>
<text x="435.7" y="373.4" font-size="7.4" font-weight="bold" fill="#111" text-anchor="middle" stroke="#111" stroke-width="0.163" >0</text>
<text x="467.3" y="373.4" font-size="7.4" font-weight="bold" fill="#111" text-anchor="middle" stroke="#111" stroke-width="0.163" >4</text>
<text x="325.3" y="389.0" font-size="7.5" font-weight="bold" fill="#111" text-anchor="middle" stroke="#111" stroke-width="0.165" >RUNX2</text>
<text x="388.4" y="389.0" font-size="7.5" font-weight="bold" fill="#111" text-anchor="middle" stroke="#111" stroke-width="0.165" >ALPL</text>
<text x="451.9" y="389.0" font-size="7.5" font-weight="bold" fill="#111" text-anchor="middle" stroke="#111" stroke-width="0.165" >OC</text>
<text x="1.3" y="422.2" font-size="13.8" font-weight="bold" fill="#111" text-anchor="start" stroke="#111" stroke-width="0.304" >D</text>
<line x1="41.7" y1="446.3" x2="41.7" y2="483.6" stroke="#111" stroke-width="1"/>
<line x1="41.3" y1="483.3" x2="176.2" y2="483.3" stroke="#111" stroke-width="1.1"/>
<line x1="42" y1="484.6" x2="176" y2="484.6" stroke="#444" stroke-width="1" stroke-dasharray="0.6 2.2"/>
<line x1="37.4" y1="447.8" x2="41.7" y2="447.8" stroke="#333" stroke-width="0.8"/>
<text x="37.0" y="450.0" font-size="6.2" font-weight="normal" fill="#222" text-anchor="end" letter-spacing="-0.45">75</text>
<line x1="37.4" y1="456.8" x2="41.7" y2="456.8" stroke="#333" stroke-width="0.8"/>
<text x="37.0" y="459.0" font-size="6.2" font-weight="normal" fill="#222" text-anchor="end" letter-spacing="-0.45">56</text>
<line x1="37.4" y1="465.6" x2="41.7" y2="465.6" stroke="#333" stroke-width="0.8"/>
<text x="37.0" y="467.8" font-size="6.2" font-weight="normal" fill="#222" text-anchor="end" letter-spacing="-0.45">38</text>
<line x1="37.4" y1="474.3" x2="41.7" y2="474.3" stroke="#333" stroke-width="0.8"/>
<text x="37.0" y="476.5" font-size="6.2" font-weight="normal" fill="#222" text-anchor="end" letter-spacing="-0.45">19</text>
<line x1="37.4" y1="483.3" x2="41.7" y2="483.3" stroke="#333" stroke-width="0.8"/>
<text x="37.0" y="485.5" font-size="6.2" font-weight="normal" fill="#222" text-anchor="end" letter-spacing="-0.45">0</text>
<text x="38.0" y="492.4" font-size="5.9" fill="#333" letter-spacing="-0.2">10<tspan dy="-2.4" font-size="4.2">0</tspan></text>
<text x="70.6" y="492.4" font-size="5.9" fill="#333" letter-spacing="-0.2">10<tspan dy="-2.4" font-size="4.2">1</tspan></text>
<text x="103.8" y="492.4" font-size="5.9" fill="#333" letter-spacing="-0.2">10<tspan dy="-2.4" font-size="4.2">2</tspan></text>
<text x="137.2" y="492.4" font-size="5.9" fill="#333" letter-spacing="-0.2">10<tspan dy="-2.4" font-size="4.2">3</tspan></text>
<text x="170.79999999999998" y="492.4" font-size="5.9" fill="#333" letter-spacing="-0.2">10<tspan dy="-2.4" font-size="4.2">4</tspan></text>
<polyline points="46,445.9 173.6,445.9 175.2,458" fill="none" stroke="#555" stroke-width="1"/>
<path d="M41.8,483.2 C39.8,470 38.6,445 42.9,416.6 C46.8,440 47.0,468 43.2,483.2" fill="none" stroke="#3a3a3a" stroke-width="0.9"/>
<path d="M42.5,476 C41.6,460 41.7,438 42.9,424 C44.2,440 44.6,462 43.4,476" fill="none" stroke="#aaa" stroke-width="0.6" stroke-dasharray="0.7 0.9"/>
<polyline points="175.3,470 176.1,455 176.9,430.2 177.6,452 178.6,441.5 179.0,462" fill="none" stroke="#666" stroke-width="0.75"/>
<line x1="176.0" y1="462" x2="176.0" y2="483.3" stroke="#555" stroke-width="0.9"/>
<line x1="147.6" y1="446" x2="147.6" y2="452" stroke="#444" stroke-width="0.8"/>
<line x1="44.0" y1="468.7" x2="100" y2="468.7" stroke="#222" stroke-width="1.2"/>
<line x1="44.0" y1="478.3" x2="118" y2="478.3" stroke="#222" stroke-width="1.2"/>
<polyline points="45.60,457.46 45.80,454.87 46.00,454.36 46.20,455.25 46.40,456.40 46.60,453.65 46.80,456.54 47.00,455.09 47.20,455.51 47.40,454.11 47.60,454.59 47.80,454.41 48.00,448.51 48.20,455.37 48.40,454.35 48.60,452.88 48.80,455.73 49.00,454.01 49.20,454.51 49.40,451.65 49.60,453.81 49.80,452.78 50.00,451.40 50.20,452.86 50.40,451.91 50.60,447.22 50.80,451.43 51.00,451.51 51.20,452.76 51.40,452.49 51.60,447.39 51.80,451.13 52.00,444.72 52.20,448.57 52.40,451.01 52.60,449.73 52.80,444.96 53.00,450.69 53.20,448.65 53.40,448.26 53.60,449.23 53.80,449.81 54.00,447.61 54.20,448.75 54.40,445.58 54.60,447.27 54.80,447.38 55.00,447.47 55.20,447.16 55.40,444.20 55.60,448.20 55.80,446.91 56.00,442.61 56.20,442.61 56.40,446.38 56.60,444.97 56.80,447.12 57.00,447.16 57.20,444.25 57.40,440.14 57.60,444.89 57.80,444.71 58.00,444.72 58.20,440.44 58.40,442.14 58.60,445.09 58.80,444.66 59.00,445.77 59.20,436.45 59.40,438.91 59.60,441.41 59.80,435.43 60.00,440.35 60.20,441.79 60.40,439.60 60.60,439.31 60.80,441.79 61.00,443.40 61.20,442.64 61.40,439.35 61.60,442.84 61.80,438.98 62.00,440.68 62.20,438.94 62.40,441.94 62.60,441.54 62.80,434.78 63.00,437.40 63.20,438.19 63.40,436.72 63.60,442.67 63.80,442.73 64.00,440.82 64.20,444.76 64.40,441.48 64.60,440.01 64.80,444.69 65.00,441.89 65.20,443.40 65.40,440.64 65.60,437.82 65.80,440.73 66.00,440.90 66.20,437.42 66.40,443.52 66.60,431.55 66.80,441.65 67.00,442.28 67.20,441.14 67.40,442.40 67.60,444.61 67.80,441.63 68.00,439.46 68.20,441.44 68.40,446.29 68.60,445.43 68.80,437.35 69.00,443.80 69.20,441.54 69.40,447.27 69.60,445.53 69.80,437.18 70.00,445.68 70.20,439.63 70.40,442.26 70.60,439.60 70.80,443.73 71.00,444.02 71.20,440.83 71.40,442.89 71.60,441.45 71.80,448.04 72.00,446.63 72.20,442.21 72.40,442.74 72.60,445.22 72.80,441.55 73.00,447.15 73.20,442.56 73.40,446.51 73.60,445.17 73.80,448.16 74.00,448.03 74.20,446.70 74.40,445.01 74.60,444.32 74.80,449.26 75.00,447.86 75.20,448.64 75.40,447.40 75.60,444.27 75.80,448.39 76.00,448.37 76.20,448.25 76.40,445.08 76.60,446.11 76.80,445.16 77.00,449.40 77.20,448.31 77.40,447.20 77.60,450.27 77.80,447.96 78.00,453.24 78.20,449.58 78.40,451.99 78.60,447.41 78.80,449.03 79.00,451.97 79.20,447.34 79.40,448.89 79.60,451.86 79.80,449.39 80.00,452.26 80.20,452.30 80.40,450.93 80.60,448.57 80.80,453.22 81.00,453.05 81.20,450.32 81.40,452.17 81.60,452.20 81.80,450.42 82.00,448.99 82.20,447.41 82.40,455.20 82.60,453.57 82.80,452.22 83.00,453.67 83.20,454.07 83.40,457.28 83.60,452.38 83.80,454.53 84.00,452.77 84.20,452.05 84.40,454.06 84.60,455.90 84.80,453.87 85.00,453.62 85.20,454.53 85.40,453.18 85.60,450.25 85.80,454.34 86.00,451.39 86.20,455.15 86.40,454.85 86.60,456.43 86.80,454.20 87.00,457.76 87.20,455.31 87.40,454.48 87.60,454.85 87.80,456.37 88.00,458.89 88.20,457.87 88.40,456.34 88.60,458.49 88.80,457.35 89.00,454.41 89.20,453.63 89.40,455.36 89.60,457.26 89.80,457.25 90.00,456.26 90.20,454.73 90.40,456.67 90.60,455.07 90.80,459.26 91.00,455.76 91.20,455.92 91.40,459.38 91.60,456.45 91.80,457.61 92.00,457.44 92.20,458.99 92.40,459.15 92.60,458.72 92.80,455.95 93.00,454.65 93.20,460.07 93.40,456.09 93.60,455.95 93.80,459.11 94.00,458.34 94.20,457.58 94.40,457.41 94.60,458.71 94.80,458.82 95.00,457.03 95.20,458.88 95.40,456.33 95.60,454.64 95.80,457.76 96.00,459.71 96.20,457.89 96.40,458.07 96.60,455.56 96.80,459.12 97.00,457.40 97.20,456.39 97.40,457.54 97.60,455.22 97.80,457.84 98.00,457.23 98.20,458.51 98.40,455.16 98.60,458.88 98.80,456.24 99.00,457.06 99.20,458.02 99.40,458.15 99.60,459.00 99.80,456.73 100.00,458.68 100.20,458.67 100.40,458.74 100.60,458.98 100.80,458.71 101.00,459.24 101.20,459.00 101.40,458.37 101.60,456.91 101.80,458.27 102.00,459.66 102.20,458.44 102.40,459.84 102.60,459.52 102.80,460.17 103.00,456.72 103.20,459.49 103.40,457.16 103.60,459.29 103.80,458.82 104.00,458.19 104.20,459.14 104.40,458.38 104.60,459.05 104.80,459.04 105.00,456.87 105.20,460.06 105.40,456.69 105.60,457.50 105.80,457.58 106.00,458.08 106.20,455.85 106.40,460.34 106.60,459.20 106.80,457.69 107.00,457.93 107.20,459.14 107.40,459.20 107.60,459.09 107.80,458.29 108.00,459.17 108.20,457.85 108.40,457.00 108.60,460.71 108.80,459.13 109.00,458.64 109.20,459.40 109.40,459.52 109.60,458.09 109.80,459.88 110.00,458.29 110.20,459.07 110.40,457.98 110.60,460.49 110.80,456.77 111.00,459.03 111.20,458.30 111.40,459.63 111.60,459.97 111.80,460.11 112.00,458.64 112.20,459.09 112.40,459.77 112.60,458.83 112.80,459.48 113.00,461.26 113.20,456.88 113.40,458.79 113.60,459.35 113.80,457.82 114.00,459.70 114.20,457.92 114.40,458.28 114.60,459.17 114.80,459.29 115.00,460.23 115.20,459.86 115.40,459.03 115.60,460.29 115.80,458.17 116.00,459.09 116.20,459.01 116.40,458.52 116.60,457.05 116.80,459.87 117.00,457.79 117.20,459.24 117.40,459.19 117.60,458.16 117.80,458.80 118.00,459.20 118.20,459.78 118.40,458.25 118.60,459.33 118.80,458.79 119.00,457.90 119.20,459.13 119.40,457.00 119.60,458.68 119.80,458.82 120.00,459.00 120.20,457.41 120.40,457.56 120.60,459.95 120.80,455.92 121.00,458.79 121.20,457.92 121.40,457.73 121.60,461.05 121.80,458.64 122.00,457.79 122.20,460.85 122.40,458.16 122.60,460.00 122.80,458.50 123.00,458.73 123.20,457.28 123.40,460.31 123.60,457.78 123.80,458.25 124.00,459.47 124.20,458.88 124.40,456.79 124.60,455.96 124.80,453.89 125.00,454.52 125.20,458.51 125.40,457.88 125.60,457.58 125.80,458.40 126.00,459.38 126.20,457.57 126.40,459.21 126.60,457.27 126.80,457.03 127.00,460.38 127.20,457.58 127.40,455.97 127.60,457.55 127.80,454.84 128.00,457.26 128.20,456.11 128.40,457.34 128.60,458.33 128.80,452.95 129.00,455.80 129.20,457.26 129.40,456.92 129.60,455.95 129.80,458.41 130.00,457.83 130.20,455.32 130.40,455.64 130.60,454.10 130.80,456.67 131.00,456.39 131.20,456.42 131.40,458.02 131.60,456.82 131.80,457.69 132.00,456.45 132.20,456.74 132.40,456.71 132.60,457.24 132.80,456.20 133.00,455.14 133.20,455.59 133.40,454.49 133.60,454.22 133.80,454.80 134.00,455.74 134.20,452.95 134.40,455.93 134.60,455.84 134.80,457.70 135.00,456.36 135.20,457.21 135.40,455.08 135.60,456.57 135.80,456.40 136.00,452.70 136.20,454.05 136.40,454.96 136.60,455.00 136.80,455.43 137.00,455.08 137.20,452.82 137.40,454.21 137.60,454.12 137.80,451.21 138.00,455.27 138.20,455.70 138.40,454.01 138.60,455.67 138.80,454.40 139.00,451.91 139.20,453.83 139.40,453.79 139.60,452.63 139.80,455.85 140.00,452.24 140.20,450.91 140.40,452.94 140.60,452.37 140.80,449.80 141.00,455.57 141.20,455.08 141.40,455.11 141.60,451.05 141.80,447.92 142.00,453.22 142.20,451.10 142.40,451.44 142.60,452.02 142.80,452.37 143.00,452.74 143.20,451.06 143.40,451.66 143.60,452.88 143.80,452.16 144.00,452.67 144.20,449.97 144.40,456.08 144.60,449.71 144.80,456.09 145.00,454.41 145.20,449.93 145.40,453.78 145.60,454.67 145.80,445.63 146.00,446.78 146.20,451.53 146.40,452.13 146.60,450.50 146.80,453.81 147.00,452.53 147.20,449.42 147.40,451.76 147.60,450.11 147.80,451.87 148.00,447.53 148.20,453.01 148.40,451.36 148.60,451.53 148.80,449.82 149.00,453.11 149.20,450.49 149.40,455.68 149.60,448.17 149.80,453.84 150.00,452.09 150.20,453.28 150.40,452.96 150.60,451.40 150.80,449.54 151.00,454.46 151.20,453.88 151.40,454.67 151.60,455.35 151.80,452.53 152.00,449.73 152.20,450.59 152.40,453.35 152.60,453.67 152.80,453.43 153.00,452.86 153.20,455.22 153.40,453.61 153.60,451.23 153.80,458.82 154.00,452.95 154.20,455.08 154.40,451.68 154.60,454.20 154.80,455.13 155.00,453.31 155.20,456.06 155.40,453.67 155.60,453.09 155.80,455.34 156.00,457.58 156.20,457.14 156.40,455.58 156.60,457.00 156.80,454.49 157.00,451.94 157.20,456.61 157.40,454.04 157.60,456.53 157.80,456.03 158.00,455.55 158.20,452.16 158.40,457.06 158.60,456.43 158.80,457.38 159.00,458.78 159.20,457.16 159.40,457.73 159.60,455.42 159.80,456.70 160.00,455.34 160.20,455.88 160.40,459.81 160.60,456.95 160.80,457.41 161.00,453.31 161.20,459.01 161.40,455.25 161.60,453.59 161.80,458.98 162.00,455.03 162.20,458.98 162.40,459.50 162.60,459.00 162.80,457.86 163.00,461.20 163.20,459.05 163.40,454.84 163.60,454.97 163.80,453.89 164.00,454.89 164.20,459.68 164.40,457.45 164.60,460.52 164.80,458.22 165.00,458.82 165.20,458.59 165.40,459.05 165.60,456.53 165.80,458.26 166.00,459.17 166.20,458.74 166.40,456.82 166.60,459.31 166.80,461.47 167.00,462.69 167.20,458.79 167.40,463.00 167.60,460.05 167.80,460.58 168.00,457.18 168.20,461.01 168.40,462.52 168.60,460.57 168.80,462.89 169.00,460.45 169.20,458.03 169.40,459.96 169.60,461.90 169.80,456.71 170.00,457.07 170.20,461.75 170.40,460.39 170.60,461.44 170.80,459.33 171.00,461.51 171.20,460.44 171.40,460.12 171.60,463.89 171.80,457.22 172.00,463.71 172.20,456.98 172.40,459.70 172.60,456.08 172.80,461.53 173.00,464.98 173.20,463.08 173.40,463.06 173.60,465.14 173.80,461.40 174.00,461.98 174.20,459.39 174.40,459.95" fill="none" stroke="#000" stroke-width="1.4" stroke-linejoin="miter"/>
<polyline points="52.00,450.24 52.20,450.45 52.40,449.56 52.60,450.35 52.80,448.72 53.00,447.62 53.20,450.28 53.40,446.95 53.60,448.96 53.80,449.17 54.00,446.70 54.20,449.45 54.40,445.95 54.60,445.43 54.80,445.68 55.00,447.13 55.20,446.46 55.40,442.79 55.60,446.45 55.80,446.55 56.00,443.41 56.20,444.28 56.40,446.56 56.60,445.32 56.80,444.85 57.00,447.37 57.20,443.62 57.40,444.05 57.60,441.77 57.80,444.79 58.00,446.31 58.20,443.81 58.40,443.62 58.60,442.44 58.80,443.77 59.00,443.14 59.20,444.45 59.40,442.26 59.60,441.56 59.80,440.91 60.00,443.02 60.20,441.11 60.40,442.98 60.60,442.60 60.80,443.23 61.00,444.15 61.20,440.52 61.40,443.05 61.60,442.12 61.80,440.51 62.00,439.67 62.20,439.45 62.40,441.01 62.60,443.27 62.80,442.60 63.00,445.33 63.20,436.90 63.40,445.46 63.60,442.26 63.80,441.33 64.00,441.95 64.20,439.95 64.40,438.65 64.60,439.60 64.80,444.14 65.00,441.50 65.20,442.52 65.40,437.08 65.60,442.32 65.80,440.92 66.00,438.85 66.20,444.06 66.40,441.34 66.60,440.57 66.80,442.98 67.00,441.16 67.20,443.50 67.40,440.45 67.60,443.08 67.80,442.05 68.00,442.02 68.20,442.70 68.40,443.07 68.60,443.34 68.80,442.45 69.00,439.12 69.20,443.59 69.40,445.24 69.60,441.98 69.80,443.01 70.00,437.86 70.20,444.32 70.40,445.24 70.60,443.81 70.80,446.57 71.00,443.73 71.20,445.05 71.40,440.24 71.60,446.12 71.80,445.98 72.00,443.01 72.20,444.31 72.40,445.22 72.60,446.83 72.80,445.75 73.00,445.87 73.20,444.27 73.40,445.17 73.60,444.96 73.80,448.12 74.00,444.86 74.20,440.31 74.40,446.91 74.60,445.62 74.80,448.87 75.00,448.83 75.20,442.29 75.40,444.73 75.60,448.11 75.80,450.42 76.00,445.35 76.20,444.01 76.40,446.16 76.60,446.46 76.80,445.58 77.00,449.24 77.20,447.66 77.40,451.30 77.60,449.43 77.80,450.42 78.00,451.76 78.20,446.82 78.40,446.45 78.60,450.17 78.80,448.82 79.00,450.40 79.20,449.31 79.40,450.22 79.60,451.32 79.80,450.95 80.00,449.39" fill="none" stroke="#000" stroke-width="1.0" stroke-linejoin="miter"/>
<polyline points="96.00,468.68 96.20,468.60 96.40,468.33 96.60,468.62 96.80,468.56 97.00,468.84 97.20,468.81 97.40,468.69 97.60,468.98 97.80,468.85 98.00,468.64 98.20,467.80 98.40,468.16 98.60,468.53 98.80,467.97 99.00,468.75 99.20,468.31 99.40,468.47 99.60,468.08 99.80,468.91 100.00,467.91 100.20,468.51 100.40,468.87 100.60,468.61 100.80,467.47 101.00,468.38 101.20,467.36 101.40,468.52 101.60,467.80 101.80,467.22 102.00,467.89 102.20,468.20 102.40,467.74 102.60,467.04 102.80,467.78 103.00,467.98 103.20,467.47 103.40,468.39 103.60,466.44 103.80,467.48 104.00,467.22 104.20,467.06 104.40,467.89 104.60,465.67 104.80,467.44 105.00,467.34 105.20,466.96 105.40,464.32 105.60,464.87 105.80,465.70 106.00,467.50 106.20,466.75 106.40,465.90 106.60,464.95 106.80,464.93 107.00,464.03 107.20,466.49 107.40,466.38 107.60,465.38 107.80,467.08 108.00,466.39 108.20,465.38 108.40,464.24 108.60,466.24 108.80,465.23 109.00,467.25 109.20,465.49 109.40,463.43 109.60,466.17 109.80,464.71 110.00,464.27 110.20,466.73 110.40,463.48 110.60,465.13 110.80,464.31 111.00,464.56 111.20,466.12 111.40,466.76 111.60,465.72 111.80,466.27 112.00,464.33 112.20,463.26 112.40,462.96 112.60,466.33 112.80,465.27 113.00,464.62 113.20,464.52 113.40,465.97 113.60,465.22 113.80,464.98 114.00,464.40 114.20,462.28 114.40,465.95 114.60,465.30 114.80,464.46 115.00,465.22 115.20,464.09 115.40,464.87 115.60,464.56 115.80,464.27 116.00,464.46 116.20,464.63 116.40,464.64 116.60,464.67 116.80,465.07 117.00,462.60 117.20,463.31 117.40,462.57 117.60,465.09 117.80,463.91 118.00,463.01 118.20,462.03 118.40,464.75 118.60,464.72 118.80,461.60 119.00,463.46 119.20,463.80 119.40,462.49 119.60,465.60 119.80,463.45 120.00,462.31 120.20,463.23 120.40,463.50 120.60,464.40 120.80,463.49 121.00,462.11 121.20,462.69 121.40,462.92 121.60,462.86 121.80,462.10 122.00,461.98 122.20,462.79 122.40,462.85 122.60,463.80 122.80,464.11 123.00,461.21 123.20,459.92 123.40,461.77 123.60,458.55 123.80,462.94 124.00,462.08 124.20,463.93 124.40,461.92 124.60,461.66 124.80,460.16 125.00,461.84 125.20,462.10 125.40,456.60 125.60,460.95 125.80,461.65 126.00,461.76 126.20,459.03 126.40,460.94 126.60,461.81 126.80,461.35 127.00,460.25 127.20,463.39 127.40,461.16 127.60,461.20 127.80,462.25 128.00,460.98 128.20,461.70 128.40,460.95 128.60,460.53 128.80,462.04 129.00,457.63 129.20,460.26 129.40,461.87 129.60,460.64 129.80,459.79 130.00,460.28 130.20,458.41 130.40,460.66 130.60,457.95 130.80,458.24 131.00,459.88 131.20,460.03 131.40,459.63 131.60,459.24 131.80,459.94 132.00,460.01 132.20,460.34 132.40,460.17 132.60,460.00 132.80,457.84 133.00,459.33 133.20,460.48 133.40,457.64 133.60,457.77 133.80,456.86 134.00,460.49 134.20,459.74 134.40,459.58 134.60,455.43 134.80,459.24 135.00,456.44 135.20,460.24 135.40,457.78 135.60,459.95 135.80,459.06 136.00,455.33 136.20,457.60 136.40,457.44 136.60,456.67 136.80,458.05 137.00,455.62 137.20,458.46 137.40,456.62 137.60,456.94 137.80,457.89 138.00,457.84 138.20,458.27 138.40,456.64 138.60,456.16 138.80,455.32 139.00,460.34 139.20,458.45 139.40,456.85 139.60,459.03 139.80,455.45 140.00,454.57 140.20,457.77 140.40,458.58 140.60,455.75 140.80,459.42 141.00,457.06 141.20,454.16 141.40,455.03 141.60,456.64 141.80,457.44 142.00,456.42 142.20,453.82 142.40,452.15 142.60,456.26 142.80,455.58 143.00,454.94 143.20,452.63 143.40,450.71 143.60,455.36 143.80,455.81 144.00,452.69 144.20,453.94 144.40,455.16 144.60,457.65 144.80,453.40 145.00,451.09 145.20,454.57 145.40,452.67 145.60,453.92 145.80,456.01 146.00,454.84 146.20,453.29 146.40,454.76 146.60,452.25 146.80,455.78 147.00,453.11 147.20,456.56 147.40,453.58 147.60,448.76 147.80,449.69 148.00,448.81 148.20,452.66 148.40,454.28 148.60,453.91 148.80,455.35 149.00,455.42 149.20,451.72 149.40,452.90 149.60,455.08 149.80,452.85 150.00,453.81 150.20,454.81 150.40,452.16 150.60,454.22 150.80,456.95 151.00,455.37 151.20,452.96 151.40,453.35 151.60,456.36 151.80,456.11 152.00,458.77 152.20,455.72 152.40,455.41 152.60,453.59 152.80,457.24 153.00,450.77 153.20,456.35 153.40,458.22 153.60,453.39 153.80,454.40 154.00,454.81 154.20,454.80 154.40,450.16 154.60,454.39 154.80,458.28 155.00,457.78 155.20,457.33 155.40,456.60 155.60,457.81 155.80,456.70 156.00,455.26 156.20,456.05 156.40,458.20 156.60,457.71 156.80,455.14 157.00,454.27 157.20,458.96 157.40,456.57 157.60,458.52 157.80,456.51 158.00,454.16 158.20,457.03 158.40,454.74 158.60,458.94 158.80,457.28 159.00,460.23 159.20,459.23 159.40,457.24 159.60,458.72 159.80,460.07 160.00,460.16 160.20,460.03 160.40,459.81 160.60,456.78 160.80,459.87 161.00,460.42 161.20,459.36 161.40,460.01 161.60,460.28 161.80,461.75 162.00,461.54 162.20,461.17 162.40,460.53 162.60,464.54 162.80,459.92 163.00,463.86 163.20,463.12 163.40,461.00 163.60,461.34 163.80,460.88 164.00,463.51 164.20,461.51 164.40,464.17 164.60,464.37 164.80,463.79 165.00,465.85 165.20,459.11 165.40,458.62 165.60,464.40 165.80,465.58 166.00,464.40 166.20,465.53 166.40,466.24 166.60,465.80 166.80,465.71 167.00,464.75 167.20,462.58 167.40,464.54 167.60,465.68 167.80,465.95 168.00,463.69 168.20,467.25 168.40,469.27 168.60,464.02 168.80,467.90 169.00,465.03 169.20,463.30 169.40,468.06 169.60,468.22 169.80,467.12 170.00,466.28 170.20,469.01 170.40,468.37 170.60,467.05 170.80,466.57 171.00,470.42 171.20,468.93 171.40,467.92 171.60,466.66 171.80,471.29 172.00,470.38 172.20,469.21 172.40,470.86 172.60,473.61 172.80,465.77 173.00,471.29 173.20,465.84 173.40,466.25 173.60,467.45 173.80,471.44 174.00,466.97 174.20,469.14 174.40,467.15" fill="none" stroke="#000" stroke-width="1.25" stroke-linejoin="miter"/>
<polyline points="114.00,478.21 114.20,478.22 114.40,478.14 114.60,478.28 114.80,478.11 115.00,478.43 115.20,477.96 115.40,477.93 115.60,477.81 115.80,478.24 116.00,477.76 116.20,478.36 116.40,477.82 116.60,478.28 116.80,478.57 117.00,477.73 117.20,476.59 117.40,478.23 117.60,478.21 117.80,477.94 118.00,477.94 118.20,478.30 118.40,476.81 118.60,477.75 118.80,478.44 119.00,477.22 119.20,477.50 119.40,477.40 119.60,477.90 119.80,476.01 120.00,476.92 120.20,477.63 120.40,477.79 120.60,475.95 120.80,477.21 121.00,476.70 121.20,477.07 121.40,477.68 121.60,475.02 121.80,475.66 122.00,476.18 122.20,474.03 122.40,474.31 122.60,476.00 122.80,476.62 123.00,476.21 123.20,475.43 123.40,475.94 123.60,476.23 123.80,476.08 124.00,473.78 124.20,473.53 124.40,476.21 124.60,473.05 124.80,476.10 125.00,475.81 125.20,474.18 125.40,475.17 125.60,475.58 125.80,474.39 126.00,473.64 126.20,475.35 126.40,475.20 126.60,475.60 126.80,472.86 127.00,474.73 127.20,474.32 127.40,475.19 127.60,473.65 127.80,472.29 128.00,474.28 128.20,470.95 128.40,472.00 128.60,473.31 128.80,474.70 129.00,470.86 129.20,472.41 129.40,472.35 129.60,469.45 129.80,473.27 130.00,471.65 130.20,472.07 130.40,472.69 130.60,470.09 130.80,470.00 131.00,473.60 131.20,471.87 131.40,473.04 131.60,473.32 131.80,472.02 132.00,469.67 132.20,473.44 132.40,470.77 132.60,470.02 132.80,471.45 133.00,471.89 133.20,471.37 133.40,469.87 133.60,471.58 133.80,468.92 134.00,470.72 134.20,469.64 134.40,468.14 134.60,470.71 134.80,470.34 135.00,468.57 135.20,468.35 135.40,469.53 135.60,470.45 135.80,470.86 136.00,468.01 136.20,469.66 136.40,469.97 136.60,466.28 136.80,468.20 137.00,465.14 137.20,467.82 137.40,468.70 137.60,468.07 137.80,468.65 138.00,467.45 138.20,464.75 138.40,466.92 138.60,468.69 138.80,464.07 139.00,469.28 139.20,466.16 139.40,465.92 139.60,464.03 139.80,467.69 140.00,458.75 140.20,466.12 140.40,467.20 140.60,465.28 140.80,465.30 141.00,467.39 141.20,461.82 141.40,465.50 141.60,462.40 141.80,464.08 142.00,465.61 142.20,462.09 142.40,464.06 142.60,461.01 142.80,462.98 143.00,463.80 143.20,463.53 143.40,461.89 143.60,462.10 143.80,462.53 144.00,461.32 144.20,460.40 144.40,464.65 144.60,461.79 144.80,459.19 145.00,465.42 145.20,461.93 145.40,459.65 145.60,460.76 145.80,459.38 146.00,461.88 146.20,461.70 146.40,455.71 146.60,456.78 146.80,459.42 147.00,456.89 147.20,458.50 147.40,458.49 147.60,460.42 147.80,460.40 148.00,459.60 148.20,455.53 148.40,457.24 148.60,456.23 148.80,457.78 149.00,457.61 149.20,456.83 149.40,458.40 149.60,457.46 149.80,455.11 150.00,457.68 150.20,456.83 150.40,456.99 150.60,457.30 150.80,455.79 151.00,457.77 151.20,454.89 151.40,460.10 151.60,457.96 151.80,458.14 152.00,454.29 152.20,457.10 152.40,454.08 152.60,454.58 152.80,457.82 153.00,459.47 153.20,457.61 153.40,458.07 153.60,454.89 153.80,451.43 154.00,460.28 154.20,453.89 154.40,455.58 154.60,457.39 154.80,452.26 155.00,453.27 155.20,457.72 155.40,454.91 155.60,457.08 155.80,459.13 156.00,458.25 156.20,458.02 156.40,458.89 156.60,453.69 156.80,457.39 157.00,462.26 157.20,460.79 157.40,458.44 157.60,454.82 157.80,458.38 158.00,460.38 158.20,457.03 158.40,462.68 158.60,457.67 158.80,459.31 159.00,460.00 159.20,461.30 159.40,460.18 159.60,465.20 159.80,456.93 160.00,462.26 160.20,462.29 160.40,457.91 160.60,460.43 160.80,459.07 161.00,459.13 161.20,462.40 161.40,464.42 161.60,460.40 161.80,463.39 162.00,462.08 162.20,458.65 162.40,461.88 162.60,462.79 162.80,467.19 163.00,463.94 163.20,463.00 163.40,464.73 163.60,465.81 163.80,464.41 164.00,465.50 164.20,457.91 164.40,462.42 164.60,462.31 164.80,464.67 165.00,465.19 165.20,466.05 165.40,465.29 165.60,465.90 165.80,464.80 166.00,467.08 166.20,465.52 166.40,462.28 166.60,468.03 166.80,465.68 167.00,468.54 167.20,466.73 167.40,466.34 167.60,466.12 167.80,463.00 168.00,468.78 168.20,471.32 168.40,466.46 168.60,468.54 168.80,467.44 169.00,465.15 169.20,465.47 169.40,470.11 169.60,470.03 169.80,467.05 170.00,470.53 170.20,467.65 170.40,467.38 170.60,467.81 170.80,471.82 171.00,470.65 171.20,468.53 171.40,471.80 171.60,471.37 171.80,469.33 172.00,465.41 172.20,467.66 172.40,467.97 172.60,471.41 172.80,471.35 173.00,472.31 173.20,468.92 173.40,469.47 173.60,475.55 173.80,472.99 174.00,474.93 174.20,472.44 174.40,472.09" fill="none" stroke="#000" stroke-width="1.25" stroke-linejoin="miter"/>
<polyline points="136.00,468.65 136.20,469.77 136.40,468.02 136.60,468.74 136.80,464.64 137.00,467.22 137.20,469.06 137.40,465.67 137.60,467.82 137.80,468.54 138.00,466.96 138.20,467.99 138.40,466.01 138.60,464.11 138.80,467.49 139.00,467.36 139.20,466.84 139.40,465.52 139.60,464.67 139.80,464.41 140.00,467.03 140.20,463.62 140.40,467.24 140.60,466.21 140.80,465.84 141.00,462.16 141.20,463.20 141.40,464.57 141.60,464.35 141.80,465.03 142.00,463.44 142.20,463.01 142.40,463.25 142.60,462.12 142.80,461.70 143.00,462.38 143.20,460.36 143.40,460.95 143.60,461.31 143.80,461.68 144.00,462.88 144.20,462.80 144.40,461.25 144.60,461.93 144.80,461.84 145.00,458.21 145.20,461.63 145.40,461.64 145.60,459.61 145.80,458.47 146.00,460.42 146.20,459.94 146.40,457.58 146.60,458.66 146.80,456.67 147.00,459.98 147.20,459.39 147.40,460.72 147.60,457.35 147.80,460.20 148.00,459.34 148.20,458.22 148.40,456.48 148.60,456.28 148.80,457.97 149.00,458.20 149.20,457.55 149.40,456.24 149.60,456.46 149.80,457.41 150.00,456.70 150.20,451.43 150.40,454.40 150.60,453.94 150.80,454.03 151.00,453.88 151.20,456.46 151.40,453.72 151.60,456.68 151.80,454.97 152.00,455.87 152.20,455.16 152.40,457.52 152.60,454.16 152.80,455.66 153.00,456.81 153.20,456.07 153.40,456.41 153.60,456.36 153.80,457.11 154.00,456.02 154.20,457.56 154.40,454.89 154.60,458.11 154.80,457.36 155.00,459.65 155.20,456.74 155.40,459.56 155.60,454.48 155.80,459.20 156.00,457.40 156.20,457.15 156.40,458.50 156.60,459.87 156.80,460.45 157.00,455.35 157.20,458.95 157.40,458.69 157.60,459.33 157.80,459.58 158.00,459.66 158.20,459.81 158.40,460.58 158.60,458.39 158.80,461.59 159.00,460.65 159.20,460.97 159.40,458.70 159.60,459.34 159.80,459.65 160.00,462.56 160.20,460.51 160.40,461.97 160.60,459.61 160.80,462.49 161.00,461.91 161.20,463.05 161.40,462.10 161.60,463.25 161.80,462.12 162.00,462.99 162.20,465.13 162.40,462.97 162.60,463.68 162.80,463.98 163.00,464.32 163.20,460.53 163.40,462.67 163.60,462.92 163.80,465.47 164.00,464.18 164.20,465.91 164.40,463.42 164.60,465.08 164.80,461.49 165.00,463.87 165.20,464.78 165.40,465.46 165.60,467.07 165.80,466.76 166.00,463.66 166.20,467.07 166.40,468.75 166.60,467.05 166.80,465.10 167.00,466.19 167.20,467.27 167.40,466.69 167.60,470.14 167.80,467.40 168.00,467.75 168.20,467.44 168.40,468.75 168.60,464.96 168.80,466.78 169.00,467.32 169.20,466.75 169.40,466.68 169.60,468.37 169.80,467.86 170.00,469.60 170.20,464.89 170.40,471.96 170.60,468.25 170.80,470.32 171.00,470.58 171.20,470.13 171.40,471.16 171.60,471.32 171.80,472.30 172.00,469.59 172.20,471.39 172.40,471.20 172.60,472.76 172.80,471.29 173.00,470.36 173.20,472.46 173.40,469.33 173.60,472.21 173.80,471.79 174.00,470.86 174.20,472.32 174.40,472.38" fill="none" stroke="#000" stroke-width="0.8" stroke-linejoin="miter"/>
<polyline points="130.00,459.50 130.20,459.56 130.40,460.37 130.60,461.16 130.80,460.25 131.00,460.46 131.20,460.20 131.40,460.15 131.60,459.72 131.80,459.78 132.00,457.03 132.20,458.93 132.40,460.09 132.60,460.69 132.80,460.34 133.00,459.08 133.20,459.58 133.40,460.35 133.60,459.17 133.80,458.49 134.00,457.37 134.20,457.27 134.40,458.13 134.60,460.01 134.80,459.48 135.00,457.95 135.20,460.15 135.40,459.25 135.60,456.26 135.80,457.28 136.00,459.00 136.20,459.89 136.40,458.70 136.60,458.49 136.80,457.86 137.00,457.52 137.20,457.26 137.40,457.83 137.60,457.51 137.80,457.97 138.00,457.58 138.20,458.92 138.40,457.70 138.60,458.64 138.80,457.43 139.00,456.63 139.20,456.40 139.40,455.51 139.60,459.30 139.80,458.57 140.00,457.48 140.20,456.60 140.40,457.09 140.60,457.30 140.80,457.85 141.00,455.06 141.20,455.31 141.40,454.88 141.60,455.85 141.80,456.98 142.00,452.85 142.20,455.79 142.40,451.36 142.60,454.50 142.80,455.70 143.00,454.26 143.20,454.74 143.40,458.19 143.60,456.28 143.80,456.39 144.00,453.24 144.20,453.73 144.40,454.16 144.60,451.14 144.80,454.85 145.00,456.47 145.20,453.82 145.40,454.69 145.60,451.23 145.80,455.40 146.00,455.15 146.20,452.26 146.40,454.50 146.60,453.53 146.80,454.30 147.00,453.25 147.20,455.60 147.40,453.11 147.60,453.14 147.80,452.38 148.00,453.63 148.20,452.08 148.40,454.04 148.60,451.67 148.80,454.28 149.00,453.55 149.20,453.88 149.40,452.01 149.60,453.84 149.80,453.63 150.00,453.25 150.20,455.22 150.40,454.55 150.60,454.29 150.80,455.33 151.00,452.77 151.20,455.45 151.40,454.65 151.60,454.16 151.80,454.95 152.00,456.16 152.20,451.65 152.40,456.83 152.60,454.58 152.80,451.71 153.00,455.21 153.20,451.52 153.40,453.72 153.60,451.89 153.80,449.47 154.00,452.92 154.20,454.12 154.40,456.71 154.60,455.36 154.80,453.20 155.00,456.64 155.20,456.20 155.40,456.45 155.60,453.55 155.80,453.56 156.00,457.23 156.20,457.55 156.40,457.63 156.60,457.14 156.80,458.80 157.00,457.67 157.20,458.08 157.40,458.77 157.60,458.74 157.80,458.20 158.00,456.74 158.20,457.41 158.40,458.56 158.60,457.03 158.80,458.76 159.00,459.07 159.20,457.99 159.40,460.13 159.60,458.45 159.80,457.07 160.00,459.19 160.20,461.03 160.40,458.17 160.60,456.33 160.80,460.67 161.00,458.73 161.20,460.51 161.40,457.26 161.60,460.15 161.80,459.20 162.00,458.87 162.20,461.07 162.40,460.48 162.60,459.77 162.80,463.43 163.00,462.18 163.20,462.60 163.40,463.73 163.60,461.37 163.80,462.37 164.00,463.92 164.20,464.85 164.40,463.52 164.60,461.55 164.80,462.09 165.00,464.05 165.20,465.15 165.40,464.73 165.60,462.73 165.80,464.24 166.00,465.08 166.20,463.93 166.40,465.12 166.60,465.35 166.80,466.07 167.00,464.54 167.20,466.10 167.40,465.66 167.60,466.83 167.80,464.35 168.00,464.85 168.20,464.52 168.40,466.69 168.60,465.73 168.80,463.42 169.00,468.26 169.20,467.02 169.40,468.24 169.60,467.47 169.80,467.61 170.00,467.42 170.20,468.80 170.40,468.19 170.60,468.70 170.80,467.24 171.00,465.81 171.20,467.57 171.40,466.93 171.60,467.40 171.80,468.08 172.00,470.03 172.20,469.29 172.40,468.74 172.60,470.56 172.80,467.11 173.00,471.50 173.20,470.69 173.40,469.34 173.60,468.79 173.80,468.06 174.00,470.13 174.20,470.29 174.40,470.98" fill="none" stroke="#000" stroke-width="0.8" stroke-linejoin="miter"/>
<text x="196.6" y="452.9" font-size="8.8" font-weight="bold" fill="#111" text-anchor="start" stroke="#111" stroke-width="0.194" >Unstained</text>
<text x="196.6" y="464.9" font-size="8.8" font-weight="bold" fill="#111" text-anchor="start" stroke="#111" stroke-width="0.194" >GD</text>
<text x="196.6" y="476.6" font-size="8.8" font-weight="bold" fill="#111" text-anchor="start" stroke="#111" stroke-width="0.194" >NL</text>
<text x="95.2" y="502.4" font-size="8.3" font-weight="bold" fill="#111" text-anchor="start" stroke="#111" stroke-width="0.183" >CFSE</text>
<text x="286.5" y="426.7" font-size="13.5" font-weight="bold" fill="#111" text-anchor="start" stroke="#111" stroke-width="0.297" >E</text>
<text x="313.5" y="453.7" font-size="8.6" font-weight="bold" fill="#111" text-anchor="start" stroke="#111" stroke-width="0.189" >APE-1</text>
<text x="313.4" y="472.6" font-size="8.9" font-weight="bold" fill="#111" text-anchor="start" stroke="#111" stroke-width="0.196" >β-tubulin</text>
<text x="415.1" y="455.8" font-size="8.6" font-weight="bold" fill="#111" text-anchor="start" stroke="#111" stroke-width="0.189" >34 kDa</text>
<text x="415.1" y="473.8" font-size="8.6" font-weight="bold" fill="#111" text-anchor="start" stroke="#111" stroke-width="0.189" >55 kDa</text>
<text x="361.6" y="495.0" font-size="8.6" font-weight="bold" fill="#111" text-anchor="start" stroke="#111" stroke-width="0.189" >NL</text>
<text x="387.7" y="495.0" font-size="8.6" font-weight="bold" fill="#111" text-anchor="start" stroke="#111" stroke-width="0.189" >GD</text>
<defs>
 <linearGradient id="blot1" x1="0" y1="0" x2="1" y2="0">
  <stop offset="0" stop-color="#8a8a8a"/><stop offset="0.12" stop-color="#a8a8a8"/>
  <stop offset="0.4" stop-color="#b4b4b4"/><stop offset="0.47" stop-color="#dadada"/>
  <stop offset="0.55" stop-color="#c0c0c0"/><stop offset="0.85" stop-color="#b0b0b0"/>
  <stop offset="1" stop-color="#909090"/>
 </linearGradient>
 <filter id="blur1" x="-30%" y="-60%" width="160%" height="220%"><feGaussianBlur stdDeviation="1.1"/></filter>
 <filter id="blur2" x="-30%" y="-60%" width="160%" height="220%"><feGaussianBlur stdDeviation="0.8"/></filter>
 <filter id="blur3" x="-30%" y="-60%" width="160%" height="220%"><feGaussianBlur stdDeviation="1.6"/></filter>
 <linearGradient id="blotV" x1="0" y1="0" x2="0" y2="1">
  <stop offset="0" stop-color="#fff" stop-opacity="0.25"/><stop offset="0.5" stop-color="#fff" stop-opacity="0"/>
  <stop offset="1" stop-color="#000" stop-opacity="0.08"/>
 </linearGradient>
</defs>
<rect x="354.7" y="442.7" width="56.7" height="14.5" fill="url(#blot1)"/>
<rect x="354.7" y="442.7" width="56.7" height="14.5" fill="url(#blotV)"/>
<g filter="url(#blur3)"><ellipse cx="368.5" cy="452.8" rx="9" ry="3.6" fill="#606060" opacity="0.6"/><ellipse cx="396" cy="453" rx="12" ry="3.6" fill="#606060" opacity="0.6"/></g>
<g filter="url(#blur1)"><ellipse cx="368.3" cy="450.4" rx="7.2" ry="1.7" fill="#181818"/><ellipse cx="396.2" cy="450.9" rx="10.5" ry="1.7" fill="#2c2c2c"/></g>
<rect x="354.7" y="442.7" width="56.7" height="14.5" fill="none" stroke="#111" stroke-width="1.25"/>
<rect x="354.7" y="463.1" width="56.7" height="15.6" fill="#f6f6f6"/>
<g filter="url(#blur2)"><path d="M359.6,467 C362,465.3 375,465.3 377.6,467 C377.8,472 374,476.6 368.6,476.6 C363,476.6 359.4,472 359.6,467 Z" fill="#7e7e7e"/><path d="M384.6,467 C388,465.3 405,465.3 408.6,467 C408.8,472 403,476.6 396.6,476.6 C390,476.6 384.4,472 384.6,467 Z" fill="#7e7e7e"/></g>
<rect x="354.7" y="463.1" width="56.7" height="15.6" fill="none" stroke="#111" stroke-width="1.25"/>
</svg></body></html>
